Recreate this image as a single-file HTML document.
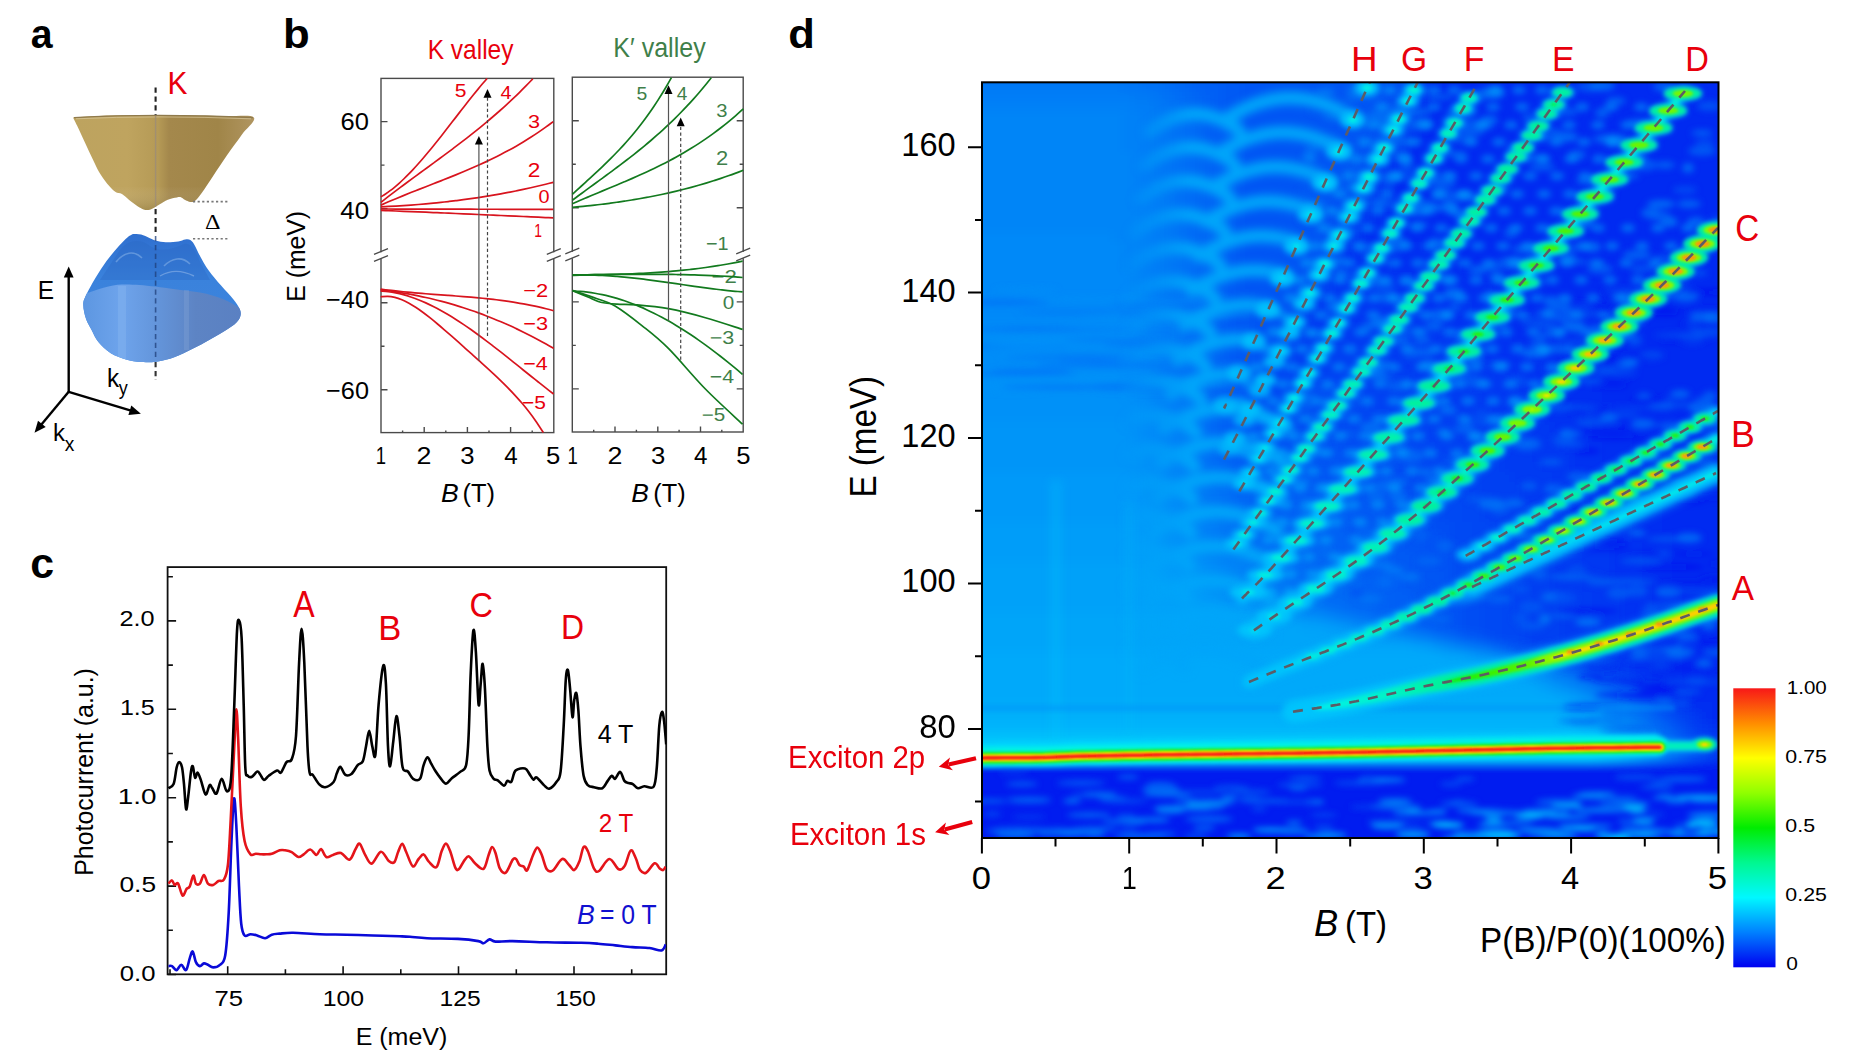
<!DOCTYPE html>
<html><head><meta charset="utf-8"><style>
html,body{margin:0;padding:0;background:#fff;}
svg{display:block;}
</style></head><body>
<svg width="1861" height="1052" viewBox="0 0 1861 1052">
<rect width="1861" height="1052" fill="#fff"/>
<text transform="translate(30.72,48.00) scale(0.9546,1)" font-family="'Liberation Sans', sans-serif" font-size="41.12" fill="#000" font-weight="bold" >a</text>
<text transform="translate(283.06,48.00) scale(1.0576,1)" font-family="'Liberation Sans', sans-serif" font-size="41.38" fill="#000" font-weight="bold" >b</text>
<text transform="translate(30.19,577.80) scale(1.0151,1)" font-family="'Liberation Sans', sans-serif" font-size="42.23" fill="#000" font-weight="bold" >c</text>
<text transform="translate(788.26,47.80) scale(1.0599,1)" font-family="'Liberation Sans', sans-serif" font-size="41.10" fill="#000" font-weight="bold" >d</text>
<text transform="translate(427.68,59.00) scale(0.9112,1)" font-family="'Liberation Sans', sans-serif" font-size="26.91" fill="#e8000c" >K valley</text>
<text transform="translate(613.33,56.60) scale(0.9259,1)" font-family="'Liberation Sans', sans-serif" font-size="27.05" fill="#3f7f4a" >K′ valley</text>
<text transform="translate(340.62,129.90) scale(1.0291,1)" font-family="'Liberation Sans', sans-serif" font-size="24.80" fill="#000" >60</text>
<text transform="translate(340.32,218.60) scale(1.0444,1)" font-family="'Liberation Sans', sans-serif" font-size="24.80" fill="#000" >40</text>
<text transform="translate(326.03,307.70) scale(1.0208,1)" font-family="'Liberation Sans', sans-serif" font-size="24.80" fill="#000" >−40</text>
<text transform="translate(326.03,398.70) scale(1.0208,1)" font-family="'Liberation Sans', sans-serif" font-size="24.80" fill="#000" >−60</text>
<text transform="translate(305.10,301.75) rotate(-90) scale(0.9576,1)" font-family="'Liberation Sans', sans-serif" font-size="25.89" fill="#000" >E (meV)</text>
<text transform="translate(375.71,463.80) scale(0.7772,1)" font-family="'Liberation Sans', sans-serif" font-size="23.80" fill="#000" >1</text>
<text transform="translate(416.56,463.80) scale(1.1266,1)" font-family="'Liberation Sans', sans-serif" font-size="23.80" fill="#000" >2</text>
<text transform="translate(460.24,463.80) scale(1.0792,1)" font-family="'Liberation Sans', sans-serif" font-size="23.80" fill="#000" >3</text>
<text transform="translate(504.16,463.80) scale(1.0151,1)" font-family="'Liberation Sans', sans-serif" font-size="23.80" fill="#000" >4</text>
<text transform="translate(546.07,463.80) scale(1.0792,1)" font-family="'Liberation Sans', sans-serif" font-size="23.80" fill="#000" >5</text>
<text transform="translate(567.61,463.80) scale(0.7772,1)" font-family="'Liberation Sans', sans-serif" font-size="23.80" fill="#000" >1</text>
<text transform="translate(607.56,463.80) scale(1.1266,1)" font-family="'Liberation Sans', sans-serif" font-size="23.80" fill="#000" >2</text>
<text transform="translate(650.94,463.80) scale(1.0792,1)" font-family="'Liberation Sans', sans-serif" font-size="23.80" fill="#000" >3</text>
<text transform="translate(694.06,463.80) scale(1.0151,1)" font-family="'Liberation Sans', sans-serif" font-size="23.80" fill="#000" >4</text>
<text transform="translate(736.37,463.80) scale(1.0792,1)" font-family="'Liberation Sans', sans-serif" font-size="23.80" fill="#000" >5</text>
<text transform="translate(441.10,502.20) scale(1.0143,1)" font-family="'Liberation Sans', sans-serif" font-size="26.18" fill="#000" font-style="italic" >B</text>
<text transform="translate(462.51,502.20) scale(0.9831,1)" font-family="'Liberation Sans', sans-serif" font-size="25.89" fill="#000" >(T)</text>
<text transform="translate(631.21,502.20) scale(1.0080,1)" font-family="'Liberation Sans', sans-serif" font-size="26.18" fill="#000" font-style="italic" >B</text>
<text transform="translate(653.31,502.20) scale(0.9798,1)" font-family="'Liberation Sans', sans-serif" font-size="25.89" fill="#000" >(T)</text>
<text transform="translate(454.86,96.70) scale(1.1383,1)" font-family="'Liberation Sans', sans-serif" font-size="18.49" fill="#e8000c" >5</text>
<text transform="translate(500.55,98.60) scale(1.0385,1)" font-family="'Liberation Sans', sans-serif" font-size="19.07" fill="#e8000c" >4</text>
<text transform="translate(528.09,127.90) scale(1.1287,1)" font-family="'Liberation Sans', sans-serif" font-size="19.21" fill="#e8000c" >3</text>
<text transform="translate(527.77,177.40) scale(1.1525,1)" font-family="'Liberation Sans', sans-serif" font-size="19.64" fill="#e8000c" >2</text>
<text transform="translate(538.40,203.40) scale(1.1013,1)" font-family="'Liberation Sans', sans-serif" font-size="18.06" fill="#e8000c" >0</text>
<text transform="translate(534.16,236.60) scale(0.7221,1)" font-family="'Liberation Sans', sans-serif" font-size="19.21" fill="#e8000c" >1</text>
<text transform="translate(523.20,296.70) scale(1.1497,1)" font-family="'Liberation Sans', sans-serif" font-size="19.07" fill="#e8000c" >−2</text>
<text transform="translate(523.21,329.60) scale(1.1678,1)" font-family="'Liberation Sans', sans-serif" font-size="18.64" fill="#e8000c" >−3</text>
<text transform="translate(523.23,369.50) scale(1.1426,1)" font-family="'Liberation Sans', sans-serif" font-size="18.78" fill="#e8000c" >−4</text>
<text transform="translate(521.95,408.60) scale(1.1242,1)" font-family="'Liberation Sans', sans-serif" font-size="18.64" fill="#e8000c" >−5</text>
<text transform="translate(636.43,99.70) scale(1.0313,1)" font-family="'Liberation Sans', sans-serif" font-size="18.78" fill="#3f7f4a" >5</text>
<text transform="translate(676.67,99.70) scale(1.0122,1)" font-family="'Liberation Sans', sans-serif" font-size="18.78" fill="#3f7f4a" >4</text>
<text transform="translate(716.24,116.80) scale(1.1013,1)" font-family="'Liberation Sans', sans-serif" font-size="18.35" fill="#3f7f4a" >3</text>
<text transform="translate(715.90,165.30) scale(1.1272,1)" font-family="'Liberation Sans', sans-serif" font-size="19.50" fill="#3f7f4a" >2</text>
<text transform="translate(706.01,250.40) scale(1.0492,1)" font-family="'Liberation Sans', sans-serif" font-size="18.92" fill="#3f7f4a" >−1</text>
<text transform="translate(711.49,283.40) scale(1.1737,1)" font-family="'Liberation Sans', sans-serif" font-size="18.92" fill="#3f7f4a" >−2</text>
<text transform="translate(722.67,308.70) scale(1.1387,1)" font-family="'Liberation Sans', sans-serif" font-size="18.21" fill="#3f7f4a" >0</text>
<text transform="translate(709.72,344.20) scale(1.1943,1)" font-family="'Liberation Sans', sans-serif" font-size="18.06" fill="#3f7f4a" >−3</text>
<text transform="translate(709.74,382.70) scale(1.1682,1)" font-family="'Liberation Sans', sans-serif" font-size="18.21" fill="#3f7f4a" >−4</text>
<text transform="translate(701.67,420.80) scale(1.1440,1)" font-family="'Liberation Sans', sans-serif" font-size="18.06" fill="#3f7f4a" >−5</text>
<rect x="381.0" y="78.4" width="172.80" height="354.20" fill="none" stroke="#4a4a4a" stroke-width="1.4"/>
<rect x="572.3" y="77.2" width="170.90" height="354.80" fill="none" stroke="#4a4a4a" stroke-width="1.4"/>
<path d="M381.0 121.6h6.5 M572.3 120.8h6.5 M743.2 120.8h-6.5 M381.0 165.1h3.5 M572.3 164.3h3.5 M743.2 164.3h-3.5 M381.0 208.6h6.5 M572.3 207.8h6.5 M743.2 207.8h-6.5 M381.0 302.7h6.5 M572.3 301.9h6.5 M743.2 301.9h-6.5 M381.0 346.2h3.5 M572.3 345.4h3.5 M743.2 345.4h-3.5 M381.0 389.7h6.5 M572.3 388.9h6.5 M743.2 388.9h-6.5 M402.6 432.6v-2.2 M593.7 432.0v-2.2 M424.2 432.6v-5.6 M615.0 432.0v-5.6 M445.8 432.6v-2.2 M636.4 432.0v-2.2 M467.4 432.6v-5.6 M657.8 432.0v-5.6 M489.0 432.6v-2.2 M679.1 432.0v-2.2 M510.6 432.6v-5.6 M700.5 432.0v-5.6 M532.2 432.6v-2.2 M721.8 432.0v-2.2" stroke="#4a4a4a" stroke-width="1.4" fill="none" />
<rect x="379.0" y="252.3" width="4" height="6.4" fill="#fff"/>
<path d="M374.0 254.3 L388.0 248.7 M374.0 261.3 L388.0 255.7" stroke="#4a4a4a" stroke-width="1.3" fill="none" />
<rect x="551.8" y="252.3" width="4" height="6.4" fill="#fff"/>
<path d="M546.8 254.3 L560.8 248.7 M546.8 261.3 L560.8 255.7" stroke="#4a4a4a" stroke-width="1.3" fill="none" />
<rect x="570.3" y="251.8" width="4" height="6.4" fill="#fff"/>
<path d="M565.3 253.8 L579.3 248.2 M565.3 260.8 L579.3 255.2" stroke="#4a4a4a" stroke-width="1.3" fill="none" />
<rect x="741.2" y="251.8" width="4" height="6.4" fill="#fff"/>
<path d="M736.2 253.8 L750.2 248.2 M736.2 260.8 L750.2 255.2" stroke="#4a4a4a" stroke-width="1.3" fill="none" />
<path d="M380.90 196.86 C381.67 196.38 383.98 195.00 385.52 193.97 C387.06 192.94 388.60 191.84 390.13 190.68 C391.67 189.53 393.21 188.31 394.75 187.04 C396.29 185.77 397.83 184.43 399.37 183.05 C400.91 181.68 402.45 180.24 403.99 178.76 C405.53 177.28 407.07 175.76 408.60 174.19 C410.14 172.62 411.68 171.00 413.22 169.35 C414.76 167.71 416.30 166.01 417.84 164.29 C419.38 162.57 420.92 160.81 422.46 159.02 C424.00 157.24 425.53 155.42 427.07 153.57 C428.61 151.73 430.15 149.86 431.69 147.97 C433.23 146.09 434.77 144.17 436.31 142.25 C437.85 140.32 439.39 138.38 440.93 136.42 C442.47 134.47 444.00 132.50 445.54 130.52 C447.08 128.55 448.62 126.56 450.16 124.57 C451.70 122.59 453.24 120.59 454.78 118.61 C456.32 116.62 457.86 114.63 459.40 112.64 C460.93 110.66 462.47 108.68 464.01 106.71 C465.55 104.74 467.09 102.78 468.63 100.84 C470.17 98.89 471.71 96.96 473.25 95.04 C474.79 93.13 476.33 91.23 477.87 89.36 C479.40 87.49 480.94 85.64 482.48 83.82 C484.02 82.00 486.33 79.33 487.10 78.44" stroke="#d8141e" stroke-width="1.7" fill="none" />
<path d="M380.90 202.31 C382.00 201.45 385.30 198.87 387.50 197.17 C389.71 195.48 391.91 193.80 394.11 192.13 C396.31 190.46 398.51 188.81 400.71 187.16 C402.91 185.52 405.12 183.88 407.32 182.26 C409.52 180.63 411.72 179.01 413.92 177.39 C416.12 175.77 418.32 174.16 420.53 172.55 C422.73 170.94 424.93 169.33 427.13 167.72 C429.33 166.11 431.53 164.50 433.73 162.89 C435.94 161.27 438.14 159.65 440.34 158.03 C442.54 156.40 444.74 154.78 446.94 153.14 C449.14 151.50 451.35 149.85 453.55 148.19 C455.75 146.53 457.95 144.86 460.15 143.17 C462.35 141.49 464.56 139.79 466.76 138.07 C468.96 136.36 471.16 134.63 473.36 132.87 C475.56 131.12 477.76 129.35 479.97 127.55 C482.17 125.76 484.37 123.94 486.57 122.10 C488.77 120.26 490.97 118.40 493.17 116.50 C495.38 114.61 497.58 112.69 499.78 110.74 C501.98 108.79 504.18 106.81 506.38 104.79 C508.58 102.78 510.79 100.73 512.99 98.65 C515.19 96.57 517.39 94.45 519.59 92.29 C521.79 90.14 523.99 87.94 526.20 85.71 C528.40 83.47 531.70 80.02 532.80 78.88" stroke="#d8141e" stroke-width="1.7" fill="none" />
<path d="M380.90 205.11 C382.15 204.56 385.89 202.91 388.39 201.83 C390.89 200.76 393.39 199.70 395.88 198.66 C398.38 197.62 400.88 196.60 403.37 195.59 C405.87 194.57 408.37 193.57 410.87 192.58 C413.36 191.59 415.86 190.60 418.36 189.62 C420.85 188.64 423.35 187.67 425.85 186.69 C428.34 185.72 430.84 184.75 433.34 183.77 C435.84 182.80 438.33 181.82 440.83 180.84 C443.33 179.86 445.82 178.88 448.32 177.88 C450.82 176.88 453.32 175.88 455.81 174.86 C458.31 173.85 460.81 172.82 463.30 171.77 C465.80 170.73 468.30 169.67 470.80 168.59 C473.29 167.51 475.79 166.42 478.29 165.30 C480.78 164.18 483.28 163.04 485.78 161.87 C488.28 160.70 490.77 159.51 493.27 158.28 C495.77 157.06 498.26 155.81 500.76 154.53 C503.26 153.24 505.76 151.93 508.25 150.57 C510.75 149.22 513.25 147.83 515.74 146.40 C518.24 144.97 520.74 143.51 523.23 142.00 C525.73 140.49 528.23 138.93 530.73 137.33 C533.22 135.73 535.72 134.09 538.22 132.40 C540.71 130.70 543.21 128.96 545.71 127.16 C548.21 125.36 551.95 122.53 553.20 121.61" stroke="#d8141e" stroke-width="1.7" fill="none" />
<path d="M380.90 206.81 C382.15 206.75 385.89 206.58 388.39 206.45 C390.89 206.32 393.39 206.18 395.88 206.04 C398.38 205.89 400.88 205.74 403.37 205.58 C405.87 205.41 408.37 205.24 410.87 205.06 C413.36 204.87 415.86 204.68 418.36 204.48 C420.85 204.28 423.35 204.06 425.85 203.84 C428.34 203.62 430.84 203.39 433.34 203.14 C435.84 202.90 438.33 202.65 440.83 202.38 C443.33 202.12 445.82 201.84 448.32 201.56 C450.82 201.27 453.32 200.97 455.81 200.67 C458.31 200.36 460.81 200.04 463.30 199.71 C465.80 199.38 468.30 199.03 470.80 198.68 C473.29 198.32 475.79 197.96 478.29 197.58 C480.78 197.20 483.28 196.81 485.78 196.41 C488.28 196.00 490.77 195.59 493.27 195.16 C495.77 194.73 498.26 194.29 500.76 193.84 C503.26 193.39 505.76 192.92 508.25 192.44 C510.75 191.96 513.25 191.47 515.74 190.96 C518.24 190.45 520.74 189.93 523.23 189.40 C525.73 188.87 528.23 188.32 530.73 187.76 C533.22 187.19 535.72 186.62 538.22 186.03 C540.71 185.44 543.21 184.83 545.71 184.22 C548.21 183.60 551.95 182.63 553.20 182.31" stroke="#d8141e" stroke-width="1.7" fill="none" />
<path d="M380.90 209.00 C382.15 209.00 385.89 209.01 388.39 209.02 C390.89 209.02 393.39 209.03 395.88 209.03 C398.38 209.04 400.88 209.05 403.37 209.05 C405.87 209.06 408.37 209.06 410.87 209.07 C413.36 209.08 415.86 209.08 418.36 209.09 C420.85 209.09 423.35 209.10 425.85 209.10 C428.34 209.11 430.84 209.12 433.34 209.12 C435.84 209.13 438.33 209.13 440.83 209.14 C443.33 209.14 445.82 209.15 448.32 209.16 C450.82 209.16 453.32 209.17 455.81 209.17 C458.31 209.18 460.81 209.19 463.30 209.19 C465.80 209.20 468.30 209.20 470.80 209.21 C473.29 209.21 475.79 209.22 478.29 209.23 C480.78 209.23 483.28 209.24 485.78 209.24 C488.28 209.25 490.77 209.26 493.27 209.26 C495.77 209.27 498.26 209.27 500.76 209.28 C503.26 209.28 505.76 209.29 508.25 209.30 C510.75 209.30 513.25 209.31 515.74 209.31 C518.24 209.32 520.74 209.32 523.23 209.33 C525.73 209.34 528.23 209.34 530.73 209.35 C533.22 209.35 535.72 209.36 538.22 209.37 C540.71 209.37 543.21 209.38 545.71 209.38 C548.21 209.39 551.95 209.40 553.20 209.40" stroke="#d8141e" stroke-width="1.7" fill="none" />
<path d="M380.90 210.40 C382.15 210.45 385.89 210.59 388.39 210.69 C390.89 210.79 393.39 210.89 395.88 210.99 C398.38 211.09 400.88 211.19 403.37 211.29 C405.87 211.39 408.37 211.49 410.87 211.59 C413.36 211.69 415.86 211.80 418.36 211.90 C420.85 212.00 423.35 212.11 425.85 212.21 C428.34 212.31 430.84 212.42 433.34 212.53 C435.84 212.63 438.33 212.74 440.83 212.84 C443.33 212.95 445.82 213.06 448.32 213.17 C450.82 213.27 453.32 213.38 455.81 213.49 C458.31 213.60 460.81 213.71 463.30 213.82 C465.80 213.93 468.30 214.04 470.80 214.15 C473.29 214.26 475.79 214.37 478.29 214.48 C480.78 214.59 483.28 214.70 485.78 214.82 C488.28 214.93 490.77 215.04 493.27 215.15 C495.77 215.27 498.26 215.38 500.76 215.49 C503.26 215.60 505.76 215.72 508.25 215.83 C510.75 215.95 513.25 216.06 515.74 216.17 C518.24 216.29 520.74 216.40 523.23 216.52 C525.73 216.63 528.23 216.75 530.73 216.86 C533.22 216.98 535.72 217.09 538.22 217.21 C540.71 217.32 543.21 217.44 545.71 217.55 C548.21 217.67 551.95 217.84 553.20 217.90" stroke="#d8141e" stroke-width="1.7" fill="none" />
<path d="M380.70 289.10 C381.95 289.26 385.71 289.77 388.22 290.08 C390.72 290.39 393.23 290.68 395.73 290.96 C398.24 291.24 400.75 291.50 403.25 291.75 C405.76 292.00 408.26 292.24 410.77 292.47 C413.28 292.69 415.78 292.91 418.29 293.12 C420.79 293.33 423.30 293.53 425.80 293.73 C428.31 293.92 430.82 294.11 433.32 294.30 C435.83 294.49 438.33 294.67 440.84 294.86 C443.34 295.04 445.85 295.23 448.36 295.41 C450.86 295.60 453.37 295.78 455.87 295.98 C458.38 296.17 460.89 296.36 463.39 296.56 C465.90 296.77 468.40 296.97 470.91 297.19 C473.41 297.41 475.92 297.63 478.43 297.87 C480.93 298.11 483.44 298.35 485.94 298.61 C488.45 298.88 490.96 299.15 493.46 299.44 C495.97 299.73 498.47 300.04 500.98 300.37 C503.48 300.69 505.99 301.03 508.50 301.40 C511.00 301.76 513.51 302.15 516.01 302.55 C518.52 302.96 521.02 303.39 523.53 303.85 C526.04 304.31 528.54 304.79 531.05 305.30 C533.55 305.81 536.06 306.34 538.57 306.91 C541.07 307.48 543.58 308.07 546.08 308.71 C548.59 309.34 552.35 310.36 553.60 310.70" stroke="#d8141e" stroke-width="1.7" fill="none" />
<path d="M380.70 289.81 C381.95 289.97 385.71 290.42 388.22 290.76 C390.72 291.09 393.23 291.45 395.73 291.83 C398.24 292.21 400.75 292.61 403.25 293.04 C405.76 293.46 408.26 293.91 410.77 294.38 C413.28 294.85 415.78 295.34 418.29 295.86 C420.79 296.38 423.30 296.91 425.80 297.48 C428.31 298.04 430.82 298.63 433.32 299.24 C435.83 299.85 438.33 300.48 440.84 301.14 C443.34 301.80 445.85 302.48 448.36 303.19 C450.86 303.90 453.37 304.63 455.87 305.38 C458.38 306.14 460.89 306.92 463.39 307.73 C465.90 308.54 468.40 309.37 470.91 310.23 C473.41 311.09 475.92 311.97 478.43 312.88 C480.93 313.80 483.44 314.73 485.94 315.70 C488.45 316.66 490.96 317.65 493.46 318.67 C495.97 319.68 498.47 320.73 500.98 321.80 C503.48 322.87 505.99 323.97 508.50 325.09 C511.00 326.22 513.51 327.37 516.01 328.55 C518.52 329.74 521.02 330.95 523.53 332.18 C526.04 333.42 528.54 334.69 531.05 335.98 C533.55 337.28 536.06 338.60 538.57 339.96 C541.07 341.31 543.58 342.69 546.08 344.10 C548.59 345.51 552.35 347.71 553.60 348.43" stroke="#d8141e" stroke-width="1.7" fill="none" />
<path d="M380.70 291.09 C381.95 291.19 385.71 291.42 388.22 291.72 C390.72 292.03 393.23 292.44 395.73 292.94 C398.24 293.43 400.75 294.02 403.25 294.69 C405.76 295.36 408.26 296.12 410.77 296.96 C413.28 297.79 415.78 298.71 418.29 299.70 C420.79 300.69 423.30 301.76 425.80 302.89 C428.31 304.02 430.82 305.23 433.32 306.49 C435.83 307.75 438.33 309.09 440.84 310.47 C443.34 311.86 445.85 313.31 448.36 314.81 C450.86 316.30 453.37 317.86 455.87 319.46 C458.38 321.05 460.89 322.70 463.39 324.39 C465.90 326.08 468.40 327.81 470.91 329.57 C473.41 331.34 475.92 333.15 478.43 334.98 C480.93 336.81 483.44 338.68 485.94 340.57 C488.45 342.46 490.96 344.39 493.46 346.32 C495.97 348.26 498.47 350.22 500.98 352.19 C503.48 354.17 505.99 356.16 508.50 358.16 C511.00 360.15 513.51 362.17 516.01 364.18 C518.52 366.19 521.02 368.21 523.53 370.22 C526.04 372.24 528.54 374.26 531.05 376.27 C533.55 378.27 536.06 380.28 538.57 382.27 C541.07 384.26 543.58 386.24 546.08 388.20 C548.59 390.16 552.35 393.06 553.60 394.03" stroke="#d8141e" stroke-width="1.7" fill="none" />
<path d="M380.70 296.73 C381.88 296.66 385.41 296.18 387.77 296.29 C390.13 296.40 392.48 296.82 394.84 297.40 C397.20 297.98 399.55 298.82 401.91 299.80 C404.27 300.77 406.62 301.96 408.98 303.25 C411.33 304.54 413.69 306.00 416.05 307.54 C418.40 309.08 420.76 310.76 423.12 312.49 C425.47 314.22 427.83 316.06 430.19 317.93 C432.54 319.81 434.90 321.76 437.26 323.73 C439.61 325.70 441.97 327.73 444.33 329.77 C446.68 331.81 449.04 333.88 451.40 335.96 C453.75 338.03 456.11 340.13 458.47 342.23 C460.82 344.32 463.18 346.43 465.53 348.54 C467.89 350.64 470.25 352.75 472.60 354.87 C474.96 356.98 477.32 359.10 479.67 361.23 C482.03 363.36 484.39 365.48 486.74 367.64 C489.10 369.80 491.46 371.96 493.81 374.17 C496.17 376.37 498.53 378.60 500.88 380.88 C503.24 383.17 505.60 385.48 507.95 387.89 C510.31 390.29 512.67 392.74 515.02 395.31 C517.38 397.88 519.73 400.51 522.09 403.30 C524.45 406.09 526.80 408.96 529.16 412.03 C531.52 415.10 533.87 418.28 536.23 421.70 C538.59 425.11 542.12 430.72 543.30 432.53" stroke="#d8141e" stroke-width="1.7" fill="none" />
<path d="M572.30 194.49 C573.02 193.82 575.17 191.81 576.61 190.48 C578.04 189.15 579.48 187.82 580.92 186.50 C582.35 185.18 583.79 183.86 585.23 182.54 C586.66 181.22 588.10 179.91 589.53 178.59 C590.97 177.26 592.41 175.94 593.84 174.61 C595.28 173.28 596.72 171.94 598.15 170.59 C599.59 169.24 601.02 167.89 602.46 166.52 C603.90 165.15 605.33 163.76 606.77 162.36 C608.21 160.96 609.64 159.55 611.08 158.11 C612.51 156.68 613.95 155.23 615.39 153.75 C616.82 152.27 618.26 150.77 619.70 149.25 C621.13 147.72 622.57 146.17 624.00 144.59 C625.44 143.01 626.88 141.40 628.31 139.76 C629.75 138.12 631.19 136.44 632.62 134.73 C634.06 133.02 635.49 131.28 636.93 129.49 C638.37 127.71 639.80 125.89 641.24 124.02 C642.68 122.16 644.11 120.25 645.55 118.30 C646.98 116.35 648.42 114.35 649.86 112.30 C651.29 110.26 652.73 108.17 654.17 106.02 C655.60 103.87 657.04 101.68 658.47 99.42 C659.91 97.17 661.35 94.86 662.78 92.50 C664.22 90.13 665.66 87.71 667.09 85.22 C668.53 82.74 670.68 78.85 671.40 77.58" stroke="#127a1e" stroke-width="1.7" fill="none" />
<path d="M572.30 200.28 C573.31 199.53 576.33 197.28 578.34 195.79 C580.36 194.30 582.37 192.82 584.39 191.34 C586.40 189.86 588.42 188.39 590.43 186.92 C592.44 185.45 594.46 183.99 596.47 182.52 C598.49 181.05 600.50 179.58 602.52 178.10 C604.53 176.63 606.55 175.15 608.56 173.67 C610.58 172.18 612.59 170.69 614.60 169.19 C616.62 167.68 618.63 166.17 620.65 164.65 C622.66 163.12 624.68 161.59 626.69 160.04 C628.71 158.48 630.72 156.92 632.73 155.33 C634.75 153.74 636.76 152.14 638.78 150.51 C640.79 148.89 642.81 147.24 644.82 145.57 C646.84 143.90 648.85 142.20 650.87 140.48 C652.88 138.75 654.89 137.01 656.91 135.23 C658.92 133.44 660.94 131.64 662.95 129.79 C664.97 127.95 666.98 126.07 669.00 124.16 C671.01 122.25 673.02 120.30 675.04 118.31 C677.05 116.33 679.07 114.30 681.08 112.24 C683.10 110.17 685.11 108.06 687.13 105.91 C689.14 103.75 691.16 101.56 693.17 99.31 C695.18 97.07 697.20 94.78 699.21 92.43 C701.23 90.09 703.24 87.70 705.26 85.25 C707.27 82.80 710.29 79.00 711.30 77.75" stroke="#127a1e" stroke-width="1.7" fill="none" />
<path d="M572.30 203.77 C573.54 203.23 577.25 201.60 579.73 200.53 C582.21 199.46 584.68 198.40 587.16 197.35 C589.64 196.31 592.11 195.27 594.59 194.23 C597.07 193.20 599.54 192.17 602.02 191.14 C604.50 190.11 606.98 189.08 609.45 188.05 C611.93 187.02 614.41 185.99 616.88 184.95 C619.36 183.91 621.84 182.86 624.31 181.81 C626.79 180.75 629.27 179.69 631.74 178.61 C634.22 177.53 636.70 176.44 639.17 175.33 C641.65 174.22 644.13 173.10 646.60 171.95 C649.08 170.80 651.56 169.64 654.03 168.44 C656.51 167.25 658.99 166.04 661.47 164.79 C663.94 163.55 666.42 162.28 668.90 160.98 C671.37 159.67 673.85 158.34 676.33 156.97 C678.80 155.60 681.28 154.20 683.76 152.76 C686.23 151.31 688.71 149.83 691.19 148.31 C693.66 146.78 696.14 145.22 698.62 143.61 C701.09 141.99 703.57 140.34 706.05 138.63 C708.52 136.92 711.00 135.17 713.48 133.36 C715.96 131.54 718.43 129.68 720.91 127.76 C723.39 125.84 725.86 123.87 728.34 121.83 C730.82 119.79 733.29 117.70 735.77 115.53 C738.25 113.37 741.96 109.97 743.20 108.85" stroke="#127a1e" stroke-width="1.7" fill="none" />
<path d="M572.30 207.40 C573.54 207.28 577.25 206.94 579.73 206.69 C582.21 206.45 584.68 206.19 587.16 205.93 C589.64 205.67 592.11 205.40 594.59 205.11 C597.07 204.83 599.54 204.54 602.02 204.23 C604.50 203.93 606.98 203.61 609.45 203.29 C611.93 202.96 614.41 202.62 616.88 202.27 C619.36 201.92 621.84 201.56 624.31 201.18 C626.79 200.80 629.27 200.41 631.74 200.01 C634.22 199.61 636.70 199.19 639.17 198.76 C641.65 198.32 644.13 197.88 646.60 197.42 C649.08 196.96 651.56 196.48 654.03 195.99 C656.51 195.50 658.99 194.99 661.47 194.46 C663.94 193.94 666.42 193.40 668.90 192.84 C671.37 192.28 673.85 191.71 676.33 191.12 C678.80 190.52 681.28 189.91 683.76 189.28 C686.23 188.65 688.71 188.01 691.19 187.34 C693.66 186.67 696.14 185.99 698.62 185.28 C701.09 184.58 703.57 183.85 706.05 183.11 C708.52 182.36 711.00 181.59 713.48 180.81 C715.96 180.02 718.43 179.21 720.91 178.38 C723.39 177.55 725.86 176.70 728.34 175.82 C730.82 174.95 733.29 174.05 735.77 173.13 C738.25 172.21 741.96 170.77 743.20 170.30" stroke="#127a1e" stroke-width="1.7" fill="none" />
<path d="M572.70 274.85 C573.93 274.85 577.62 274.84 580.09 274.82 C582.55 274.81 585.01 274.79 587.47 274.77 C589.94 274.74 592.40 274.72 594.86 274.68 C597.32 274.65 599.79 274.62 602.25 274.57 C604.71 274.53 607.17 274.49 609.63 274.43 C612.10 274.38 614.56 274.32 617.02 274.25 C619.48 274.18 621.95 274.11 624.41 274.02 C626.87 273.94 629.33 273.85 631.80 273.75 C634.26 273.65 636.72 273.55 639.18 273.43 C641.64 273.31 644.11 273.19 646.57 273.05 C649.03 272.91 651.49 272.77 653.96 272.61 C656.42 272.46 658.88 272.29 661.34 272.11 C663.81 271.93 666.27 271.74 668.73 271.54 C671.19 271.34 673.66 271.12 676.12 270.89 C678.58 270.67 681.04 270.43 683.50 270.17 C685.97 269.92 688.43 269.65 690.89 269.37 C693.35 269.09 695.82 268.79 698.28 268.48 C700.74 268.17 703.20 267.85 705.67 267.50 C708.13 267.16 710.59 266.80 713.05 266.43 C715.51 266.06 717.98 265.67 720.44 265.26 C722.90 264.85 725.36 264.43 727.83 263.98 C730.29 263.54 732.75 263.08 735.21 262.60 C737.68 262.12 741.37 261.36 742.60 261.11" stroke="#127a1e" stroke-width="1.7" fill="none" />
<path d="M572.70 274.94 C573.93 274.93 577.62 274.89 580.09 274.87 C582.55 274.84 585.01 274.81 587.47 274.78 C589.94 274.76 592.40 274.73 594.86 274.70 C597.32 274.67 599.79 274.64 602.25 274.61 C604.71 274.59 607.17 274.56 609.63 274.53 C612.10 274.50 614.56 274.48 617.02 274.46 C619.48 274.43 621.95 274.41 624.41 274.39 C626.87 274.37 629.33 274.35 631.80 274.34 C634.26 274.32 636.72 274.31 639.18 274.30 C641.64 274.29 644.11 274.29 646.57 274.29 C649.03 274.29 651.49 274.29 653.96 274.30 C656.42 274.30 658.88 274.31 661.34 274.33 C663.81 274.35 666.27 274.37 668.73 274.40 C671.19 274.42 673.66 274.46 676.12 274.50 C678.58 274.54 681.04 274.58 683.50 274.63 C685.97 274.69 688.43 274.74 690.89 274.81 C693.35 274.88 695.82 274.95 698.28 275.03 C700.74 275.12 703.20 275.20 705.67 275.30 C708.13 275.40 710.59 275.51 713.05 275.62 C715.51 275.74 717.98 275.86 720.44 276.00 C722.90 276.13 725.36 276.28 727.83 276.43 C730.29 276.58 732.75 276.75 735.21 276.92 C737.68 277.10 741.37 277.39 742.60 277.48" stroke="#127a1e" stroke-width="1.7" fill="none" />
<path d="M572.70 275.31 C573.93 275.27 577.62 275.13 580.09 275.09 C582.55 275.05 585.01 275.04 587.47 275.05 C589.94 275.07 592.40 275.11 594.86 275.18 C597.32 275.25 599.79 275.34 602.25 275.46 C604.71 275.58 607.17 275.72 609.63 275.88 C612.10 276.04 614.56 276.22 617.02 276.42 C619.48 276.62 621.95 276.84 624.41 277.08 C626.87 277.31 629.33 277.57 631.80 277.83 C634.26 278.10 636.72 278.38 639.18 278.68 C641.64 278.97 644.11 279.27 646.57 279.59 C649.03 279.90 651.49 280.23 653.96 280.56 C656.42 280.89 658.88 281.23 661.34 281.58 C663.81 281.92 666.27 282.27 668.73 282.62 C671.19 282.98 673.66 283.33 676.12 283.69 C678.58 284.05 681.04 284.41 683.50 284.76 C685.97 285.12 688.43 285.48 690.89 285.83 C693.35 286.18 695.82 286.53 698.28 286.87 C700.74 287.21 703.20 287.55 705.67 287.88 C708.13 288.20 710.59 288.52 713.05 288.83 C715.51 289.14 717.98 289.44 720.44 289.73 C722.90 290.02 725.36 290.29 727.83 290.55 C730.29 290.81 732.75 291.06 735.21 291.29 C737.68 291.51 741.37 291.81 742.60 291.92" stroke="#127a1e" stroke-width="1.7" fill="none" />
<path d="M572.70 290.60 C575.25 291.67 583.33 295.07 588.00 297.00 C592.67 298.93 595.88 301.00 600.70 302.20 C605.52 303.40 610.88 303.77 616.90 304.20 C622.92 304.63 628.22 304.05 636.80 304.80 C645.38 305.55 656.97 306.55 668.40 308.70 C679.83 310.85 693.03 314.25 705.40 317.70 C717.77 321.15 736.40 327.45 742.60 329.40" stroke="#127a1e" stroke-width="1.7" fill="none" />
<path d="M572.70 291.13 C573.93 291.19 577.62 291.30 580.09 291.47 C582.55 291.65 585.01 291.89 587.47 292.18 C589.94 292.47 592.40 292.82 594.86 293.23 C597.32 293.64 599.79 294.10 602.25 294.62 C604.71 295.14 607.17 295.72 609.63 296.35 C612.10 296.98 614.56 297.66 617.02 298.40 C619.48 299.14 621.95 299.92 624.41 300.76 C626.87 301.60 629.33 302.50 631.80 303.43 C634.26 304.37 636.72 305.37 639.18 306.40 C641.64 307.44 644.11 308.53 646.57 309.66 C649.03 310.80 651.49 311.98 653.96 313.20 C656.42 314.43 658.88 315.70 661.34 317.01 C663.81 318.33 666.27 319.69 668.73 321.09 C671.19 322.49 673.66 323.93 676.12 325.42 C678.58 326.90 681.04 328.43 683.50 329.99 C685.97 331.56 688.43 333.17 690.89 334.81 C693.35 336.45 695.82 338.13 698.28 339.85 C700.74 341.57 703.20 343.33 705.67 345.12 C708.13 346.91 710.59 348.73 713.05 350.59 C715.51 352.45 717.98 354.35 720.44 356.27 C722.90 358.20 725.36 360.16 727.83 362.15 C730.29 364.14 732.75 366.16 735.21 368.21 C737.68 370.26 741.37 373.41 742.60 374.45" stroke="#127a1e" stroke-width="1.7" fill="none" />
<path d="M572.70 290.60 C576.77 291.95 590.03 296.13 597.10 298.70 C604.17 301.27 607.58 301.48 615.10 306.00 C622.62 310.52 633.32 318.73 642.20 325.80 C651.08 332.87 657.87 337.87 668.40 348.40 C678.93 358.93 693.03 376.37 705.40 389.00 C717.77 401.63 736.40 418.33 742.60 424.20" stroke="#127a1e" stroke-width="1.7" fill="none" />
<path d="M478.9 360.8 V143.5" stroke="#555" stroke-width="1.2" fill="none" />
<path d="M478.9 135.9 L482.9 144.5 L474.9 144.5 Z" fill="#000"/>
<path d="M487.5 336.0 V96.69999999999999" stroke="#444" stroke-width="1.2" fill="none"  stroke-dasharray="3.2 2.4"/>
<path d="M487.5 89.1 L491.5 97.69999999999999 L483.5 97.69999999999999 Z" fill="#000"/>
<path d="M668.5 320.8 V92.89999999999999" stroke="#555" stroke-width="1.2" fill="none" />
<path d="M668.5 85.3 L672.5 93.89999999999999 L664.5 93.89999999999999 Z" fill="#000"/>
<path d="M680.7 359.7 V125.19999999999999" stroke="#444" stroke-width="1.2" fill="none"  stroke-dasharray="3.2 2.4"/>
<path d="M680.7 117.6 L684.7 126.19999999999999 L676.7 126.19999999999999 Z" fill="#000"/>
<rect x="167.6" y="567.1" width="498.6" height="407.2" fill="none" stroke="#111" stroke-width="1.8"/>
<path d="M167.6 974.5h8.5 M167.6 930.3h5.3 M167.6 886.1h8.5 M167.6 841.9h5.3 M167.6 797.7h8.5 M167.6 753.5h5.3 M167.6 709.3h8.5 M167.6 665.1h5.3 M167.6 620.9h8.5 M167.6 576.7h5.3 M170.0 974.3v-5 M227.7 974.3v-8 M285.4 974.3v-5 M343.1 974.3v-8 M400.8 974.3v-5 M458.5 974.3v-8 M516.3 974.3v-5 M574.0 974.3v-8 M631.7 974.3v-5" stroke="#111" stroke-width="1.6" fill="none" />
<text transform="translate(119.54,626.40) scale(1.1081,1)" font-family="'Liberation Sans', sans-serif" font-size="22.80" fill="#000" >2.0</text>
<text transform="translate(119.92,714.60) scale(1.1332,1)" font-family="'Liberation Sans', sans-serif" font-size="22.08" fill="#000" >1.5</text>
<text transform="translate(117.71,804.40) scale(1.2148,1)" font-family="'Liberation Sans', sans-serif" font-size="22.94" fill="#000" >1.0</text>
<text transform="translate(119.45,892.40) scale(1.1481,1)" font-family="'Liberation Sans', sans-serif" font-size="22.94" fill="#000" >0.5</text>
<text transform="translate(119.77,980.50) scale(1.1782,1)" font-family="'Liberation Sans', sans-serif" font-size="21.79" fill="#000" >0.0</text>
<text transform="translate(214.42,1005.90) scale(1.1485,1)" font-family="'Liberation Sans', sans-serif" font-size="22.37" fill="#000" >75</text>
<text transform="translate(322.74,1005.90) scale(1.1099,1)" font-family="'Liberation Sans', sans-serif" font-size="22.37" fill="#000" >100</text>
<text transform="translate(439.55,1005.90) scale(1.1001,1)" font-family="'Liberation Sans', sans-serif" font-size="22.37" fill="#000" >125</text>
<text transform="translate(555.17,1005.90) scale(1.0898,1)" font-family="'Liberation Sans', sans-serif" font-size="22.37" fill="#000" >150</text>
<text transform="translate(355.64,1045.00) scale(1.0619,1)" font-family="'Liberation Sans', sans-serif" font-size="23.56" fill="#000" >E (meV)</text>
<text transform="translate(93.40,875.76) rotate(-90) scale(1.0023,1)" font-family="'Liberation Sans', sans-serif" font-size="24.87" fill="#000" >Photocurrent (a.u.)</text>
<text transform="translate(293.32,617.00) scale(0.8842,1)" font-family="'Liberation Sans', sans-serif" font-size="36.36" fill="#e8000c" >A</text>
<text transform="translate(378.25,639.80) scale(0.9657,1)" font-family="'Liberation Sans', sans-serif" font-size="35.78" fill="#e8000c" >B</text>
<text transform="translate(469.58,617.00) scale(0.9066,1)" font-family="'Liberation Sans', sans-serif" font-size="35.78" fill="#e8000c" >C</text>
<text transform="translate(561.07,639.00) scale(0.8915,1)" font-family="'Liberation Sans', sans-serif" font-size="35.78" fill="#e8000c" >D</text>
<text transform="translate(597.64,742.60) scale(0.9850,1)" font-family="'Liberation Sans', sans-serif" font-size="25.45" fill="#000" >4 T</text>
<text transform="translate(598.69,831.60) scale(0.9314,1)" font-family="'Liberation Sans', sans-serif" font-size="26.04" fill="#e8000c" >2 T</text>
<text transform="translate(577.10,923.80) scale(0.9772,1)" font-family="'Liberation Sans', sans-serif" font-size="27.35" fill="#1010d0" font-style="italic" >B</text>
<text transform="translate(599.92,923.80) scale(0.9054,1)" font-family="'Liberation Sans', sans-serif" font-size="27.35" fill="#1010d0" >= 0 T</text>
<clipPath id="clipc"><rect x="167.6" y="567.1" width="498.6" height="407.19999999999993"/></clipPath>
<path d="M168.50 966.10 C169.08 966.10 170.67 965.43 172.00 966.10 C173.33 966.77 174.95 970.32 176.50 970.10 C178.05 969.88 179.70 964.80 181.30 964.80 C182.90 964.80 184.68 971.22 186.10 970.10 C187.52 968.98 188.70 961.20 189.80 958.10 C190.90 955.00 191.68 950.83 192.70 951.50 C193.72 952.17 194.70 959.67 195.90 962.10 C197.10 964.53 198.57 965.88 199.90 966.10 C201.23 966.32 202.57 963.62 203.90 963.40 C205.23 963.18 206.35 964.13 207.90 964.80 C209.45 965.47 211.20 967.40 213.20 967.40 C215.20 967.40 217.90 966.78 219.90 964.80 C221.90 962.82 223.73 964.15 225.20 955.50 C226.67 946.85 227.65 931.98 228.70 912.90 C229.75 893.82 230.62 860.07 231.50 841.00 C232.38 821.93 233.20 801.15 234.00 798.50 C234.80 795.85 235.47 810.47 236.30 825.10 C237.13 839.73 238.18 869.90 239.00 886.30 C239.82 902.70 240.27 915.30 241.20 923.50 C242.13 931.70 243.05 933.72 244.60 935.50 C246.15 937.28 248.42 934.20 250.50 934.20 C252.58 934.20 254.67 934.83 257.10 935.50 C259.53 936.17 262.65 938.33 265.10 938.20 C267.55 938.07 269.37 935.47 271.80 934.70 C274.23 933.93 276.17 933.92 279.70 933.60 C283.23 933.28 286.33 932.70 293.00 932.80 C299.67 932.90 310.82 933.88 319.70 934.20 C328.58 934.52 337.43 934.48 346.30 934.70 C355.17 934.92 364.03 935.23 372.90 935.50 C381.77 935.77 393.32 936.08 399.50 936.30 C405.68 936.52 405.40 936.48 410.00 936.80 C414.60 937.12 419.12 937.85 427.10 938.20 C435.08 938.55 449.35 938.42 457.90 938.90 C466.45 939.38 474.12 940.37 478.40 941.10 C482.68 941.83 481.75 943.58 483.60 943.30 C485.45 943.02 487.52 939.68 489.50 939.40 C491.48 939.12 491.65 941.32 495.50 941.60 C499.35 941.88 504.05 940.98 512.60 941.10 C521.15 941.22 535.38 942.02 546.80 942.30 C558.22 942.58 572.53 942.57 581.10 942.80 C589.67 943.03 592.50 943.27 598.20 943.70 C603.90 944.13 609.60 944.83 615.30 945.40 C621.00 945.97 626.70 946.67 632.40 947.10 C638.10 947.53 644.65 947.43 649.50 948.00 C654.35 948.57 658.80 951.08 661.50 950.50 C664.20 949.92 665.00 945.50 665.70 944.50" stroke="#0a0ad8" stroke-width="2.6" fill="none" clip-path="url(#clipc)" stroke-linejoin="round"/>
<path d="M168.50 883.60 C169.08 883.07 170.98 880.18 172.00 880.40 C173.02 880.62 173.58 884.37 174.60 884.90 C175.62 885.43 176.77 881.82 178.10 883.60 C179.43 885.38 181.18 894.72 182.60 895.60 C184.02 896.48 185.40 890.45 186.60 888.90 C187.80 887.35 188.68 888.52 189.80 886.30 C190.92 884.08 192.28 876.05 193.30 875.60 C194.32 875.15 194.80 882.27 195.90 883.60 C197.00 884.93 198.57 885.02 199.90 883.60 C201.23 882.18 202.57 875.10 203.90 875.10 C205.23 875.10 206.35 881.97 207.90 883.60 C209.45 885.23 211.43 885.33 213.20 884.90 C214.97 884.47 216.72 881.88 218.50 881.00 C220.28 880.12 222.33 882.27 223.90 879.60 C225.47 876.93 226.77 874.98 227.90 865.00 C229.03 855.02 229.58 840.55 230.70 819.70 C231.82 798.85 233.65 758.30 234.60 739.90 C235.55 721.50 235.80 709.30 236.40 709.30 C237.00 709.30 237.47 723.72 238.20 739.90 C238.93 756.08 239.73 789.55 240.80 806.40 C241.87 823.25 242.98 833.02 244.60 841.00 C246.22 848.98 248.63 852.17 250.50 854.30 C252.37 856.43 254.03 853.80 255.80 853.80 C257.57 853.80 259.33 854.22 261.10 854.30 C262.87 854.38 264.62 854.38 266.40 854.30 C268.18 854.22 269.58 854.47 271.80 853.80 C274.02 853.13 277.48 850.88 279.70 850.30 C281.92 849.72 283.10 849.98 285.10 850.30 C287.10 850.62 289.48 851.08 291.70 852.20 C293.92 853.32 296.40 856.65 298.40 857.00 C300.40 857.35 301.72 855.55 303.70 854.30 C305.68 853.05 308.17 849.40 310.30 849.50 C312.43 849.60 314.72 854.98 316.50 854.90 C318.28 854.82 319.37 848.65 321.00 849.00 C322.63 849.35 324.30 856.02 326.30 857.00 C328.30 857.98 330.55 855.57 333.00 854.90 C335.45 854.23 338.25 852.20 341.00 853.00 C343.75 853.80 347.07 860.37 349.50 859.70 C351.93 859.03 353.92 851.67 355.60 849.00 C357.28 846.33 358.05 842.82 359.60 843.70 C361.15 844.58 362.90 850.98 364.90 854.30 C366.90 857.62 368.93 864.03 371.60 863.60 C374.27 863.17 378.03 852.13 380.90 851.70 C383.77 851.27 386.58 859.23 388.80 861.00 C391.02 862.77 392.63 863.85 394.20 862.30 C395.77 860.75 396.87 854.80 398.20 851.70 C399.53 848.60 400.88 843.70 402.20 843.70 C403.52 843.70 404.33 847.93 406.10 851.70 C407.87 855.47 410.72 865.08 412.80 866.30 C414.88 867.52 416.78 860.98 418.60 859.00 C420.42 857.02 422.00 853.97 423.70 854.40 C425.40 854.83 426.67 859.48 428.80 861.60 C430.93 863.72 434.37 868.82 436.50 867.10 C438.63 865.38 440.03 855.22 441.60 851.30 C443.17 847.38 444.47 843.60 445.90 843.60 C447.33 843.60 448.63 847.30 450.20 851.30 C451.77 855.30 453.87 864.60 455.30 867.60 C456.73 870.60 457.23 870.58 458.80 869.30 C460.37 868.02 463.00 862.05 464.70 859.90 C466.40 857.75 467.28 855.83 469.00 856.40 C470.72 856.97 472.57 861.23 475.00 863.30 C477.43 865.37 481.32 870.23 483.60 868.80 C485.88 867.37 487.28 858.33 488.70 854.70 C490.12 851.07 490.97 847.28 492.10 847.00 C493.23 846.72 494.22 849.43 495.50 853.00 C496.78 856.57 498.08 865.12 499.80 868.40 C501.52 871.68 503.67 874.12 505.80 872.70 C507.93 871.28 510.88 862.18 512.60 859.90 C514.32 857.62 514.95 858.15 516.10 859.00 C517.25 859.85 518.22 863.72 519.50 865.00 C520.78 866.28 522.52 865.85 523.80 866.70 C525.08 867.55 525.63 872.10 527.20 870.10 C528.77 868.10 531.50 858.45 533.20 854.70 C534.90 850.95 535.98 847.60 537.40 847.60 C538.82 847.60 540.13 851.08 541.70 854.70 C543.27 858.32 544.95 866.67 546.80 869.30 C548.65 871.93 550.23 872.22 552.80 870.50 C555.37 868.78 559.48 859.92 562.20 859.00 C564.92 858.08 567.10 863.15 569.10 865.00 C571.10 866.85 572.50 870.67 574.20 870.10 C575.90 869.53 577.73 865.45 579.30 861.60 C580.87 857.75 582.17 848.72 583.60 847.00 C585.03 845.28 586.18 847.73 587.90 851.30 C589.62 854.87 592.05 865.12 593.90 868.40 C595.75 871.68 596.43 872.57 599.00 871.00 C601.57 869.43 606.02 859.28 609.30 859.00 C612.58 858.72 616.13 868.15 618.70 869.30 C621.27 870.45 622.70 869.03 624.70 865.90 C626.70 862.77 628.85 851.78 630.70 850.50 C632.55 849.22 634.23 854.93 635.80 858.20 C637.37 861.47 638.38 867.68 640.10 870.10 C641.82 872.52 643.68 873.83 646.10 872.70 C648.52 871.57 652.33 864.02 654.60 863.30 C656.87 862.58 658.27 867.27 659.70 868.40 C661.13 869.53 662.20 870.38 663.20 870.10 C664.20 869.82 665.28 867.27 665.70 866.70" stroke="#e4141a" stroke-width="2.6" fill="none" clip-path="url(#clipc)" stroke-linejoin="round"/>
<path d="M168.40 788.20 C169.27 787.52 172.22 787.58 173.60 784.10 C174.98 780.62 175.77 770.97 176.70 767.30 C177.63 763.63 178.32 762.10 179.20 762.10 C180.08 762.10 181.20 763.63 182.00 767.30 C182.80 770.97 183.32 777.12 184.00 784.10 C184.68 791.08 185.40 807.12 186.10 809.20 C186.80 811.28 187.38 802.88 188.20 796.60 C189.02 790.32 190.23 776.55 191.00 771.50 C191.77 766.45 192.12 765.25 192.80 766.30 C193.48 767.35 194.30 776.75 195.10 777.80 C195.90 778.85 196.65 772.25 197.60 772.60 C198.55 772.95 199.47 776.25 200.80 779.90 C202.13 783.55 204.13 793.63 205.60 794.50 C207.07 795.37 208.48 786.15 209.60 785.10 C210.72 784.05 211.15 786.80 212.30 788.20 C213.45 789.60 214.93 795.07 216.50 793.50 C218.07 791.93 219.97 779.15 221.70 778.80 C223.43 778.45 225.33 791.57 226.90 791.40 C228.47 791.23 229.87 792.27 231.10 777.80 C232.33 763.33 233.32 729.00 234.30 704.60 C235.28 680.20 236.20 645.42 237.00 631.40 C237.80 617.38 238.33 619.47 239.10 620.50 C239.87 621.53 240.83 623.58 241.60 637.60 C242.37 651.62 243.08 682.98 243.70 704.60 C244.32 726.22 244.62 755.45 245.30 767.30 C245.98 779.15 246.68 774.13 247.80 775.70 C248.92 777.27 250.42 777.40 252.00 776.70 C253.58 776.00 255.90 771.83 257.30 771.50 C258.70 771.17 259.28 773.30 260.40 774.70 C261.52 776.10 262.60 779.73 264.00 779.90 C265.40 780.07 266.62 777.27 268.80 775.70 C270.98 774.13 275.08 771.02 277.10 770.50 C279.12 769.98 279.33 774.00 280.90 772.60 C282.47 771.20 284.68 764.37 286.50 762.10 C288.32 759.83 290.22 763.35 291.80 759.00 C293.38 754.65 294.78 752.05 296.00 736.00 C297.22 719.95 298.17 680.55 299.10 662.70 C300.03 644.85 300.73 628.90 301.60 628.90 C302.47 628.90 303.32 643.12 304.30 662.70 C305.28 682.28 306.62 728.08 307.50 746.40 C308.38 764.72 308.73 767.88 309.60 772.60 C310.47 777.32 311.13 772.78 312.70 774.70 C314.27 776.62 316.92 782.02 319.00 784.10 C321.08 786.18 322.77 787.55 325.20 787.20 C327.63 786.85 331.68 784.27 333.60 782.00 C335.52 779.73 335.58 776.15 336.70 773.60 C337.82 771.05 338.90 766.52 340.30 766.70 C341.70 766.88 343.25 773.48 345.10 774.70 C346.95 775.92 349.30 775.58 351.40 774.00 C353.50 772.42 355.78 767.37 357.70 765.20 C359.62 763.03 361.52 764.13 362.90 761.00 C364.28 757.87 364.95 751.45 366.00 746.40 C367.05 741.35 368.15 730.70 369.20 730.70 C370.25 730.70 371.27 742.38 372.30 746.40 C373.33 750.42 374.35 761.77 375.40 754.80 C376.45 747.83 377.30 719.42 378.60 704.60 C379.90 689.78 381.98 669.38 383.20 665.90 C384.42 662.42 385.10 670.28 385.90 683.70 C386.70 697.12 387.30 732.63 388.00 746.40 C388.70 760.17 389.23 767.00 390.10 766.30 C390.97 765.60 392.15 750.57 393.20 742.20 C394.25 733.83 395.35 717.13 396.40 716.10 C397.45 715.07 398.47 727.47 399.50 736.00 C400.53 744.53 401.20 761.38 402.60 767.30 C404.00 773.22 406.15 769.58 407.90 771.50 C409.65 773.42 411.08 777.58 413.10 778.80 C415.12 780.02 418.25 781.07 420.00 778.80 C421.75 776.53 422.37 768.78 423.60 765.20 C424.83 761.62 426.18 757.65 427.40 757.30 C428.62 756.95 429.62 760.90 430.90 763.10 C432.18 765.30 433.53 768.05 435.10 770.50 C436.67 772.95 438.48 775.62 440.30 777.80 C442.12 779.98 444.08 783.53 446.00 783.60 C447.92 783.67 449.43 780.15 451.80 778.20 C454.17 776.25 457.82 774.07 460.20 771.90 C462.58 769.73 464.70 771.18 466.10 765.20 C467.50 759.22 467.83 751.33 468.60 736.00 C469.37 720.67 469.90 690.82 470.70 673.20 C471.50 655.58 472.53 633.78 473.40 630.30 C474.27 626.82 475.03 639.92 475.90 652.30 C476.77 664.68 477.80 699.37 478.60 704.60 C479.40 709.83 480.03 690.50 480.70 683.70 C481.37 676.90 481.90 663.12 482.60 663.80 C483.30 664.48 484.10 674.03 484.90 687.80 C485.70 701.57 486.63 732.62 487.40 746.40 C488.17 760.18 488.45 765.10 489.50 770.50 C490.55 775.90 492.32 777.17 493.70 778.80 C495.08 780.43 496.07 779.15 497.80 780.30 C499.53 781.45 502.52 785.60 504.10 785.70 C505.68 785.80 506.08 781.58 507.30 780.90 C508.52 780.22 510.02 783.33 511.40 781.60 C512.78 779.87 513.33 772.70 515.60 770.50 C517.87 768.30 522.73 767.88 525.00 768.40 C527.27 768.92 527.80 771.75 529.20 773.60 C530.60 775.45 532.18 778.87 533.40 779.50 C534.62 780.13 534.75 776.47 536.50 777.40 C538.25 778.33 541.80 783.22 543.90 785.10 C546.00 786.98 547.02 789.22 549.10 788.70 C551.18 788.18 554.48 784.87 556.40 782.00 C558.32 779.13 559.38 780.92 560.60 771.50 C561.82 762.08 562.83 740.83 563.70 725.50 C564.57 710.17 565.10 688.73 565.80 679.50 C566.50 670.27 567.20 668.72 567.90 670.10 C568.60 671.48 569.23 679.97 570.00 687.80 C570.77 695.63 571.80 715.00 572.50 717.10 C573.20 719.20 573.57 704.40 574.20 700.40 C574.83 696.40 575.60 691.35 576.30 693.10 C577.00 694.85 577.70 702.02 578.40 710.90 C579.10 719.78 579.63 735.60 580.50 746.40 C581.37 757.20 582.38 769.25 583.60 775.70 C584.82 782.15 586.05 783.18 587.80 785.10 C589.55 787.02 591.67 786.68 594.10 787.20 C596.53 787.72 600.13 789.25 602.40 788.20 C604.67 787.15 606.13 782.98 607.70 780.90 C609.27 778.82 610.58 776.05 611.80 775.70 C613.02 775.35 613.60 779.43 615.00 778.80 C616.40 778.17 618.63 771.55 620.20 771.90 C621.77 772.25 623.00 779.05 624.40 780.90 C625.80 782.75 627.20 782.47 628.60 783.00 C630.00 783.53 631.23 783.23 632.80 784.10 C634.37 784.97 636.08 787.85 638.00 788.20 C639.92 788.55 641.68 786.47 644.30 786.20 C646.92 785.93 651.62 789.75 653.70 786.60 C655.78 783.45 655.87 777.48 656.80 767.30 C657.73 757.12 658.43 734.73 659.30 725.50 C660.17 716.27 661.20 712.60 662.00 711.90 C662.80 711.20 663.40 715.90 664.10 721.30 C664.80 726.70 665.85 740.47 666.20 744.30" stroke="#000" stroke-width="2.6" fill="none" clip-path="url(#clipc)" stroke-linejoin="round"/>
<clipPath id="clipd"><rect x="982.0" y="82.3" width="736.5" height="755.7"/></clipPath>
<filter id="fb8" filterUnits="userSpaceOnUse" x="960" y="60" width="780" height="800"><feGaussianBlur stdDeviation="8"/></filter>
<filter id="fb5" filterUnits="userSpaceOnUse" x="960" y="60" width="780" height="800"><feGaussianBlur stdDeviation="5"/></filter>
<filter id="fb45" filterUnits="userSpaceOnUse" x="960" y="60" width="780" height="800"><feGaussianBlur stdDeviation="4.5"/></filter>
<filter id="fb4" filterUnits="userSpaceOnUse" x="960" y="60" width="780" height="800"><feGaussianBlur stdDeviation="4"/></filter>
<filter id="fb35" filterUnits="userSpaceOnUse" x="960" y="60" width="780" height="800"><feGaussianBlur stdDeviation="3.5"/></filter>
<filter id="fb3" filterUnits="userSpaceOnUse" x="960" y="60" width="780" height="800"><feGaussianBlur stdDeviation="3"/></filter>
<filter id="fb2" filterUnits="userSpaceOnUse" x="960" y="60" width="780" height="800"><feGaussianBlur stdDeviation="2"/></filter>
<filter id="fb15" filterUnits="userSpaceOnUse" x="960" y="60" width="780" height="800"><feGaussianBlur stdDeviation="1.5"/></filter>
<filter id="fb1" filterUnits="userSpaceOnUse" x="960" y="60" width="780" height="800"><feGaussianBlur stdDeviation="1"/></filter>
<filter id="fb08" filterUnits="userSpaceOnUse" x="960" y="60" width="780" height="800"><feGaussianBlur stdDeviation="0.8"/></filter>
<g clip-path="url(#clipd)">
<g filter="url(#fb5)"><path fill="#0072f6" d="M972 72h170v10h-170zM1142 82h20v10h-20zM1162 92h10v10h-10zM1172 102h10v10h-10zM1172 112h10v10h-10zM1172 122h10v10h-10zM1172 132h10v10h-10zM1172 142h10v10h-10zM1172 152h10v10h-10zM1172 162h10v10h-10zM1172 172h10v10h-10zM1172 182h10v10h-10zM1172 192h10v10h-10zM1172 202h10v10h-10zM1182 242h10v10h-10zM1182 252h10v10h-10zM1182 262h10v10h-10zM1182 272h10v10h-10zM1182 282h10v10h-10zM1182 292h10v10h-10zM1182 302h10v10h-10zM1182 312h10v10h-10zM1182 322h10v10h-10zM1182 332h10v10h-10zM1192 372h10v10h-10zM1192 382h10v10h-10zM1192 392h10v10h-10zM1192 402h10v10h-10zM1192 412h10v10h-10zM1192 422h10v10h-10zM1192 432h10v10h-10zM1202 452h10v10h-10zM1202 462h10v10h-10zM1212 482h10v10h-10zM1222 492h10v10h-10zM1222 502h10v10h-10zM1232 512h10v10h-10zM1232 522h10v10h-10zM1242 532h10v10h-10zM1242 542h10v10h-10zM1252 552h10v10h-10zM1272 562h20v10h-20zM1282 572h10v10h-10zM1292 582h10v10h-10zM1302 592h10v10h-10zM1322 602h10v10h-10zM1362 612h10v10h-10zM1432 632h10v10h-10zM1522 652h10v10h-10zM1592 682h10v10h-10zM1612 692h10v10h-10z"/><path fill="#006ef6" d="M1142 72h20v10h-20zM1162 82h10v10h-10zM1172 92h10v10h-10zM1182 112h10v10h-10zM1182 122h10v10h-10zM1182 132h10v10h-10zM1182 142h10v10h-10zM1182 152h10v10h-10zM1182 162h10v10h-10zM1182 172h10v10h-10zM1182 182h10v10h-10zM1182 192h10v10h-10zM1182 202h10v10h-10zM1182 212h10v10h-10zM1182 222h10v10h-10zM1182 232h10v10h-10zM1192 282h10v10h-10zM1192 292h10v10h-10zM1192 302h10v10h-10zM1192 312h10v10h-10zM1192 322h10v10h-10zM1192 332h10v10h-10zM1192 342h10v10h-10zM1192 352h10v10h-10zM1192 362h10v10h-10zM1202 402h10v10h-10zM1202 412h10v10h-10zM1202 422h10v10h-10zM1202 432h10v10h-10zM1202 442h10v10h-10zM1212 462h10v10h-10zM1212 472h10v10h-10zM1222 482h10v10h-10zM1232 502h10v10h-10zM1242 512h10v10h-10zM1242 522h10v10h-10zM1252 532h10v10h-10zM1252 542h20v10h-20zM1262 552h20v10h-20zM1292 562h10v10h-10zM1292 572h20v10h-20zM1302 582h20v10h-20zM1312 592h10v10h-10zM1332 602h10v10h-10zM1402 622h10v10h-10zM1482 642h10v10h-10zM1552 662h10v10h-10zM1572 672h10v10h-10zM1662 732h10v10h-10zM1672 742h10v10h-10zM1672 752h10v10h-10z"/><path fill="#006af5" d="M1162 72h10v10h-10zM1172 82h10v10h-10zM1182 92h10v10h-10zM1182 102h10v10h-10zM1192 122h10v10h-10zM1192 132h10v10h-10zM1192 142h10v10h-10zM1192 152h10v10h-10zM1192 162h10v10h-10zM1192 172h10v10h-10zM1192 182h10v10h-10zM1192 192h10v10h-10zM1192 202h10v10h-10zM1192 212h10v10h-10zM1192 222h10v10h-10zM1192 232h10v10h-10zM1192 242h10v10h-10zM1192 252h10v10h-10zM1192 262h10v10h-10zM1192 272h10v10h-10zM1202 312h10v10h-10zM1202 322h10v10h-10zM1202 332h10v10h-10zM1202 342h10v10h-10zM1202 352h10v10h-10zM1202 362h10v10h-10zM1202 372h10v10h-10zM1202 382h10v10h-10zM1202 392h10v10h-10zM1212 442h10v10h-10zM1212 452h10v10h-10zM1222 472h10v10h-10zM1232 482h10v10h-10zM1232 492h10v10h-10zM1242 502h10v10h-10zM1252 512h10v10h-10zM1252 522h20v10h-20zM1262 532h20v10h-20zM1272 542h30v10h-30zM1282 552h30v10h-30zM1302 562h20v10h-20zM1312 572h20v10h-20zM1322 582h20v10h-20zM1322 592h30v10h-30zM1342 602h10v10h-10zM1372 612h10v10h-10zM1442 632h10v10h-10zM1632 702h10v10h-10zM1642 712h10v10h-10zM1652 722h10v10h-10z"/><path fill="#0066f5" d="M1172 72h20v10h-20zM1182 82h10v10h-10zM1192 92h10v10h-10zM1192 102h10v10h-10zM1192 112h10v10h-10zM1202 142h10v10h-10zM1202 152h10v10h-10zM1202 162h10v10h-10zM1202 172h10v10h-10zM1202 182h10v10h-10zM1202 192h10v10h-10zM1202 202h10v10h-10zM1202 212h10v10h-10zM1202 222h10v10h-10zM1202 232h10v10h-10zM1202 242h10v10h-10zM1202 252h10v10h-10zM1202 262h10v10h-10zM1202 272h10v10h-10zM1202 282h10v10h-10zM1202 292h10v10h-10zM1202 302h10v10h-10zM1212 342h10v10h-10zM1212 352h10v10h-10zM1212 362h10v10h-10zM1212 372h10v10h-10zM1212 382h10v10h-10zM1212 392h10v10h-10zM1212 402h10v10h-10zM1212 412h10v10h-10zM1212 422h10v10h-10zM1212 432h10v10h-10zM1222 452h10v10h-10zM1222 462h10v10h-10zM1232 472h10v10h-10zM1242 482h10v10h-10zM1242 492h10v10h-10zM1252 502h10v10h-10zM1262 512h20v10h-20zM1272 522h40v10h-40zM1282 532h40v10h-40zM1302 542h30v10h-30zM1312 552h30v10h-30zM1322 562h30v10h-30zM1332 572h30v10h-30zM1342 582h20v10h-20zM1352 592h20v10h-20zM1352 602h20v10h-20zM1382 612h10v10h-10zM1412 622h10v10h-10zM1532 652h10v10h-10zM1582 672h10v10h-10zM1602 682h10v10h-10zM1622 692h10v10h-10z"/><path fill="#0062f5" d="M1192 72h10v10h-10zM1192 82h10v10h-10zM1202 92h10v10h-10zM1202 102h10v10h-10zM1202 112h10v10h-10zM1202 122h10v10h-10zM1202 132h10v10h-10zM1212 152h10v10h-10zM1212 162h10v10h-10zM1212 172h10v10h-10zM1212 182h10v10h-10zM1212 192h10v10h-10zM1212 202h10v10h-10zM1212 212h10v10h-10zM1212 222h10v10h-10zM1212 232h10v10h-10zM1212 242h10v10h-10zM1212 252h10v10h-10zM1212 262h10v10h-10zM1212 272h10v10h-10zM1212 282h10v10h-10zM1212 292h10v10h-10zM1212 302h10v10h-10zM1212 312h10v10h-10zM1212 322h10v10h-10zM1212 332h10v10h-10zM1222 362h10v10h-10zM1222 372h10v10h-10zM1222 382h10v10h-10zM1222 392h10v10h-10zM1222 402h10v10h-10zM1222 412h10v10h-10zM1222 422h10v10h-10zM1222 432h10v10h-10zM1222 442h10v10h-10zM1232 452h10v10h-10zM1232 462h10v10h-10zM1242 472h10v10h-10zM1252 482h10v10h-10zM1252 492h30v10h-30zM1262 502h50v10h-50zM1282 512h40v10h-40zM1312 522h30v10h-30zM1322 532h30v10h-30zM1332 542h30v10h-30zM1342 552h30v10h-30zM1352 562h20v10h-20zM1362 572h20v10h-20zM1362 582h20v10h-20zM1372 592h20v10h-20zM1372 602h20v10h-20zM1392 612h10v10h-10zM1452 632h10v10h-10zM1492 642h10v10h-10zM1562 662h10v10h-10z"/><path fill="#005ef5" d="M1202 72h10v10h-10zM1202 82h20v10h-20zM1212 92h10v10h-10zM1212 102h10v10h-10zM1212 112h10v10h-10zM1212 122h20v10h-20zM1212 132h20v10h-20zM1212 142h20v10h-20zM1222 152h10v10h-10zM1222 162h10v10h-10zM1222 172h10v10h-10zM1222 182h10v10h-10zM1222 192h10v10h-10zM1222 202h10v10h-10zM1222 212h10v10h-10zM1222 222h10v10h-10zM1222 232h10v10h-10zM1222 242h10v10h-10zM1222 252h10v10h-10zM1222 262h10v10h-10zM1222 272h10v10h-10zM1222 282h10v10h-10zM1222 292h10v10h-10zM1222 302h10v10h-10zM1222 312h10v10h-10zM1222 322h10v10h-10zM1222 332h10v10h-10zM1222 342h10v10h-10zM1222 352h10v10h-10zM1232 362h10v10h-10zM1232 372h10v10h-10zM1232 382h10v10h-10zM1232 392h10v10h-10zM1232 402h10v10h-10zM1232 412h10v10h-10zM1232 422h10v10h-10zM1232 432h10v10h-10zM1232 442h10v10h-10zM1242 452h10v10h-10zM1242 462h20v10h-20zM1252 472h20v10h-20zM1262 482h40v10h-40zM1282 492h40v10h-40zM1312 502h30v10h-30zM1322 512h30v10h-30zM1342 522h20v10h-20zM1352 532h20v10h-20zM1362 542h20v10h-20zM1372 552h20v10h-20zM1372 562h20v10h-20zM1382 572h20v10h-20zM1382 582h20v10h-20zM1392 592h20v10h-20zM1392 602h20v10h-20zM1402 612h10v10h-10zM1422 622h10v10h-10zM1642 702h10v10h-10zM1652 712h10v10h-10zM1662 722h10v10h-10zM1672 732h10v10h-10zM1682 742h10v10h-10zM1682 752h10v10h-10z"/><path fill="#005af4" d="M1212 72h20v10h-20zM1222 82h20v10h-20zM1222 92h20v10h-20zM1222 102h20v10h-20zM1222 112h20v10h-20zM1232 122h10v10h-10zM1232 132h10v10h-10zM1232 142h10v10h-10zM1232 152h10v10h-10zM1232 162h10v10h-10zM1232 172h10v10h-10zM1232 182h10v10h-10zM1232 192h10v10h-10zM1232 202h10v10h-10zM1232 212h10v10h-10zM1232 222h10v10h-10zM1232 232h10v10h-10zM1232 242h10v10h-10zM1232 252h10v10h-10zM1232 262h10v10h-10zM1232 272h10v10h-10zM1232 282h10v10h-10zM1232 292h20v10h-20zM1232 302h20v10h-20zM1232 312h20v10h-20zM1232 322h20v10h-20zM1232 332h20v10h-20zM1232 342h20v10h-20zM1232 352h20v10h-20zM1242 362h10v10h-10zM1242 372h10v10h-10zM1242 382h10v10h-10zM1242 422h10v10h-10zM1242 432h10v10h-10zM1242 442h10v10h-10zM1252 452h10v10h-10zM1262 462h40v10h-40zM1272 472h50v10h-50zM1302 482h40v10h-40zM1322 492h40v10h-40zM1342 502h30v10h-30zM1352 512h30v10h-30zM1362 522h30v10h-30zM1372 532h20v10h-20zM1382 542h20v10h-20zM1392 552h20v10h-20zM1392 562h20v10h-20zM1402 572h20v10h-20zM1402 582h20v10h-20zM1412 592h10v10h-10zM1412 602h20v10h-20zM1412 612h20v10h-20zM1432 622h10v10h-10zM1462 632h10v10h-10zM1502 642h10v10h-10zM1542 652h10v10h-10zM1572 662h10v10h-10zM1592 672h10v10h-10zM1612 682h10v10h-10zM1632 692h10v10h-10z"/><path fill="#0056f4" d="M1232 72h160v10h-160zM1242 82h140v10h-140zM1242 92h140v10h-140zM1242 102h140v10h-140zM1242 112h130v10h-130zM1242 122h130v10h-130zM1242 132h120v10h-120zM1242 142h120v10h-120zM1242 152h110v10h-110zM1242 162h110v10h-110zM1242 172h100v10h-100zM1242 182h100v10h-100zM1242 192h100v10h-100zM1242 202h90v10h-90zM1242 212h90v10h-90zM1242 222h80v10h-80zM1242 232h80v10h-80zM1242 242h70v10h-70zM1242 252h70v10h-70zM1242 262h60v10h-60zM1242 272h60v10h-60zM1242 282h60v10h-60zM1252 292h40v10h-40zM1252 302h40v10h-40zM1252 312h30v10h-30zM1252 322h30v10h-30zM1252 332h20v10h-20zM1252 342h20v10h-20zM1252 352h10v10h-10zM1252 362h10v10h-10zM1252 372h10v10h-10zM1242 392h10v10h-10zM1242 402h10v10h-10zM1242 412h10v10h-10zM1252 432h10v10h-10zM1252 442h40v10h-40zM1262 452h60v10h-60zM1302 462h40v10h-40zM1322 472h40v10h-40zM1342 482h30v10h-30zM1362 492h20v10h-20zM1372 502h20v10h-20zM1382 512h20v10h-20zM1392 522h20v10h-20zM1392 532h30v10h-30zM1402 542h20v10h-20zM1412 552h20v10h-20zM1412 562h20v10h-20zM1422 572h20v10h-20zM1422 582h20v10h-20zM1422 592h20v10h-20zM1432 602h10v10h-10zM1432 612h20v10h-20zM1442 622h10v10h-10zM1472 632h10v10h-10z"/><path fill="#0052f4" d="M1392 72h10v10h-10zM1382 82h10v10h-10zM1382 92h10v10h-10zM1372 112h10v10h-10zM1362 132h10v10h-10zM1362 142h10v10h-10zM1352 152h10v10h-10zM1352 162h10v10h-10zM1342 172h10v10h-10zM1342 182h10v10h-10zM1332 202h10v10h-10zM1322 222h10v10h-10zM1312 242h10v10h-10zM1312 252h10v10h-10zM1302 262h10v10h-10zM1302 272h10v10h-10zM1292 292h10v10h-10zM1282 312h10v10h-10zM1272 332h10v10h-10zM1272 342h10v10h-10zM1262 352h10v10h-10zM1262 362h10v10h-10zM1252 382h10v10h-10zM1252 392h10v10h-10zM1252 422h30v10h-30zM1262 432h60v10h-60zM1292 442h50v10h-50zM1322 452h40v10h-40zM1342 462h30v10h-30zM1362 472h30v10h-30zM1372 482h30v10h-30zM1382 492h30v10h-30zM1392 502h20v10h-20zM1402 512h20v10h-20zM1412 522h20v10h-20zM1422 532h20v10h-20zM1422 542h20v10h-20zM1432 552h20v10h-20zM1432 562h20v10h-20zM1442 572h10v10h-10zM1442 582h20v10h-20zM1442 592h20v10h-20zM1442 602h20v10h-20zM1452 612h10v10h-10zM1452 622h10v10h-10zM1512 642h10v10h-10zM1552 652h10v10h-10zM1622 682h10v10h-10zM1642 692h10v10h-10zM1652 702h10v10h-10zM1662 712h10v10h-10zM1672 722h10v10h-10zM1682 732h10v10h-10zM1692 742h10v10h-10zM1692 752h10v10h-10z"/><path fill="#004af3" d="M1402 72h10v10h-10zM1392 92h10v10h-10zM1382 112h10v10h-10zM1372 142h10v10h-10zM1362 162h10v10h-10zM1352 182h10v10h-10zM1342 202h10v10h-10zM1332 222h10v10h-10zM1332 232h10v10h-10zM1322 252h10v10h-10zM1312 272h10v10h-10zM1302 292h10v10h-10zM1292 312h10v10h-10zM1292 322h10v10h-10zM1282 342h10v10h-10zM1272 362h10v10h-10zM1262 382h10v10h-10zM1262 392h40v10h-40zM1272 402h70v10h-70zM1312 412h50v10h-50zM1342 422h30v10h-30zM1362 432h30v10h-30zM1372 442h30v10h-30zM1392 452h20v10h-20zM1402 462h20v10h-20zM1412 472h20v10h-20zM1422 482h20v10h-20zM1432 492h20v10h-20zM1442 502h20v10h-20zM1442 512h20v10h-20zM1452 522h20v10h-20zM1452 532h20v10h-20zM1462 542h20v10h-20zM1462 552h20v10h-20zM1472 562h20v10h-20zM1472 572h20v10h-20zM1472 582h20v10h-20zM1482 592h10v10h-10zM1482 602h20v10h-20zM1482 612h20v10h-20zM1482 622h20v10h-20zM1492 632h10v10h-10zM1522 642h10v10h-10zM1562 652h10v10h-10z"/><path fill="#0043f3" d="M1412 72h10v10h-10zM1402 92h10v10h-10zM1392 112h10v10h-10zM1382 132h10v10h-10zM1372 162h10v10h-10zM1362 182h10v10h-10zM1352 202h10v10h-10zM1342 222h10v10h-10zM1332 252h10v10h-10zM1322 272h10v10h-10zM1312 292h10v10h-10zM1302 312h10v10h-10zM1292 342h10v10h-10zM1282 362h40v10h-40zM1292 372h60v10h-60zM1332 382h40v10h-40zM1362 392h30v10h-30zM1372 402h40v10h-40zM1392 412h30v10h-30zM1412 422h20v10h-20zM1422 432h20v10h-20zM1432 442h20v10h-20zM1442 452h20v10h-20zM1452 462h20v10h-20zM1462 472h20v10h-20zM1462 482h20v10h-20zM1472 492h20v10h-20zM1482 502h20v10h-20zM1482 512h20v10h-20zM1492 522h20v10h-20zM1492 532h20v10h-20zM1502 542h20v10h-20zM1502 552h20v10h-20zM1502 562h20v10h-20zM1512 572h10v10h-10zM1512 582h20v10h-20zM1512 592h20v10h-20zM1512 602h20v10h-20zM1512 612h20v10h-20zM1522 622h10v10h-10zM1522 632h10v10h-10zM1532 642h10v10h-10zM1572 652h10v10h-10z"/><path fill="#0037f2" d="M1422 72h10v10h-10zM1412 102h10v10h-10zM1402 122h10v10h-10zM1392 142h10v10h-10zM1382 162h10v10h-10zM1372 192h10v10h-10zM1362 212h10v10h-10zM1352 232h10v10h-10zM1342 252h10v10h-10zM1332 282h30v10h-30zM1332 292h60v10h-60zM1322 302h90v10h-90zM1352 312h80v10h-80zM1382 322h60v10h-60zM1402 332h60v10h-60zM1422 342h50v10h-50zM1432 352h50v10h-50zM1452 362h50v10h-50zM1462 372h50v10h-50zM1472 382h50v10h-50zM1482 392h50v10h-50zM1492 402h40v10h-40zM1502 412h40v10h-40zM1512 422h40v10h-40zM1522 432h40v10h-40zM1532 442h30v10h-30zM1532 452h40v10h-40zM1542 462h30v10h-30zM1552 472h30v10h-30zM1552 482h30v10h-30zM1562 492h30v10h-30zM1562 502h30v10h-30zM1562 512h40v10h-40zM1572 522h30v10h-30zM1572 532h30v10h-30zM1582 542h30v10h-30zM1582 552h30v10h-30zM1582 562h30v10h-30zM1582 572h30v10h-30zM1582 582h40v10h-40zM1592 592h30v10h-30zM1592 602h30v10h-30zM1592 612h30v10h-30zM1592 622h30v10h-30zM1592 632h30v10h-30zM1592 642h30v10h-30zM1602 652h20v10h-20zM1622 662h10v10h-10zM1632 672h10v10h-10zM1652 682h10v10h-10zM1672 692h10v10h-10zM1682 702h10v10h-10zM1692 712h10v10h-10zM1702 722h10v10h-10zM1712 732h10v10h-10z"/><path fill="#002ff1" d="M1432 72h10v10h-10zM1432 82h10v10h-10zM1422 102h10v10h-10zM1422 112h10v10h-10zM1412 122h10v10h-10zM1412 132h10v10h-10zM1402 142h10v10h-10zM1402 152h10v10h-10zM1392 162h10v10h-10zM1392 172h10v10h-10zM1382 192h10v10h-10zM1382 202h10v10h-10zM1372 212h10v10h-10zM1372 222h10v10h-10zM1362 232h40v10h-40zM1362 242h60v10h-60zM1362 252h80v10h-80zM1392 262h70v10h-70zM1412 272h70v10h-70zM1432 282h60v10h-60zM1452 292h60v10h-60zM1472 302h50v10h-50zM1482 312h50v10h-50zM1492 322h50v10h-50zM1512 332h40v10h-40zM1522 342h40v10h-40zM1532 352h40v10h-40zM1542 362h40v10h-40zM1552 372h40v10h-40zM1562 382h30v10h-30zM1562 392h40v10h-40zM1572 402h40v10h-40zM1582 412h30v10h-30zM1592 422h30v10h-30zM1592 432h40v10h-40zM1602 442h30v10h-30zM1602 452h40v10h-40zM1612 462h30v10h-30zM1612 472h40v10h-40zM1622 482h30v10h-30zM1622 492h30v10h-30zM1632 502h30v10h-30zM1632 512h30v10h-30zM1632 522h30v10h-30zM1632 532h40v10h-40zM1642 542h30v10h-30zM1642 552h30v10h-30zM1642 562h30v10h-30zM1642 572h30v10h-30zM1652 582h30v10h-30zM1652 592h30v10h-30zM1652 602h30v10h-30zM1652 612h30v10h-30zM1652 622h30v10h-30zM1652 632h30v10h-30zM1652 642h30v10h-30zM1652 652h30v10h-30zM1652 662h30v10h-30zM1652 672h30v10h-30zM1672 682h10v10h-10zM1682 692h10v10h-10zM1692 702h20v10h-20zM1702 712h10v10h-10zM1712 722h10v10h-10zM1722 732h10v10h-10z"/><path fill="#002bf1" d="M1442 72h290v10h-290zM1442 82h290v10h-290zM1432 92h300v10h-300zM1432 102h300v10h-300zM1432 112h300v10h-300zM1422 122h310v10h-310zM1422 132h310v10h-310zM1412 142h320v10h-320zM1412 152h320v10h-320zM1402 162h330v10h-330zM1402 172h330v10h-330zM1392 182h340v10h-340zM1392 192h340v10h-340zM1392 202h340v10h-340zM1382 212h350v10h-350zM1382 222h350v10h-350zM1402 232h330v10h-330zM1422 242h310v10h-310zM1442 252h290v10h-290zM1462 262h270v10h-270zM1482 272h250v10h-250zM1492 282h240v10h-240zM1512 292h220v10h-220zM1522 302h210v10h-210zM1532 312h200v10h-200zM1542 322h190v10h-190zM1552 332h180v10h-180zM1562 342h170v10h-170zM1572 352h160v10h-160zM1582 362h150v10h-150zM1592 372h140v10h-140zM1592 382h140v10h-140zM1602 392h130v10h-130zM1612 402h120v10h-120zM1612 412h120v10h-120zM1622 422h110v10h-110zM1632 432h100v10h-100zM1632 442h100v10h-100zM1642 452h90v10h-90zM1642 462h90v10h-90zM1652 472h80v10h-80zM1652 482h80v10h-80zM1652 492h80v10h-80zM1662 502h70v10h-70zM1662 512h70v10h-70zM1662 522h70v10h-70zM1672 532h60v10h-60zM1672 542h60v10h-60zM1672 552h60v10h-60zM1672 562h60v10h-60zM1672 572h60v10h-60zM1682 582h50v10h-50zM1682 592h50v10h-50zM1682 602h50v10h-50zM1682 612h50v10h-50zM1682 622h50v10h-50zM1682 632h50v10h-50zM1682 642h50v10h-50zM1682 652h50v10h-50zM1682 662h50v10h-50zM1682 672h50v10h-50zM1682 682h50v10h-50zM1692 692h40v10h-40zM1712 702h20v10h-20zM1712 712h20v10h-20zM1722 722h10v10h-10z"/><path fill="#007af6" d="M972 82h150v10h-150zM1132 92h20v10h-20zM1152 102h10v10h-10zM1152 112h10v10h-10zM1152 122h10v10h-10zM1152 132h10v10h-10zM1152 142h10v10h-10zM1152 152h10v10h-10zM1152 162h10v10h-10zM1152 172h10v10h-10zM1162 192h10v10h-10zM1162 202h10v10h-10zM1162 212h10v10h-10zM1162 222h10v10h-10zM1162 232h10v10h-10zM1162 242h10v10h-10zM1162 252h10v10h-10zM1162 262h10v10h-10zM1162 272h10v10h-10zM1162 282h10v10h-10zM1162 292h10v10h-10zM1172 322h10v10h-10zM1172 332h10v10h-10zM1172 342h10v10h-10zM1172 352h10v10h-10zM1172 362h10v10h-10zM1182 402h10v10h-10zM1182 412h10v10h-10zM1182 422h10v10h-10zM1182 432h10v10h-10zM1182 442h10v10h-10zM1192 462h10v10h-10zM1192 472h10v10h-10zM1202 492h10v10h-10zM1212 512h10v10h-10zM1222 532h10v10h-10zM1232 552h10v10h-10zM1252 562h10v10h-10zM1262 572h10v10h-10zM1272 582h10v10h-10zM1282 592h10v10h-10zM1312 602h10v10h-10zM1382 622h10v10h-10zM1512 652h10v10h-10zM1562 672h10v10h-10zM1582 682h10v10h-10zM1652 732h10v10h-10z"/><path fill="#0076f6" d="M1122 82h20v10h-20zM1152 92h10v10h-10zM1162 102h10v10h-10zM1162 112h10v10h-10zM1162 122h10v10h-10zM1162 132h10v10h-10zM1162 142h10v10h-10zM1162 152h10v10h-10zM1162 162h10v10h-10zM1162 172h10v10h-10zM1162 182h10v10h-10zM1172 212h10v10h-10zM1172 222h10v10h-10zM1172 232h10v10h-10zM1172 242h10v10h-10zM1172 252h10v10h-10zM1172 262h10v10h-10zM1172 272h10v10h-10zM1172 282h10v10h-10zM1172 292h10v10h-10zM1172 302h10v10h-10zM1172 312h10v10h-10zM1182 342h10v10h-10zM1182 352h10v10h-10zM1182 362h10v10h-10zM1182 372h10v10h-10zM1182 382h10v10h-10zM1182 392h10v10h-10zM1192 442h10v10h-10zM1192 452h10v10h-10zM1202 472h10v10h-10zM1202 482h10v10h-10zM1212 492h10v10h-10zM1212 502h10v10h-10zM1222 512h10v10h-10zM1222 522h10v10h-10zM1232 532h10v10h-10zM1232 542h10v10h-10zM1242 552h10v10h-10zM1262 562h10v10h-10zM1272 572h10v10h-10zM1282 582h10v10h-10zM1292 592h10v10h-10zM1352 612h10v10h-10zM1392 622h10v10h-10zM1472 642h10v10h-10zM1542 662h10v10h-10zM1622 702h10v10h-10zM1632 712h10v10h-10zM1642 722h10v10h-10z"/><path fill="#004ef3" d="M1392 82h10v10h-10zM1382 102h10v10h-10zM1372 122h10v10h-10zM1372 132h10v10h-10zM1362 152h10v10h-10zM1352 172h10v10h-10zM1342 192h10v10h-10zM1332 212h10v10h-10zM1322 232h10v10h-10zM1322 242h10v10h-10zM1312 262h10v10h-10zM1302 282h10v10h-10zM1292 302h10v10h-10zM1282 322h10v10h-10zM1282 332h10v10h-10zM1272 352h10v10h-10zM1262 372h10v10h-10zM1252 402h20v10h-20zM1252 412h60v10h-60zM1282 422h60v10h-60zM1322 432h40v10h-40zM1342 442h30v10h-30zM1362 452h30v10h-30zM1372 462h30v10h-30zM1392 472h20v10h-20zM1402 482h20v10h-20zM1412 492h20v10h-20zM1412 502h30v10h-30zM1422 512h20v10h-20zM1432 522h20v10h-20zM1442 532h10v10h-10zM1442 542h20v10h-20zM1452 552h10v10h-10zM1452 562h20v10h-20zM1452 572h20v10h-20zM1462 582h10v10h-10zM1462 592h20v10h-20zM1462 602h20v10h-20zM1462 612h20v10h-20zM1462 622h20v10h-20zM1482 632h10v10h-10zM1582 662h10v10h-10zM1602 672h10v10h-10z"/><path fill="#0047f3" d="M1402 82h10v10h-10zM1392 102h10v10h-10zM1382 122h10v10h-10zM1372 152h10v10h-10zM1362 172h10v10h-10zM1352 192h10v10h-10zM1342 212h10v10h-10zM1332 242h10v10h-10zM1322 262h10v10h-10zM1312 282h10v10h-10zM1302 302h10v10h-10zM1292 332h10v10h-10zM1282 352h10v10h-10zM1272 372h20v10h-20zM1272 382h60v10h-60zM1302 392h60v10h-60zM1342 402h30v10h-30zM1362 412h30v10h-30zM1372 422h40v10h-40zM1392 432h30v10h-30zM1402 442h30v10h-30zM1412 452h30v10h-30zM1422 462h30v10h-30zM1432 472h30v10h-30zM1442 482h20v10h-20zM1452 492h20v10h-20zM1462 502h20v10h-20zM1462 512h20v10h-20zM1472 522h20v10h-20zM1472 532h20v10h-20zM1482 542h20v10h-20zM1482 552h20v10h-20zM1492 562h10v10h-10zM1492 572h20v10h-20zM1492 582h20v10h-20zM1492 592h20v10h-20zM1502 602h10v10h-10zM1502 612h10v10h-10zM1502 622h20v10h-20zM1502 632h20v10h-20zM1592 662h10v10h-10zM1612 672h10v10h-10zM1632 682h10v10h-10zM1652 692h10v10h-10zM1662 702h10v10h-10zM1672 712h10v10h-10zM1682 722h10v10h-10zM1692 732h10v10h-10zM1702 742h10v10h-10zM1702 752h10v10h-10z"/><path fill="#003ff2" d="M1412 82h10v10h-10zM1402 102h10v10h-10zM1392 122h10v10h-10zM1382 142h10v10h-10zM1372 172h10v10h-10zM1362 192h10v10h-10zM1352 212h10v10h-10zM1342 232h10v10h-10zM1332 262h10v10h-10zM1322 282h10v10h-10zM1312 302h10v10h-10zM1302 322h10v10h-10zM1302 332h20v10h-20zM1302 342h50v10h-50zM1292 352h80v10h-80zM1322 362h70v10h-70zM1352 372h60v10h-60zM1372 382h60v10h-60zM1392 392h50v10h-50zM1412 402h40v10h-40zM1422 412h40v10h-40zM1432 422h40v10h-40zM1442 432h40v10h-40zM1452 442h40v10h-40zM1462 452h40v10h-40zM1472 462h30v10h-30zM1482 472h30v10h-30zM1482 482h40v10h-40zM1492 492h30v10h-30zM1502 502h30v10h-30zM1502 512h30v10h-30zM1512 522h30v10h-30zM1512 532h30v10h-30zM1522 542h20v10h-20zM1522 552h30v10h-30zM1522 562h30v10h-30zM1522 572h30v10h-30zM1532 582h20v10h-20zM1532 592h30v10h-30zM1532 602h30v10h-30zM1532 612h30v10h-30zM1532 622h30v10h-30zM1532 632h30v10h-30zM1542 642h20v10h-20zM1582 652h10v10h-10zM1602 662h10v10h-10zM1622 672h10v10h-10zM1642 682h10v10h-10zM1662 692h10v10h-10zM1672 702h10v10h-10zM1682 712h10v10h-10zM1702 732h10v10h-10z"/><path fill="#0033f2" d="M1422 82h10v10h-10zM1422 92h10v10h-10zM1412 112h10v10h-10zM1402 132h10v10h-10zM1392 152h10v10h-10zM1382 172h10v10h-10zM1382 182h10v10h-10zM1372 202h10v10h-10zM1362 222h10v10h-10zM1352 242h10v10h-10zM1352 252h10v10h-10zM1342 262h50v10h-50zM1342 272h70v10h-70zM1362 282h70v10h-70zM1392 292h60v10h-60zM1412 302h60v10h-60zM1432 312h50v10h-50zM1442 322h50v10h-50zM1462 332h50v10h-50zM1472 342h50v10h-50zM1482 352h50v10h-50zM1502 362h40v10h-40zM1512 372h40v10h-40zM1522 382h40v10h-40zM1532 392h30v10h-30zM1532 402h40v10h-40zM1542 412h40v10h-40zM1552 422h40v10h-40zM1562 432h30v10h-30zM1562 442h40v10h-40zM1572 452h30v10h-30zM1572 462h40v10h-40zM1582 472h30v10h-30zM1582 482h40v10h-40zM1592 492h30v10h-30zM1592 502h40v10h-40zM1602 512h30v10h-30zM1602 522h30v10h-30zM1602 532h30v10h-30zM1612 542h30v10h-30zM1612 552h30v10h-30zM1612 562h30v10h-30zM1612 572h30v10h-30zM1622 582h30v10h-30zM1622 592h30v10h-30zM1622 602h30v10h-30zM1622 612h30v10h-30zM1622 622h30v10h-30zM1622 632h30v10h-30zM1622 642h30v10h-30zM1622 652h30v10h-30zM1632 662h20v10h-20zM1642 672h10v10h-10zM1662 682h10v10h-10zM1722 742h10v10h-10zM1722 752h10v10h-10z"/><path fill="#007df7" d="M972 92h160v10h-160zM1132 102h20v10h-20zM1142 112h10v10h-10zM1142 122h10v10h-10zM1142 132h10v10h-10zM1142 142h10v10h-10zM1142 152h10v10h-10zM1142 162h10v10h-10zM1142 172h10v10h-10zM1142 182h20v10h-20zM1152 192h10v10h-10zM1152 202h10v10h-10zM1152 212h10v10h-10zM1152 222h10v10h-10zM1152 232h10v10h-10zM1152 242h10v10h-10zM1152 252h10v10h-10zM1152 262h10v10h-10zM1152 272h10v10h-10zM1152 282h10v10h-10zM1152 292h10v10h-10zM1162 302h10v10h-10zM1162 312h10v10h-10zM1162 322h10v10h-10zM1162 332h10v10h-10zM1162 342h10v10h-10zM1162 352h10v10h-10zM1172 372h10v10h-10zM1172 382h10v10h-10zM1172 392h10v10h-10zM1172 402h10v10h-10zM1172 412h10v10h-10zM1172 422h10v10h-10zM1182 452h10v10h-10zM1182 462h10v10h-10zM1192 482h10v10h-10zM1192 492h10v10h-10zM1202 502h10v10h-10zM1202 512h10v10h-10zM1212 522h10v10h-10zM1212 532h10v10h-10zM1222 542h10v10h-10zM1222 552h10v10h-10zM1252 572h10v10h-10zM1262 582h10v10h-10zM1272 592h10v10h-10zM1302 602h10v10h-10zM1342 612h10v10h-10zM1422 632h10v10h-10zM1462 642h10v10h-10zM1602 692h10v10h-10zM1662 742h10v10h-10zM1662 752h10v10h-10z"/><path fill="#003bf2" d="M1412 92h10v10h-10zM1402 112h10v10h-10zM1392 132h10v10h-10zM1382 152h10v10h-10zM1372 182h10v10h-10zM1362 202h10v10h-10zM1352 222h10v10h-10zM1342 242h10v10h-10zM1332 272h10v10h-10zM1322 292h10v10h-10zM1312 312h40v10h-40zM1312 322h70v10h-70zM1322 332h80v10h-80zM1352 342h70v10h-70zM1372 352h60v10h-60zM1392 362h60v10h-60zM1412 372h50v10h-50zM1432 382h40v10h-40zM1442 392h40v10h-40zM1452 402h40v10h-40zM1462 412h40v10h-40zM1472 422h40v10h-40zM1482 432h40v10h-40zM1492 442h40v10h-40zM1502 452h30v10h-30zM1502 462h40v10h-40zM1512 472h40v10h-40zM1522 482h30v10h-30zM1522 492h40v10h-40zM1532 502h30v10h-30zM1532 512h30v10h-30zM1542 522h30v10h-30zM1542 532h30v10h-30zM1542 542h40v10h-40zM1552 552h30v10h-30zM1552 562h30v10h-30zM1552 572h30v10h-30zM1552 582h30v10h-30zM1562 592h30v10h-30zM1562 602h30v10h-30zM1562 612h30v10h-30zM1562 622h30v10h-30zM1562 632h30v10h-30zM1562 642h30v10h-30zM1592 652h10v10h-10zM1612 662h10v10h-10zM1692 722h10v10h-10zM1712 742h10v10h-10zM1712 752h10v10h-10z"/><path fill="#0081f7" d="M972 102h160v10h-160zM1122 112h20v10h-20zM1122 122h20v10h-20zM1122 132h20v10h-20zM1122 142h20v10h-20zM1132 152h10v10h-10zM1132 162h10v10h-10zM1132 172h10v10h-10zM1132 182h10v10h-10zM1132 192h20v10h-20zM1132 202h20v10h-20zM1142 212h10v10h-10zM1142 222h10v10h-10zM1142 232h10v10h-10zM1142 242h10v10h-10zM1142 252h10v10h-10zM1142 262h10v10h-10zM1142 272h10v10h-10zM1142 282h10v10h-10zM1142 292h10v10h-10zM1152 302h10v10h-10zM1152 312h10v10h-10zM1152 322h10v10h-10zM1152 332h10v10h-10zM1152 342h10v10h-10zM1162 362h10v10h-10zM1162 372h10v10h-10zM1162 382h10v10h-10zM1162 392h10v10h-10zM1162 402h10v10h-10zM1172 432h10v10h-10zM1172 442h10v10h-10zM1172 452h10v10h-10zM1182 472h10v10h-10zM1182 482h10v10h-10zM1192 502h10v10h-10zM1202 522h10v10h-10zM1202 532h10v10h-10zM1212 542h10v10h-10zM1242 562h10v10h-10zM1242 572h10v10h-10zM1252 582h10v10h-10zM1262 592h10v10h-10zM1292 602h10v10h-10zM1332 612h10v10h-10zM1372 622h10v10h-10zM1412 632h10v10h-10zM1502 652h10v10h-10zM1532 662h10v10h-10zM1552 672h10v10h-10zM1612 702h10v10h-10zM1622 712h10v10h-10zM1632 722h10v10h-10z"/><path fill="#0085f7" d="M972 112h150v10h-150zM972 122h150v10h-150zM972 132h150v10h-150zM972 142h150v10h-150zM972 152h160v10h-160zM972 162h160v10h-160zM972 172h160v10h-160zM972 182h160v10h-160zM972 192h160v10h-160zM972 202h160v10h-160zM972 212h170v10h-170zM972 222h170v10h-170zM1112 232h30v10h-30zM1122 242h20v10h-20zM1122 252h20v10h-20zM1122 262h20v10h-20zM1132 272h10v10h-10zM1132 282h10v10h-10zM1132 292h10v10h-10zM1132 302h20v10h-20zM1142 312h10v10h-10zM1142 322h10v10h-10zM1142 332h10v10h-10zM1142 342h10v10h-10zM1152 352h10v10h-10zM1152 362h10v10h-10zM1152 372h10v10h-10zM1152 382h10v10h-10zM1152 392h10v10h-10zM1162 412h10v10h-10zM1162 422h10v10h-10zM1162 432h10v10h-10zM1162 442h10v10h-10zM1172 462h10v10h-10zM1172 472h10v10h-10zM1182 492h10v10h-10zM1182 502h10v10h-10zM1192 512h10v10h-10zM1192 522h10v10h-10zM1202 542h10v10h-10zM1212 552h10v10h-10zM1232 562h10v10h-10zM1232 572h10v10h-10zM1242 582h10v10h-10zM1252 592h10v10h-10zM1452 642h10v10h-10zM1572 682h10v10h-10zM1592 692h10v10h-10zM1642 732h10v10h-10z"/><path fill="#0089f8" d="M972 232h140v10h-140zM972 242h150v10h-150zM972 252h150v10h-150zM972 262h150v10h-150zM972 272h160v10h-160zM972 282h160v10h-160zM972 292h160v10h-160zM972 302h160v10h-160zM972 312h170v10h-170zM1122 322h20v10h-20zM1132 332h10v10h-10zM1132 342h10v10h-10zM1132 352h20v10h-20zM1142 362h10v10h-10zM1142 372h10v10h-10zM1142 382h10v10h-10zM1152 402h10v10h-10zM1152 412h10v10h-10zM1152 422h10v10h-10zM1152 432h10v10h-10zM1162 452h10v10h-10zM1162 462h10v10h-10zM1162 472h10v10h-10zM1172 482h10v10h-10zM1172 492h10v10h-10zM1182 512h10v10h-10zM1182 522h10v10h-10zM1192 532h10v10h-10zM1192 542h10v10h-10zM1202 552h10v10h-10zM1222 562h10v10h-10zM1222 572h10v10h-10zM1232 582h10v10h-10zM1242 592h10v10h-10zM1282 602h10v10h-10zM1322 612h10v10h-10zM1362 622h10v10h-10zM1402 632h10v10h-10zM1522 662h10v10h-10zM1602 702h10v10h-10zM1612 712h10v10h-10z"/><path fill="#008df8" d="M972 322h150v10h-150zM972 332h160v10h-160zM972 342h160v10h-160zM972 352h160v10h-160zM972 362h170v10h-170zM1122 372h20v10h-20zM1132 382h10v10h-10zM1132 392h20v10h-20zM1142 402h10v10h-10zM1142 412h10v10h-10zM1142 422h10v10h-10zM1142 432h10v10h-10zM1152 442h10v10h-10zM1152 452h10v10h-10zM1152 462h10v10h-10zM1162 482h10v10h-10zM1162 492h10v10h-10zM1172 502h10v10h-10zM1172 512h10v10h-10zM1182 532h10v10h-10zM1182 542h10v10h-10zM1192 552h10v10h-10zM1212 562h10v10h-10zM1212 572h10v10h-10zM1222 582h10v10h-10zM1232 592h10v10h-10zM1272 602h10v10h-10zM1312 612h10v10h-10zM1352 622h10v10h-10zM1442 642h10v10h-10zM1492 652h10v10h-10zM1542 672h10v10h-10zM1562 682h10v10h-10zM1622 722h10v10h-10zM1652 742h10v10h-10zM1652 752h10v10h-10z"/><path fill="#0091f8" d="M972 372h150v10h-150zM972 382h160v10h-160zM972 392h160v10h-160zM972 402h170v10h-170zM972 412h170v10h-170zM1122 422h20v10h-20zM1132 432h10v10h-10zM1132 442h20v10h-20zM1142 452h10v10h-10zM1142 462h10v10h-10zM1152 472h10v10h-10zM1152 482h10v10h-10zM1152 492h10v10h-10zM1162 502h10v10h-10zM1162 512h10v10h-10zM1172 522h10v10h-10zM1172 532h10v10h-10zM1172 542h10v10h-10zM1182 552h10v10h-10zM1202 562h10v10h-10zM1202 572h10v10h-10zM1212 582h10v10h-10zM1222 592h10v10h-10zM1262 602h10v10h-10zM1302 612h10v10h-10zM1392 632h10v10h-10zM1512 662h10v10h-10zM1582 692h10v10h-10z"/><path fill="#0095f8" d="M972 422h150v10h-150zM972 432h160v10h-160zM972 442h160v10h-160zM972 452h170v10h-170zM972 462h170v10h-170zM1132 472h20v10h-20zM1142 482h10v10h-10zM1142 492h10v10h-10zM1152 502h10v10h-10zM1152 512h10v10h-10zM1162 522h10v10h-10zM1162 532h10v10h-10zM1162 542h10v10h-10zM1172 552h10v10h-10zM1182 562h20v10h-20zM1192 572h10v10h-10zM1202 582h10v10h-10zM1212 592h10v10h-10zM1252 602h10v10h-10zM1292 612h10v10h-10zM1342 622h10v10h-10zM1382 632h10v10h-10zM1432 642h10v10h-10zM1482 652h10v10h-10zM1532 672h10v10h-10zM1552 682h10v10h-10zM1592 702h10v10h-10zM1602 712h10v10h-10zM1612 722h10v10h-10zM1632 732h10v10h-10z"/><path fill="#0099f9" d="M972 472h160v10h-160zM972 482h170v10h-170zM972 492h170v10h-170zM972 502h180v10h-180zM972 512h180v10h-180zM1142 522h20v10h-20zM1152 532h10v10h-10zM1152 542h10v10h-10zM1162 552h10v10h-10zM1172 562h10v10h-10zM1182 572h10v10h-10zM1192 582h10v10h-10zM1202 592h10v10h-10zM1242 602h10v10h-10zM1282 612h10v10h-10zM1332 622h10v10h-10zM1472 652h10v10h-10zM1502 662h10v10h-10zM1572 692h10v10h-10zM1642 742h10v10h-10zM1642 752h10v10h-10z"/><path fill="#009df9" d="M972 522h170v10h-170zM972 532h180v10h-180zM972 542h180v10h-180zM972 552h190v10h-190zM1152 562h20v10h-20zM1162 572h20v10h-20zM1172 582h20v10h-20zM1182 592h20v10h-20zM1222 602h20v10h-20zM1272 612h10v10h-10zM1322 622h10v10h-10zM1372 632h10v10h-10zM1422 642h10v10h-10zM1522 672h10v10h-10zM1542 682h10v10h-10zM1582 702h10v10h-10zM1592 712h10v10h-10z"/><path fill="#00a1f9" d="M972 562h180v10h-180zM972 572h190v10h-190zM972 582h200v10h-200zM972 592h210v10h-210zM972 602h250v10h-250zM1252 612h20v10h-20zM1302 622h20v10h-20zM1352 632h20v10h-20zM1412 642h10v10h-10zM1462 652h10v10h-10zM1492 662h10v10h-10zM1512 672h10v10h-10zM1562 692h10v10h-10zM1572 702h10v10h-10zM1602 722h10v10h-10zM1622 732h10v10h-10z"/><path fill="#00a5f9" d="M972 612h280v10h-280zM972 622h330v10h-330zM972 632h380v10h-380zM972 642h440v10h-440zM1442 652h20v10h-20zM1482 662h10v10h-10zM1502 672h10v10h-10zM1532 682h10v10h-10zM1552 692h10v10h-10zM1582 712h10v10h-10z"/><path fill="#00a9fa" d="M972 652h470v10h-470zM972 662h510v10h-510zM972 672h530v10h-530zM972 682h560v10h-560zM972 692h580v10h-580zM1562 702h10v10h-10zM1572 712h10v10h-10zM1592 722h10v10h-10zM1612 732h10v10h-10zM1632 742h10v10h-10zM1632 752h10v10h-10z"/><path fill="#00acfa" d="M972 702h590v10h-590zM1562 712h10v10h-10zM1582 722h10v10h-10z"/><path fill="#00b0fa" d="M972 712h590v10h-590zM1572 722h10v10h-10zM1602 732h10v10h-10z"/><path fill="#00b4fb" d="M972 722h600v10h-600zM1622 742h10v10h-10zM1622 752h10v10h-10z"/><path fill="#00c0fb" d="M972 732h610v10h-610zM1612 742h10v10h-10zM1612 752h10v10h-10z"/><path fill="#00bcfb" d="M1582 732h10v10h-10z"/><path fill="#00b8fb" d="M1592 732h10v10h-10z"/><path fill="#00d0fc" d="M972 742h620v10h-620zM1592 752h10v10h-10z"/><path fill="#00ccfc" d="M1592 742h10v10h-10z"/><path fill="#00c8fc" d="M1602 742h10v10h-10zM1602 752h10v10h-10z"/><path fill="#00d4fd" d="M972 752h620v10h-620z"/><path fill="#001ff0" d="M972 762h760v10h-760zM972 772h760v10h-760zM972 782h760v10h-760zM972 792h760v10h-760zM972 802h760v10h-760zM972 812h760v10h-760zM972 822h760v10h-760zM972 832h760v10h-760zM972 842h760v10h-760z"/></g>
<g filter="url(#fb3)"><ellipse cx="1029" cy="817" rx="17" ry="1.9" fill="#003ff2"/><ellipse cx="1300" cy="785" rx="23" ry="2.0" fill="#005af4"/><ellipse cx="1010" cy="832" rx="10" ry="2.2" fill="#0044f3"/><ellipse cx="1587" cy="796" rx="15" ry="2.6" fill="#007ef7"/><ellipse cx="1022" cy="784" rx="16" ry="2.2" fill="#0064f5"/><ellipse cx="1414" cy="813" rx="21" ry="2.1" fill="#0097f8"/><ellipse cx="1089" cy="815" rx="22" ry="2.6" fill="#006cf5"/><ellipse cx="1632" cy="805" rx="18" ry="2.4" fill="#0087f7"/><ellipse cx="1605" cy="836" rx="9" ry="2.8" fill="#00b7fb"/><ellipse cx="1460" cy="838" rx="15" ry="2.7" fill="#0068f5"/><ellipse cx="992" cy="814" rx="9" ry="2.9" fill="#0042f3"/><ellipse cx="1072" cy="801" rx="9" ry="2.4" fill="#0075f6"/><ellipse cx="1623" cy="803" rx="24" ry="3.1" fill="#0067f5"/><ellipse cx="1088" cy="795" rx="17" ry="2.6" fill="#004af3"/><ellipse cx="1493" cy="816" rx="9" ry="3.1" fill="#0094f8"/><ellipse cx="1560" cy="833" rx="15" ry="1.9" fill="#007ef7"/><ellipse cx="1451" cy="784" rx="11" ry="2.3" fill="#004bf3"/><ellipse cx="1014" cy="772" rx="15" ry="1.8" fill="#0041f2"/><ellipse cx="1631" cy="821" rx="14" ry="2.3" fill="#0064f5"/><ellipse cx="1324" cy="815" rx="14" ry="2.2" fill="#0046f3"/><ellipse cx="1597" cy="794" rx="18" ry="2.0" fill="#009cf9"/><ellipse cx="1382" cy="780" rx="24" ry="2.8" fill="#007ef7"/><ellipse cx="1171" cy="808" rx="18" ry="2.9" fill="#0079f6"/><ellipse cx="1714" cy="832" rx="21" ry="2.1" fill="#00dffd"/><ellipse cx="1363" cy="807" rx="13" ry="2.2" fill="#003ef2"/><ellipse cx="1494" cy="836" rx="26" ry="3.1" fill="#00d5fd"/><ellipse cx="1248" cy="799" rx="12" ry="2.7" fill="#004bf3"/><ellipse cx="1650" cy="831" rx="22" ry="1.9" fill="#00b5fb"/><ellipse cx="1470" cy="834" rx="17" ry="2.0" fill="#00b1fa"/><ellipse cx="1567" cy="806" rx="15" ry="2.4" fill="#00b2fa"/><ellipse cx="1685" cy="826" rx="11" ry="3.1" fill="#0052f4"/><ellipse cx="1710" cy="823" rx="10" ry="1.8" fill="#009df9"/><ellipse cx="1703" cy="823" rx="16" ry="3.0" fill="#00e0fe"/><ellipse cx="1595" cy="798" rx="12" ry="2.6" fill="#005bf4"/><ellipse cx="1170" cy="811" rx="14" ry="2.4" fill="#0086f7"/><ellipse cx="1413" cy="834" rx="17" ry="2.5" fill="#00c0fb"/><ellipse cx="1368" cy="778" rx="8" ry="2.9" fill="#0047f3"/><ellipse cx="1392" cy="806" rx="22" ry="1.9" fill="#0074f6"/><ellipse cx="1395" cy="801" rx="17" ry="2.6" fill="#0086f7"/><ellipse cx="1545" cy="834" rx="17" ry="2.5" fill="#00a4f9"/><ellipse cx="1495" cy="813" rx="25" ry="2.8" fill="#0077f6"/><ellipse cx="1632" cy="836" rx="25" ry="3.0" fill="#00a7fa"/><ellipse cx="1029" cy="800" rx="22" ry="3.1" fill="#0065f5"/><ellipse cx="1140" cy="836" rx="26" ry="3.0" fill="#0067f5"/><ellipse cx="1229" cy="797" rx="8" ry="2.6" fill="#0074f6"/><ellipse cx="1305" cy="778" rx="17" ry="1.9" fill="#0063f5"/><ellipse cx="1714" cy="829" rx="13" ry="1.9" fill="#004ff3"/><ellipse cx="1559" cy="802" rx="24" ry="2.9" fill="#006bf5"/><ellipse cx="1403" cy="825" rx="20" ry="2.4" fill="#0042f3"/><ellipse cx="1025" cy="832" rx="18" ry="3.1" fill="#0052f4"/><ellipse cx="1154" cy="790" rx="12" ry="2.2" fill="#003ef2"/><ellipse cx="1204" cy="828" rx="11" ry="2.3" fill="#006cf6"/><ellipse cx="989" cy="801" rx="18" ry="2.1" fill="#0066f5"/><ellipse cx="1331" cy="835" rx="16" ry="2.5" fill="#00a5f9"/><ellipse cx="1601" cy="810" rx="26" ry="2.3" fill="#0097f8"/><ellipse cx="1599" cy="826" rx="14" ry="1.9" fill="#007ef7"/><ellipse cx="1167" cy="794" rx="24" ry="2.7" fill="#0077f6"/><ellipse cx="1186" cy="800" rx="11" ry="2.4" fill="#005ef5"/><ellipse cx="1207" cy="808" rx="17" ry="2.5" fill="#005bf4"/><ellipse cx="1126" cy="816" rx="10" ry="2.4" fill="#0050f4"/><ellipse cx="1150" cy="820" rx="20" ry="2.8" fill="#007af6"/><ellipse cx="1634" cy="809" rx="11" ry="2.8" fill="#00c2fb"/><ellipse cx="1644" cy="822" rx="11" ry="2.5" fill="#00c1fb"/><ellipse cx="1487" cy="825" rx="10" ry="2.3" fill="#003ff2"/><ellipse cx="1054" cy="831" rx="19" ry="2.8" fill="#0068f5"/><ellipse cx="1536" cy="816" rx="9" ry="2.8" fill="#0095f8"/><ellipse cx="1164" cy="786" rx="12" ry="2.8" fill="#006cf5"/><ellipse cx="1707" cy="815" rx="20" ry="2.9" fill="#0087f7"/><ellipse cx="1438" cy="823" rx="13" ry="2.8" fill="#004ef3"/><ellipse cx="1203" cy="819" rx="13" ry="2.7" fill="#0040f2"/><ellipse cx="1494" cy="824" rx="16" ry="2.5" fill="#0086f7"/><ellipse cx="1064" cy="834" rx="25" ry="1.8" fill="#0084f7"/><ellipse cx="1312" cy="802" rx="12" ry="2.6" fill="#0091f8"/><ellipse cx="1074" cy="831" rx="21" ry="2.1" fill="#007ef7"/><ellipse cx="1648" cy="815" rx="17" ry="2.4" fill="#003bf2"/><ellipse cx="1201" cy="792" rx="23" ry="1.8" fill="#0052f4"/><ellipse cx="1538" cy="831" rx="21" ry="3.1" fill="#00d4fd"/><ellipse cx="1192" cy="808" rx="19" ry="2.3" fill="#008ef8"/><ellipse cx="1296" cy="802" rx="23" ry="2.2" fill="#0044f3"/><ellipse cx="1677" cy="801" rx="11" ry="2.3" fill="#007af6"/><ellipse cx="1692" cy="833" rx="24" ry="3.1" fill="#00b9fb"/><ellipse cx="1387" cy="826" rx="16" ry="2.9" fill="#009af9"/><ellipse cx="1458" cy="803" rx="10" ry="2.5" fill="#009ef9"/><ellipse cx="1707" cy="801" rx="18" ry="2.4" fill="#0061f5"/><ellipse cx="1100" cy="794" rx="17" ry="2.1" fill="#0078f6"/><ellipse cx="1655" cy="838" rx="11" ry="1.9" fill="#0057f4"/><ellipse cx="1231" cy="788" rx="18" ry="3.0" fill="#004df3"/><ellipse cx="1537" cy="811" rx="15" ry="2.3" fill="#007ef7"/><ellipse cx="1622" cy="798" rx="15" ry="2.4" fill="#0057f4"/><ellipse cx="1690" cy="832" rx="9" ry="2.8" fill="#003ff2"/><ellipse cx="1647" cy="814" rx="15" ry="3.1" fill="#003bf2"/><ellipse cx="1161" cy="789" rx="20" ry="3.1" fill="#005ff5"/><ellipse cx="1516" cy="823" rx="18" ry="1.9" fill="#007ef7"/><ellipse cx="1459" cy="804" rx="19" ry="2.8" fill="#0056f4"/><ellipse cx="1412" cy="809" rx="8" ry="2.2" fill="#007df7"/><ellipse cx="1321" cy="836" rx="17" ry="2.1" fill="#00adfa"/><ellipse cx="1481" cy="811" rx="25" ry="2.1" fill="#008cf8"/><ellipse cx="1529" cy="816" rx="14" ry="2.9" fill="#00bffb"/><ellipse cx="1196" cy="836" rx="12" ry="2.4" fill="#004ef3"/><ellipse cx="1474" cy="836" rx="12" ry="3.2" fill="#007af6"/><ellipse cx="1081" cy="783" rx="24" ry="3.0" fill="#0053f4"/><ellipse cx="1259" cy="809" rx="8" ry="2.2" fill="#004af3"/><ellipse cx="1239" cy="836" rx="12" ry="2.3" fill="#00a7fa"/><ellipse cx="1591" cy="831" rx="17" ry="2.3" fill="#0043f3"/><ellipse cx="1665" cy="797" rx="9" ry="2.4" fill="#00a0f9"/><ellipse cx="1584" cy="828" rx="9" ry="3.1" fill="#0041f2"/><ellipse cx="1212" cy="802" rx="24" ry="2.7" fill="#0078f6"/><ellipse cx="1682" cy="779" rx="25" ry="3.1" fill="#005ef5"/><ellipse cx="1265" cy="801" rx="25" ry="2.1" fill="#0065f5"/><ellipse cx="1577" cy="827" rx="19" ry="2.3" fill="#00bafb"/><ellipse cx="1160" cy="785" rx="14" ry="3.2" fill="#005ff5"/><ellipse cx="1638" cy="838" rx="10" ry="2.5" fill="#004bf3"/><ellipse cx="1507" cy="813" rx="19" ry="2.7" fill="#0070f6"/><ellipse cx="1536" cy="832" rx="23" ry="2.2" fill="#004ff3"/><ellipse cx="1124" cy="801" rx="24" ry="2.6" fill="#0046f3"/><ellipse cx="1465" cy="838" rx="23" ry="3.0" fill="#0087f7"/><ellipse cx="1661" cy="782" rx="11" ry="3.2" fill="#0044f3"/><ellipse cx="1412" cy="835" rx="16" ry="2.2" fill="#00bafb"/><ellipse cx="1558" cy="836" rx="19" ry="2.1" fill="#00a5f9"/><ellipse cx="1252" cy="792" rx="19" ry="2.7" fill="#004ef3"/><ellipse cx="1128" cy="777" rx="11" ry="2.2" fill="#0064f5"/><ellipse cx="1128" cy="830" rx="10" ry="2.4" fill="#0040f2"/><ellipse cx="1388" cy="822" rx="21" ry="2.4" fill="#004ff3"/><ellipse cx="1209" cy="819" rx="24" ry="3.2" fill="#0062f5"/><ellipse cx="1293" cy="831" rx="16" ry="2.0" fill="#00a3f9"/><ellipse cx="1657" cy="787" rx="17" ry="2.0" fill="#005df4"/><ellipse cx="1700" cy="797" rx="26" ry="2.5" fill="#00a9fa"/><ellipse cx="1015" cy="835" rx="19" ry="3.0" fill="#0076f6"/><ellipse cx="1095" cy="829" rx="23" ry="3.0" fill="#005bf4"/><ellipse cx="1112" cy="798" rx="15" ry="2.0" fill="#005ff5"/><ellipse cx="1004" cy="831" rx="18" ry="2.7" fill="#0061f5"/><ellipse cx="1294" cy="823" rx="8" ry="2.7" fill="#006bf5"/><ellipse cx="1560" cy="813" rx="10" ry="2.0" fill="#007bf7"/><ellipse cx="1298" cy="788" rx="9" ry="2.7" fill="#0061f5"/><ellipse cx="1359" cy="783" rx="25" ry="2.0" fill="#0056f4"/><ellipse cx="1618" cy="838" rx="11" ry="3.2" fill="#00d9fd"/><ellipse cx="1094" cy="834" rx="11" ry="2.5" fill="#007df7"/><ellipse cx="1665" cy="798" rx="14" ry="1.9" fill="#0075f6"/><ellipse cx="1485" cy="834" rx="10" ry="2.5" fill="#00b8fb"/><ellipse cx="1271" cy="830" rx="18" ry="2.3" fill="#00aafa"/><ellipse cx="1548" cy="812" rx="9" ry="2.9" fill="#009ef9"/><ellipse cx="1414" cy="824" rx="9" ry="2.0" fill="#003bf2"/><ellipse cx="1437" cy="812" rx="10" ry="2.1" fill="#00a4f9"/><ellipse cx="1465" cy="779" rx="10" ry="2.3" fill="#0053f4"/><ellipse cx="1128" cy="822" rx="25" ry="2.1" fill="#0046f3"/><ellipse cx="1628" cy="829" rx="8" ry="2.7" fill="#006af5"/><ellipse cx="1397" cy="807" rx="25" ry="2.8" fill="#006af5"/><ellipse cx="1161" cy="834" rx="15" ry="2.1" fill="#006df6"/><ellipse cx="1019" cy="829" rx="25" ry="2.0" fill="#005ff5"/><ellipse cx="1125" cy="821" rx="23" ry="2.0" fill="#006ff6"/><ellipse cx="1207" cy="804" rx="22" ry="2.8" fill="#0084f7"/><ellipse cx="1324" cy="827" rx="10" ry="2.1" fill="#0056f4"/><ellipse cx="1496" cy="832" rx="18" ry="2.4" fill="#0065f5"/><ellipse cx="1566" cy="817" rx="25" ry="2.1" fill="#0097f8"/><ellipse cx="1635" cy="777" rx="21" ry="3.1" fill="#004bf3"/><ellipse cx="1448" cy="825" rx="16" ry="3.0" fill="#00c2fb"/><ellipse cx="1498" cy="832" rx="18" ry="2.2" fill="#00aefa"/><ellipse cx="1134" cy="822" rx="11" ry="1.8" fill="#0087f7"/><ellipse cx="1055" cy="835" rx="9" ry="1.9" fill="#0045f3"/><ellipse cx="1494" cy="822" rx="9" ry="2.6" fill="#00a3f9"/><ellipse cx="1682" cy="703" rx="8" ry="3" fill="#0054f4" opacity="0.8"/><ellipse cx="1639" cy="500" rx="11" ry="4" fill="#0077f6" opacity="0.8"/><ellipse cx="1342" cy="148" rx="8" ry="4" fill="#0074f6" opacity="0.8"/><ellipse cx="1477" cy="98" rx="8" ry="5" fill="#005bf4" opacity="0.8"/><ellipse cx="1454" cy="294" rx="10" ry="6" fill="#007ef7" opacity="0.8"/><ellipse cx="1558" cy="104" rx="9" ry="5" fill="#0063f5" opacity="0.8"/><ellipse cx="1445" cy="546" rx="8" ry="6" fill="#0069f5" opacity="0.8"/><ellipse cx="1371" cy="85" rx="12" ry="6" fill="#0058f4" opacity="0.8"/><ellipse cx="1302" cy="406" rx="12" ry="4" fill="#0066f5" opacity="0.8"/><ellipse cx="1507" cy="312" rx="8" ry="6" fill="#0077f6" opacity="0.8"/><ellipse cx="1419" cy="225" rx="10" ry="3" fill="#0071f6" opacity="0.8"/><ellipse cx="1566" cy="137" rx="12" ry="5" fill="#0075f6" opacity="0.8"/><ellipse cx="1562" cy="317" rx="9" ry="6" fill="#0062f5" opacity="0.8"/><ellipse cx="1311" cy="219" rx="13" ry="5" fill="#005bf4" opacity="0.8"/><ellipse cx="1398" cy="386" rx="12" ry="5" fill="#0068f5" opacity="0.8"/><ellipse cx="1570" cy="313" rx="7" ry="6" fill="#005ef5" opacity="0.8"/><ellipse cx="1577" cy="571" rx="10" ry="5" fill="#0057f4" opacity="0.8"/><ellipse cx="1542" cy="167" rx="13" ry="4" fill="#0065f5" opacity="0.8"/><ellipse cx="1380" cy="282" rx="13" ry="3" fill="#0071f6" opacity="0.8"/><ellipse cx="1365" cy="246" rx="10" ry="3" fill="#005ef5" opacity="0.8"/><ellipse cx="1437" cy="208" rx="12" ry="3" fill="#007ef7" opacity="0.8"/><ellipse cx="1702" cy="151" rx="14" ry="5" fill="#0061f5" opacity="0.8"/><ellipse cx="1607" cy="369" rx="11" ry="3" fill="#0058f4" opacity="0.8"/><ellipse cx="1386" cy="339" rx="9" ry="5" fill="#0050f4" opacity="0.8"/><ellipse cx="1590" cy="412" rx="10" ry="3" fill="#006df6" opacity="0.8"/><ellipse cx="1552" cy="349" rx="13" ry="4" fill="#0073f6" opacity="0.8"/><ellipse cx="1540" cy="575" rx="8" ry="5" fill="#0063f5" opacity="0.8"/><ellipse cx="1668" cy="592" rx="13" ry="5" fill="#0071f6" opacity="0.8"/><ellipse cx="1568" cy="382" rx="11" ry="3" fill="#005ef5" opacity="0.8"/><ellipse cx="1475" cy="597" rx="11" ry="4" fill="#0071f6" opacity="0.8"/><ellipse cx="1477" cy="383" rx="9" ry="5" fill="#006df6" opacity="0.8"/><ellipse cx="1689" cy="204" rx="12" ry="4" fill="#006ef6" opacity="0.8"/><ellipse cx="1316" cy="440" rx="12" ry="6" fill="#0056f4" opacity="0.8"/><ellipse cx="1517" cy="150" rx="10" ry="5" fill="#006bf5" opacity="0.8"/><ellipse cx="1514" cy="503" rx="10" ry="4" fill="#0077f6" opacity="0.8"/><ellipse cx="1696" cy="222" rx="9" ry="5" fill="#0070f6" opacity="0.8"/><ellipse cx="1449" cy="121" rx="9" ry="3" fill="#005cf4" opacity="0.8"/><ellipse cx="1475" cy="360" rx="9" ry="4" fill="#0071f6" opacity="0.8"/><ellipse cx="1394" cy="570" rx="10" ry="4" fill="#007cf7" opacity="0.8"/><ellipse cx="1635" cy="341" rx="7" ry="5" fill="#0059f4" opacity="0.8"/><ellipse cx="1638" cy="500" rx="10" ry="4" fill="#0065f5" opacity="0.8"/><ellipse cx="1703" cy="316" rx="13" ry="5" fill="#006ef6" opacity="0.8"/><ellipse cx="1496" cy="277" rx="7" ry="6" fill="#0069f5" opacity="0.8"/><ellipse cx="1412" cy="331" rx="9" ry="4" fill="#005bf4" opacity="0.8"/><ellipse cx="1301" cy="557" rx="8" ry="4" fill="#005cf4" opacity="0.8"/><ellipse cx="1500" cy="365" rx="11" ry="4" fill="#006ef6" opacity="0.8"/><ellipse cx="1688" cy="645" rx="13" ry="6" fill="#0051f4" opacity="0.8"/><ellipse cx="1628" cy="176" rx="11" ry="3" fill="#0077f6" opacity="0.8"/><ellipse cx="1574" cy="248" rx="7" ry="4" fill="#0053f4" opacity="0.8"/><ellipse cx="1624" cy="311" rx="13" ry="5" fill="#0056f4" opacity="0.8"/><ellipse cx="1554" cy="597" rx="13" ry="5" fill="#006ff6" opacity="0.8"/><ellipse cx="1651" cy="213" rx="10" ry="5" fill="#0070f6" opacity="0.8"/><ellipse cx="1532" cy="258" rx="7" ry="4" fill="#005af4" opacity="0.8"/><ellipse cx="1324" cy="390" rx="10" ry="4" fill="#0055f4" opacity="0.8"/><ellipse cx="1526" cy="650" rx="13" ry="4" fill="#004ff3" opacity="0.8"/><ellipse cx="1535" cy="520" rx="9" ry="4" fill="#0078f6" opacity="0.8"/><ellipse cx="1702" cy="133" rx="11" ry="3" fill="#006ef6" opacity="0.8"/><ellipse cx="1555" cy="532" rx="9" ry="6" fill="#007cf7" opacity="0.8"/><ellipse cx="1513" cy="402" rx="6" ry="5" fill="#007af6" opacity="0.8"/><ellipse cx="1561" cy="306" rx="9" ry="4" fill="#0079f6" opacity="0.8"/><ellipse cx="1520" cy="589" rx="9" ry="4" fill="#0059f4" opacity="0.8"/><ellipse cx="1532" cy="626" rx="13" ry="4" fill="#005df4" opacity="0.8"/><ellipse cx="1511" cy="262" rx="14" ry="5" fill="#0067f5" opacity="0.8"/><ellipse cx="1631" cy="301" rx="8" ry="5" fill="#005ef5" opacity="0.8"/><ellipse cx="1565" cy="598" rx="12" ry="6" fill="#0050f4" opacity="0.8"/><ellipse cx="1528" cy="117" rx="6" ry="4" fill="#005df4" opacity="0.8"/><ellipse cx="1685" cy="483" rx="12" ry="6" fill="#006ff6" opacity="0.8"/><ellipse cx="1556" cy="489" rx="12" ry="5" fill="#006df6" opacity="0.8"/><ellipse cx="1585" cy="223" rx="10" ry="5" fill="#006ff6" opacity="0.8"/><ellipse cx="1342" cy="203" rx="12" ry="6" fill="#0050f4" opacity="0.8"/><ellipse cx="1574" cy="326" rx="12" ry="5" fill="#0077f6" opacity="0.8"/><ellipse cx="1408" cy="282" rx="9" ry="4" fill="#0063f5" opacity="0.8"/><ellipse cx="1323" cy="456" rx="7" ry="5" fill="#0050f4" opacity="0.8"/><ellipse cx="1487" cy="93" rx="11" ry="6" fill="#0061f5" opacity="0.8"/><ellipse cx="1710" cy="396" rx="7" ry="5" fill="#0063f5" opacity="0.8"/><ellipse cx="1389" cy="184" rx="6" ry="5" fill="#004ff3" opacity="0.8"/><ellipse cx="1354" cy="96" rx="8" ry="5" fill="#0072f6" opacity="0.8"/><ellipse cx="1378" cy="117" rx="12" ry="6" fill="#0074f6" opacity="0.8"/><ellipse cx="1605" cy="139" rx="12" ry="4" fill="#006df6" opacity="0.8"/><ellipse cx="1690" cy="251" rx="12" ry="3" fill="#007ef7" opacity="0.8"/><ellipse cx="1306" cy="511" rx="7" ry="4" fill="#0076f6" opacity="0.8"/><ellipse cx="1605" cy="193" rx="10" ry="3" fill="#0079f6" opacity="0.8"/><ellipse cx="1454" cy="461" rx="11" ry="3" fill="#0064f5" opacity="0.8"/><ellipse cx="1633" cy="322" rx="11" ry="4" fill="#006ef6" opacity="0.8"/><ellipse cx="1461" cy="600" rx="12" ry="5" fill="#007df7" opacity="0.8"/><ellipse cx="1422" cy="124" rx="12" ry="5" fill="#007ef7" opacity="0.8"/><ellipse cx="1439" cy="481" rx="13" ry="5" fill="#007ef7" opacity="0.8"/><ellipse cx="1429" cy="365" rx="9" ry="5" fill="#007af6" opacity="0.8"/><ellipse cx="1638" cy="270" rx="8" ry="4" fill="#004ef3" opacity="0.8"/><ellipse cx="1545" cy="619" rx="6" ry="5" fill="#007af6" opacity="0.8"/><ellipse cx="1639" cy="653" rx="8" ry="6" fill="#006af5" opacity="0.8"/><ellipse cx="1637" cy="533" rx="9" ry="3" fill="#007bf7" opacity="0.8"/><ellipse cx="1531" cy="607" rx="12" ry="6" fill="#0058f4" opacity="0.8"/><ellipse cx="1398" cy="482" rx="10" ry="4" fill="#0070f6" opacity="0.8"/><ellipse cx="1406" cy="577" rx="10" ry="3" fill="#0075f6" opacity="0.8"/><ellipse cx="1637" cy="591" rx="11" ry="6" fill="#005af4" opacity="0.8"/><ellipse cx="1670" cy="426" rx="11" ry="4" fill="#0066f5" opacity="0.8"/><ellipse cx="1380" cy="203" rx="9" ry="5" fill="#0071f6" opacity="0.8"/><ellipse cx="1468" cy="423" rx="6" ry="6" fill="#0056f4" opacity="0.8"/><ellipse cx="1456" cy="154" rx="12" ry="3" fill="#006df6" opacity="0.8"/><ellipse cx="1550" cy="310" rx="6" ry="3" fill="#0068f5" opacity="0.8"/><ellipse cx="1714" cy="652" rx="11" ry="4" fill="#0066f5" opacity="0.8"/><ellipse cx="1626" cy="363" rx="12" ry="5" fill="#007df7" opacity="0.8"/><ellipse cx="1703" cy="251" rx="8" ry="4" fill="#0050f4" opacity="0.8"/><ellipse cx="1335" cy="117" rx="13" ry="4" fill="#006af5" opacity="0.8"/><ellipse cx="1696" cy="681" rx="11" ry="4" fill="#0052f4" opacity="0.8"/><ellipse cx="1408" cy="454" rx="14" ry="5" fill="#006ef6" opacity="0.8"/><ellipse cx="1464" cy="378" rx="14" ry="6" fill="#0056f4" opacity="0.8"/><ellipse cx="1393" cy="109" rx="9" ry="6" fill="#005bf4" opacity="0.8"/><ellipse cx="1678" cy="633" rx="12" ry="5" fill="#0051f4" opacity="0.8"/><ellipse cx="1323" cy="179" rx="14" ry="5" fill="#0073f6" opacity="0.8"/><ellipse cx="1425" cy="472" rx="7" ry="4" fill="#0074f6" opacity="0.8"/><ellipse cx="1407" cy="165" rx="7" ry="4" fill="#0066f5" opacity="0.8"/><ellipse cx="1360" cy="529" rx="12" ry="4" fill="#004ff3" opacity="0.8"/><ellipse cx="1662" cy="667" rx="10" ry="3" fill="#0055f4" opacity="0.8"/><ellipse cx="1688" cy="637" rx="10" ry="4" fill="#006df6" opacity="0.8"/><ellipse cx="1644" cy="397" rx="7" ry="4" fill="#006df6" opacity="0.8"/><ellipse cx="1324" cy="552" rx="7" ry="6" fill="#006af5" opacity="0.8"/><ellipse cx="1411" cy="354" rx="8" ry="6" fill="#0056f4" opacity="0.8"/><ellipse cx="1440" cy="194" rx="9" ry="6" fill="#0066f5" opacity="0.8"/><ellipse cx="1579" cy="223" rx="8" ry="4" fill="#0066f5" opacity="0.8"/><ellipse cx="1384" cy="323" rx="14" ry="6" fill="#007ff7" opacity="0.8"/><ellipse cx="1341" cy="274" rx="6" ry="5" fill="#007af6" opacity="0.8"/><ellipse cx="1442" cy="176" rx="13" ry="5" fill="#004ef3" opacity="0.8"/><ellipse cx="1378" cy="370" rx="8" ry="5" fill="#007bf7" opacity="0.8"/><ellipse cx="1358" cy="202" rx="12" ry="4" fill="#0074f6" opacity="0.8"/><ellipse cx="1333" cy="141" rx="10" ry="4" fill="#006cf6" opacity="0.8"/><ellipse cx="1386" cy="486" rx="12" ry="5" fill="#0071f6" opacity="0.8"/><ellipse cx="1385" cy="127" rx="9" ry="5" fill="#0072f6" opacity="0.8"/><ellipse cx="1661" cy="407" rx="13" ry="4" fill="#004ff3" opacity="0.8"/><ellipse cx="1665" cy="259" rx="13" ry="4" fill="#0058f4" opacity="0.8"/><ellipse cx="1368" cy="327" rx="6" ry="5" fill="#006cf5" opacity="0.8"/><ellipse cx="1486" cy="422" rx="12" ry="5" fill="#0054f4" opacity="0.8"/><ellipse cx="1662" cy="295" rx="9" ry="5" fill="#0071f6" opacity="0.8"/><ellipse cx="1699" cy="409" rx="10" ry="5" fill="#0068f5" opacity="0.8"/><ellipse cx="1394" cy="204" rx="8" ry="5" fill="#0053f4" opacity="0.8"/><ellipse cx="1313" cy="147" rx="8" ry="3" fill="#0071f6" opacity="0.8"/><ellipse cx="1551" cy="462" rx="12" ry="3" fill="#0068f5" opacity="0.8"/><ellipse cx="1663" cy="554" rx="7" ry="4" fill="#0051f4" opacity="0.8"/><ellipse cx="1509" cy="267" rx="9" ry="3" fill="#0054f4" opacity="0.8"/><ellipse cx="1547" cy="649" rx="11" ry="5" fill="#0056f4" opacity="0.8"/><ellipse cx="1692" cy="339" rx="13" ry="5" fill="#0063f5" opacity="0.8"/><ellipse cx="1625" cy="306" rx="9" ry="4" fill="#005af4" opacity="0.8"/><ellipse cx="1710" cy="612" rx="13" ry="6" fill="#007bf7" opacity="0.8"/><ellipse cx="1322" cy="423" rx="13" ry="4" fill="#007df7" opacity="0.8"/><ellipse cx="1476" cy="499" rx="10" ry="3" fill="#0060f5" opacity="0.8"/><ellipse cx="1481" cy="415" rx="7" ry="6" fill="#004ff4" opacity="0.8"/><ellipse cx="1565" cy="615" rx="13" ry="3" fill="#007af6" opacity="0.8"/><ellipse cx="1568" cy="258" rx="8" ry="5" fill="#0070f6" opacity="0.8"/><ellipse cx="1686" cy="492" rx="10" ry="4" fill="#005bf4" opacity="0.8"/><ellipse cx="1697" cy="273" rx="11" ry="3" fill="#005df4" opacity="0.8"/><ellipse cx="1515" cy="260" rx="10" ry="3" fill="#0065f5" opacity="0.8"/><ellipse cx="1352" cy="170" rx="9" ry="4" fill="#005df4" opacity="0.8"/><ellipse cx="1402" cy="142" rx="13" ry="5" fill="#0069f5" opacity="0.8"/><ellipse cx="1538" cy="511" rx="12" ry="4" fill="#0058f4" opacity="0.8"/><ellipse cx="1529" cy="486" rx="8" ry="4" fill="#0065f5" opacity="0.8"/><ellipse cx="1393" cy="420" rx="11" ry="3" fill="#0061f5" opacity="0.8"/><ellipse cx="1400" cy="449" rx="8" ry="6" fill="#0066f5" opacity="0.8"/><ellipse cx="1424" cy="591" rx="7" ry="6" fill="#0056f4" opacity="0.8"/><ellipse cx="1484" cy="125" rx="10" ry="5" fill="#0061f5" opacity="0.8"/><ellipse cx="1346" cy="232" rx="12" ry="3" fill="#007df7" opacity="0.8"/><ellipse cx="1441" cy="315" rx="11" ry="6" fill="#006ff6" opacity="0.8"/><ellipse cx="1643" cy="424" rx="12" ry="5" fill="#0073f6" opacity="0.8"/><ellipse cx="1499" cy="599" rx="13" ry="3" fill="#0071f6" opacity="0.8"/><ellipse cx="1664" cy="87" rx="11" ry="4" fill="#0074f6" opacity="0.8"/><ellipse cx="1702" cy="459" rx="12" ry="6" fill="#0063f5" opacity="0.8"/><ellipse cx="1554" cy="333" rx="10" ry="5" fill="#0065f5" opacity="0.8"/><ellipse cx="1422" cy="340" rx="9" ry="4" fill="#006af5" opacity="0.8"/><ellipse cx="1629" cy="641" rx="10" ry="4" fill="#0067f5" opacity="0.8"/><ellipse cx="1427" cy="179" rx="11" ry="3" fill="#006bf5" opacity="0.8"/><ellipse cx="1685" cy="296" rx="13" ry="6" fill="#0078f6" opacity="0.8"/><ellipse cx="1385" cy="364" rx="6" ry="3" fill="#007bf7" opacity="0.8"/><ellipse cx="1536" cy="410" rx="12" ry="5" fill="#007bf7" opacity="0.8"/><ellipse cx="1717" cy="423" rx="11" ry="4" fill="#0068f5" opacity="0.8"/><ellipse cx="1450" cy="474" rx="14" ry="5" fill="#0060f5" opacity="0.8"/><ellipse cx="1520" cy="149" rx="9" ry="5" fill="#0061f5" opacity="0.8"/><ellipse cx="1703" cy="403" rx="11" ry="6" fill="#0064f5" opacity="0.8"/><ellipse cx="1443" cy="432" rx="7" ry="4" fill="#0076f6" opacity="0.8"/><ellipse cx="1709" cy="626" rx="7" ry="6" fill="#0068f5" opacity="0.8"/><ellipse cx="1588" cy="622" rx="13" ry="4" fill="#007ff7" opacity="0.8"/><ellipse cx="1365" cy="274" rx="10" ry="4" fill="#0067f5" opacity="0.8"/><ellipse cx="1376" cy="497" rx="9" ry="6" fill="#006cf5" opacity="0.8"/><ellipse cx="1566" cy="112" rx="12" ry="4" fill="#0063f5" opacity="0.8"/><ellipse cx="1589" cy="87" rx="13" ry="5" fill="#005df4" opacity="0.8"/><ellipse cx="1579" cy="213" rx="10" ry="4" fill="#0067f5" opacity="0.8"/><ellipse cx="1570" cy="433" rx="11" ry="4" fill="#007ff7" opacity="0.8"/><ellipse cx="1351" cy="187" rx="7" ry="3" fill="#0074f6" opacity="0.8"/><ellipse cx="1371" cy="427" rx="11" ry="5" fill="#0077f6" opacity="0.8"/><ellipse cx="1326" cy="92" rx="9" ry="5" fill="#0074f6" opacity="0.8"/><ellipse cx="1448" cy="195" rx="7" ry="6" fill="#005bf4" opacity="0.8"/><ellipse cx="1543" cy="313" rx="9" ry="3" fill="#0064f5" opacity="0.8"/><ellipse cx="1672" cy="466" rx="10" ry="5" fill="#007df7" opacity="0.8"/><ellipse cx="1404" cy="113" rx="13" ry="4" fill="#007cf7" opacity="0.8"/><ellipse cx="1676" cy="619" rx="11" ry="6" fill="#005df4" opacity="0.8"/><ellipse cx="1402" cy="340" rx="8" ry="4" fill="#0072f6" opacity="0.8"/><ellipse cx="1666" cy="402" rx="8" ry="4" fill="#0075f6" opacity="0.8"/><ellipse cx="1450" cy="206" rx="8" ry="5" fill="#007ef7" opacity="0.8"/><ellipse cx="1348" cy="434" rx="9" ry="3" fill="#0061f5" opacity="0.8"/><ellipse cx="1447" cy="245" rx="8" ry="4" fill="#0058f4" opacity="0.8"/><ellipse cx="1315" cy="520" rx="7" ry="5" fill="#005ff5" opacity="0.8"/><ellipse cx="1339" cy="261" rx="7" ry="4" fill="#0077f6" opacity="0.8"/><ellipse cx="1650" cy="612" rx="9" ry="5" fill="#0056f4" opacity="0.8"/><ellipse cx="1511" cy="233" rx="7" ry="5" fill="#0065f5" opacity="0.8"/><ellipse cx="1546" cy="325" rx="11" ry="4" fill="#005af4" opacity="0.8"/><ellipse cx="1665" cy="165" rx="10" ry="4" fill="#0068f5" opacity="0.8"/><ellipse cx="1623" cy="336" rx="11" ry="4" fill="#006ff6" opacity="0.8"/><ellipse cx="1463" cy="140" rx="13" ry="4" fill="#0057f4" opacity="0.8"/><ellipse cx="1577" cy="155" rx="9" ry="5" fill="#006af5" opacity="0.8"/><ellipse cx="1424" cy="127" rx="8" ry="3" fill="#005ef4" opacity="0.8"/><ellipse cx="1600" cy="269" rx="13" ry="5" fill="#0062f5" opacity="0.8"/><ellipse cx="1669" cy="649" rx="8" ry="3" fill="#0055f4" opacity="0.8"/><ellipse cx="1584" cy="519" rx="9" ry="5" fill="#0060f5" opacity="0.8"/><ellipse cx="1592" cy="247" rx="9" ry="5" fill="#0078f6" opacity="0.8"/><ellipse cx="1376" cy="160" rx="12" ry="5" fill="#007bf7" opacity="0.8"/><ellipse cx="1317" cy="110" rx="8" ry="4" fill="#0056f4" opacity="0.8"/><ellipse cx="1459" cy="110" rx="11" ry="4" fill="#005ef4" opacity="0.8"/><ellipse cx="1651" cy="458" rx="8" ry="4" fill="#0072f6" opacity="0.8"/><ellipse cx="1586" cy="313" rx="13" ry="5" fill="#004ef3" opacity="0.8"/><ellipse cx="1420" cy="112" rx="11" ry="3" fill="#0078f6" opacity="0.8"/><ellipse cx="1402" cy="157" rx="8" ry="6" fill="#0075f6" opacity="0.8"/><ellipse cx="1613" cy="141" rx="9" ry="5" fill="#0070f6" opacity="0.8"/><ellipse cx="1646" cy="268" rx="14" ry="4" fill="#0053f4" opacity="0.8"/><ellipse cx="1689" cy="538" rx="13" ry="5" fill="#0073f6" opacity="0.8"/><ellipse cx="1489" cy="120" rx="9" ry="5" fill="#0071f6" opacity="0.8"/><ellipse cx="1688" cy="168" rx="6" ry="5" fill="#0074f6" opacity="0.8"/><ellipse cx="1637" cy="255" rx="14" ry="5" fill="#0069f5" opacity="0.8"/><ellipse cx="1527" cy="248" rx="9" ry="4" fill="#0051f4" opacity="0.8"/><ellipse cx="1384" cy="288" rx="12" ry="5" fill="#0055f4" opacity="0.8"/><ellipse cx="1399" cy="243" rx="10" ry="6" fill="#0068f5" opacity="0.8"/><ellipse cx="1447" cy="280" rx="7" ry="5" fill="#007af6" opacity="0.8"/><ellipse cx="1439" cy="619" rx="12" ry="4" fill="#0069f5" opacity="0.8"/><ellipse cx="1579" cy="477" rx="12" ry="5" fill="#0065f5" opacity="0.8"/><ellipse cx="1348" cy="274" rx="8" ry="3" fill="#0060f5" opacity="0.8"/><ellipse cx="1417" cy="213" rx="10" ry="3" fill="#0071f6" opacity="0.8"/><ellipse cx="1436" cy="391" rx="7" ry="3" fill="#0060f5" opacity="0.8"/><ellipse cx="1614" cy="139" rx="14" ry="5" fill="#0072f6" opacity="0.8"/><ellipse cx="1345" cy="405" rx="8" ry="5" fill="#0064f5" opacity="0.8"/><ellipse cx="1569" cy="496" rx="11" ry="4" fill="#007cf7" opacity="0.8"/><ellipse cx="1403" cy="175" rx="12" ry="6" fill="#0050f4" opacity="0.8"/><ellipse cx="1424" cy="206" rx="13" ry="6" fill="#006ef6" opacity="0.8"/><ellipse cx="1370" cy="599" rx="12" ry="4" fill="#0077f6" opacity="0.8"/><ellipse cx="1434" cy="326" rx="9" ry="5" fill="#0069f5" opacity="0.8"/><ellipse cx="1400" cy="111" rx="11" ry="5" fill="#006af5" opacity="0.8"/><ellipse cx="1695" cy="408" rx="7" ry="4" fill="#0067f5" opacity="0.8"/><ellipse cx="1543" cy="137" rx="7" ry="4" fill="#0070f6" opacity="0.8"/><ellipse cx="1705" cy="143" rx="10" ry="4" fill="#0050f4" opacity="0.8"/><ellipse cx="1602" cy="86" rx="13" ry="5" fill="#0078f6" opacity="0.8"/><ellipse cx="1478" cy="270" rx="10" ry="4" fill="#006ff6" opacity="0.8"/><ellipse cx="1442" cy="372" rx="13" ry="6" fill="#006ff6" opacity="0.8"/><ellipse cx="1369" cy="278" rx="11" ry="4" fill="#0064f5" opacity="0.8"/><ellipse cx="1382" cy="140" rx="10" ry="6" fill="#005ef5" opacity="0.8"/><ellipse cx="1680" cy="652" rx="14" ry="5" fill="#007ef7" opacity="0.8"/><ellipse cx="1639" cy="123" rx="11" ry="4" fill="#0070f6" opacity="0.8"/><ellipse cx="1501" cy="509" rx="9" ry="6" fill="#005df4" opacity="0.8"/><ellipse cx="1312" cy="208" rx="10" ry="3" fill="#0070f6" opacity="0.8"/><ellipse cx="1576" cy="328" rx="9" ry="5" fill="#006bf5" opacity="0.8"/><ellipse cx="1536" cy="344" rx="7" ry="6" fill="#0054f4" opacity="0.8"/><ellipse cx="1529" cy="158" rx="8" ry="3" fill="#0079f6" opacity="0.8"/><ellipse cx="1522" cy="249" rx="10" ry="4" fill="#0066f5" opacity="0.8"/><ellipse cx="1539" cy="158" rx="11" ry="3" fill="#0068f5" opacity="0.8"/><ellipse cx="1471" cy="132" rx="13" ry="5" fill="#0064f5" opacity="0.8"/><ellipse cx="1599" cy="581" rx="14" ry="5" fill="#0054f4" opacity="0.8"/><ellipse cx="1464" cy="196" rx="11" ry="5" fill="#007df7" opacity="0.8"/><ellipse cx="1357" cy="593" rx="8" ry="4" fill="#0051f4" opacity="0.8"/><ellipse cx="1306" cy="474" rx="8" ry="5" fill="#0059f4" opacity="0.8"/><ellipse cx="1560" cy="656" rx="13" ry="6" fill="#006af5" opacity="0.8"/><ellipse cx="1370" cy="573" rx="12" ry="5" fill="#005ff5" opacity="0.8"/><ellipse cx="1645" cy="165" rx="12" ry="6" fill="#0061f5" opacity="0.8"/><ellipse cx="1602" cy="113" rx="7" ry="5" fill="#006cf5" opacity="0.8"/><ellipse cx="1636" cy="158" rx="11" ry="4" fill="#007cf7" opacity="0.8"/><ellipse cx="1381" cy="377" rx="11" ry="3" fill="#0077f6" opacity="0.8"/><ellipse cx="1309" cy="156" rx="7" ry="5" fill="#0076f6" opacity="0.8"/><ellipse cx="1421" cy="535" rx="7" ry="6" fill="#0061f5" opacity="0.8"/><ellipse cx="1525" cy="536" rx="14" ry="3" fill="#0076f6" opacity="0.8"/><ellipse cx="1443" cy="183" rx="13" ry="5" fill="#0067f5" opacity="0.8"/><ellipse cx="1315" cy="204" rx="11" ry="4" fill="#0076f6" opacity="0.8"/><ellipse cx="1499" cy="188" rx="9" ry="6" fill="#0078f6" opacity="0.8"/><ellipse cx="1555" cy="134" rx="8" ry="6" fill="#005ff5" opacity="0.8"/><ellipse cx="1546" cy="113" rx="9" ry="4" fill="#0057f4" opacity="0.8"/><ellipse cx="1541" cy="338" rx="6" ry="5" fill="#0060f5" opacity="0.8"/><ellipse cx="1440" cy="97" rx="14" ry="3" fill="#0065f5" opacity="0.8"/><ellipse cx="1361" cy="524" rx="8" ry="5" fill="#005cf4" opacity="0.8"/><ellipse cx="1410" cy="457" rx="14" ry="6" fill="#0068f5" opacity="0.8"/><ellipse cx="1314" cy="452" rx="13" ry="5" fill="#0074f6" opacity="0.8"/><ellipse cx="1565" cy="500" rx="8" ry="5" fill="#0060f5" opacity="0.8"/><ellipse cx="1665" cy="700" rx="8" ry="5" fill="#0070f6" opacity="0.8"/><ellipse cx="1609" cy="418" rx="9" ry="5" fill="#006ef6" opacity="0.8"/><ellipse cx="1470" cy="124" rx="9" ry="6" fill="#005ff5" opacity="0.8"/><ellipse cx="1501" cy="325" rx="8" ry="4" fill="#005af4" opacity="0.8"/><ellipse cx="1357" cy="89" rx="10" ry="4" fill="#0079f6" opacity="0.8"/><ellipse cx="1538" cy="282" rx="7" ry="4" fill="#0057f4" opacity="0.8"/><ellipse cx="1429" cy="561" rx="13" ry="4" fill="#0069f5" opacity="0.8"/><ellipse cx="1685" cy="467" rx="7" ry="5" fill="#0052f4" opacity="0.8"/><ellipse cx="1713" cy="318" rx="9" ry="6" fill="#0074f6" opacity="0.8"/><ellipse cx="1328" cy="402" rx="8" ry="4" fill="#007af6" opacity="0.8"/><ellipse cx="1310" cy="192" rx="12" ry="4" fill="#005cf4" opacity="0.8"/><ellipse cx="1467" cy="215" rx="13" ry="5" fill="#006cf5" opacity="0.8"/><ellipse cx="1382" cy="565" rx="11" ry="3" fill="#007ef7" opacity="0.8"/><ellipse cx="1638" cy="658" rx="7" ry="4" fill="#005ff5" opacity="0.8"/><ellipse cx="1389" cy="298" rx="11" ry="4" fill="#0073f6" opacity="0.8"/><ellipse cx="1584" cy="306" rx="9" ry="3" fill="#0051f4" opacity="0.8"/><ellipse cx="1562" cy="303" rx="11" ry="4" fill="#0067f5" opacity="0.8"/><ellipse cx="1494" cy="93" rx="11" ry="6" fill="#007cf7" opacity="0.8"/><ellipse cx="1323" cy="487" rx="9" ry="3" fill="#0072f6" opacity="0.8"/><ellipse cx="1365" cy="178" rx="7" ry="5" fill="#0074f6" opacity="0.8"/><ellipse cx="1477" cy="437" rx="10" ry="5" fill="#006bf5" opacity="0.8"/><ellipse cx="1551" cy="301" rx="8" ry="5" fill="#0073f6" opacity="0.8"/><ellipse cx="1619" cy="593" rx="12" ry="6" fill="#005ef4" opacity="0.8"/><ellipse cx="1489" cy="267" rx="14" ry="3" fill="#0068f5" opacity="0.8"/><ellipse cx="1304" cy="396" rx="12" ry="4" fill="#006ff6" opacity="0.8"/><ellipse cx="1714" cy="234" rx="7" ry="3" fill="#0073f6" opacity="0.8"/><ellipse cx="1356" cy="123" rx="10" ry="4" fill="#0067f5" opacity="0.8"/><ellipse cx="1693" cy="324" rx="7" ry="5" fill="#0056f4" opacity="0.8"/><ellipse cx="1685" cy="190" rx="12" ry="4" fill="#0050f4" opacity="0.8"/><ellipse cx="1711" cy="411" rx="9" ry="5" fill="#006ef6" opacity="0.8"/><ellipse cx="1492" cy="296" rx="7" ry="5" fill="#007bf7" opacity="0.8"/><ellipse cx="1327" cy="507" rx="13" ry="3" fill="#0062f5" opacity="0.8"/><ellipse cx="1536" cy="353" rx="14" ry="5" fill="#007bf7" opacity="0.8"/><ellipse cx="1394" cy="249" rx="9" ry="4" fill="#005bf4" opacity="0.8"/><ellipse cx="1385" cy="582" rx="8" ry="6" fill="#006ef6" opacity="0.8"/><ellipse cx="1391" cy="458" rx="13" ry="6" fill="#0056f4" opacity="0.8"/><ellipse cx="1412" cy="577" rx="8" ry="4" fill="#0077f6" opacity="0.8"/><ellipse cx="1368" cy="532" rx="10" ry="5" fill="#006cf5" opacity="0.8"/><ellipse cx="1669" cy="222" rx="9" ry="5" fill="#007af6" opacity="0.8"/><ellipse cx="1661" cy="204" rx="14" ry="4" fill="#0079f6" opacity="0.8"/><ellipse cx="1310" cy="157" rx="6" ry="6" fill="#007ef7" opacity="0.8"/><ellipse cx="1363" cy="567" rx="7" ry="5" fill="#0053f4" opacity="0.8"/><ellipse cx="1338" cy="307" rx="12" ry="6" fill="#007bf7" opacity="0.8"/><ellipse cx="1709" cy="106" rx="12" ry="5" fill="#005af4" opacity="0.8"/><ellipse cx="1316" cy="415" rx="9" ry="3" fill="#005af4" opacity="0.8"/><ellipse cx="1350" cy="404" rx="9" ry="4" fill="#0055f4" opacity="0.8"/><ellipse cx="1586" cy="181" rx="10" ry="3" fill="#0073f6" opacity="0.8"/><ellipse cx="1448" cy="410" rx="9" ry="4" fill="#007bf7" opacity="0.8"/><ellipse cx="1704" cy="663" rx="8" ry="4" fill="#0072f6" opacity="0.8"/><ellipse cx="1411" cy="129" rx="10" ry="4" fill="#0051f4" opacity="0.8"/><ellipse cx="1533" cy="322" rx="12" ry="5" fill="#004ff3" opacity="0.8"/><ellipse cx="1527" cy="444" rx="14" ry="6" fill="#0070f6" opacity="0.8"/><ellipse cx="1600" cy="346" rx="9" ry="6" fill="#005ef5" opacity="0.8"/><ellipse cx="1462" cy="337" rx="7" ry="6" fill="#0062f5" opacity="0.8"/><ellipse cx="1302" cy="483" rx="8" ry="5" fill="#007cf7" opacity="0.8"/><ellipse cx="1458" cy="242" rx="7" ry="6" fill="#0058f4" opacity="0.8"/><ellipse cx="1628" cy="680" rx="12" ry="4" fill="#0051f4" opacity="0.8"/><ellipse cx="1570" cy="444" rx="14" ry="3" fill="#005ef5" opacity="0.8"/><ellipse cx="1612" cy="644" rx="11" ry="6" fill="#0067f5" opacity="0.8"/><ellipse cx="1398" cy="497" rx="9" ry="5" fill="#0073f6" opacity="0.8"/><ellipse cx="1464" cy="429" rx="11" ry="4" fill="#006cf6" opacity="0.8"/><ellipse cx="1563" cy="440" rx="11" ry="4" fill="#0059f4" opacity="0.8"/><ellipse cx="1680" cy="394" rx="10" ry="4" fill="#0072f6" opacity="0.8"/><ellipse cx="1392" cy="177" rx="10" ry="5" fill="#007cf7" opacity="0.8"/><ellipse cx="1520" cy="618" rx="7" ry="5" fill="#005af4" opacity="0.8"/><ellipse cx="1492" cy="504" rx="13" ry="6" fill="#0077f6" opacity="0.8"/><ellipse cx="1318" cy="334" rx="13" ry="3" fill="#0077f6" opacity="0.8"/><ellipse cx="1364" cy="249" rx="9" ry="5" fill="#0053f4" opacity="0.8"/><ellipse cx="1518" cy="381" rx="9" ry="6" fill="#0053f4" opacity="0.8"/><ellipse cx="1591" cy="379" rx="12" ry="5" fill="#0066f5" opacity="0.8"/><ellipse cx="1363" cy="530" rx="10" ry="4" fill="#0060f5" opacity="0.8"/><ellipse cx="1455" cy="307" rx="6" ry="4" fill="#0061f5" opacity="0.8"/><ellipse cx="1538" cy="122" rx="12" ry="4" fill="#0057f4" opacity="0.8"/><ellipse cx="1435" cy="243" rx="7" ry="5" fill="#0077f6" opacity="0.8"/><ellipse cx="1659" cy="216" rx="12" ry="5" fill="#0063f5" opacity="0.8"/><ellipse cx="1455" cy="113" rx="9" ry="5" fill="#0064f5" opacity="0.8"/><ellipse cx="1423" cy="352" rx="12" ry="4" fill="#006ef6" opacity="0.8"/><ellipse cx="1461" cy="464" rx="8" ry="6" fill="#007cf7" opacity="0.8"/><ellipse cx="1598" cy="328" rx="9" ry="3" fill="#006ff6" opacity="0.8"/><ellipse cx="1616" cy="333" rx="10" ry="6" fill="#0068f5" opacity="0.8"/><ellipse cx="1616" cy="101" rx="10" ry="4" fill="#006bf5" opacity="0.8"/><ellipse cx="1651" cy="356" rx="13" ry="4" fill="#0066f5" opacity="0.8"/><ellipse cx="1505" cy="420" rx="11" ry="5" fill="#0077f6" opacity="0.8"/><ellipse cx="1468" cy="111" rx="10" ry="5" fill="#0070f6" opacity="0.8"/><ellipse cx="1622" cy="161" rx="7" ry="5" fill="#0059f4" opacity="0.8"/><ellipse cx="1577" cy="303" rx="25" ry="1.6" fill="#001df0" opacity="0.7"/><ellipse cx="1676" cy="605" rx="32" ry="2.3" fill="#006cf5" opacity="0.7"/><ellipse cx="1687" cy="669" rx="35" ry="2.7" fill="#001df0" opacity="0.7"/><ellipse cx="1708" cy="331" rx="16" ry="3.0" fill="#0058f4" opacity="0.7"/><ellipse cx="1592" cy="521" rx="14" ry="2.1" fill="#0058f4" opacity="0.7"/><ellipse cx="1673" cy="405" rx="24" ry="2.1" fill="#006cf5" opacity="0.7"/><ellipse cx="1569" cy="408" rx="30" ry="2.8" fill="#006cf5" opacity="0.7"/><ellipse cx="1604" cy="358" rx="17" ry="2.5" fill="#0014ef" opacity="0.7"/><ellipse cx="1719" cy="578" rx="20" ry="2.7" fill="#001df0" opacity="0.7"/><ellipse cx="1594" cy="706" rx="29" ry="1.5" fill="#0014ef" opacity="0.7"/><ellipse cx="1571" cy="721" rx="13" ry="1.8" fill="#0058f4" opacity="0.7"/><ellipse cx="1635" cy="357" rx="30" ry="2.4" fill="#001df0" opacity="0.7"/><ellipse cx="1637" cy="713" rx="17" ry="1.8" fill="#006cf5" opacity="0.7"/><ellipse cx="1591" cy="676" rx="13" ry="2.8" fill="#0014ef" opacity="0.7"/><ellipse cx="1572" cy="549" rx="12" ry="2.6" fill="#001df0" opacity="0.7"/><ellipse cx="1685" cy="340" rx="27" ry="2.5" fill="#001df0" opacity="0.7"/><ellipse cx="1610" cy="362" rx="15" ry="2.9" fill="#001df0" opacity="0.7"/><ellipse cx="1595" cy="309" rx="17" ry="1.6" fill="#0014ef" opacity="0.7"/><ellipse cx="1569" cy="369" rx="28" ry="2.2" fill="#0058f4" opacity="0.7"/><ellipse cx="1632" cy="681" rx="13" ry="2.8" fill="#001df0" opacity="0.7"/><ellipse cx="1610" cy="373" rx="28" ry="2.6" fill="#0058f4" opacity="0.7"/><ellipse cx="1613" cy="385" rx="15" ry="2.7" fill="#001df0" opacity="0.7"/><ellipse cx="1727" cy="450" rx="20" ry="1.7" fill="#0014ef" opacity="0.7"/><ellipse cx="1609" cy="578" rx="17" ry="1.7" fill="#0014ef" opacity="0.7"/><ellipse cx="1591" cy="422" rx="15" ry="2.7" fill="#006cf5" opacity="0.7"/><ellipse cx="1581" cy="708" rx="19" ry="2.0" fill="#0014ef" opacity="0.7"/><ellipse cx="1688" cy="501" rx="17" ry="1.9" fill="#0014ef" opacity="0.7"/><ellipse cx="1612" cy="543" rx="17" ry="2.2" fill="#0014ef" opacity="0.7"/><ellipse cx="1691" cy="631" rx="25" ry="1.9" fill="#001df0" opacity="0.7"/><ellipse cx="1659" cy="309" rx="20" ry="2.9" fill="#0014ef" opacity="0.7"/><ellipse cx="1672" cy="284" rx="20" ry="2.2" fill="#0058f4" opacity="0.7"/><ellipse cx="1616" cy="437" rx="30" ry="1.9" fill="#0014ef" opacity="0.7"/><ellipse cx="1572" cy="531" rx="29" ry="1.7" fill="#0014ef" opacity="0.7"/><ellipse cx="1587" cy="451" rx="13" ry="2.3" fill="#0014ef" opacity="0.7"/><ellipse cx="1577" cy="574" rx="22" ry="2.8" fill="#001df0" opacity="0.7"/><ellipse cx="1573" cy="613" rx="20" ry="2.5" fill="#001df0" opacity="0.7"/><ellipse cx="1575" cy="262" rx="19" ry="1.9" fill="#006cf5" opacity="0.7"/><ellipse cx="1578" cy="376" rx="23" ry="2.3" fill="#001df0" opacity="0.7"/><ellipse cx="1580" cy="487" rx="25" ry="1.6" fill="#001df0" opacity="0.7"/><ellipse cx="1604" cy="720" rx="21" ry="1.8" fill="#0058f4" opacity="0.7"/><ellipse cx="1582" cy="376" rx="32" ry="1.5" fill="#001df0" opacity="0.7"/><ellipse cx="1720" cy="497" rx="28" ry="1.8" fill="#001df0" opacity="0.7"/><ellipse cx="1688" cy="335" rx="35" ry="2.1" fill="#0058f4" opacity="0.7"/><ellipse cx="1666" cy="313" rx="14" ry="2.4" fill="#0014ef" opacity="0.7"/><ellipse cx="1600" cy="549" rx="31" ry="1.6" fill="#0014ef" opacity="0.7"/><ellipse cx="1617" cy="308" rx="26" ry="2.5" fill="#001df0" opacity="0.7"/><ellipse cx="1698" cy="426" rx="26" ry="1.8" fill="#006cf5" opacity="0.7"/><ellipse cx="1614" cy="712" rx="13" ry="2.7" fill="#006cf5" opacity="0.7"/><ellipse cx="1585" cy="508" rx="15" ry="2.0" fill="#001df0" opacity="0.7"/><ellipse cx="1584" cy="356" rx="28" ry="2.6" fill="#001df0" opacity="0.7"/><ellipse cx="1571" cy="261" rx="13" ry="2.3" fill="#006cf5" opacity="0.7"/><ellipse cx="1616" cy="293" rx="17" ry="2.4" fill="#0014ef" opacity="0.7"/><ellipse cx="1704" cy="642" rx="27" ry="3.0" fill="#0014ef" opacity="0.7"/><ellipse cx="1659" cy="650" rx="27" ry="2.6" fill="#006cf5" opacity="0.7"/><ellipse cx="1583" cy="662" rx="33" ry="2.6" fill="#0058f4" opacity="0.7"/><ellipse cx="1702" cy="649" rx="22" ry="2.7" fill="#001df0" opacity="0.7"/><ellipse cx="1693" cy="682" rx="29" ry="2.4" fill="#0058f4" opacity="0.7"/><ellipse cx="1671" cy="567" rx="34" ry="2.7" fill="#0014ef" opacity="0.7"/><ellipse cx="1603" cy="667" rx="18" ry="2.4" fill="#001df0" opacity="0.7"/><ellipse cx="1655" cy="686" rx="21" ry="2.7" fill="#0014ef" opacity="0.7"/><ellipse cx="1695" cy="591" rx="31" ry="2.1" fill="#0058f4" opacity="0.7"/><ellipse cx="1575" cy="576" rx="27" ry="2.9" fill="#0058f4" opacity="0.7"/><ellipse cx="1633" cy="408" rx="23" ry="1.5" fill="#0058f4" opacity="0.7"/><ellipse cx="1579" cy="654" rx="21" ry="1.9" fill="#006cf5" opacity="0.7"/><ellipse cx="1585" cy="525" rx="20" ry="2.8" fill="#0014ef" opacity="0.7"/><ellipse cx="1665" cy="402" rx="35" ry="1.8" fill="#0014ef" opacity="0.7"/><ellipse cx="1711" cy="458" rx="15" ry="2.5" fill="#001df0" opacity="0.7"/><ellipse cx="1567" cy="659" rx="21" ry="2.0" fill="#001df0" opacity="0.7"/><ellipse cx="1586" cy="341" rx="32" ry="2.4" fill="#0058f4" opacity="0.7"/><ellipse cx="1712" cy="451" rx="19" ry="2.8" fill="#006cf5" opacity="0.7"/><ellipse cx="1694" cy="554" rx="21" ry="1.5" fill="#001df0" opacity="0.7"/><ellipse cx="1705" cy="310" rx="22" ry="2.7" fill="#001df0" opacity="0.7"/><ellipse cx="1603" cy="431" rx="35" ry="2.6" fill="#0014ef" opacity="0.7"/><ellipse cx="1688" cy="583" rx="33" ry="2.8" fill="#001df0" opacity="0.7"/><ellipse cx="1673" cy="297" rx="22" ry="2.9" fill="#0058f4" opacity="0.7"/><ellipse cx="1622" cy="581" rx="34" ry="2.7" fill="#006cf5" opacity="0.7"/><ellipse cx="1570" cy="577" rx="20" ry="3.0" fill="#006cf5" opacity="0.7"/><ellipse cx="1570" cy="665" rx="25" ry="2.2" fill="#0014ef" opacity="0.7"/><ellipse cx="1688" cy="692" rx="13" ry="2.0" fill="#006cf5" opacity="0.7"/><ellipse cx="1583" cy="722" rx="15" ry="2.4" fill="#0058f4" opacity="0.7"/><ellipse cx="1658" cy="283" rx="16" ry="2.4" fill="#006cf5" opacity="0.7"/><ellipse cx="1727" cy="564" rx="19" ry="2.3" fill="#001df0" opacity="0.7"/><ellipse cx="1632" cy="734" rx="31" ry="2.5" fill="#0014ef" opacity="0.7"/><ellipse cx="1625" cy="727" rx="28" ry="1.9" fill="#0058f4" opacity="0.7"/><ellipse cx="1588" cy="539" rx="30" ry="2.0" fill="#0014ef" opacity="0.7"/><ellipse cx="1584" cy="510" rx="16" ry="2.6" fill="#0014ef" opacity="0.7"/><ellipse cx="1589" cy="411" rx="26" ry="3.0" fill="#0014ef" opacity="0.7"/><ellipse cx="1692" cy="435" rx="18" ry="2.8" fill="#001df0" opacity="0.7"/><ellipse cx="1641" cy="561" rx="21" ry="2.5" fill="#006cf5" opacity="0.7"/><ellipse cx="1622" cy="415" rx="18" ry="1.8" fill="#006cf5" opacity="0.7"/><ellipse cx="1714" cy="478" rx="27" ry="2.7" fill="#006cf5" opacity="0.7"/><ellipse cx="1614" cy="334" rx="27" ry="2.8" fill="#006cf5" opacity="0.7"/><ellipse cx="1630" cy="297" rx="20" ry="2.9" fill="#006cf5" opacity="0.7"/><ellipse cx="1650" cy="400" rx="18" ry="2.7" fill="#0014ef" opacity="0.7"/><ellipse cx="1567" cy="661" rx="20" ry="2.9" fill="#0058f4" opacity="0.7"/><ellipse cx="1605" cy="378" rx="32" ry="1.6" fill="#0014ef" opacity="0.7"/><ellipse cx="1662" cy="662" rx="33" ry="1.7" fill="#0014ef" opacity="0.7"/><ellipse cx="1590" cy="611" rx="30" ry="2.1" fill="#0014ef" opacity="0.7"/><ellipse cx="1720" cy="620" rx="21" ry="2.2" fill="#0058f4" opacity="0.7"/><ellipse cx="1617" cy="680" rx="24" ry="2.3" fill="#001df0" opacity="0.7"/><ellipse cx="1674" cy="697" rx="17" ry="2.5" fill="#001df0" opacity="0.7"/><ellipse cx="1717" cy="292" rx="32" ry="2.5" fill="#0014ef" opacity="0.7"/><ellipse cx="1658" cy="456" rx="30" ry="2.5" fill="#0058f4" opacity="0.7"/><ellipse cx="1705" cy="324" rx="27" ry="2.6" fill="#001df0" opacity="0.7"/><ellipse cx="1645" cy="696" rx="29" ry="2.7" fill="#0014ef" opacity="0.7"/><ellipse cx="1670" cy="686" rx="27" ry="2.8" fill="#001df0" opacity="0.7"/><ellipse cx="1625" cy="695" rx="30" ry="2.4" fill="#0014ef" opacity="0.7"/><ellipse cx="1647" cy="555" rx="19" ry="2.0" fill="#001df0" opacity="0.7"/><ellipse cx="1657" cy="691" rx="20" ry="2.5" fill="#0014ef" opacity="0.7"/><ellipse cx="1572" cy="667" rx="17" ry="2.2" fill="#0058f4" opacity="0.7"/><ellipse cx="1690" cy="477" rx="34" ry="2.4" fill="#0014ef" opacity="0.7"/><ellipse cx="1661" cy="276" rx="15" ry="1.8" fill="#006cf5" opacity="0.7"/><ellipse cx="1667" cy="425" rx="24" ry="1.8" fill="#0058f4" opacity="0.7"/><ellipse cx="1655" cy="658" rx="31" ry="2.7" fill="#0058f4" opacity="0.7"/><ellipse cx="1651" cy="275" rx="13" ry="2.3" fill="#001df0" opacity="0.7"/><ellipse cx="1632" cy="291" rx="29" ry="2.4" fill="#0058f4" opacity="0.7"/><ellipse cx="1628" cy="508" rx="17" ry="2.8" fill="#006cf5" opacity="0.7"/><ellipse cx="1729" cy="650" rx="27" ry="1.9" fill="#0058f4" opacity="0.7"/><ellipse cx="1669" cy="539" rx="22" ry="2.5" fill="#006cf5" opacity="0.7"/><ellipse cx="1680" cy="481" rx="26" ry="1.7" fill="#0058f4" opacity="0.7"/><ellipse cx="1018" cy="374" rx="59" ry="2.3" fill="#0071f6" opacity="0.6"/><ellipse cx="1078" cy="312" rx="61" ry="1.8" fill="#0071f6" opacity="0.6"/><ellipse cx="1147" cy="382" rx="60" ry="2.9" fill="#0093f8" opacity="0.6"/><ellipse cx="1183" cy="369" rx="33" ry="1.8" fill="#0071f6" opacity="0.6"/><ellipse cx="985" cy="385" rx="52" ry="2.4" fill="#0093f8" opacity="0.6"/><ellipse cx="1105" cy="325" rx="42" ry="1.6" fill="#0093f8" opacity="0.6"/><ellipse cx="1020" cy="329" rx="62" ry="2.2" fill="#0071f6" opacity="0.6"/><ellipse cx="1004" cy="302" rx="45" ry="2.8" fill="#0071f6" opacity="0.6"/><ellipse cx="1088" cy="299" rx="62" ry="2.2" fill="#0093f8" opacity="0.6"/><ellipse cx="1161" cy="304" rx="51" ry="1.9" fill="#0071f6" opacity="0.6"/><ellipse cx="1067" cy="329" rx="68" ry="1.8" fill="#0071f6" opacity="0.6"/><ellipse cx="1043" cy="380" rx="61" ry="2.6" fill="#0093f8" opacity="0.6"/><ellipse cx="1017" cy="389" rx="35" ry="1.5" fill="#0093f8" opacity="0.6"/><ellipse cx="1029" cy="354" rx="31" ry="2.7" fill="#0093f8" opacity="0.6"/><ellipse cx="1194" cy="299" rx="38" ry="2.4" fill="#0071f6" opacity="0.6"/><ellipse cx="1181" cy="384" rx="55" ry="2.8" fill="#0093f8" opacity="0.6"/><ellipse cx="1088" cy="360" rx="30" ry="1.8" fill="#0071f6" opacity="0.6"/><ellipse cx="1059" cy="387" rx="54" ry="1.7" fill="#0071f6" opacity="0.6"/><ellipse cx="1026" cy="340" rx="60" ry="2.4" fill="#0093f8" opacity="0.6"/><ellipse cx="1139" cy="385" rx="46" ry="2.5" fill="#0071f6" opacity="0.6"/><ellipse cx="1138" cy="316" rx="58" ry="2.2" fill="#0093f8" opacity="0.6"/><ellipse cx="1013" cy="390" rx="33" ry="1.9" fill="#0093f8" opacity="0.6"/><ellipse cx="1197" cy="315" rx="53" ry="2.6" fill="#0093f8" opacity="0.6"/><ellipse cx="1031" cy="371" rx="40" ry="2.9" fill="#0071f6" opacity="0.6"/><ellipse cx="1026" cy="290" rx="32" ry="1.9" fill="#0093f8" opacity="0.6"/><ellipse cx="1185" cy="314" rx="67" ry="2.5" fill="#0071f6" opacity="0.6"/><ellipse cx="1182" cy="319" rx="49" ry="2.2" fill="#0071f6" opacity="0.6"/><ellipse cx="1191" cy="374" rx="37" ry="2.7" fill="#0071f6" opacity="0.6"/><ellipse cx="1017" cy="346" rx="50" ry="2.9" fill="#0071f6" opacity="0.6"/><ellipse cx="1065" cy="387" rx="64" ry="2.3" fill="#0071f6" opacity="0.6"/><ellipse cx="1161" cy="345" rx="58" ry="2.5" fill="#0071f6" opacity="0.6"/><ellipse cx="1116" cy="340" rx="52" ry="1.8" fill="#0071f6" opacity="0.6"/><ellipse cx="1023" cy="346" rx="38" ry="2.6" fill="#0093f8" opacity="0.6"/><ellipse cx="1142" cy="364" rx="55" ry="1.6" fill="#0071f6" opacity="0.6"/><ellipse cx="1095" cy="365" rx="59" ry="2.8" fill="#0071f6" opacity="0.6"/><ellipse cx="1167" cy="301" rx="41" ry="2.0" fill="#0093f8" opacity="0.6"/><ellipse cx="1046" cy="344" rx="61" ry="1.5" fill="#0093f8" opacity="0.6"/><ellipse cx="998" cy="303" rx="51" ry="2.2" fill="#0071f6" opacity="0.6"/><ellipse cx="1071" cy="357" rx="67" ry="2.6" fill="#0071f6" opacity="0.6"/><ellipse cx="1156" cy="390" rx="59" ry="1.5" fill="#0071f6" opacity="0.6"/></g>
<rect x="1050" y="480" width="12" height="270" fill="#00c4fc" opacity="0.3" filter="url(#fb5)"/>
<rect x="1124" y="500" width="10" height="240" fill="#00c4fc" opacity="0.2" filter="url(#fb5)"/>
<rect x="975" y="705" width="700" height="6" fill="#0093f8" opacity="0.5" filter="url(#fb2)"/>
<linearGradient id="arcfade" gradientUnits="userSpaceOnUse" x1="1120" y1="0" x2="1190" y2="0"><stop offset="0" stop-color="#00a5f9" stop-opacity="0"/><stop offset="1" stop-color="#00a5f9" stop-opacity="1"/></linearGradient>
<g filter="url(#fb45)" fill="none" stroke="url(#arcfade)" stroke-width="13" stroke-linecap="round"><path d="M1228.0 118.0 L1231.0 116.1 L1234.0 114.3 L1237.0 112.6 L1240.0 111.0 L1243.0 109.5 L1246.0 108.1 L1249.0 106.7 L1252.0 105.5 L1255.0 104.4 L1258.0 103.3 L1261.0 102.4 L1264.0 101.5 L1267.0 100.8 L1270.0 100.1 L1273.0 99.5 L1276.0 99.0 L1279.0 98.6 L1282.0 98.3 L1285.0 98.1 L1288.0 98.0 L1291.0 98.0 L1294.0 98.1 L1297.0 98.3 L1300.0 98.5 L1303.0 98.9 L1306.0 99.3 L1309.0 99.9 L1312.0 100.5 L1315.0 101.2 L1318.0 102.1 L1321.0 103.0 L1324.0 104.0 L1327.0 105.1 L1330.0 106.3 L1333.0 107.6 L1336.0 109.0 L1339.0 110.5 L1342.0 112.1 L1345.0 113.7 L1348.0 115.5 L1351.0 117.3 M1220.8 152.5 L1223.8 150.6 L1226.8 148.8 L1229.8 147.1 L1232.8 145.5 L1235.8 144.0 L1238.8 142.6 L1241.8 141.2 L1244.8 140.0 L1247.8 138.9 L1250.8 137.8 L1253.8 136.9 L1256.8 136.0 L1259.8 135.3 L1262.8 134.6 L1265.8 134.0 L1268.8 133.5 L1271.8 133.1 L1274.8 132.8 L1277.8 132.6 L1280.8 132.5 L1283.8 132.5 L1286.8 132.6 L1289.8 132.8 L1292.8 133.0 L1295.8 133.4 L1298.8 133.8 L1301.8 134.4 L1304.8 135.0 L1307.8 135.8 L1310.8 136.6 L1313.8 137.5 L1316.8 138.5 L1319.8 139.6 L1322.8 140.8 L1325.8 142.1 L1328.8 143.5 L1331.8 145.0 L1334.8 146.6 L1337.8 148.2 L1340.8 150.0 L1343.8 151.8 M1213.6 187.0 L1216.6 185.1 L1219.6 183.3 L1222.6 181.6 L1225.6 180.0 L1228.6 178.5 L1231.6 177.1 L1234.6 175.7 L1237.6 174.5 L1240.6 173.4 L1243.6 172.3 L1246.6 171.4 L1249.6 170.5 L1252.6 169.8 L1255.6 169.1 L1258.6 168.5 L1261.6 168.0 L1264.6 167.6 L1267.6 167.3 L1270.6 167.1 L1273.6 167.0 L1276.6 167.0 L1279.6 167.1 L1282.6 167.3 L1285.6 167.5 L1288.6 167.9 L1291.6 168.3 L1294.6 168.9 L1297.6 169.5 L1300.6 170.2 L1303.6 171.1 L1306.6 172.0 L1309.6 173.0 L1312.6 174.1 L1315.6 175.3 L1318.6 176.6 L1321.6 178.0 L1324.6 179.5 L1327.6 181.1 L1330.6 182.7 M1206.4 221.5 L1209.4 219.6 L1212.4 217.8 L1215.4 216.1 L1218.4 214.5 L1221.4 213.0 L1224.4 211.6 L1227.4 210.2 L1230.4 209.0 L1233.4 207.9 L1236.4 206.8 L1239.4 205.9 L1242.4 205.0 L1245.4 204.3 L1248.4 203.6 L1251.4 203.0 L1254.4 202.5 L1257.4 202.1 L1260.4 201.8 L1263.4 201.6 L1266.4 201.5 L1269.4 201.5 L1272.4 201.6 L1275.4 201.8 L1278.4 202.0 L1281.4 202.4 L1284.4 202.8 L1287.4 203.4 L1290.4 204.0 L1293.4 204.8 L1296.4 205.6 L1299.4 206.5 L1302.4 207.5 L1305.4 208.6 L1308.4 209.8 L1311.4 211.1 L1314.4 212.5 M1199.2 256.0 L1202.2 254.1 L1205.2 252.3 L1208.2 250.6 L1211.2 249.0 L1214.2 247.5 L1217.2 246.1 L1220.2 244.7 L1223.2 243.5 L1226.2 242.4 L1229.2 241.3 L1232.2 240.4 L1235.2 239.5 L1238.2 238.8 L1241.2 238.1 L1244.2 237.5 L1247.2 237.0 L1250.2 236.6 L1253.2 236.3 L1256.2 236.1 L1259.2 236.0 L1262.2 236.0 L1265.2 236.1 L1268.2 236.3 L1271.2 236.5 L1274.2 236.9 L1277.2 237.3 L1280.2 237.9 L1283.2 238.5 L1286.2 239.2 L1289.2 240.1 L1292.2 241.0 L1295.2 242.0 L1298.2 243.1 M1192.0 290.5 L1195.0 288.6 L1198.0 286.8 L1201.0 285.1 L1204.0 283.5 L1207.0 282.0 L1210.0 280.6 L1213.0 279.2 L1216.0 278.0 L1219.0 276.9 L1222.0 275.8 L1225.0 274.9 L1228.0 274.0 L1231.0 273.3 L1234.0 272.6 L1237.0 272.0 L1240.0 271.5 L1243.0 271.1 L1246.0 270.8 L1249.0 270.6 L1252.0 270.5 L1255.0 270.5 L1258.0 270.6 L1261.0 270.8 L1264.0 271.0 L1267.0 271.4 L1270.0 271.8 L1273.0 272.4 L1276.0 273.0 L1279.0 273.8 L1282.0 274.6 L1285.0 275.5 M1184.8 325.0 L1187.8 323.1 L1190.8 321.3 L1193.8 319.6 L1196.8 318.0 L1199.8 316.5 L1202.8 315.1 L1205.8 313.7 L1208.8 312.5 L1211.8 311.4 L1214.8 310.3 L1217.8 309.4 L1220.8 308.5 L1223.8 307.8 L1226.8 307.1 L1229.8 306.5 L1232.8 306.0 L1235.8 305.6 L1238.8 305.3 L1241.8 305.1 L1244.8 305.0 L1247.8 305.0 L1250.8 305.1 L1253.8 305.3 L1256.8 305.5 L1259.8 305.9 L1262.8 306.3 L1265.8 306.9 L1268.8 307.5 M1177.7 359.5 L1180.7 357.6 L1183.7 355.8 L1186.7 354.1 L1189.7 352.5 L1192.7 351.0 L1195.7 349.6 L1198.7 348.2 L1201.7 347.0 L1204.7 345.9 L1207.7 344.8 L1210.7 343.9 L1213.7 343.0 L1216.7 342.3 L1219.7 341.6 L1222.7 341.0 L1225.7 340.5 L1228.7 340.1 L1231.7 339.8 L1234.7 339.6 L1237.7 339.5 L1240.7 339.5 L1243.7 339.6 L1246.7 339.8 L1249.7 340.0 L1252.7 340.4 M1170.5 394.0 L1173.5 392.1 L1176.5 390.3 L1179.5 388.6 L1182.5 387.0 L1185.5 385.5 L1188.5 384.1 L1191.5 382.7 L1194.5 381.5 L1197.5 380.4 L1200.5 379.3 L1203.5 378.4 L1206.5 377.5 L1209.5 376.8 L1212.5 376.1 L1215.5 375.5 L1218.5 375.0 L1221.5 374.6 L1224.5 374.3 L1227.5 374.1 L1230.5 374.0 L1233.5 374.0 L1236.5 374.1 M1163.7 428.5 L1166.7 426.6 L1169.7 424.8 L1172.7 423.1 L1175.7 421.5 L1178.7 420.0 L1181.7 418.6 L1184.7 417.2 L1187.7 416.0 L1190.7 414.9 L1193.7 413.8 L1196.7 412.9 L1199.7 412.0 L1202.7 411.3 L1205.7 410.6 L1208.7 410.0 L1211.7 409.5 L1214.7 409.1 L1217.7 408.8 L1220.7 408.6 L1223.7 408.5 L1226.7 408.5 L1229.7 408.6 L1232.7 408.8 L1235.7 409.0 L1238.7 409.4 L1241.7 409.8 L1244.7 410.4 L1247.7 411.0 L1250.7 411.8 L1253.7 412.6 L1256.7 413.5 L1259.7 414.5 L1262.7 415.6 L1265.7 416.8 L1268.7 418.1 L1271.7 419.5 L1274.7 421.0 L1277.7 422.6 L1280.7 424.2 L1283.7 426.0 L1286.7 427.8 M1160.6 463.0 L1163.6 461.1 L1166.6 459.3 L1169.6 457.6 L1172.6 456.0 L1175.6 454.5 L1178.6 453.1 L1181.6 451.7 L1184.6 450.5 L1187.6 449.4 L1190.6 448.3 L1193.6 447.4 L1196.6 446.5 L1199.6 445.8 L1202.6 445.1 L1205.6 444.5 L1208.6 444.0 L1211.6 443.6 L1214.6 443.3 L1217.6 443.1 L1220.6 443.0 L1223.6 443.0 L1226.6 443.1 L1229.6 443.3 L1232.6 443.5 L1235.6 443.9 L1238.6 444.3 L1241.6 444.9 L1244.6 445.5 L1247.6 446.2 L1250.6 447.1 L1253.6 448.0 L1256.6 449.0 L1259.6 450.1 L1262.6 451.3 L1265.6 452.6 L1268.6 454.0 L1271.6 455.5 L1274.6 457.1 L1277.6 458.7 L1280.6 460.5 L1283.6 462.3 M1157.5 497.5 L1160.5 495.6 L1163.5 493.8 L1166.5 492.1 L1169.5 490.5 L1172.5 489.0 L1175.5 487.6 L1178.5 486.2 L1181.5 485.0 L1184.5 483.9 L1187.5 482.8 L1190.5 481.9 L1193.5 481.0 L1196.5 480.3 L1199.5 479.6 L1202.5 479.0 L1205.5 478.5 L1208.5 478.1 L1211.5 477.8 L1214.5 477.6 L1217.5 477.5 L1220.5 477.5 L1223.5 477.6 L1226.5 477.8 L1229.5 478.0 L1232.5 478.4 L1235.5 478.8 L1238.5 479.4 L1241.5 480.0 L1244.5 480.8 L1247.5 481.6 L1250.5 482.5 L1253.5 483.5 L1256.5 484.6 L1259.5 485.8 L1262.5 487.1 L1265.5 488.5 L1268.5 490.0 L1271.5 491.6 L1274.5 493.2 L1277.5 495.0 L1280.5 496.8 M1154.4 532.0 L1157.4 530.1 L1160.4 528.3 L1163.4 526.6 L1166.4 525.0 L1169.4 523.5 L1172.4 522.1 L1175.4 520.7 L1178.4 519.5 L1181.4 518.4 L1184.4 517.3 L1187.4 516.4 L1190.4 515.5 L1193.4 514.8 L1196.4 514.1 L1199.4 513.5 L1202.4 513.0 L1205.4 512.6 L1208.4 512.3 L1211.4 512.1 L1214.4 512.0 L1217.4 512.0 L1220.4 512.1 L1223.4 512.3 L1226.4 512.5 L1229.4 512.9 L1232.4 513.3 L1235.4 513.9 L1238.4 514.5 L1241.4 515.2 L1244.4 516.1 L1247.4 517.0 L1250.4 518.0 L1253.4 519.1 L1256.4 520.3 L1259.4 521.6 L1262.4 523.0 L1265.4 524.5 L1268.4 526.1 L1271.4 527.7 L1274.4 529.5 L1277.4 531.3 M1151.4 566.5 L1154.4 564.6 L1157.4 562.8 L1160.4 561.1 L1163.4 559.5 L1166.4 558.0 L1169.4 556.6 L1172.4 555.2 L1175.4 554.0 L1178.4 552.9 L1181.4 551.8 L1184.4 550.9 L1187.4 550.0 L1190.4 549.3 L1193.4 548.6 L1196.4 548.0 L1199.4 547.5 L1202.4 547.1 L1205.4 546.8 L1208.4 546.6 L1211.4 546.5 L1214.4 546.5 L1217.4 546.6 L1220.4 546.8 L1223.4 547.0 L1226.4 547.4 L1229.4 547.8 L1232.4 548.4 L1235.4 549.0 L1238.4 549.8 L1241.4 550.6 L1244.4 551.5 L1247.4 552.5 L1250.4 553.6 L1253.4 554.8 L1256.4 556.1 L1259.4 557.5 L1262.4 559.0 L1265.4 560.6 L1268.4 562.2 L1271.4 564.0 L1274.4 565.8 M1148.3 601.0 L1151.3 599.1 L1154.3 597.3 L1157.3 595.6 L1160.3 594.0 L1163.3 592.5 L1166.3 591.1 L1169.3 589.7 L1172.3 588.5 L1175.3 587.4 L1178.3 586.3 L1181.3 585.4 L1184.3 584.5 L1187.3 583.8 L1190.3 583.1 L1193.3 582.5 L1196.3 582.0 L1199.3 581.6 L1202.3 581.3 L1205.3 581.1 L1208.3 581.0 L1211.3 581.0 L1214.3 581.1 L1217.3 581.3 L1220.3 581.5 L1223.3 581.9 L1226.3 582.3 L1229.3 582.9 L1232.3 583.5 L1235.3 584.2 L1238.3 585.1 L1241.3 586.0 L1244.3 587.0 L1247.3 588.1 L1250.3 589.3 L1253.3 590.6 L1256.3 592.0 L1259.3 593.5 L1262.3 595.1 L1265.3 596.7 L1268.3 598.5 L1271.3 600.3 M1145.2 635.5 L1148.2 633.6 L1151.2 631.8 L1154.2 630.1 L1157.2 628.5 L1160.2 627.0 L1163.2 625.6 L1166.2 624.2 L1169.2 623.0 L1172.2 621.9 L1175.2 620.8 L1178.2 619.9 L1181.2 619.0 L1184.2 618.3 L1187.2 617.6 L1190.2 617.0 L1193.2 616.5 L1196.2 616.1 L1199.2 615.8 L1202.2 615.6 L1205.2 615.5 L1208.2 615.5 L1211.2 615.6 L1214.2 615.8 L1217.2 616.0 L1220.2 616.4 L1223.2 616.8 L1226.2 617.4 L1229.2 618.0 L1232.2 618.8 L1235.2 619.6 L1238.2 620.5 L1241.2 621.5 L1244.2 622.6 L1247.2 623.8 L1250.2 625.1 L1253.2 626.5 L1256.2 628.0 L1259.2 629.6 L1262.2 631.2 L1265.2 633.0 L1268.2 634.8 M1143.0 670.0 L1146.0 668.1 L1149.0 666.3 L1152.0 664.6 L1155.0 663.0 L1158.0 661.5 L1161.0 660.1 L1164.0 658.7 L1167.0 657.5 L1170.0 656.4 L1173.0 655.3 L1176.0 654.4 L1179.0 653.5 L1182.0 652.8 L1185.0 652.1 L1188.0 651.5 L1191.0 651.0 L1194.0 650.6 L1197.0 650.3 L1200.0 650.1 L1203.0 650.0 L1206.0 650.0 L1209.0 650.1 L1212.0 650.3 L1215.0 650.5 L1218.0 650.9 L1221.0 651.3 L1224.0 651.9 L1227.0 652.5 L1230.0 653.2 L1233.0 654.1 L1236.0 655.0 L1239.0 656.0 L1242.0 657.1 L1245.0 658.3 L1248.0 659.6 L1251.0 661.0 L1254.0 662.5 L1257.0 664.1 L1260.0 665.7 L1263.0 667.5 L1266.0 669.3 M1149.0 132.0 L1152.0 129.7 L1155.0 127.6 L1158.0 125.6 L1161.0 123.8 L1164.0 122.2 L1167.0 120.7 L1170.0 119.3 L1173.0 118.1 L1176.0 117.1 L1179.0 116.2 L1182.0 115.4 L1185.0 114.8 L1188.0 114.4 L1191.0 114.1 L1194.0 114.0 L1197.0 114.0 L1200.0 114.2 L1203.0 114.5 L1206.0 115.0 L1209.0 115.7 L1212.0 116.5 L1215.0 117.4 L1218.0 118.5 L1221.0 119.7 L1224.0 121.1 L1227.0 122.7 L1230.0 124.4 L1233.0 126.3 L1236.0 128.3 L1239.0 130.5 M1144.4 165.5 L1147.4 163.2 L1150.4 161.1 L1153.4 159.1 L1156.4 157.3 L1159.4 155.7 L1162.4 154.2 L1165.4 152.8 L1168.4 151.6 L1171.4 150.6 L1174.4 149.7 L1177.4 148.9 L1180.4 148.3 L1183.4 147.9 L1186.4 147.6 L1189.4 147.5 L1192.4 147.5 L1195.4 147.7 L1198.4 148.0 L1201.4 148.5 L1204.4 149.2 L1207.4 150.0 L1210.4 150.9 L1213.4 152.0 L1216.4 153.2 L1219.4 154.6 L1222.4 156.2 L1225.4 157.9 L1228.4 159.8 L1231.4 161.8 L1234.4 164.0 M1139.6 199.0 L1142.6 196.7 L1145.6 194.6 L1148.6 192.6 L1151.6 190.8 L1154.6 189.2 L1157.6 187.7 L1160.6 186.3 L1163.6 185.1 L1166.6 184.1 L1169.6 183.2 L1172.6 182.4 L1175.6 181.8 L1178.6 181.4 L1181.6 181.1 L1184.6 181.0 L1187.6 181.0 L1190.6 181.2 L1193.6 181.5 L1196.6 182.0 L1199.6 182.7 L1202.6 183.5 L1205.6 184.4 L1208.6 185.5 L1211.6 186.7 L1214.6 188.1 L1217.6 189.7 L1220.6 191.4 L1223.6 193.3 L1226.6 195.3 L1229.6 197.5 M1134.7 232.5 L1137.7 230.2 L1140.7 228.1 L1143.7 226.1 L1146.7 224.3 L1149.7 222.7 L1152.7 221.2 L1155.7 219.8 L1158.7 218.6 L1161.7 217.6 L1164.7 216.7 L1167.7 215.9 L1170.7 215.3 L1173.7 214.9 L1176.7 214.6 L1179.7 214.5 L1182.7 214.5 L1185.7 214.7 L1188.7 215.0 L1191.7 215.5 L1194.7 216.2 L1197.7 217.0 L1200.7 217.9 L1203.7 219.0 L1206.7 220.2 L1209.7 221.6 L1212.7 223.2 L1215.7 224.9 L1218.7 226.8 L1221.7 228.8 L1224.7 231.0 M1129.8 266.0 L1132.8 263.7 L1135.8 261.6 L1138.8 259.6 L1141.8 257.8 L1144.8 256.2 L1147.8 254.7 L1150.8 253.3 L1153.8 252.1 L1156.8 251.1 L1159.8 250.2 L1162.8 249.4 L1165.8 248.8 L1168.8 248.4 L1171.8 248.1 L1174.8 248.0 L1177.8 248.0 L1180.8 248.2 L1183.8 248.5 L1186.8 249.0 L1189.8 249.7 L1192.8 250.5 L1195.8 251.4 L1198.8 252.5 L1201.8 253.7 L1204.8 255.1 L1207.8 256.7 L1210.8 258.4 L1213.8 260.3 L1216.8 262.3 L1219.8 264.5 M1125.0 299.5 L1128.0 297.2 L1131.0 295.1 L1134.0 293.1 L1137.0 291.3 L1140.0 289.7 L1143.0 288.2 L1146.0 286.8 L1149.0 285.6 L1152.0 284.6 L1155.0 283.7 L1158.0 282.9 L1161.0 282.4 L1164.0 281.9 L1167.0 281.6 L1170.0 281.5 L1173.0 281.5 L1176.0 281.7 L1179.0 282.0 L1182.0 282.5 L1185.0 283.2 L1188.0 284.0 L1191.0 284.9 L1194.0 286.0 L1197.0 287.2 L1200.0 288.6 L1203.0 290.2 L1206.0 291.9 L1209.0 293.8 L1212.0 295.8 L1215.0 298.0 M1120.1 333.0 L1123.1 330.7 L1126.1 328.6 L1129.1 326.6 L1132.1 324.8 L1135.1 323.2 L1138.1 321.7 L1141.1 320.3 L1144.1 319.1 L1147.1 318.1 L1150.1 317.2 L1153.1 316.4 L1156.1 315.9 L1159.1 315.4 L1162.1 315.1 L1165.1 315.0 L1168.1 315.0 L1171.1 315.2 L1174.1 315.5 L1177.1 316.0 L1180.1 316.7 L1183.1 317.5 L1186.1 318.4 L1189.1 319.5 L1192.1 320.7 L1195.1 322.1 L1198.1 323.7 L1201.1 325.4 L1204.1 327.3 L1207.1 329.3 L1210.1 331.5 M1115.2 366.5 L1118.2 364.2 L1121.2 362.1 L1124.2 360.1 L1127.2 358.3 L1130.2 356.7 L1133.2 355.2 L1136.2 353.8 L1139.2 352.6 L1142.2 351.6 L1145.2 350.7 L1148.2 349.9 L1151.2 349.4 L1154.2 348.9 L1157.2 348.6 L1160.2 348.5 L1163.2 348.5 L1166.2 348.7 L1169.2 349.0 L1172.2 349.5 L1175.2 350.2 L1178.2 351.0 L1181.2 351.9 L1184.2 353.0 L1187.2 354.2 L1190.2 355.6 L1193.2 357.2 L1196.2 358.9 L1199.2 360.8 L1202.2 362.8 L1205.2 365.0 M1110.4 400.0 L1113.4 397.7 L1116.4 395.6 L1119.4 393.6 L1122.4 391.8 L1125.4 390.2 L1128.4 388.7 L1131.4 387.3 L1134.4 386.1 L1137.4 385.1 L1140.4 384.2 L1143.4 383.4 L1146.4 382.9 L1149.4 382.4 L1152.4 382.1 L1155.4 382.0 L1158.4 382.0 L1161.4 382.2 L1164.4 382.5 L1167.4 383.0 L1170.4 383.7 L1173.4 384.5 L1176.4 385.4 L1179.4 386.5 L1182.4 387.7 L1185.4 389.1 L1188.4 390.7 L1191.4 392.4 L1194.4 394.3 L1197.4 396.3 L1200.4 398.5 M1105.8 433.5 L1108.8 431.2 L1111.8 429.1 L1114.8 427.1 L1117.8 425.3 L1120.8 423.7 L1123.8 422.2 L1126.8 420.8 L1129.8 419.6 L1132.8 418.6 L1135.8 417.7 L1138.8 416.9 L1141.8 416.4 L1144.8 415.9 L1147.8 415.6 L1150.8 415.5 L1153.8 415.5 L1156.8 415.7 L1159.8 416.0 L1162.8 416.5 L1165.8 417.2 L1168.8 418.0 L1171.8 418.9 L1174.8 420.0 L1177.8 421.2 L1180.8 422.6 L1183.8 424.2 L1186.8 425.9 L1189.8 427.8 L1192.8 429.8 L1195.8 432.0 M1104.1 467.0 L1107.1 464.7 L1110.1 462.6 L1113.1 460.6 L1116.1 458.8 L1119.1 457.2 L1122.1 455.7 L1125.1 454.3 L1128.1 453.1 L1131.1 452.1 L1134.1 451.2 L1137.1 450.4 L1140.1 449.9 L1143.1 449.4 L1146.1 449.1 L1149.1 449.0 L1152.1 449.0 L1155.1 449.2 L1158.1 449.5 L1161.1 450.0 L1164.1 450.7 L1167.1 451.5 L1170.1 452.4 L1173.1 453.5 L1176.1 454.7 L1179.1 456.1 L1182.1 457.7 L1185.1 459.4 L1188.1 461.3 L1191.1 463.3 L1194.1 465.5 M1102.3 500.5 L1105.3 498.2 L1108.3 496.1 L1111.3 494.1 L1114.3 492.3 L1117.3 490.7 L1120.3 489.2 L1123.3 487.8 L1126.3 486.6 L1129.3 485.6 L1132.3 484.7 L1135.3 483.9 L1138.3 483.4 L1141.3 482.9 L1144.3 482.6 L1147.3 482.5 L1150.3 482.5 L1153.3 482.7 L1156.3 483.0 L1159.3 483.5 L1162.3 484.2 L1165.3 485.0 L1168.3 485.9 L1171.3 487.0 L1174.3 488.2 L1177.3 489.6 L1180.3 491.2 L1183.3 492.9 L1186.3 494.8 L1189.3 496.8 L1192.3 499.0 M1100.5 534.0 L1103.5 531.7 L1106.5 529.6 L1109.5 527.6 L1112.5 525.8 L1115.5 524.2 L1118.5 522.7 L1121.5 521.3 L1124.5 520.1 L1127.5 519.1 L1130.5 518.2 L1133.5 517.4 L1136.5 516.9 L1139.5 516.4 L1142.5 516.1 L1145.5 516.0 L1148.5 516.0 L1151.5 516.2 L1154.5 516.5 L1157.5 517.0 L1160.5 517.7 L1163.5 518.5 L1166.5 519.4 L1169.5 520.5 L1172.5 521.7 L1175.5 523.1 L1178.5 524.7 L1181.5 526.4 L1184.5 528.3 L1187.5 530.3 L1190.5 532.5 M1098.8 567.5 L1101.8 565.2 L1104.8 563.1 L1107.8 561.1 L1110.8 559.3 L1113.8 557.7 L1116.8 556.2 L1119.8 554.8 L1122.8 553.6 L1125.8 552.6 L1128.8 551.7 L1131.8 550.9 L1134.8 550.4 L1137.8 549.9 L1140.8 549.6 L1143.8 549.5 L1146.8 549.5 L1149.8 549.7 L1152.8 550.0 L1155.8 550.5 L1158.8 551.2 L1161.8 552.0 L1164.8 552.9 L1167.8 554.0 L1170.8 555.2 L1173.8 556.6 L1176.8 558.2 L1179.8 559.9 L1182.8 561.8 L1185.8 563.8 L1188.8 566.0 M1097.0 601.0 L1100.0 598.7 L1103.0 596.6 L1106.0 594.6 L1109.0 592.8 L1112.0 591.2 L1115.0 589.7 L1118.0 588.3 L1121.0 587.1 L1124.0 586.1 L1127.0 585.2 L1130.0 584.4 L1133.0 583.9 L1136.0 583.4 L1139.0 583.1 L1142.0 583.0 L1145.0 583.0 L1148.0 583.2 L1151.0 583.5 L1154.0 584.0 L1157.0 584.7 L1160.0 585.5 L1163.0 586.4 L1166.0 587.5 L1169.0 588.7 L1172.0 590.1 L1175.0 591.7 L1178.0 593.4 L1181.0 595.3 L1184.0 597.3 L1187.0 599.5 M1095.2 634.5 L1098.2 632.2 L1101.2 630.1 L1104.2 628.1 L1107.2 626.3 L1110.2 624.7 L1113.2 623.2 L1116.2 621.8 L1119.2 620.6 L1122.2 619.6 L1125.2 618.7 L1128.2 617.9 L1131.2 617.4 L1134.2 616.9 L1137.2 616.6 L1140.2 616.5 L1143.2 616.5 L1146.2 616.7 L1149.2 617.0 L1152.2 617.5 L1155.2 618.2 L1158.2 619.0 L1161.2 619.9 L1164.2 621.0 L1167.2 622.2 L1170.2 623.6 L1173.2 625.2 L1176.2 626.9 L1179.2 628.8 L1182.2 630.8 L1185.2 633.0 M1094.0 668.0 L1097.0 665.7 L1100.0 663.6 L1103.0 661.6 L1106.0 659.8 L1109.0 658.2 L1112.0 656.7 L1115.0 655.3 L1118.0 654.1 L1121.0 653.1 L1124.0 652.2 L1127.0 651.4 L1130.0 650.9 L1133.0 650.4 L1136.0 650.1 L1139.0 650.0 L1142.0 650.0 L1145.0 650.2 L1148.0 650.5 L1151.0 651.0 L1154.0 651.7 L1157.0 652.5 L1160.0 653.4 L1163.0 654.5 L1166.0 655.7 L1169.0 657.1 L1172.0 658.7 L1175.0 660.4 L1178.0 662.3 L1181.0 664.3 L1184.0 666.5"/></g>
<path d="M1293.0 711.7 L1297.6 711.0 L1302.1 710.3 L1306.6 709.6 L1311.1 708.9 L1315.5 708.2 L1320.0 707.5 L1324.5 706.8 L1329.1 706.1 L1333.7 705.4 L1338.5 704.6 L1343.3 703.7 L1348.3 702.8 L1353.5 701.8 L1358.8 700.7 L1364.2 699.6 L1369.8 698.4 L1375.5 697.1 L1381.2 695.9 L1387.0 694.6 L1392.8 693.3 L1398.7 691.9 L1404.5 690.6 L1410.3 689.4 L1416.1 688.1 L1421.8 686.9 L1427.5 685.7 L1433.2 684.6 L1438.8 683.5 L1444.5 682.4 L1450.2 681.3 L1455.9 680.2 L1461.6 679.1 L1467.2 678.0 L1472.9 676.9 L1478.6 675.7 L1484.3 674.6 L1490.0 673.3 L1495.6 672.1 L1501.3 670.8 L1507.0 669.4 L1512.7 668.1 L1518.3 666.7 L1524.0 665.3 L1529.7 663.9 L1535.3 662.5 L1541.0 661.1 L1546.7 659.6 L1552.4 658.1 L1558.0 656.5 L1563.7 655.0 L1569.3 653.4 L1574.9 651.9 L1580.4 650.3 L1586.0 648.7 L1591.5 647.1 L1597.0 645.5 L1602.5 643.8 L1608.2 642.1 L1613.8 640.3 L1619.6 638.5 L1625.5 636.6 L1631.5 634.7 L1637.7 632.7 L1644.1 630.6 L1650.6 628.4 L1657.3 626.1 L1664.0 623.8 L1670.8 621.5 L1677.7 619.1 L1684.6 616.7 L1691.5 614.2 L1698.4 611.8 L1705.2 609.4 L1712.1 607.0 L1718.0 605.0" fill="none" stroke="#00c4fc" stroke-width="20" stroke-opacity="0.9" stroke-linecap="round" filter="url(#fb5)"/>
<path d="M1472.0 587.0 L1475.3 585.5 L1478.5 584.0 L1481.8 582.4 L1485.0 580.9 L1488.3 579.4 L1491.6 577.9 L1494.8 576.3 L1498.1 574.8 L1501.3 573.3 L1504.6 571.8 L1507.8 570.3 L1511.1 568.7 L1514.4 567.2 L1517.6 565.7 L1520.9 564.2 L1524.1 562.6 L1527.4 561.1 L1530.7 559.6 L1533.9 558.1 L1537.2 556.5 L1540.4 555.0 L1543.7 553.5 L1547.0 552.0 L1550.2 550.5 L1553.5 548.9 L1556.7 547.4 L1560.0 545.9 L1563.2 544.4 L1566.5 542.8 L1569.8 541.3 L1573.0 539.8 L1576.3 538.3 L1579.5 536.8 L1582.8 535.2 L1586.1 533.7 L1589.3 532.2 L1592.6 530.7 L1595.8 529.1 L1599.1 527.6 L1602.4 526.1 L1605.6 524.6 L1608.9 523.1 L1612.1 521.5 L1615.4 520.0 L1618.6 518.5 L1621.9 517.0 L1625.2 515.4 L1628.4 513.9 L1631.7 512.4 L1634.9 510.9 L1638.2 509.4 L1641.5 507.8 L1644.7 506.3 L1648.0 504.8 L1651.2 503.3 L1654.5 501.7 L1657.7 500.2 L1661.0 498.7 L1664.3 497.2 L1667.5 495.6 L1670.8 494.1 L1674.0 492.6 L1677.3 491.1 L1680.6 489.6 L1683.8 488.0 L1687.1 486.5 L1690.3 485.0 L1693.6 483.5 L1696.9 481.9 L1700.1 480.4 L1703.4 478.9 L1706.6 477.4 L1709.9 475.9 L1713.1 474.3 L1716.0 473.0" fill="none" stroke="#00c4fc" stroke-width="20" stroke-opacity="0.85" stroke-linecap="round" filter="url(#fb5)"/>
<path d="M1249.0 682.0 L1254.1 679.8 L1259.1 677.7 L1264.0 675.7 L1268.9 673.7 L1273.8 671.7 L1278.6 669.7 L1283.4 667.8 L1288.2 665.9 L1292.9 664.1 L1297.7 662.2 L1302.4 660.4 L1307.1 658.5 L1311.8 656.7 L1316.5 654.9 L1321.2 653.0 L1326.0 651.2 L1330.7 649.3 L1335.5 647.4 L1340.3 645.5 L1345.1 643.6 L1350.0 641.6 L1354.9 639.6 L1359.9 637.5 L1364.9 635.4 L1369.9 633.3 L1375.1 631.0 L1380.2 628.8 L1385.5 626.4 L1390.8 624.0 L1396.3 621.5 L1401.8 619.0 L1407.4 616.3 L1413.1 613.6 L1418.9 610.7 L1424.8 607.8 L1430.8 604.8 L1436.9 601.6 L1443.1 598.4 L1449.5 595.0 L1456.0 591.5 L1462.7 587.9 L1469.4 584.2 L1476.2 580.4 L1483.1 576.6 L1490.1 572.6 L1497.2 568.6 L1504.4 564.5 L1511.7 560.3 L1519.0 556.1 L1526.4 551.7 L1533.9 547.4 L1541.4 543.0 L1548.9 538.5 L1556.6 534.0 L1564.2 529.4 L1571.9 524.9 L1579.6 520.3 L1587.4 515.6 L1595.1 511.0 L1602.9 506.3 L1610.7 501.6 L1618.5 496.9 L1626.4 492.2 L1634.2 487.5 L1642.0 482.9 L1649.7 478.2 L1657.5 473.5 L1665.3 468.9 L1673.0 464.3 L1680.7 459.7 L1688.3 455.2 L1695.9 450.7 L1703.5 446.2 L1711.0 441.8 L1717.5 438.0" fill="none" stroke="#00c4fc" stroke-width="12" stroke-opacity="0.6" stroke-linecap="round" filter="url(#fb5)"/>
<path d="M1465.7 555.9 L1469.1 554.0 L1472.4 552.0 L1475.8 550.1 L1479.2 548.2 L1482.5 546.2 L1485.9 544.3 L1489.3 542.4 L1492.7 540.4 L1496.0 538.5 L1499.4 536.5 L1502.8 534.6 L1506.1 532.7 L1509.5 530.7 L1512.9 528.8 L1516.2 526.9 L1519.6 524.9 L1523.0 523.0 L1526.4 521.1 L1529.7 519.1 L1533.1 517.2 L1536.5 515.3 L1539.8 513.3 L1543.2 511.4 L1546.6 509.5 L1549.9 507.5 L1553.3 505.6 L1556.7 503.6 L1560.0 501.7 L1563.4 499.8 L1566.8 497.8 L1570.2 495.9 L1573.5 494.0 L1576.9 492.0 L1580.3 490.1 L1583.6 488.2 L1587.0 486.2 L1590.4 484.3 L1593.7 482.4 L1597.1 480.4 L1600.5 478.5 L1603.9 476.6 L1607.2 474.6 L1610.6 472.7 L1614.0 470.8 L1617.3 468.8 L1620.7 466.9 L1624.1 464.9 L1627.4 463.0 L1630.8 461.1 L1634.2 459.1 L1637.6 457.2 L1640.9 455.3 L1644.3 453.3 L1647.7 451.4 L1651.0 449.5 L1654.4 447.5 L1657.8 445.6 L1661.1 443.7 L1664.5 441.7 L1667.9 439.8 L1671.2 437.9 L1674.6 435.9 L1678.0 434.0 L1681.4 432.0 L1684.7 430.1 L1688.1 428.2 L1691.5 426.2 L1694.8 424.3 L1698.2 422.4 L1701.6 420.4 L1704.9 418.5 L1708.3 416.6 L1711.7 414.6 L1715.1 412.7 L1718.0 411.0" fill="none" stroke="#00c4fc" stroke-width="8" stroke-opacity="0.4" stroke-linecap="round" filter="url(#fb5)"/>
<path d="M1253.9 630.4 L1260.1 626.0 L1266.2 621.8 L1272.3 617.7 L1278.2 613.6 L1284.2 609.6 L1290.1 605.7 L1296.0 601.8 L1301.9 597.9 L1307.7 594.1 L1313.6 590.2 L1319.5 586.3 L1325.4 582.4 L1331.4 578.4 L1337.4 574.3 L1343.5 570.1 L1349.6 565.8 L1355.8 561.4 L1362.1 556.9 L1368.5 552.2 L1375.1 547.3 L1381.7 542.3 L1388.5 537.0 L1395.4 531.6 L1402.5 525.9 L1409.7 519.9 L1417.2 513.6 L1425.0 506.9 L1433.1 499.9 L1441.5 492.6 L1450.1 484.9 L1458.9 477.0 L1467.8 469.0 L1476.9 460.7 L1486.0 452.3 L1495.3 443.7 L1504.6 435.1 L1513.8 426.5 L1523.1 417.8 L1532.3 409.2 L1541.3 400.7 L1550.3 392.2 L1559.1 383.9 L1567.7 375.7 L1576.1 367.7 L1584.3 360.0 L1592.1 352.5 L1599.6 345.3 L1606.8 338.5 L1613.6 332.1 L1620.0 326.0 L1626.0 320.3 L1631.7 314.9 L1637.1 309.7 L1642.1 304.8 L1646.9 300.1 L1651.4 295.7 L1655.7 291.5 L1659.8 287.4 L1663.7 283.5 L1667.5 279.7 L1671.1 276.1 L1674.5 272.5 L1677.9 269.1 L1681.2 265.7 L1684.4 262.3 L1687.6 259.0 L1690.8 255.7 L1694.0 252.4 L1697.2 249.1 L1700.5 245.7 L1703.9 242.3 L1707.3 238.8 L1710.9 235.1 L1714.6 231.4 L1718.0 228.0" fill="none" stroke="#00c4fc" stroke-width="16" stroke-opacity="0.7" stroke-linecap="round" filter="url(#fb5)"/>
<path d="M1242.0 598.5 L1244.0 596.4 L1245.7 594.7 L1247.1 593.2 L1248.4 592.0 L1249.6 590.9 L1250.7 589.8 L1251.8 588.8 L1252.9 587.7 L1254.1 586.5 L1255.5 585.2 L1257.0 583.6 L1258.9 581.7 L1261.0 579.5 L1263.5 576.8 L1266.5 573.6 L1269.9 569.9 L1273.8 565.6 L1278.4 560.6 L1283.6 554.9 L1289.6 548.2 L1296.5 540.5 L1304.1 532.0 L1312.4 522.7 L1321.2 512.9 L1330.5 502.5 L1340.1 491.7 L1350.0 480.7 L1360.0 469.5 L1370.0 458.2 L1379.9 447.0 L1389.7 436.0 L1399.3 425.3 L1408.4 415.0 L1417.1 405.1 L1425.3 396.0 L1432.7 387.5 L1439.4 379.9 L1445.2 373.3 L1450.1 367.7 L1454.2 362.9 L1457.7 359.0 L1460.5 355.6 L1462.9 352.8 L1465.0 350.4 L1466.7 348.2 L1468.3 346.3 L1469.8 344.4 L1471.4 342.4 L1473.2 340.3 L1475.2 337.8 L1477.5 334.9 L1480.3 331.5 L1483.7 327.4 L1487.8 322.5 L1492.7 316.7 L1498.4 310.0 L1505.1 302.1 L1512.5 293.4 L1520.5 284.0 L1529.1 273.9 L1538.2 263.3 L1547.7 252.0 L1557.7 240.4 L1567.9 228.3 L1578.5 215.9 L1589.3 203.3 L1600.2 190.5 L1611.2 177.5 L1622.3 164.5 L1633.4 151.6 L1644.3 138.7 L1655.2 126.0 L1665.8 113.5 L1676.2 101.4 L1685.0 91.0" fill="none" stroke="#00c4fc" stroke-width="12" stroke-opacity="0.4" stroke-linecap="round" filter="url(#fb5)"/>
<path d="M972.0 758.0 L980.0 758.0 L988.0 757.9 L996.0 757.9 L1004.0 757.8 L1012.0 757.8 L1020.0 757.7 L1028.0 757.7 L1036.0 757.6 L1044.0 757.5 L1052.0 757.2 L1060.0 756.9 L1068.0 756.6 L1076.0 756.3 L1084.0 756.1 L1092.0 756.0 L1100.0 755.9 L1108.0 755.7 L1116.0 755.6 L1124.0 755.4 L1132.0 755.3 L1140.0 755.2 L1148.0 755.0 L1156.0 754.9 L1164.0 754.8 L1172.0 754.7 L1180.0 754.6 L1188.0 754.5 L1196.0 754.4 L1204.0 754.3 L1212.0 754.2 L1220.0 754.1 L1228.0 754.0 L1236.0 753.9 L1244.0 753.8 L1252.0 753.7 L1260.0 753.6 L1268.0 753.5 L1276.0 753.4 L1284.0 753.3 L1292.0 753.2 L1300.0 753.1 L1308.0 753.0 L1316.0 752.9 L1324.0 752.7 L1332.0 752.6 L1340.0 752.5 L1348.0 752.4 L1356.0 752.3 L1364.0 752.1 L1372.0 752.0 L1380.0 751.8 L1388.0 751.6 L1396.0 751.5 L1404.0 751.3 L1412.0 751.2 L1420.0 751.0 L1428.0 750.8 L1436.0 750.7 L1444.0 750.5 L1452.0 750.4 L1460.0 750.2 L1468.0 750.0 L1476.0 749.9 L1484.0 749.7 L1492.0 749.6 L1500.0 749.4 L1508.0 749.2 L1516.0 749.1 L1524.0 748.9 L1532.0 748.8 L1540.0 748.6 L1548.0 748.4 L1556.0 748.3 L1564.0 748.2 L1572.0 748.1 L1580.0 748.0 L1588.0 747.9 L1596.0 747.8 L1604.0 747.7 L1612.0 747.7 L1620.0 747.6 L1628.0 747.5 L1636.0 747.4 L1644.0 747.3 L1652.0 747.2 L1660.0 747.2" transform="translate(0,-3)" fill="none" stroke="#00d8fd" stroke-width="22" filter="url(#fb3)"/>
<g fill="#00c4fc" filter="url(#fb3)"><ellipse cx="1367.1" cy="88.0" rx="11.9" ry="8.5"/><ellipse cx="1352.9" cy="119.7" rx="11.9" ry="8.5"/><ellipse cx="1338.8" cy="151.4" rx="11.9" ry="8.5"/><ellipse cx="1324.7" cy="183.1" rx="11.9" ry="8.5"/><ellipse cx="1310.6" cy="214.8" rx="11.9" ry="8.5"/><ellipse cx="1296.5" cy="246.5" rx="11.9" ry="8.5"/><ellipse cx="1282.3" cy="278.2" rx="11.9" ry="8.5" opacity="0.97"/><ellipse cx="1268.2" cy="309.9" rx="11.9" ry="8.5" opacity="0.90"/><ellipse cx="1254.1" cy="341.6" rx="11.9" ry="8.5" opacity="0.82"/><ellipse cx="1239.9" cy="373.3" rx="11.9" ry="8.5" opacity="0.75"/><ellipse cx="1225.7" cy="405.0" rx="11.9" ry="8.5" opacity="0.68"/><ellipse cx="1413.7" cy="90.0" rx="11.0" ry="6.8"/><ellipse cx="1408.1" cy="101.0" rx="11.0" ry="6.8"/><ellipse cx="1398.9" cy="119.0" rx="11.0" ry="6.8"/><ellipse cx="1393.2" cy="130.0" rx="11.0" ry="6.8"/><ellipse cx="1384.0" cy="148.0" rx="11.0" ry="6.8"/><ellipse cx="1378.4" cy="159.0" rx="11.0" ry="6.8"/><ellipse cx="1369.2" cy="177.0" rx="11.0" ry="6.8"/><ellipse cx="1363.5" cy="188.0" rx="11.0" ry="6.8"/><ellipse cx="1354.3" cy="206.0" rx="11.0" ry="6.8"/><ellipse cx="1348.7" cy="217.0" rx="11.0" ry="6.8"/><ellipse cx="1339.5" cy="235.0" rx="11.0" ry="6.8"/><ellipse cx="1333.8" cy="246.0" rx="11.0" ry="6.8"/><ellipse cx="1324.6" cy="264.0" rx="11.0" ry="6.8"/><ellipse cx="1319.0" cy="275.0" rx="11.0" ry="6.8"/><ellipse cx="1309.8" cy="293.0" rx="11.0" ry="6.8"/><ellipse cx="1304.2" cy="304.0" rx="11.0" ry="6.8"/><ellipse cx="1294.9" cy="322.0" rx="11.0" ry="6.8"/><ellipse cx="1289.3" cy="333.0" rx="11.0" ry="6.8" opacity="0.94"/><ellipse cx="1280.1" cy="351.0" rx="11.0" ry="6.8"/><ellipse cx="1274.4" cy="362.0" rx="11.0" ry="6.8" opacity="0.87"/><ellipse cx="1265.2" cy="380.0" rx="11.0" ry="6.8" opacity="0.95"/><ellipse cx="1259.6" cy="391.0" rx="11.0" ry="6.8" opacity="0.80"/><ellipse cx="1250.3" cy="409.0" rx="11.0" ry="6.8" opacity="0.87"/><ellipse cx="1244.6" cy="420.0" rx="11.0" ry="6.8" opacity="0.73"/><ellipse cx="1235.2" cy="438.0" rx="11.0" ry="6.8" opacity="0.80"/><ellipse cx="1229.5" cy="449.0" rx="11.0" ry="6.8" opacity="0.67"/><ellipse cx="1469.2" cy="98.0" rx="10.5" ry="6.1"/><ellipse cx="1463.1" cy="108.5" rx="10.5" ry="6.1"/><ellipse cx="1454.6" cy="123.0" rx="10.5" ry="6.1"/><ellipse cx="1448.5" cy="133.5" rx="10.5" ry="6.1"/><ellipse cx="1440.1" cy="148.0" rx="10.5" ry="6.1"/><ellipse cx="1434.0" cy="158.5" rx="10.5" ry="6.1"/><ellipse cx="1425.5" cy="173.0" rx="10.5" ry="6.1"/><ellipse cx="1419.4" cy="183.5" rx="10.5" ry="6.1"/><ellipse cx="1410.9" cy="198.0" rx="10.5" ry="6.1"/><ellipse cx="1404.8" cy="208.5" rx="10.5" ry="6.1"/><ellipse cx="1396.4" cy="223.0" rx="10.5" ry="6.1"/><ellipse cx="1390.3" cy="233.5" rx="10.5" ry="6.1"/><ellipse cx="1381.8" cy="248.0" rx="10.5" ry="6.1"/><ellipse cx="1375.7" cy="258.5" rx="10.5" ry="6.1"/><ellipse cx="1367.3" cy="273.0" rx="10.5" ry="6.1"/><ellipse cx="1361.1" cy="283.5" rx="10.5" ry="6.1"/><ellipse cx="1352.7" cy="298.0" rx="10.5" ry="6.1"/><ellipse cx="1346.6" cy="308.5" rx="10.5" ry="6.1"/><ellipse cx="1338.1" cy="323.0" rx="10.5" ry="6.1"/><ellipse cx="1332.0" cy="333.5" rx="10.5" ry="6.1"/><ellipse cx="1323.5" cy="348.0" rx="10.5" ry="6.1"/><ellipse cx="1317.4" cy="358.5" rx="10.5" ry="6.1"/><ellipse cx="1308.9" cy="373.0" rx="10.5" ry="6.1"/><ellipse cx="1302.8" cy="383.5" rx="10.5" ry="6.1"/><ellipse cx="1294.3" cy="398.0" rx="10.5" ry="6.1"/><ellipse cx="1288.2" cy="408.5" rx="10.5" ry="6.1"/><ellipse cx="1279.7" cy="423.0" rx="10.5" ry="6.1"/><ellipse cx="1273.5" cy="433.5" rx="10.5" ry="6.1"/><ellipse cx="1264.9" cy="448.0" rx="10.5" ry="6.1"/><ellipse cx="1258.7" cy="458.5" rx="10.5" ry="6.1"/><ellipse cx="1250.2" cy="473.0" rx="10.5" ry="6.1"/><ellipse cx="1244.0" cy="483.5" rx="10.5" ry="6.1"/><ellipse cx="1562.5" cy="92.4" rx="11.9" ry="5.6"/><ellipse cx="1553.8" cy="104.6" rx="11.9" ry="5.6"/><ellipse cx="1547.1" cy="113.9" rx="11.9" ry="5.6"/><ellipse cx="1538.3" cy="126.1" rx="11.9" ry="5.6"/><ellipse cx="1531.6" cy="135.4" rx="11.9" ry="5.6"/><ellipse cx="1522.9" cy="147.6" rx="11.9" ry="5.6"/><ellipse cx="1516.2" cy="156.9" rx="11.9" ry="5.6"/><ellipse cx="1507.4" cy="169.1" rx="11.9" ry="5.6"/><ellipse cx="1500.7" cy="178.4" rx="11.9" ry="5.6"/><ellipse cx="1492.0" cy="190.6" rx="11.9" ry="5.6"/><ellipse cx="1485.3" cy="199.9" rx="11.9" ry="5.6"/><ellipse cx="1476.5" cy="212.1" rx="11.9" ry="5.6"/><ellipse cx="1469.8" cy="221.4" rx="11.9" ry="5.6"/><ellipse cx="1461.1" cy="233.6" rx="11.9" ry="5.6"/><ellipse cx="1454.4" cy="242.9" rx="11.9" ry="5.6"/><ellipse cx="1445.6" cy="255.1" rx="11.9" ry="5.6"/><ellipse cx="1438.9" cy="264.4" rx="11.9" ry="5.6"/><ellipse cx="1430.2" cy="276.6" rx="11.9" ry="5.6"/><ellipse cx="1423.5" cy="285.9" rx="11.9" ry="5.6"/><ellipse cx="1414.7" cy="298.1" rx="11.9" ry="5.6"/><ellipse cx="1408.0" cy="307.4" rx="11.9" ry="5.6"/><ellipse cx="1399.2" cy="319.6" rx="11.9" ry="5.6"/><ellipse cx="1392.6" cy="328.9" rx="11.9" ry="5.6"/><ellipse cx="1383.8" cy="341.1" rx="11.9" ry="5.6"/><ellipse cx="1377.1" cy="350.4" rx="11.9" ry="5.6"/><ellipse cx="1368.3" cy="362.6" rx="11.9" ry="5.6"/><ellipse cx="1361.6" cy="371.9" rx="11.9" ry="5.6"/><ellipse cx="1352.8" cy="384.1" rx="11.9" ry="5.6"/><ellipse cx="1346.1" cy="393.4" rx="11.9" ry="5.6"/><ellipse cx="1337.3" cy="405.6" rx="11.9" ry="5.6"/><ellipse cx="1330.6" cy="414.9" rx="11.9" ry="5.6"/><ellipse cx="1321.8" cy="427.1" rx="11.9" ry="5.6"/><ellipse cx="1315.1" cy="436.4" rx="11.9" ry="5.6"/><ellipse cx="1306.3" cy="448.6" rx="11.9" ry="5.6"/><ellipse cx="1299.6" cy="457.9" rx="11.9" ry="5.6"/><ellipse cx="1290.8" cy="470.1" rx="11.9" ry="5.6"/><ellipse cx="1284.1" cy="479.4" rx="11.9" ry="5.6"/><ellipse cx="1275.2" cy="491.6" rx="11.9" ry="5.6"/><ellipse cx="1268.5" cy="500.9" rx="11.9" ry="5.6"/><ellipse cx="1259.7" cy="513.1" rx="11.9" ry="5.6"/><ellipse cx="1253.0" cy="522.4" rx="11.9" ry="5.6"/><ellipse cx="1244.2" cy="534.6" rx="11.9" ry="5.6"/><ellipse cx="1237.4" cy="543.9" rx="11.9" ry="5.6"/><ellipse cx="1390" cy="90" rx="7" ry="4" opacity="0.45"/><ellipse cx="1382" cy="107" rx="7" ry="4" opacity="0.45"/><ellipse cx="1373" cy="125" rx="7" ry="4" opacity="0.45"/><ellipse cx="1365" cy="142" rx="7" ry="4" opacity="0.45"/><ellipse cx="1357" cy="159" rx="7" ry="4" opacity="0.45"/><ellipse cx="1349" cy="176" rx="7" ry="4" opacity="0.45"/><ellipse cx="1340" cy="194" rx="7" ry="4" opacity="0.45"/><ellipse cx="1332" cy="211" rx="7" ry="4" opacity="0.45"/><ellipse cx="1324" cy="228" rx="7" ry="4" opacity="0.45"/><ellipse cx="1315" cy="246" rx="7" ry="4" opacity="0.45"/><ellipse cx="1307" cy="263" rx="7" ry="4" opacity="0.45"/><ellipse cx="1299" cy="280" rx="7" ry="4" opacity="0.45"/><ellipse cx="1291" cy="298" rx="7" ry="4" opacity="0.45"/><ellipse cx="1282" cy="315" rx="7" ry="4" opacity="0.45"/><ellipse cx="1274" cy="332" rx="7" ry="4" opacity="0.45"/><ellipse cx="1266" cy="349" rx="7" ry="4" opacity="0.45"/><ellipse cx="1257" cy="367" rx="7" ry="4" opacity="0.45"/><ellipse cx="1249" cy="384" rx="7" ry="4" opacity="0.45"/><ellipse cx="1241" cy="401" rx="7" ry="4" opacity="0.45"/><ellipse cx="1434" cy="90" rx="7" ry="4" opacity="0.45"/><ellipse cx="1454" cy="90" rx="7" ry="4" opacity="0.45"/><ellipse cx="1434" cy="107" rx="7" ry="4" opacity="0.45"/><ellipse cx="1425" cy="125" rx="7" ry="4" opacity="0.45"/><ellipse cx="1415" cy="142" rx="7" ry="4" opacity="0.45"/><ellipse cx="1406" cy="159" rx="7" ry="4" opacity="0.45"/><ellipse cx="1396" cy="176" rx="7" ry="4" opacity="0.45"/><ellipse cx="1387" cy="194" rx="7" ry="4" opacity="0.45"/><ellipse cx="1378" cy="211" rx="7" ry="4" opacity="0.45"/><ellipse cx="1368" cy="228" rx="7" ry="4" opacity="0.45"/><ellipse cx="1359" cy="246" rx="7" ry="4" opacity="0.45"/><ellipse cx="1349" cy="263" rx="7" ry="4" opacity="0.45"/><ellipse cx="1340" cy="280" rx="7" ry="4" opacity="0.45"/><ellipse cx="1330" cy="298" rx="7" ry="4" opacity="0.45"/><ellipse cx="1321" cy="315" rx="7" ry="4" opacity="0.45"/><ellipse cx="1311" cy="332" rx="7" ry="4" opacity="0.45"/><ellipse cx="1302" cy="349" rx="7" ry="4" opacity="0.45"/><ellipse cx="1292" cy="367" rx="7" ry="4" opacity="0.45"/><ellipse cx="1283" cy="384" rx="7" ry="4" opacity="0.45"/><ellipse cx="1273" cy="401" rx="7" ry="4" opacity="0.45"/><ellipse cx="1264" cy="419" rx="7" ry="4" opacity="0.45"/><ellipse cx="1254" cy="436" rx="7" ry="4" opacity="0.45"/><ellipse cx="1245" cy="453" rx="7" ry="4" opacity="0.45"/><ellipse cx="1496" cy="90" rx="7" ry="4" opacity="0.45"/><ellipse cx="1519" cy="90" rx="7" ry="4" opacity="0.45"/><ellipse cx="1542" cy="90" rx="7" ry="4" opacity="0.45"/><ellipse cx="1493" cy="107" rx="7" ry="4" opacity="0.45"/><ellipse cx="1522" cy="107" rx="7" ry="4" opacity="0.45"/><ellipse cx="1482" cy="125" rx="7" ry="4" opacity="0.45"/><ellipse cx="1511" cy="125" rx="7" ry="4" opacity="0.45"/><ellipse cx="1471" cy="142" rx="7" ry="4" opacity="0.45"/><ellipse cx="1499" cy="142" rx="7" ry="4" opacity="0.45"/><ellipse cx="1461" cy="159" rx="7" ry="4" opacity="0.45"/><ellipse cx="1488" cy="159" rx="7" ry="4" opacity="0.45"/><ellipse cx="1450" cy="176" rx="7" ry="4" opacity="0.45"/><ellipse cx="1476" cy="176" rx="7" ry="4" opacity="0.45"/><ellipse cx="1439" cy="194" rx="7" ry="4" opacity="0.45"/><ellipse cx="1464" cy="194" rx="7" ry="4" opacity="0.45"/><ellipse cx="1428" cy="211" rx="7" ry="4" opacity="0.45"/><ellipse cx="1453" cy="211" rx="7" ry="4" opacity="0.45"/><ellipse cx="1417" cy="228" rx="7" ry="4" opacity="0.45"/><ellipse cx="1441" cy="228" rx="7" ry="4" opacity="0.45"/><ellipse cx="1406" cy="246" rx="7" ry="4" opacity="0.45"/><ellipse cx="1429" cy="246" rx="7" ry="4" opacity="0.45"/><ellipse cx="1395" cy="263" rx="7" ry="4" opacity="0.45"/><ellipse cx="1418" cy="263" rx="7" ry="4" opacity="0.45"/><ellipse cx="1385" cy="280" rx="7" ry="4" opacity="0.45"/><ellipse cx="1406" cy="280" rx="7" ry="4" opacity="0.45"/><ellipse cx="1374" cy="298" rx="7" ry="4" opacity="0.45"/><ellipse cx="1394" cy="298" rx="7" ry="4" opacity="0.45"/><ellipse cx="1373" cy="315" rx="7" ry="4" opacity="0.45"/><ellipse cx="1361" cy="332" rx="7" ry="4" opacity="0.45"/><ellipse cx="1350" cy="349" rx="7" ry="4" opacity="0.45"/><ellipse cx="1339" cy="367" rx="7" ry="4" opacity="0.45"/><ellipse cx="1328" cy="384" rx="7" ry="4" opacity="0.45"/><ellipse cx="1316" cy="401" rx="7" ry="4" opacity="0.45"/><ellipse cx="1305" cy="419" rx="7" ry="4" opacity="0.45"/><ellipse cx="1294" cy="436" rx="7" ry="4" opacity="0.45"/><ellipse cx="1282" cy="453" rx="7" ry="4" opacity="0.45"/><ellipse cx="1271" cy="471" rx="7" ry="4" opacity="0.45"/><ellipse cx="1260" cy="488" rx="7" ry="4" opacity="0.45"/><ellipse cx="1582" cy="107" rx="7" ry="4" opacity="0.45"/><ellipse cx="1611" cy="107" rx="7" ry="4" opacity="0.45"/><ellipse cx="1641" cy="107" rx="7" ry="4" opacity="0.45"/><ellipse cx="1569" cy="125" rx="7" ry="4" opacity="0.45"/><ellipse cx="1598" cy="125" rx="7" ry="4" opacity="0.45"/><ellipse cx="1627" cy="125" rx="7" ry="4" opacity="0.45"/><ellipse cx="1556" cy="142" rx="7" ry="4" opacity="0.45"/><ellipse cx="1584" cy="142" rx="7" ry="4" opacity="0.45"/><ellipse cx="1613" cy="142" rx="7" ry="4" opacity="0.45"/><ellipse cx="1543" cy="159" rx="7" ry="4" opacity="0.45"/><ellipse cx="1571" cy="159" rx="7" ry="4" opacity="0.45"/><ellipse cx="1599" cy="159" rx="7" ry="4" opacity="0.45"/><ellipse cx="1530" cy="176" rx="7" ry="4" opacity="0.45"/><ellipse cx="1557" cy="176" rx="7" ry="4" opacity="0.45"/><ellipse cx="1585" cy="176" rx="7" ry="4" opacity="0.45"/><ellipse cx="1517" cy="194" rx="7" ry="4" opacity="0.45"/><ellipse cx="1544" cy="194" rx="7" ry="4" opacity="0.45"/><ellipse cx="1570" cy="194" rx="7" ry="4" opacity="0.45"/><ellipse cx="1504" cy="211" rx="7" ry="4" opacity="0.45"/><ellipse cx="1530" cy="211" rx="7" ry="4" opacity="0.45"/><ellipse cx="1556" cy="211" rx="7" ry="4" opacity="0.45"/><ellipse cx="1491" cy="228" rx="7" ry="4" opacity="0.45"/><ellipse cx="1516" cy="228" rx="7" ry="4" opacity="0.45"/><ellipse cx="1542" cy="228" rx="7" ry="4" opacity="0.45"/><ellipse cx="1478" cy="246" rx="7" ry="4" opacity="0.45"/><ellipse cx="1503" cy="246" rx="7" ry="4" opacity="0.45"/><ellipse cx="1528" cy="246" rx="7" ry="4" opacity="0.45"/><ellipse cx="1465" cy="263" rx="7" ry="4" opacity="0.45"/><ellipse cx="1489" cy="263" rx="7" ry="4" opacity="0.45"/><ellipse cx="1514" cy="263" rx="7" ry="4" opacity="0.45"/><ellipse cx="1452" cy="280" rx="7" ry="4" opacity="0.45"/><ellipse cx="1476" cy="280" rx="7" ry="4" opacity="0.45"/><ellipse cx="1500" cy="280" rx="7" ry="4" opacity="0.45"/><ellipse cx="1439" cy="298" rx="7" ry="4" opacity="0.45"/><ellipse cx="1462" cy="298" rx="7" ry="4" opacity="0.45"/><ellipse cx="1485" cy="298" rx="7" ry="4" opacity="0.45"/><ellipse cx="1426" cy="315" rx="7" ry="4" opacity="0.45"/><ellipse cx="1448" cy="315" rx="7" ry="4" opacity="0.45"/><ellipse cx="1471" cy="315" rx="7" ry="4" opacity="0.45"/><ellipse cx="1420" cy="332" rx="7" ry="4" opacity="0.45"/><ellipse cx="1450" cy="332" rx="7" ry="4" opacity="0.45"/><ellipse cx="1407" cy="349" rx="7" ry="4" opacity="0.45"/><ellipse cx="1436" cy="349" rx="7" ry="4" opacity="0.45"/><ellipse cx="1394" cy="367" rx="7" ry="4" opacity="0.45"/><ellipse cx="1422" cy="367" rx="7" ry="4" opacity="0.45"/><ellipse cx="1380" cy="384" rx="7" ry="4" opacity="0.45"/><ellipse cx="1408" cy="384" rx="7" ry="4" opacity="0.45"/><ellipse cx="1367" cy="401" rx="7" ry="4" opacity="0.45"/><ellipse cx="1394" cy="401" rx="7" ry="4" opacity="0.45"/><ellipse cx="1354" cy="419" rx="7" ry="4" opacity="0.45"/><ellipse cx="1379" cy="419" rx="7" ry="4" opacity="0.45"/><ellipse cx="1340" cy="436" rx="7" ry="4" opacity="0.45"/><ellipse cx="1365" cy="436" rx="7" ry="4" opacity="0.45"/><ellipse cx="1327" cy="453" rx="7" ry="4" opacity="0.45"/><ellipse cx="1351" cy="453" rx="7" ry="4" opacity="0.45"/><ellipse cx="1313" cy="471" rx="7" ry="4" opacity="0.45"/><ellipse cx="1336" cy="471" rx="7" ry="4" opacity="0.45"/><ellipse cx="1300" cy="488" rx="7" ry="4" opacity="0.45"/><ellipse cx="1322" cy="488" rx="7" ry="4" opacity="0.45"/><ellipse cx="1286" cy="505" rx="7" ry="4" opacity="0.45"/><ellipse cx="1307" cy="505" rx="7" ry="4" opacity="0.45"/><ellipse cx="1283" cy="522" rx="7" ry="4" opacity="0.45"/><ellipse cx="1269" cy="540" rx="7" ry="4" opacity="0.45"/><ellipse cx="1598" cy="228" rx="7" ry="4" opacity="0.45"/><ellipse cx="1628" cy="228" rx="7" ry="4" opacity="0.45"/><ellipse cx="1658" cy="228" rx="7" ry="4" opacity="0.45"/><ellipse cx="1688" cy="228" rx="7" ry="4" opacity="0.45"/><ellipse cx="1583" cy="246" rx="7" ry="4" opacity="0.45"/><ellipse cx="1612" cy="246" rx="7" ry="4" opacity="0.45"/><ellipse cx="1642" cy="246" rx="7" ry="4" opacity="0.45"/><ellipse cx="1671" cy="246" rx="7" ry="4" opacity="0.45"/><ellipse cx="1567" cy="263" rx="7" ry="4" opacity="0.45"/><ellipse cx="1597" cy="263" rx="7" ry="4" opacity="0.45"/><ellipse cx="1626" cy="263" rx="7" ry="4" opacity="0.45"/><ellipse cx="1655" cy="263" rx="7" ry="4" opacity="0.45"/><ellipse cx="1552" cy="280" rx="7" ry="4" opacity="0.45"/><ellipse cx="1581" cy="280" rx="7" ry="4" opacity="0.45"/><ellipse cx="1610" cy="280" rx="7" ry="4" opacity="0.45"/><ellipse cx="1638" cy="280" rx="7" ry="4" opacity="0.45"/><ellipse cx="1537" cy="298" rx="7" ry="4" opacity="0.45"/><ellipse cx="1565" cy="298" rx="7" ry="4" opacity="0.45"/><ellipse cx="1593" cy="298" rx="7" ry="4" opacity="0.45"/><ellipse cx="1621" cy="298" rx="7" ry="4" opacity="0.45"/><ellipse cx="1522" cy="315" rx="7" ry="4" opacity="0.45"/><ellipse cx="1549" cy="315" rx="7" ry="4" opacity="0.45"/><ellipse cx="1577" cy="315" rx="7" ry="4" opacity="0.45"/><ellipse cx="1604" cy="315" rx="7" ry="4" opacity="0.45"/><ellipse cx="1506" cy="332" rx="7" ry="4" opacity="0.45"/><ellipse cx="1533" cy="332" rx="7" ry="4" opacity="0.45"/><ellipse cx="1560" cy="332" rx="7" ry="4" opacity="0.45"/><ellipse cx="1587" cy="332" rx="7" ry="4" opacity="0.45"/><ellipse cx="1492" cy="349" rx="7" ry="4" opacity="0.45"/><ellipse cx="1518" cy="349" rx="7" ry="4" opacity="0.45"/><ellipse cx="1543" cy="349" rx="7" ry="4" opacity="0.45"/><ellipse cx="1569" cy="349" rx="7" ry="4" opacity="0.45"/><ellipse cx="1476" cy="367" rx="7" ry="4" opacity="0.45"/><ellipse cx="1501" cy="367" rx="7" ry="4" opacity="0.45"/><ellipse cx="1527" cy="367" rx="7" ry="4" opacity="0.45"/><ellipse cx="1552" cy="367" rx="7" ry="4" opacity="0.45"/><ellipse cx="1460" cy="384" rx="7" ry="4" opacity="0.45"/><ellipse cx="1485" cy="384" rx="7" ry="4" opacity="0.45"/><ellipse cx="1510" cy="384" rx="7" ry="4" opacity="0.45"/><ellipse cx="1534" cy="384" rx="7" ry="4" opacity="0.45"/><ellipse cx="1444" cy="401" rx="7" ry="4" opacity="0.45"/><ellipse cx="1468" cy="401" rx="7" ry="4" opacity="0.45"/><ellipse cx="1493" cy="401" rx="7" ry="4" opacity="0.45"/><ellipse cx="1517" cy="401" rx="7" ry="4" opacity="0.45"/><ellipse cx="1434" cy="419" rx="7" ry="4" opacity="0.45"/><ellipse cx="1464" cy="419" rx="7" ry="4" opacity="0.45"/><ellipse cx="1493" cy="419" rx="7" ry="4" opacity="0.45"/><ellipse cx="1418" cy="436" rx="7" ry="4" opacity="0.45"/><ellipse cx="1447" cy="436" rx="7" ry="4" opacity="0.45"/><ellipse cx="1475" cy="436" rx="7" ry="4" opacity="0.45"/><ellipse cx="1402" cy="453" rx="7" ry="4" opacity="0.45"/><ellipse cx="1430" cy="453" rx="7" ry="4" opacity="0.45"/><ellipse cx="1457" cy="453" rx="7" ry="4" opacity="0.45"/><ellipse cx="1386" cy="471" rx="7" ry="4" opacity="0.45"/><ellipse cx="1412" cy="471" rx="7" ry="4" opacity="0.45"/><ellipse cx="1439" cy="471" rx="7" ry="4" opacity="0.45"/><ellipse cx="1369" cy="488" rx="7" ry="4" opacity="0.45"/><ellipse cx="1395" cy="488" rx="7" ry="4" opacity="0.45"/><ellipse cx="1421" cy="488" rx="7" ry="4" opacity="0.45"/><ellipse cx="1353" cy="505" rx="7" ry="4" opacity="0.45"/><ellipse cx="1378" cy="505" rx="7" ry="4" opacity="0.45"/><ellipse cx="1402" cy="505" rx="7" ry="4" opacity="0.45"/><ellipse cx="1336" cy="522" rx="7" ry="4" opacity="0.45"/><ellipse cx="1360" cy="522" rx="7" ry="4" opacity="0.45"/><ellipse cx="1383" cy="522" rx="7" ry="4" opacity="0.45"/><ellipse cx="1326" cy="540" rx="7" ry="4" opacity="0.45"/><ellipse cx="1356" cy="540" rx="7" ry="4" opacity="0.45"/><ellipse cx="1308" cy="557" rx="7" ry="4" opacity="0.45"/><ellipse cx="1335" cy="557" rx="7" ry="4" opacity="0.45"/><ellipse cx="1290" cy="574" rx="7" ry="4" opacity="0.45"/><ellipse cx="1313" cy="574" rx="7" ry="4" opacity="0.45"/><ellipse cx="1270" cy="592" rx="7" ry="4" opacity="0.45"/><ellipse cx="1290" cy="592" rx="7" ry="4" opacity="0.45"/><ellipse cx="1242.0" cy="598.5" rx="5.4" ry="5.4" opacity="0.58"/><ellipse cx="1244.8" cy="595.6" rx="5.4" ry="5.4" opacity="0.59"/><ellipse cx="1247.6" cy="592.8" rx="5.4" ry="5.4" opacity="0.60"/><ellipse cx="1250.5" cy="590.0" rx="5.4" ry="5.4" opacity="0.61"/><ellipse cx="1253.4" cy="587.3" rx="5.4" ry="5.4" opacity="0.62"/><ellipse cx="1256.2" cy="584.4" rx="5.4" ry="5.4" opacity="0.63"/><ellipse cx="1259.0" cy="581.6" rx="5.4" ry="5.4" opacity="0.64"/><ellipse cx="1261.8" cy="578.7" rx="5.4" ry="5.4" opacity="0.65"/><ellipse cx="1264.5" cy="575.8" rx="5.4" ry="5.4" opacity="0.66"/><ellipse cx="1267.2" cy="572.8" rx="5.4" ry="5.4" opacity="0.67"/><ellipse cx="1269.9" cy="569.9" rx="5.4" ry="5.4" opacity="0.68"/><ellipse cx="1272.6" cy="566.9" rx="5.4" ry="5.4" opacity="0.69"/><ellipse cx="1275.3" cy="564.0" rx="5.4" ry="5.4" opacity="0.70"/><ellipse cx="1278.0" cy="561.0" rx="5.4" ry="5.4" opacity="0.71"/><ellipse cx="1280.7" cy="558.1" rx="5.4" ry="5.4" opacity="0.72"/><ellipse cx="1283.4" cy="555.1" rx="5.4" ry="5.4" opacity="0.73"/><ellipse cx="1286.1" cy="552.1" rx="5.4" ry="5.4" opacity="0.74"/><ellipse cx="1288.7" cy="549.1" rx="5.4" ry="5.4" opacity="0.75"/><ellipse cx="1291.4" cy="546.2" rx="5.4" ry="5.4" opacity="0.76"/><ellipse cx="1294.1" cy="543.2" rx="5.4" ry="5.4" opacity="0.77"/><ellipse cx="1296.8" cy="540.2" rx="5.4" ry="5.4" opacity="0.78"/><ellipse cx="1299.4" cy="537.2" rx="5.4" ry="5.4" opacity="0.80"/><ellipse cx="1302.1" cy="534.3" rx="5.4" ry="5.4" opacity="0.81"/><ellipse cx="1304.8" cy="531.3" rx="5.4" ry="5.4" opacity="0.82"/><ellipse cx="1307.4" cy="528.3" rx="5.4" ry="5.4" opacity="0.83"/><ellipse cx="1310.1" cy="525.3" rx="5.4" ry="5.4" opacity="0.84"/><ellipse cx="1312.8" cy="522.3" rx="5.4" ry="5.4" opacity="0.85"/><ellipse cx="1315.4" cy="519.4" rx="5.4" ry="5.4" opacity="0.86"/><ellipse cx="1318.1" cy="516.4" rx="5.4" ry="5.4" opacity="0.87"/><ellipse cx="1320.8" cy="513.4" rx="5.4" ry="5.4" opacity="0.88"/><ellipse cx="1323.4" cy="510.4" rx="5.4" ry="5.4" opacity="0.89"/><ellipse cx="1326.1" cy="507.4" rx="5.4" ry="5.4" opacity="0.90"/><ellipse cx="1328.8" cy="504.5" rx="5.4" ry="5.4" opacity="0.91"/><ellipse cx="1331.4" cy="501.5" rx="5.4" ry="5.4" opacity="0.92"/><ellipse cx="1334.1" cy="498.5" rx="5.4" ry="5.4" opacity="0.93"/><ellipse cx="1336.8" cy="495.5" rx="5.4" ry="5.4" opacity="0.93"/><ellipse cx="1339.4" cy="492.5" rx="5.4" ry="5.4" opacity="0.94"/><ellipse cx="1342.1" cy="489.5" rx="5.4" ry="5.4" opacity="0.94"/><ellipse cx="1344.8" cy="486.5" rx="5.4" ry="5.4" opacity="0.94"/><ellipse cx="1347.4" cy="483.6" rx="5.4" ry="5.4" opacity="0.95"/><ellipse cx="1350.1" cy="480.6" rx="5.4" ry="5.4" opacity="0.95"/><ellipse cx="1352.7" cy="477.6" rx="5.4" ry="5.4" opacity="0.95"/><ellipse cx="1355.4" cy="474.6" rx="5.4" ry="5.4" opacity="0.96"/><ellipse cx="1358.1" cy="471.6" rx="5.4" ry="5.4" opacity="0.96"/><ellipse cx="1360.7" cy="468.6" rx="5.4" ry="5.4" opacity="0.96"/><ellipse cx="1363.4" cy="465.6" rx="5.4" ry="5.4" opacity="0.97"/><ellipse cx="1366.1" cy="462.7" rx="5.4" ry="5.4" opacity="0.97"/><ellipse cx="1368.7" cy="459.7" rx="5.4" ry="5.4" opacity="0.97"/><ellipse cx="1371.4" cy="456.7" rx="5.4" ry="5.4" opacity="0.97"/><ellipse cx="1374.0" cy="453.7" rx="5.4" ry="5.4" opacity="0.98"/><ellipse cx="1376.7" cy="450.7" rx="5.4" ry="5.4" opacity="0.98"/><ellipse cx="1379.3" cy="447.7" rx="5.4" ry="5.4" opacity="0.98"/><ellipse cx="1382.0" cy="444.7" rx="5.4" ry="5.4" opacity="0.99"/><ellipse cx="1384.7" cy="441.7" rx="5.4" ry="5.4" opacity="0.99"/><ellipse cx="1387.3" cy="438.8" rx="5.4" ry="5.4" opacity="0.99"/><ellipse cx="1390.0" cy="435.8" rx="5.4" ry="5.4"/><ellipse cx="1392.6" cy="432.8" rx="5.4" ry="5.4"/><ellipse cx="1395.3" cy="429.8" rx="5.4" ry="5.4"/><ellipse cx="1397.9" cy="426.8" rx="5.4" ry="5.4"/><ellipse cx="1400.6" cy="423.8" rx="5.4" ry="5.4"/><ellipse cx="1403.3" cy="420.8" rx="5.4" ry="5.4"/><ellipse cx="1405.9" cy="417.8" rx="5.4" ry="5.4"/><ellipse cx="1408.6" cy="414.8" rx="5.4" ry="5.4"/><ellipse cx="1411.2" cy="411.8" rx="5.4" ry="5.4"/><ellipse cx="1413.9" cy="408.8" rx="5.4" ry="5.4"/><ellipse cx="1416.5" cy="405.8" rx="5.4" ry="5.4"/><ellipse cx="1419.2" cy="402.8" rx="5.4" ry="5.4"/><ellipse cx="1421.8" cy="399.8" rx="5.4" ry="5.4"/><ellipse cx="1424.5" cy="396.8" rx="5.4" ry="5.4"/><ellipse cx="1427.1" cy="393.9" rx="5.4" ry="5.4"/><ellipse cx="1429.8" cy="390.9" rx="5.4" ry="5.4"/><ellipse cx="1432.4" cy="387.9" rx="5.4" ry="5.4"/><ellipse cx="1435.1" cy="384.9" rx="5.4" ry="5.4"/><ellipse cx="1437.7" cy="381.8" rx="5.4" ry="5.4"/><ellipse cx="1440.3" cy="378.8" rx="5.4" ry="5.4"/><ellipse cx="1443.0" cy="375.8" rx="5.4" ry="5.4"/><ellipse cx="1445.6" cy="372.8" rx="5.4" ry="5.4"/><ellipse cx="1448.2" cy="369.8" rx="5.4" ry="5.4"/><ellipse cx="1450.9" cy="366.8" rx="5.4" ry="5.4"/><ellipse cx="1453.5" cy="363.8" rx="5.4" ry="5.4"/><ellipse cx="1456.1" cy="360.8" rx="5.4" ry="5.4"/><ellipse cx="1458.7" cy="357.7" rx="5.4" ry="5.4"/><ellipse cx="1461.3" cy="354.7" rx="5.4" ry="5.4"/><ellipse cx="1463.9" cy="351.6" rx="5.4" ry="5.4"/><ellipse cx="1466.5" cy="348.6" rx="5.4" ry="5.4"/><ellipse cx="1469.0" cy="345.4" rx="5.4" ry="5.4"/><ellipse cx="1471.5" cy="342.3" rx="5.4" ry="5.4"/><ellipse cx="1474.0" cy="339.2" rx="5.4" ry="5.4"/><ellipse cx="1476.5" cy="336.1" rx="5.4" ry="5.4"/><ellipse cx="1479.1" cy="333.0" rx="5.4" ry="5.4"/><ellipse cx="1481.6" cy="329.9" rx="5.4" ry="5.4"/><ellipse cx="1484.2" cy="326.9" rx="5.4" ry="5.4"/><ellipse cx="1486.7" cy="323.8" rx="5.4" ry="5.4"/><ellipse cx="1489.3" cy="320.7" rx="5.4" ry="5.4"/><ellipse cx="1491.9" cy="317.7" rx="5.4" ry="5.4"/><ellipse cx="1494.5" cy="314.6" rx="5.4" ry="5.4"/><ellipse cx="1497.1" cy="311.6" rx="5.4" ry="5.4"/><ellipse cx="1499.6" cy="308.5" rx="5.4" ry="5.4"/><ellipse cx="1502.2" cy="305.5" rx="5.4" ry="5.4"/><ellipse cx="1504.8" cy="302.4" rx="5.4" ry="5.4"/><ellipse cx="1507.4" cy="299.4" rx="5.4" ry="5.4"/><ellipse cx="1510.0" cy="296.3" rx="5.4" ry="5.4"/><ellipse cx="1512.6" cy="293.3" rx="5.4" ry="5.4"/><ellipse cx="1515.2" cy="290.2" rx="5.4" ry="5.4"/><ellipse cx="1517.8" cy="287.2" rx="5.4" ry="5.4"/><ellipse cx="1520.4" cy="284.1" rx="5.4" ry="5.4"/><ellipse cx="1523.0" cy="281.1" rx="5.4" ry="5.4"/><ellipse cx="1525.6" cy="278.1" rx="5.4" ry="5.4"/><ellipse cx="1528.2" cy="275.0" rx="5.4" ry="5.4"/><ellipse cx="1530.8" cy="272.0" rx="5.4" ry="5.4"/><ellipse cx="1533.3" cy="268.9" rx="5.4" ry="5.4"/><ellipse cx="1535.9" cy="265.9" rx="5.4" ry="5.4"/><ellipse cx="1538.5" cy="262.8" rx="5.4" ry="5.4"/><ellipse cx="1541.1" cy="259.8" rx="5.4" ry="5.4"/><ellipse cx="1543.7" cy="256.7" rx="5.4" ry="5.4"/><ellipse cx="1546.3" cy="253.7" rx="5.4" ry="5.4"/><ellipse cx="1548.9" cy="250.6" rx="5.4" ry="5.4"/><ellipse cx="1551.5" cy="247.6" rx="5.4" ry="5.4"/><ellipse cx="1554.1" cy="244.6" rx="5.4" ry="5.4"/><ellipse cx="1556.7" cy="241.5" rx="5.4" ry="5.4"/><ellipse cx="1559.3" cy="238.5" rx="5.4" ry="5.4"/><ellipse cx="1561.9" cy="235.4" rx="5.4" ry="5.4"/><ellipse cx="1564.5" cy="232.4" rx="5.4" ry="5.4"/><ellipse cx="1567.1" cy="229.3" rx="5.4" ry="5.4"/><ellipse cx="1569.7" cy="226.3" rx="5.4" ry="5.4"/><ellipse cx="1572.3" cy="223.2" rx="5.4" ry="5.4"/><ellipse cx="1574.9" cy="220.2" rx="5.4" ry="5.4"/><ellipse cx="1577.4" cy="217.2" rx="5.4" ry="5.4"/><ellipse cx="1580.0" cy="214.1" rx="5.4" ry="5.4"/><ellipse cx="1582.6" cy="211.1" rx="5.4" ry="5.4"/><ellipse cx="1585.2" cy="208.0" rx="5.4" ry="5.4"/><ellipse cx="1587.8" cy="205.0" rx="5.4" ry="5.4"/><ellipse cx="1590.4" cy="201.9" rx="5.4" ry="5.4"/><ellipse cx="1593.0" cy="198.9" rx="5.4" ry="5.4"/><ellipse cx="1595.6" cy="195.9" rx="5.4" ry="5.4"/><ellipse cx="1598.2" cy="192.8" rx="5.4" ry="5.4"/><ellipse cx="1600.8" cy="189.8" rx="5.4" ry="5.4"/><ellipse cx="1603.4" cy="186.7" rx="5.4" ry="5.4"/><ellipse cx="1606.0" cy="183.7" rx="5.4" ry="5.4"/><ellipse cx="1608.6" cy="180.6" rx="5.4" ry="5.4"/><ellipse cx="1611.2" cy="177.6" rx="5.4" ry="5.4"/><ellipse cx="1613.8" cy="174.5" rx="5.4" ry="5.4"/><ellipse cx="1616.4" cy="171.5" rx="5.4" ry="5.4"/><ellipse cx="1619.0" cy="168.5" rx="5.4" ry="5.4"/><ellipse cx="1621.6" cy="165.4" rx="5.4" ry="5.4"/><ellipse cx="1624.2" cy="162.4" rx="5.4" ry="5.4"/><ellipse cx="1626.8" cy="159.3" rx="5.4" ry="5.4"/><ellipse cx="1629.4" cy="156.3" rx="5.4" ry="5.4"/><ellipse cx="1631.9" cy="153.2" rx="5.4" ry="5.4"/><ellipse cx="1634.5" cy="150.2" rx="5.4" ry="5.4"/><ellipse cx="1637.1" cy="147.1" rx="5.4" ry="5.4"/><ellipse cx="1639.7" cy="144.1" rx="5.4" ry="5.4"/><ellipse cx="1642.3" cy="141.1" rx="5.4" ry="5.4"/><ellipse cx="1644.9" cy="138.0" rx="5.4" ry="5.4"/><ellipse cx="1647.5" cy="135.0" rx="5.4" ry="5.4"/><ellipse cx="1650.1" cy="131.9" rx="5.4" ry="5.4"/><ellipse cx="1652.7" cy="128.9" rx="5.4" ry="5.4"/><ellipse cx="1655.3" cy="125.8" rx="5.4" ry="5.4"/><ellipse cx="1657.9" cy="122.8" rx="5.4" ry="5.4"/><ellipse cx="1660.5" cy="119.8" rx="5.4" ry="5.4"/><ellipse cx="1663.1" cy="116.7" rx="5.4" ry="5.4"/><ellipse cx="1665.7" cy="113.7" rx="5.4" ry="5.4"/><ellipse cx="1668.3" cy="110.6" rx="5.4" ry="5.4"/><ellipse cx="1670.9" cy="107.6" rx="5.4" ry="5.4"/><ellipse cx="1673.5" cy="104.5" rx="5.4" ry="5.4"/><ellipse cx="1676.1" cy="101.5" rx="5.4" ry="5.4"/><ellipse cx="1678.7" cy="98.4" rx="5.4" ry="5.4"/><ellipse cx="1681.3" cy="95.4" rx="5.4" ry="5.4"/><ellipse cx="1683.8" cy="92.4" rx="5.4" ry="5.4"/><ellipse cx="1682.9" cy="93.5" rx="18.7" ry="6.3"/><ellipse cx="1668.2" cy="110.7" rx="18.7" ry="6.3"/><ellipse cx="1653.5" cy="127.9" rx="18.7" ry="6.3"/><ellipse cx="1638.9" cy="145.1" rx="18.7" ry="6.3"/><ellipse cx="1624.2" cy="162.3" rx="18.7" ry="6.3"/><ellipse cx="1609.6" cy="179.5" rx="18.7" ry="6.3"/><ellipse cx="1594.9" cy="196.7" rx="18.7" ry="6.3"/><ellipse cx="1580.2" cy="213.9" rx="18.7" ry="6.3"/><ellipse cx="1565.6" cy="231.1" rx="18.7" ry="6.3"/><ellipse cx="1550.9" cy="248.3" rx="18.7" ry="6.3"/><ellipse cx="1536.3" cy="265.5" rx="18.7" ry="6.3"/><ellipse cx="1521.6" cy="282.7" rx="18.7" ry="6.3"/><ellipse cx="1507.0" cy="299.9" rx="18.7" ry="6.3"/><ellipse cx="1492.4" cy="317.1" rx="18.7" ry="6.3"/><ellipse cx="1478.0" cy="334.3" rx="18.7" ry="6.3"/><ellipse cx="1464.0" cy="351.5" rx="18.7" ry="6.3"/><ellipse cx="1449.2" cy="368.7" rx="18.7" ry="6.3"/><ellipse cx="1434.1" cy="385.9" rx="18.7" ry="6.3"/><ellipse cx="1418.9" cy="403.1" rx="18.7" ry="6.3"/><ellipse cx="1403.7" cy="420.3" rx="18.7" ry="6.3"/><ellipse cx="1388.4" cy="437.5" rx="18.7" ry="6.3"/><ellipse cx="1373.1" cy="454.7" rx="18.7" ry="6.3"/><ellipse cx="1357.8" cy="471.9" rx="18.7" ry="6.3"/><ellipse cx="1342.5" cy="489.1" rx="18.7" ry="6.3"/><ellipse cx="1327.1" cy="506.3" rx="18.7" ry="6.3"/><ellipse cx="1311.7" cy="523.5" rx="18.7" ry="6.3"/><ellipse cx="1296.3" cy="540.7" rx="18.7" ry="6.3"/><ellipse cx="1280.8" cy="557.9" rx="18.7" ry="6.3"/><ellipse cx="1265.1" cy="575.1" rx="18.7" ry="6.3"/><ellipse cx="1248.1" cy="592.3" rx="18.7" ry="6.3"/><ellipse cx="1253.9" cy="630.4" rx="5.4" ry="5.4" opacity="0.86"/><ellipse cx="1257.2" cy="628.1" rx="5.4" ry="5.4" opacity="0.87"/><ellipse cx="1260.4" cy="625.8" rx="5.4" ry="5.4" opacity="0.89"/><ellipse cx="1263.7" cy="623.5" rx="5.4" ry="5.4" opacity="0.90"/><ellipse cx="1267.0" cy="621.2" rx="5.4" ry="5.4" opacity="0.92"/><ellipse cx="1270.3" cy="619.0" rx="5.4" ry="5.4" opacity="0.93"/><ellipse cx="1273.6" cy="616.7" rx="5.4" ry="5.4" opacity="0.94"/><ellipse cx="1276.9" cy="614.5" rx="5.4" ry="5.4" opacity="0.96"/><ellipse cx="1280.3" cy="612.3" rx="5.4" ry="5.4" opacity="0.97"/><ellipse cx="1283.6" cy="610.0" rx="5.4" ry="5.4" opacity="0.99"/><ellipse cx="1286.9" cy="607.8" rx="5.4" ry="5.4"/><ellipse cx="1290.2" cy="605.6" rx="5.4" ry="5.4"/><ellipse cx="1293.6" cy="603.4" rx="5.4" ry="5.4"/><ellipse cx="1296.9" cy="601.2" rx="5.4" ry="5.4"/><ellipse cx="1300.3" cy="599.0" rx="5.4" ry="5.4"/><ellipse cx="1303.6" cy="596.8" rx="5.4" ry="5.4"/><ellipse cx="1306.9" cy="594.6" rx="5.4" ry="5.4"/><ellipse cx="1310.3" cy="592.4" rx="5.4" ry="5.4"/><ellipse cx="1313.6" cy="590.2" rx="5.4" ry="5.4"/><ellipse cx="1317.0" cy="588.0" rx="5.4" ry="5.4"/><ellipse cx="1320.3" cy="585.8" rx="5.4" ry="5.4"/><ellipse cx="1323.6" cy="583.6" rx="5.4" ry="5.4"/><ellipse cx="1326.9" cy="581.3" rx="5.4" ry="5.4"/><ellipse cx="1330.3" cy="579.1" rx="5.4" ry="5.4"/><ellipse cx="1333.6" cy="576.9" rx="5.4" ry="5.4"/><ellipse cx="1336.9" cy="574.6" rx="5.4" ry="5.4"/><ellipse cx="1340.2" cy="572.4" rx="5.4" ry="5.4"/><ellipse cx="1343.5" cy="570.1" rx="5.4" ry="5.4"/><ellipse cx="1346.8" cy="567.8" rx="5.4" ry="5.4"/><ellipse cx="1350.0" cy="565.5" rx="5.4" ry="5.4"/><ellipse cx="1353.3" cy="563.2" rx="5.4" ry="5.4"/><ellipse cx="1356.6" cy="560.9" rx="5.4" ry="5.4"/><ellipse cx="1359.8" cy="558.6" rx="5.4" ry="5.4"/><ellipse cx="1363.1" cy="556.2" rx="5.4" ry="5.4"/><ellipse cx="1366.3" cy="553.8" rx="5.4" ry="5.4"/><ellipse cx="1369.5" cy="551.5" rx="5.4" ry="5.4"/><ellipse cx="1372.7" cy="549.1" rx="5.4" ry="5.4"/><ellipse cx="1375.9" cy="546.7" rx="5.4" ry="5.4"/><ellipse cx="1379.1" cy="544.3" rx="5.4" ry="5.4"/><ellipse cx="1382.3" cy="541.8" rx="5.4" ry="5.4"/><ellipse cx="1385.4" cy="539.4" rx="5.4" ry="5.4"/><ellipse cx="1388.6" cy="536.9" rx="5.4" ry="5.4"/><ellipse cx="1391.7" cy="534.5" rx="5.4" ry="5.4"/><ellipse cx="1394.9" cy="532.0" rx="5.4" ry="5.4"/><ellipse cx="1398.0" cy="529.5" rx="5.4" ry="5.4"/><ellipse cx="1401.1" cy="527.0" rx="5.4" ry="5.4"/><ellipse cx="1404.2" cy="524.4" rx="5.4" ry="5.4"/><ellipse cx="1407.3" cy="521.9" rx="5.4" ry="5.4"/><ellipse cx="1410.4" cy="519.3" rx="5.4" ry="5.4"/><ellipse cx="1413.4" cy="516.8" rx="5.4" ry="5.4"/><ellipse cx="1416.5" cy="514.2" rx="5.4" ry="5.4"/><ellipse cx="1419.6" cy="511.6" rx="5.4" ry="5.4"/><ellipse cx="1422.6" cy="509.0" rx="5.4" ry="5.4"/><ellipse cx="1425.6" cy="506.4" rx="5.4" ry="5.4"/><ellipse cx="1428.7" cy="503.8" rx="5.4" ry="5.4"/><ellipse cx="1431.7" cy="501.2" rx="5.4" ry="5.4"/><ellipse cx="1434.7" cy="498.5" rx="5.4" ry="5.4"/><ellipse cx="1437.7" cy="495.9" rx="5.4" ry="5.4"/><ellipse cx="1440.7" cy="493.2" rx="5.4" ry="5.4"/><ellipse cx="1443.7" cy="490.6" rx="5.4" ry="5.4"/><ellipse cx="1446.7" cy="487.9" rx="5.4" ry="5.4"/><ellipse cx="1449.7" cy="485.3" rx="5.4" ry="5.4"/><ellipse cx="1452.7" cy="482.6" rx="5.4" ry="5.4"/><ellipse cx="1455.6" cy="479.9" rx="5.4" ry="5.4"/><ellipse cx="1458.6" cy="477.3" rx="5.4" ry="5.4"/><ellipse cx="1461.6" cy="474.6" rx="5.4" ry="5.4"/><ellipse cx="1464.5" cy="471.9" rx="5.4" ry="5.4"/><ellipse cx="1467.5" cy="469.2" rx="5.4" ry="5.4"/><ellipse cx="1470.5" cy="466.5" rx="5.4" ry="5.4"/><ellipse cx="1473.4" cy="463.8" rx="5.4" ry="5.4"/><ellipse cx="1476.4" cy="461.1" rx="5.4" ry="5.4"/><ellipse cx="1479.3" cy="458.4" rx="5.4" ry="5.4"/><ellipse cx="1482.3" cy="455.7" rx="5.4" ry="5.4"/><ellipse cx="1485.2" cy="453.0" rx="5.4" ry="5.4"/><ellipse cx="1488.2" cy="450.3" rx="5.4" ry="5.4"/><ellipse cx="1491.1" cy="447.6" rx="5.4" ry="5.4"/><ellipse cx="1494.0" cy="444.9" rx="5.4" ry="5.4"/><ellipse cx="1497.0" cy="442.2" rx="5.4" ry="5.4"/><ellipse cx="1499.9" cy="439.5" rx="5.4" ry="5.4"/><ellipse cx="1502.8" cy="436.7" rx="5.4" ry="5.4"/><ellipse cx="1505.8" cy="434.0" rx="5.4" ry="5.4"/><ellipse cx="1508.7" cy="431.3" rx="5.4" ry="5.4"/><ellipse cx="1511.6" cy="428.6" rx="5.4" ry="5.4"/><ellipse cx="1514.6" cy="425.8" rx="5.4" ry="5.4"/><ellipse cx="1517.5" cy="423.1" rx="5.4" ry="5.4"/><ellipse cx="1520.4" cy="420.4" rx="5.4" ry="5.4"/><ellipse cx="1523.3" cy="417.6" rx="5.4" ry="5.4"/><ellipse cx="1526.2" cy="414.9" rx="5.4" ry="5.4"/><ellipse cx="1529.1" cy="412.1" rx="5.4" ry="5.4"/><ellipse cx="1532.1" cy="409.4" rx="5.4" ry="5.4"/><ellipse cx="1535.0" cy="406.7" rx="5.4" ry="5.4"/><ellipse cx="1537.9" cy="403.9" rx="5.4" ry="5.4"/><ellipse cx="1540.8" cy="401.2" rx="5.4" ry="5.4"/><ellipse cx="1543.7" cy="398.4" rx="5.4" ry="5.4"/><ellipse cx="1546.6" cy="395.7" rx="5.4" ry="5.4"/><ellipse cx="1549.5" cy="392.9" rx="5.4" ry="5.4"/><ellipse cx="1552.4" cy="390.2" rx="5.4" ry="5.4"/><ellipse cx="1555.3" cy="387.4" rx="5.4" ry="5.4"/><ellipse cx="1558.2" cy="384.7" rx="5.4" ry="5.4"/><ellipse cx="1561.1" cy="381.9" rx="5.4" ry="5.4"/><ellipse cx="1564.0" cy="379.2" rx="5.4" ry="5.4"/><ellipse cx="1566.9" cy="376.4" rx="5.4" ry="5.4"/><ellipse cx="1569.8" cy="373.7" rx="5.4" ry="5.4"/><ellipse cx="1572.7" cy="370.9" rx="5.4" ry="5.4"/><ellipse cx="1575.6" cy="368.2" rx="5.4" ry="5.4"/><ellipse cx="1578.5" cy="365.4" rx="5.4" ry="5.4"/><ellipse cx="1581.4" cy="362.7" rx="5.4" ry="5.4"/><ellipse cx="1584.3" cy="359.9" rx="5.4" ry="5.4"/><ellipse cx="1587.2" cy="357.1" rx="5.4" ry="5.4"/><ellipse cx="1590.1" cy="354.4" rx="5.4" ry="5.4"/><ellipse cx="1593.0" cy="351.6" rx="5.4" ry="5.4"/><ellipse cx="1595.9" cy="348.9" rx="5.4" ry="5.4"/><ellipse cx="1598.8" cy="346.1" rx="5.4" ry="5.4"/><ellipse cx="1601.7" cy="343.4" rx="5.4" ry="5.4"/><ellipse cx="1604.6" cy="340.6" rx="5.4" ry="5.4"/><ellipse cx="1607.5" cy="337.8" rx="5.4" ry="5.4"/><ellipse cx="1610.4" cy="335.1" rx="5.4" ry="5.4"/><ellipse cx="1613.3" cy="332.3" rx="5.4" ry="5.4"/><ellipse cx="1616.2" cy="329.6" rx="5.4" ry="5.4"/><ellipse cx="1619.1" cy="326.8" rx="5.4" ry="5.4"/><ellipse cx="1622.0" cy="324.1" rx="5.4" ry="5.4"/><ellipse cx="1624.9" cy="321.3" rx="5.4" ry="5.4"/><ellipse cx="1627.8" cy="318.6" rx="5.4" ry="5.4"/><ellipse cx="1630.7" cy="315.8" rx="5.4" ry="5.4"/><ellipse cx="1633.6" cy="313.0" rx="5.4" ry="5.4"/><ellipse cx="1636.5" cy="310.3" rx="5.4" ry="5.4"/><ellipse cx="1639.4" cy="307.5" rx="5.4" ry="5.4"/><ellipse cx="1642.2" cy="304.7" rx="5.4" ry="5.4"/><ellipse cx="1645.1" cy="301.9" rx="5.4" ry="5.4"/><ellipse cx="1648.0" cy="299.1" rx="5.4" ry="5.4"/><ellipse cx="1650.8" cy="296.3" rx="5.4" ry="5.4"/><ellipse cx="1653.7" cy="293.5" rx="5.4" ry="5.4"/><ellipse cx="1656.5" cy="290.7" rx="5.4" ry="5.4"/><ellipse cx="1659.3" cy="287.9" rx="5.4" ry="5.4"/><ellipse cx="1662.2" cy="285.0" rx="5.4" ry="5.4"/><ellipse cx="1665.0" cy="282.2" rx="5.4" ry="5.4"/><ellipse cx="1667.8" cy="279.4" rx="5.4" ry="5.4"/><ellipse cx="1670.6" cy="276.5" rx="5.4" ry="5.4"/><ellipse cx="1673.4" cy="273.7" rx="5.4" ry="5.4"/><ellipse cx="1676.2" cy="270.8" rx="5.4" ry="5.4"/><ellipse cx="1679.0" cy="267.9" rx="5.4" ry="5.4"/><ellipse cx="1681.8" cy="265.1" rx="5.4" ry="5.4"/><ellipse cx="1684.6" cy="262.2" rx="5.4" ry="5.4"/><ellipse cx="1687.4" cy="259.3" rx="5.4" ry="5.4"/><ellipse cx="1690.1" cy="256.4" rx="5.4" ry="5.4"/><ellipse cx="1692.9" cy="253.6" rx="5.4" ry="5.4"/><ellipse cx="1695.7" cy="250.7" rx="5.4" ry="5.4"/><ellipse cx="1698.5" cy="247.8" rx="5.4" ry="5.4"/><ellipse cx="1701.3" cy="245.0" rx="5.4" ry="5.4"/><ellipse cx="1704.1" cy="242.1" rx="5.4" ry="5.4"/><ellipse cx="1706.9" cy="239.2" rx="5.4" ry="5.4"/><ellipse cx="1709.7" cy="236.4" rx="5.4" ry="5.4"/><ellipse cx="1712.5" cy="233.5" rx="5.4" ry="5.4"/><ellipse cx="1715.3" cy="230.7" rx="5.4" ry="5.4"/><ellipse cx="1716.0" cy="230.0" rx="17.0" ry="6.8"/><ellipse cx="1702.4" cy="243.8" rx="17.0" ry="6.8"/><ellipse cx="1689.0" cy="257.6" rx="17.0" ry="6.8"/><ellipse cx="1675.6" cy="271.4" rx="17.0" ry="6.8"/><ellipse cx="1662.0" cy="285.2" rx="17.0" ry="6.8"/><ellipse cx="1648.1" cy="299.0" rx="17.0" ry="6.8"/><ellipse cx="1633.8" cy="312.8" rx="17.0" ry="6.8"/><ellipse cx="1619.4" cy="326.6" rx="17.0" ry="6.8"/><ellipse cx="1604.8" cy="340.4" rx="17.0" ry="6.8"/><ellipse cx="1590.3" cy="354.2" rx="17.0" ry="6.8"/><ellipse cx="1575.8" cy="368.0" rx="17.0" ry="6.8"/><ellipse cx="1561.3" cy="381.8" rx="17.0" ry="6.8"/><ellipse cx="1546.7" cy="395.6" rx="17.0" ry="6.8"/><ellipse cx="1532.1" cy="409.4" rx="17.0" ry="6.8"/><ellipse cx="1517.4" cy="423.2" rx="17.0" ry="6.8"/><ellipse cx="1502.6" cy="437.0" rx="17.0" ry="6.8"/><ellipse cx="1487.6" cy="450.8" rx="17.0" ry="6.8"/><ellipse cx="1472.6" cy="464.6" rx="17.0" ry="6.8"/><ellipse cx="1457.3" cy="478.4" rx="17.0" ry="6.8"/><ellipse cx="1441.9" cy="492.2" rx="17.0" ry="6.8"/><ellipse cx="1426.1" cy="506.0" rx="17.0" ry="6.8"/><ellipse cx="1409.8" cy="519.8" rx="17.0" ry="6.8"/><ellipse cx="1392.8" cy="533.6" rx="17.0" ry="6.8"/><ellipse cx="1375.0" cy="547.4" rx="17.0" ry="6.8"/><ellipse cx="1356.1" cy="561.2" rx="17.0" ry="6.8"/><ellipse cx="1336.3" cy="575.0" rx="17.0" ry="6.8"/><ellipse cx="1315.7" cy="588.8" rx="17.0" ry="6.8"/><ellipse cx="1294.8" cy="602.6" rx="17.0" ry="6.8"/><ellipse cx="1274.1" cy="616.4" rx="17.0" ry="6.8"/><ellipse cx="1254.2" cy="630.2" rx="17.0" ry="6.8"/><ellipse cx="1472.0" cy="587.0" rx="6.8" ry="6.8" opacity="0.86"/><ellipse cx="1475.6" cy="585.3" rx="6.8" ry="6.8" opacity="0.87"/><ellipse cx="1479.2" cy="583.6" rx="6.8" ry="6.8" opacity="0.87"/><ellipse cx="1482.9" cy="581.9" rx="6.8" ry="6.8" opacity="0.88"/><ellipse cx="1486.5" cy="580.2" rx="6.8" ry="6.8" opacity="0.88"/><ellipse cx="1490.1" cy="578.5" rx="6.8" ry="6.8" opacity="0.89"/><ellipse cx="1493.7" cy="576.8" rx="6.8" ry="6.8" opacity="0.90"/><ellipse cx="1497.4" cy="575.1" rx="6.8" ry="6.8" opacity="0.90"/><ellipse cx="1501.0" cy="573.5" rx="6.8" ry="6.8" opacity="0.91"/><ellipse cx="1504.6" cy="571.8" rx="6.8" ry="6.8" opacity="0.91"/><ellipse cx="1508.2" cy="570.1" rx="6.8" ry="6.8" opacity="0.92"/><ellipse cx="1511.9" cy="568.4" rx="6.8" ry="6.8" opacity="0.93"/><ellipse cx="1515.5" cy="566.7" rx="6.8" ry="6.8" opacity="0.93"/><ellipse cx="1519.1" cy="565.0" rx="6.8" ry="6.8" opacity="0.94"/><ellipse cx="1522.7" cy="563.3" rx="6.8" ry="6.8" opacity="0.94"/><ellipse cx="1526.4" cy="561.6" rx="6.8" ry="6.8" opacity="0.95"/><ellipse cx="1530.0" cy="559.9" rx="6.8" ry="6.8" opacity="0.96"/><ellipse cx="1533.6" cy="558.2" rx="6.8" ry="6.8" opacity="0.96"/><ellipse cx="1537.2" cy="556.5" rx="6.8" ry="6.8" opacity="0.97"/><ellipse cx="1540.9" cy="554.8" rx="6.8" ry="6.8" opacity="0.97"/><ellipse cx="1544.5" cy="553.1" rx="6.8" ry="6.8" opacity="0.98"/><ellipse cx="1548.1" cy="551.4" rx="6.8" ry="6.8" opacity="0.99"/><ellipse cx="1551.7" cy="549.8" rx="6.8" ry="6.8" opacity="0.99"/><ellipse cx="1555.4" cy="548.1" rx="6.8" ry="6.8"/><ellipse cx="1559.0" cy="546.4" rx="6.8" ry="6.8"/><ellipse cx="1562.6" cy="544.7" rx="6.8" ry="6.8"/><ellipse cx="1566.2" cy="543.0" rx="6.8" ry="6.8"/><ellipse cx="1569.8" cy="541.3" rx="6.8" ry="6.8"/><ellipse cx="1573.5" cy="539.6" rx="6.8" ry="6.8"/><ellipse cx="1577.1" cy="537.9" rx="6.8" ry="6.8"/><ellipse cx="1580.7" cy="536.2" rx="6.8" ry="6.8"/><ellipse cx="1584.3" cy="534.5" rx="6.8" ry="6.8"/><ellipse cx="1588.0" cy="532.8" rx="6.8" ry="6.8"/><ellipse cx="1591.6" cy="531.1" rx="6.8" ry="6.8"/><ellipse cx="1595.2" cy="529.4" rx="6.8" ry="6.8"/><ellipse cx="1598.8" cy="527.7" rx="6.8" ry="6.8"/><ellipse cx="1602.5" cy="526.0" rx="6.8" ry="6.8"/><ellipse cx="1606.1" cy="524.4" rx="6.8" ry="6.8"/><ellipse cx="1609.7" cy="522.7" rx="6.8" ry="6.8"/><ellipse cx="1613.3" cy="521.0" rx="6.8" ry="6.8"/><ellipse cx="1617.0" cy="519.3" rx="6.8" ry="6.8"/><ellipse cx="1620.6" cy="517.6" rx="6.8" ry="6.8"/><ellipse cx="1624.2" cy="515.9" rx="6.8" ry="6.8"/><ellipse cx="1627.8" cy="514.2" rx="6.8" ry="6.8"/><ellipse cx="1631.5" cy="512.5" rx="6.8" ry="6.8"/><ellipse cx="1635.1" cy="510.8" rx="6.8" ry="6.8"/><ellipse cx="1638.7" cy="509.1" rx="6.8" ry="6.8"/><ellipse cx="1642.3" cy="507.4" rx="6.8" ry="6.8"/><ellipse cx="1646.0" cy="505.7" rx="6.8" ry="6.8"/><ellipse cx="1649.6" cy="504.0" rx="6.8" ry="6.8"/><ellipse cx="1653.2" cy="502.3" rx="6.8" ry="6.8"/><ellipse cx="1656.8" cy="500.6" rx="6.8" ry="6.8"/><ellipse cx="1660.4" cy="499.0" rx="6.8" ry="6.8"/><ellipse cx="1664.1" cy="497.3" rx="6.8" ry="6.8"/><ellipse cx="1667.7" cy="495.6" rx="6.8" ry="6.8"/><ellipse cx="1671.3" cy="493.9" rx="6.8" ry="6.8"/><ellipse cx="1674.9" cy="492.2" rx="6.8" ry="6.8"/><ellipse cx="1678.6" cy="490.5" rx="6.8" ry="6.8"/><ellipse cx="1682.2" cy="488.8" rx="6.8" ry="6.8"/><ellipse cx="1685.8" cy="487.1" rx="6.8" ry="6.8"/><ellipse cx="1689.4" cy="485.4" rx="6.8" ry="6.8"/><ellipse cx="1693.1" cy="483.7" rx="6.8" ry="6.8"/><ellipse cx="1696.7" cy="482.0" rx="6.8" ry="6.8"/><ellipse cx="1700.3" cy="480.3" rx="6.8" ry="6.8"/><ellipse cx="1703.9" cy="478.6" rx="6.8" ry="6.8"/><ellipse cx="1707.6" cy="476.9" rx="6.8" ry="6.8"/><ellipse cx="1711.2" cy="475.3" rx="6.8" ry="6.8"/><ellipse cx="1714.8" cy="473.6" rx="6.8" ry="6.8"/><ellipse cx="1249.0" cy="682.0" rx="5.4" ry="5.4" opacity="0.71"/><ellipse cx="1252.7" cy="680.4" rx="5.4" ry="5.4" opacity="0.74"/><ellipse cx="1256.4" cy="678.9" rx="5.4" ry="5.4" opacity="0.77"/><ellipse cx="1260.1" cy="677.3" rx="5.4" ry="5.4" opacity="0.79"/><ellipse cx="1263.7" cy="675.8" rx="5.4" ry="5.4" opacity="0.82"/><ellipse cx="1267.4" cy="674.3" rx="5.4" ry="5.4" opacity="0.84"/><ellipse cx="1271.1" cy="672.8" rx="5.4" ry="5.4" opacity="0.87"/><ellipse cx="1274.9" cy="671.3" rx="5.4" ry="5.4" opacity="0.90"/><ellipse cx="1278.6" cy="669.8" rx="5.4" ry="5.4" opacity="0.92"/><ellipse cx="1282.3" cy="668.3" rx="5.4" ry="5.4" opacity="0.95"/><ellipse cx="1286.0" cy="666.8" rx="5.4" ry="5.4" opacity="0.98"/><ellipse cx="1289.7" cy="665.3" rx="5.4" ry="5.4"/><ellipse cx="1293.4" cy="663.9" rx="5.4" ry="5.4"/><ellipse cx="1297.2" cy="662.4" rx="5.4" ry="5.4"/><ellipse cx="1300.9" cy="661.0" rx="5.4" ry="5.4"/><ellipse cx="1304.6" cy="659.5" rx="5.4" ry="5.4"/><ellipse cx="1308.4" cy="658.1" rx="5.4" ry="5.4"/><ellipse cx="1312.1" cy="656.6" rx="5.4" ry="5.4"/><ellipse cx="1315.8" cy="655.2" rx="5.4" ry="5.4"/><ellipse cx="1319.5" cy="653.7" rx="5.4" ry="5.4"/><ellipse cx="1323.3" cy="652.3" rx="5.4" ry="5.4"/><ellipse cx="1327.0" cy="650.8" rx="5.4" ry="5.4"/><ellipse cx="1330.7" cy="649.3" rx="5.4" ry="5.4"/><ellipse cx="1334.4" cy="647.9" rx="5.4" ry="5.4"/><ellipse cx="1338.1" cy="646.4" rx="5.4" ry="5.4"/><ellipse cx="1341.9" cy="644.9" rx="5.4" ry="5.4"/><ellipse cx="1345.6" cy="643.4" rx="5.4" ry="5.4"/><ellipse cx="1349.3" cy="641.9" rx="5.4" ry="5.4"/><ellipse cx="1353.0" cy="640.4" rx="5.4" ry="5.4"/><ellipse cx="1356.7" cy="638.9" rx="5.4" ry="5.4"/><ellipse cx="1360.4" cy="637.3" rx="5.4" ry="5.4"/><ellipse cx="1364.1" cy="635.8" rx="5.4" ry="5.4"/><ellipse cx="1367.7" cy="634.2" rx="5.4" ry="5.4"/><ellipse cx="1371.4" cy="632.6" rx="5.4" ry="5.4"/><ellipse cx="1375.1" cy="631.0" rx="5.4" ry="5.4"/><ellipse cx="1378.7" cy="629.4" rx="5.4" ry="5.4"/><ellipse cx="1382.4" cy="627.8" rx="5.4" ry="5.4"/><ellipse cx="1386.1" cy="626.2" rx="5.4" ry="5.4"/><ellipse cx="1389.7" cy="624.5" rx="5.4" ry="5.4"/><ellipse cx="1393.3" cy="622.9" rx="5.4" ry="5.4"/><ellipse cx="1397.0" cy="621.2" rx="5.4" ry="5.4"/><ellipse cx="1400.6" cy="619.5" rx="5.4" ry="5.4"/><ellipse cx="1404.2" cy="617.8" rx="5.4" ry="5.4"/><ellipse cx="1407.8" cy="616.1" rx="5.4" ry="5.4"/><ellipse cx="1411.4" cy="614.3" rx="5.4" ry="5.4"/><ellipse cx="1415.0" cy="612.6" rx="5.4" ry="5.4"/><ellipse cx="1418.6" cy="610.8" rx="5.4" ry="5.4"/><ellipse cx="1422.2" cy="609.1" rx="5.4" ry="5.4"/><ellipse cx="1425.8" cy="607.3" rx="5.4" ry="5.4"/><ellipse cx="1429.4" cy="605.5" rx="5.4" ry="5.4"/><ellipse cx="1432.9" cy="603.7" rx="5.4" ry="5.4"/><ellipse cx="1436.5" cy="601.8" rx="5.4" ry="5.4"/><ellipse cx="1440.0" cy="600.0" rx="5.4" ry="5.4"/><ellipse cx="1443.6" cy="598.1" rx="5.4" ry="5.4"/><ellipse cx="1447.1" cy="596.3" rx="5.4" ry="5.4"/><ellipse cx="1450.6" cy="594.4" rx="5.4" ry="5.4"/><ellipse cx="1454.2" cy="592.5" rx="5.4" ry="5.4"/><ellipse cx="1457.7" cy="590.6" rx="5.4" ry="5.4"/><ellipse cx="1461.2" cy="588.7" rx="5.4" ry="5.4"/><ellipse cx="1464.7" cy="586.8" rx="5.4" ry="5.4"/><ellipse cx="1468.2" cy="584.9" rx="5.4" ry="5.4"/><ellipse cx="1471.7" cy="582.9" rx="5.4" ry="5.4"/><ellipse cx="1475.2" cy="581.0" rx="5.4" ry="5.4"/><ellipse cx="1478.7" cy="579.0" rx="5.4" ry="5.4"/><ellipse cx="1482.2" cy="577.1" rx="5.4" ry="5.4"/><ellipse cx="1485.7" cy="575.1" rx="5.4" ry="5.4"/><ellipse cx="1489.2" cy="573.2" rx="5.4" ry="5.4"/><ellipse cx="1492.7" cy="571.2" rx="5.4" ry="5.4"/><ellipse cx="1496.1" cy="569.2" rx="5.4" ry="5.4"/><ellipse cx="1499.6" cy="567.2" rx="5.4" ry="5.4"/><ellipse cx="1503.1" cy="565.2" rx="5.4" ry="5.4"/><ellipse cx="1506.6" cy="563.3" rx="5.4" ry="5.4"/><ellipse cx="1510.0" cy="561.3" rx="5.4" ry="5.4"/><ellipse cx="1513.5" cy="559.3" rx="5.4" ry="5.4"/><ellipse cx="1516.9" cy="557.3" rx="5.4" ry="5.4"/><ellipse cx="1520.4" cy="555.2" rx="5.4" ry="5.4"/><ellipse cx="1523.9" cy="553.2" rx="5.4" ry="5.4"/><ellipse cx="1527.3" cy="551.2" rx="5.4" ry="5.4"/><ellipse cx="1530.8" cy="549.2" rx="5.4" ry="5.4"/><ellipse cx="1534.2" cy="547.2" rx="5.4" ry="5.4"/><ellipse cx="1537.7" cy="545.1" rx="5.4" ry="5.4"/><ellipse cx="1541.1" cy="543.1" rx="5.4" ry="5.4"/><ellipse cx="1544.6" cy="541.1" rx="5.4" ry="5.4"/><ellipse cx="1548.0" cy="539.1" rx="5.4" ry="5.4"/><ellipse cx="1551.4" cy="537.0" rx="5.4" ry="5.4"/><ellipse cx="1554.9" cy="535.0" rx="5.4" ry="5.4"/><ellipse cx="1558.3" cy="532.9" rx="5.4" ry="5.4"/><ellipse cx="1561.8" cy="530.9" rx="5.4" ry="5.4"/><ellipse cx="1565.2" cy="528.8" rx="5.4" ry="5.4"/><ellipse cx="1568.6" cy="526.8" rx="5.4" ry="5.4"/><ellipse cx="1572.1" cy="524.8" rx="5.4" ry="5.4"/><ellipse cx="1575.5" cy="522.7" rx="5.4" ry="5.4"/><ellipse cx="1578.9" cy="520.7" rx="5.4" ry="5.4"/><ellipse cx="1582.4" cy="518.6" rx="5.4" ry="5.4"/><ellipse cx="1585.8" cy="516.5" rx="5.4" ry="5.4"/><ellipse cx="1589.2" cy="514.5" rx="5.4" ry="5.4"/><ellipse cx="1592.7" cy="512.4" rx="5.4" ry="5.4"/><ellipse cx="1596.1" cy="510.4" rx="5.4" ry="5.4"/><ellipse cx="1599.5" cy="508.3" rx="5.4" ry="5.4"/><ellipse cx="1603.0" cy="506.3" rx="5.4" ry="5.4"/><ellipse cx="1606.4" cy="504.2" rx="5.4" ry="5.4"/><ellipse cx="1609.8" cy="502.2" rx="5.4" ry="5.4"/><ellipse cx="1613.3" cy="500.1" rx="5.4" ry="5.4"/><ellipse cx="1616.7" cy="498.0" rx="5.4" ry="5.4"/><ellipse cx="1620.1" cy="496.0" rx="5.4" ry="5.4"/><ellipse cx="1623.5" cy="493.9" rx="5.4" ry="5.4"/><ellipse cx="1627.0" cy="491.9" rx="5.4" ry="5.4"/><ellipse cx="1630.4" cy="489.8" rx="5.4" ry="5.4"/><ellipse cx="1633.8" cy="487.7" rx="5.4" ry="5.4"/><ellipse cx="1637.3" cy="485.7" rx="5.4" ry="5.4"/><ellipse cx="1640.7" cy="483.6" rx="5.4" ry="5.4"/><ellipse cx="1644.1" cy="481.6" rx="5.4" ry="5.4"/><ellipse cx="1647.6" cy="479.5" rx="5.4" ry="5.4"/><ellipse cx="1651.0" cy="477.4" rx="5.4" ry="5.4"/><ellipse cx="1654.4" cy="475.4" rx="5.4" ry="5.4"/><ellipse cx="1657.8" cy="473.3" rx="5.4" ry="5.4"/><ellipse cx="1661.3" cy="471.3" rx="5.4" ry="5.4"/><ellipse cx="1664.7" cy="469.2" rx="5.4" ry="5.4"/><ellipse cx="1668.1" cy="467.2" rx="5.4" ry="5.4"/><ellipse cx="1671.6" cy="465.1" rx="5.4" ry="5.4"/><ellipse cx="1675.0" cy="463.1" rx="5.4" ry="5.4"/><ellipse cx="1678.5" cy="461.0" rx="5.4" ry="5.4"/><ellipse cx="1681.9" cy="459.0" rx="5.4" ry="5.4"/><ellipse cx="1685.3" cy="456.9" rx="5.4" ry="5.4"/><ellipse cx="1688.8" cy="454.9" rx="5.4" ry="5.4"/><ellipse cx="1692.2" cy="452.9" rx="5.4" ry="5.4"/><ellipse cx="1695.7" cy="450.8" rx="5.4" ry="5.4"/><ellipse cx="1699.1" cy="448.8" rx="5.4" ry="5.4"/><ellipse cx="1702.5" cy="446.8" rx="5.4" ry="5.4"/><ellipse cx="1706.0" cy="444.7" rx="5.4" ry="5.4"/><ellipse cx="1709.4" cy="442.7" rx="5.4" ry="5.4"/><ellipse cx="1712.9" cy="440.7" rx="5.4" ry="5.4"/><ellipse cx="1716.3" cy="438.7" rx="5.4" ry="5.4"/><ellipse cx="1312.4" cy="656.5" rx="12.8" ry="5.4"/><ellipse cx="1328.0" cy="650.4" rx="12.8" ry="5.4"/><ellipse cx="1343.6" cy="644.2" rx="12.8" ry="5.4"/><ellipse cx="1359.2" cy="637.8" rx="12.8" ry="5.4"/><ellipse cx="1374.8" cy="631.2" rx="12.8" ry="5.4"/><ellipse cx="1390.4" cy="624.2" rx="12.8" ry="5.4"/><ellipse cx="1406.0" cy="617.0" rx="12.8" ry="5.4"/><ellipse cx="1421.6" cy="609.4" rx="12.8" ry="5.4"/><ellipse cx="1437.2" cy="601.5" rx="12.8" ry="5.4"/><ellipse cx="1452.8" cy="593.2" rx="12.8" ry="5.4"/><ellipse cx="1468.4" cy="584.8" rx="12.8" ry="5.4"/><ellipse cx="1484.0" cy="576.1" rx="12.8" ry="5.4"/><ellipse cx="1499.6" cy="567.2" rx="12.8" ry="5.4"/><ellipse cx="1515.2" cy="558.3" rx="12.8" ry="5.4"/><ellipse cx="1530.8" cy="549.2" rx="12.8" ry="5.4"/><ellipse cx="1546.4" cy="540.0" rx="12.8" ry="5.4"/><ellipse cx="1562.0" cy="530.8" rx="12.8" ry="5.4"/><ellipse cx="1577.6" cy="521.5" rx="12.8" ry="5.4"/><ellipse cx="1593.2" cy="512.1" rx="12.8" ry="5.4"/><ellipse cx="1608.8" cy="502.8" rx="12.8" ry="5.4"/><ellipse cx="1624.4" cy="493.4" rx="12.8" ry="5.4"/><ellipse cx="1640.0" cy="484.0" rx="12.8" ry="5.4"/><ellipse cx="1655.6" cy="474.7" rx="12.8" ry="5.4"/><ellipse cx="1671.2" cy="465.4" rx="12.8" ry="5.4"/><ellipse cx="1686.8" cy="456.1" rx="12.8" ry="5.4"/><ellipse cx="1702.4" cy="446.9" rx="12.8" ry="5.4"/><ellipse cx="1465.7" cy="555.9" rx="5.1" ry="5.1" opacity="0.57"/><ellipse cx="1469.2" cy="553.9" rx="5.1" ry="5.1" opacity="0.59"/><ellipse cx="1472.6" cy="551.9" rx="5.1" ry="5.1" opacity="0.61"/><ellipse cx="1476.1" cy="549.9" rx="5.1" ry="5.1" opacity="0.62"/><ellipse cx="1479.6" cy="547.9" rx="5.1" ry="5.1" opacity="0.64"/><ellipse cx="1483.0" cy="545.9" rx="5.1" ry="5.1" opacity="0.66"/><ellipse cx="1486.5" cy="543.9" rx="5.1" ry="5.1" opacity="0.68"/><ellipse cx="1490.0" cy="542.0" rx="5.1" ry="5.1" opacity="0.69"/><ellipse cx="1493.4" cy="540.0" rx="5.1" ry="5.1" opacity="0.71"/><ellipse cx="1496.9" cy="538.0" rx="5.1" ry="5.1" opacity="0.73"/><ellipse cx="1500.4" cy="536.0" rx="5.1" ry="5.1" opacity="0.75"/><ellipse cx="1503.9" cy="534.0" rx="5.1" ry="5.1" opacity="0.76"/><ellipse cx="1507.3" cy="532.0" rx="5.1" ry="5.1" opacity="0.78"/><ellipse cx="1510.8" cy="530.0" rx="5.1" ry="5.1" opacity="0.80"/><ellipse cx="1514.3" cy="528.0" rx="5.1" ry="5.1" opacity="0.82"/><ellipse cx="1517.7" cy="526.0" rx="5.1" ry="5.1" opacity="0.84"/><ellipse cx="1521.2" cy="524.0" rx="5.1" ry="5.1" opacity="0.85"/><ellipse cx="1524.7" cy="522.0" rx="5.1" ry="5.1" opacity="0.87"/><ellipse cx="1528.1" cy="520.0" rx="5.1" ry="5.1" opacity="0.89"/><ellipse cx="1531.6" cy="518.1" rx="5.1" ry="5.1" opacity="0.91"/><ellipse cx="1535.1" cy="516.1" rx="5.1" ry="5.1" opacity="0.92"/><ellipse cx="1538.5" cy="514.1" rx="5.1" ry="5.1" opacity="0.94"/><ellipse cx="1542.0" cy="512.1" rx="5.1" ry="5.1" opacity="0.96"/><ellipse cx="1545.5" cy="510.1" rx="5.1" ry="5.1" opacity="0.98"/><ellipse cx="1548.9" cy="508.1" rx="5.1" ry="5.1" opacity="0.99"/><ellipse cx="1552.4" cy="506.1" rx="5.1" ry="5.1"/><ellipse cx="1555.9" cy="504.1" rx="5.1" ry="5.1"/><ellipse cx="1559.4" cy="502.1" rx="5.1" ry="5.1"/><ellipse cx="1562.8" cy="500.1" rx="5.1" ry="5.1"/><ellipse cx="1566.3" cy="498.1" rx="5.1" ry="5.1"/><ellipse cx="1569.8" cy="496.1" rx="5.1" ry="5.1"/><ellipse cx="1573.2" cy="494.1" rx="5.1" ry="5.1"/><ellipse cx="1576.7" cy="492.2" rx="5.1" ry="5.1"/><ellipse cx="1580.2" cy="490.2" rx="5.1" ry="5.1"/><ellipse cx="1583.6" cy="488.2" rx="5.1" ry="5.1"/><ellipse cx="1587.1" cy="486.2" rx="5.1" ry="5.1"/><ellipse cx="1590.6" cy="484.2" rx="5.1" ry="5.1"/><ellipse cx="1594.0" cy="482.2" rx="5.1" ry="5.1"/><ellipse cx="1597.5" cy="480.2" rx="5.1" ry="5.1"/><ellipse cx="1601.0" cy="478.2" rx="5.1" ry="5.1"/><ellipse cx="1604.4" cy="476.2" rx="5.1" ry="5.1"/><ellipse cx="1607.9" cy="474.2" rx="5.1" ry="5.1"/><ellipse cx="1611.4" cy="472.2" rx="5.1" ry="5.1"/><ellipse cx="1614.9" cy="470.2" rx="5.1" ry="5.1"/><ellipse cx="1618.3" cy="468.2" rx="5.1" ry="5.1"/><ellipse cx="1621.8" cy="466.3" rx="5.1" ry="5.1"/><ellipse cx="1625.3" cy="464.3" rx="5.1" ry="5.1"/><ellipse cx="1628.7" cy="462.3" rx="5.1" ry="5.1"/><ellipse cx="1632.2" cy="460.3" rx="5.1" ry="5.1"/><ellipse cx="1635.7" cy="458.3" rx="5.1" ry="5.1"/><ellipse cx="1639.1" cy="456.3" rx="5.1" ry="5.1"/><ellipse cx="1642.6" cy="454.3" rx="5.1" ry="5.1"/><ellipse cx="1646.1" cy="452.3" rx="5.1" ry="5.1"/><ellipse cx="1649.5" cy="450.3" rx="5.1" ry="5.1"/><ellipse cx="1653.0" cy="448.3" rx="5.1" ry="5.1"/><ellipse cx="1656.5" cy="446.3" rx="5.1" ry="5.1"/><ellipse cx="1659.9" cy="444.3" rx="5.1" ry="5.1"/><ellipse cx="1663.4" cy="442.4" rx="5.1" ry="5.1"/><ellipse cx="1666.9" cy="440.4" rx="5.1" ry="5.1"/><ellipse cx="1670.4" cy="438.4" rx="5.1" ry="5.1"/><ellipse cx="1673.8" cy="436.4" rx="5.1" ry="5.1"/><ellipse cx="1677.3" cy="434.4" rx="5.1" ry="5.1"/><ellipse cx="1680.8" cy="432.4" rx="5.1" ry="5.1"/><ellipse cx="1684.2" cy="430.4" rx="5.1" ry="5.1"/><ellipse cx="1687.7" cy="428.4" rx="5.1" ry="5.1"/><ellipse cx="1691.2" cy="426.4" rx="5.1" ry="5.1"/><ellipse cx="1694.6" cy="424.4" rx="5.1" ry="5.1"/><ellipse cx="1698.1" cy="422.4" rx="5.1" ry="5.1"/><ellipse cx="1701.6" cy="420.4" rx="5.1" ry="5.1"/><ellipse cx="1705.0" cy="418.4" rx="5.1" ry="5.1"/><ellipse cx="1708.5" cy="416.5" rx="5.1" ry="5.1"/><ellipse cx="1712.0" cy="414.5" rx="5.1" ry="5.1"/><ellipse cx="1715.4" cy="412.5" rx="5.1" ry="5.1"/><ellipse cx="1468.0" cy="554.6" rx="11.9" ry="5.6"/><ellipse cx="1482.8" cy="546.1" rx="11.9" ry="5.6"/><ellipse cx="1497.6" cy="537.6" rx="11.9" ry="5.6"/><ellipse cx="1512.4" cy="529.1" rx="11.9" ry="5.6"/><ellipse cx="1527.2" cy="520.6" rx="11.9" ry="5.6"/><ellipse cx="1542.0" cy="512.1" rx="11.9" ry="5.6"/><ellipse cx="1556.8" cy="503.6" rx="11.9" ry="5.6"/><ellipse cx="1571.6" cy="495.1" rx="11.9" ry="5.6"/><ellipse cx="1586.4" cy="486.6" rx="11.9" ry="5.6"/><ellipse cx="1601.2" cy="478.1" rx="11.9" ry="5.6"/><ellipse cx="1616.0" cy="469.6" rx="11.9" ry="5.6"/><ellipse cx="1630.8" cy="461.1" rx="11.9" ry="5.6"/><ellipse cx="1645.6" cy="452.6" rx="11.9" ry="5.6"/><ellipse cx="1660.4" cy="444.1" rx="11.9" ry="5.6"/><ellipse cx="1675.2" cy="435.6" rx="11.9" ry="5.6"/><ellipse cx="1690.0" cy="427.1" rx="11.9" ry="5.6"/><ellipse cx="1704.8" cy="418.6" rx="11.9" ry="5.6"/><ellipse cx="1293.0" cy="711.7" rx="9.2" ry="9.2" opacity="0.73"/><ellipse cx="1296.0" cy="711.2" rx="9.2" ry="9.2" opacity="0.76"/><ellipse cx="1298.9" cy="710.8" rx="9.2" ry="9.2" opacity="0.79"/><ellipse cx="1301.9" cy="710.3" rx="9.2" ry="9.2" opacity="0.83"/><ellipse cx="1304.9" cy="709.8" rx="9.2" ry="9.2" opacity="0.86"/><ellipse cx="1307.8" cy="709.4" rx="9.2" ry="9.2" opacity="0.89"/><ellipse cx="1310.8" cy="708.9" rx="9.2" ry="9.2" opacity="0.93"/><ellipse cx="1313.8" cy="708.5" rx="9.2" ry="9.2" opacity="0.96"/><ellipse cx="1316.7" cy="708.0" rx="9.2" ry="9.2" opacity="0.99"/><ellipse cx="1319.7" cy="707.6" rx="9.2" ry="9.2"/><ellipse cx="1322.7" cy="707.1" rx="9.2" ry="9.2"/><ellipse cx="1325.6" cy="706.7" rx="9.2" ry="9.2"/><ellipse cx="1328.6" cy="706.2" rx="9.2" ry="9.2"/><ellipse cx="1331.5" cy="705.7" rx="9.2" ry="9.2"/><ellipse cx="1334.5" cy="705.2" rx="9.2" ry="9.2"/><ellipse cx="1337.5" cy="704.7" rx="9.2" ry="9.2"/><ellipse cx="1340.4" cy="704.2" rx="9.2" ry="9.2"/><ellipse cx="1343.4" cy="703.7" rx="9.2" ry="9.2"/><ellipse cx="1346.3" cy="703.2" rx="9.2" ry="9.2"/><ellipse cx="1349.3" cy="702.6" rx="9.2" ry="9.2"/><ellipse cx="1352.2" cy="702.0" rx="9.2" ry="9.2"/><ellipse cx="1355.2" cy="701.5" rx="9.2" ry="9.2"/><ellipse cx="1358.1" cy="700.9" rx="9.2" ry="9.2"/><ellipse cx="1361.0" cy="700.3" rx="9.2" ry="9.2"/><ellipse cx="1364.0" cy="699.6" rx="9.2" ry="9.2"/><ellipse cx="1366.9" cy="699.0" rx="9.2" ry="9.2"/><ellipse cx="1369.8" cy="698.4" rx="9.2" ry="9.2"/><ellipse cx="1372.8" cy="697.7" rx="9.2" ry="9.2"/><ellipse cx="1375.7" cy="697.1" rx="9.2" ry="9.2"/><ellipse cx="1378.6" cy="696.4" rx="9.2" ry="9.2"/><ellipse cx="1381.6" cy="695.8" rx="9.2" ry="9.2"/><ellipse cx="1384.5" cy="695.1" rx="9.2" ry="9.2"/><ellipse cx="1387.4" cy="694.5" rx="9.2" ry="9.2"/><ellipse cx="1390.3" cy="693.8" rx="9.2" ry="9.2"/><ellipse cx="1393.3" cy="693.2" rx="9.2" ry="9.2"/><ellipse cx="1396.2" cy="692.5" rx="9.2" ry="9.2"/><ellipse cx="1399.1" cy="691.8" rx="9.2" ry="9.2"/><ellipse cx="1402.0" cy="691.2" rx="9.2" ry="9.2"/><ellipse cx="1405.0" cy="690.5" rx="9.2" ry="9.2"/><ellipse cx="1407.9" cy="689.9" rx="9.2" ry="9.2"/><ellipse cx="1410.8" cy="689.2" rx="9.2" ry="9.2"/><ellipse cx="1413.8" cy="688.6" rx="9.2" ry="9.2"/><ellipse cx="1416.7" cy="688.0" rx="9.2" ry="9.2"/><ellipse cx="1419.6" cy="687.4" rx="9.2" ry="9.2"/><ellipse cx="1422.6" cy="686.7" rx="9.2" ry="9.2"/><ellipse cx="1425.5" cy="686.1" rx="9.2" ry="9.2"/><ellipse cx="1428.4" cy="685.5" rx="9.2" ry="9.2"/><ellipse cx="1431.4" cy="684.9" rx="9.2" ry="9.2"/><ellipse cx="1434.3" cy="684.4" rx="9.2" ry="9.2"/><ellipse cx="1437.3" cy="683.8" rx="9.2" ry="9.2"/><ellipse cx="1440.2" cy="683.2" rx="9.2" ry="9.2"/><ellipse cx="1443.2" cy="682.6" rx="9.2" ry="9.2"/><ellipse cx="1446.1" cy="682.1" rx="9.2" ry="9.2"/><ellipse cx="1449.1" cy="681.5" rx="9.2" ry="9.2"/><ellipse cx="1452.0" cy="681.0" rx="9.2" ry="9.2"/><ellipse cx="1454.9" cy="680.4" rx="9.2" ry="9.2"/><ellipse cx="1457.9" cy="679.8" rx="9.2" ry="9.2"/><ellipse cx="1460.8" cy="679.3" rx="9.2" ry="9.2"/><ellipse cx="1463.8" cy="678.7" rx="9.2" ry="9.2"/><ellipse cx="1466.7" cy="678.1" rx="9.2" ry="9.2"/><ellipse cx="1469.7" cy="677.5" rx="9.2" ry="9.2"/><ellipse cx="1472.6" cy="677.0" rx="9.2" ry="9.2"/><ellipse cx="1475.6" cy="676.4" rx="9.2" ry="9.2"/><ellipse cx="1478.5" cy="675.8" rx="9.2" ry="9.2"/><ellipse cx="1481.4" cy="675.2" rx="9.2" ry="9.2"/><ellipse cx="1484.4" cy="674.5" rx="9.2" ry="9.2"/><ellipse cx="1487.3" cy="673.9" rx="9.2" ry="9.2"/><ellipse cx="1490.2" cy="673.3" rx="9.2" ry="9.2"/><ellipse cx="1493.2" cy="672.6" rx="9.2" ry="9.2"/><ellipse cx="1496.1" cy="672.0" rx="9.2" ry="9.2"/><ellipse cx="1499.0" cy="671.3" rx="9.2" ry="9.2"/><ellipse cx="1501.9" cy="670.6" rx="9.2" ry="9.2"/><ellipse cx="1504.9" cy="669.9" rx="9.2" ry="9.2"/><ellipse cx="1507.8" cy="669.3" rx="9.2" ry="9.2"/><ellipse cx="1510.7" cy="668.6" rx="9.2" ry="9.2"/><ellipse cx="1513.6" cy="667.9" rx="9.2" ry="9.2"/><ellipse cx="1516.5" cy="667.2" rx="9.2" ry="9.2"/><ellipse cx="1519.5" cy="666.5" rx="9.2" ry="9.2"/><ellipse cx="1522.4" cy="665.8" rx="9.2" ry="9.2"/><ellipse cx="1525.3" cy="665.0" rx="9.2" ry="9.2"/><ellipse cx="1528.2" cy="664.3" rx="9.2" ry="9.2"/><ellipse cx="1531.1" cy="663.6" rx="9.2" ry="9.2"/><ellipse cx="1534.0" cy="662.8" rx="9.2" ry="9.2"/><ellipse cx="1536.9" cy="662.1" rx="9.2" ry="9.2"/><ellipse cx="1539.8" cy="661.4" rx="9.2" ry="9.2"/><ellipse cx="1542.7" cy="660.6" rx="9.2" ry="9.2"/><ellipse cx="1545.6" cy="659.9" rx="9.2" ry="9.2"/><ellipse cx="1548.5" cy="659.1" rx="9.2" ry="9.2"/><ellipse cx="1551.4" cy="658.3" rx="9.2" ry="9.2"/><ellipse cx="1554.3" cy="657.5" rx="9.2" ry="9.2"/><ellipse cx="1557.2" cy="656.8" rx="9.2" ry="9.2"/><ellipse cx="1560.1" cy="656.0" rx="9.2" ry="9.2"/><ellipse cx="1563.0" cy="655.2" rx="9.2" ry="9.2"/><ellipse cx="1565.9" cy="654.4" rx="9.2" ry="9.2"/><ellipse cx="1568.8" cy="653.6" rx="9.2" ry="9.2"/><ellipse cx="1571.7" cy="652.8" rx="9.2" ry="9.2"/><ellipse cx="1574.6" cy="652.0" rx="9.2" ry="9.2"/><ellipse cx="1577.5" cy="651.2" rx="9.2" ry="9.2"/><ellipse cx="1580.3" cy="650.3" rx="9.2" ry="9.2"/><ellipse cx="1583.2" cy="649.5" rx="9.2" ry="9.2"/><ellipse cx="1586.1" cy="648.7" rx="9.2" ry="9.2"/><ellipse cx="1589.0" cy="647.8" rx="9.2" ry="9.2"/><ellipse cx="1591.9" cy="647.0" rx="9.2" ry="9.2"/><ellipse cx="1594.7" cy="646.1" rx="9.2" ry="9.2"/><ellipse cx="1597.6" cy="645.3" rx="9.2" ry="9.2"/><ellipse cx="1600.5" cy="644.4" rx="9.2" ry="9.2"/><ellipse cx="1603.4" cy="643.5" rx="9.2" ry="9.2"/><ellipse cx="1606.2" cy="642.7" rx="9.2" ry="9.2"/><ellipse cx="1609.1" cy="641.8" rx="9.2" ry="9.2"/><ellipse cx="1612.0" cy="640.9" rx="9.2" ry="9.2"/><ellipse cx="1614.8" cy="640.0" rx="9.2" ry="9.2"/><ellipse cx="1617.7" cy="639.1" rx="9.2" ry="9.2"/><ellipse cx="1620.6" cy="638.2" rx="9.2" ry="9.2"/><ellipse cx="1623.4" cy="637.3" rx="9.2" ry="9.2"/><ellipse cx="1626.3" cy="636.4" rx="9.2" ry="9.2"/><ellipse cx="1629.1" cy="635.5" rx="9.2" ry="9.2"/><ellipse cx="1632.0" cy="634.5" rx="9.2" ry="9.2"/><ellipse cx="1634.8" cy="633.6" rx="9.2" ry="9.2"/><ellipse cx="1637.7" cy="632.7" rx="9.2" ry="9.2"/><ellipse cx="1640.5" cy="631.8" rx="9.2" ry="9.2"/><ellipse cx="1643.4" cy="630.8" rx="9.2" ry="9.2"/><ellipse cx="1646.2" cy="629.9" rx="9.2" ry="9.2"/><ellipse cx="1649.1" cy="628.9" rx="9.2" ry="9.2"/><ellipse cx="1651.9" cy="627.9" rx="9.2" ry="9.2"/><ellipse cx="1654.8" cy="627.0" rx="9.2" ry="9.2"/><ellipse cx="1657.6" cy="626.0" rx="9.2" ry="9.2"/><ellipse cx="1660.4" cy="625.0" rx="9.2" ry="9.2"/><ellipse cx="1663.3" cy="624.1" rx="9.2" ry="9.2"/><ellipse cx="1666.1" cy="623.1" rx="9.2" ry="9.2"/><ellipse cx="1668.9" cy="622.1" rx="9.2" ry="9.2"/><ellipse cx="1671.8" cy="621.1" rx="9.2" ry="9.2"/><ellipse cx="1674.6" cy="620.1" rx="9.2" ry="9.2"/><ellipse cx="1677.4" cy="619.1" rx="9.2" ry="9.2"/><ellipse cx="1680.3" cy="618.2" rx="9.2" ry="9.2"/><ellipse cx="1683.1" cy="617.2" rx="9.2" ry="9.2"/><ellipse cx="1685.9" cy="616.2" rx="9.2" ry="9.2"/><ellipse cx="1688.8" cy="615.2" rx="9.2" ry="9.2"/><ellipse cx="1691.6" cy="614.2" rx="9.2" ry="9.2"/><ellipse cx="1694.4" cy="613.2" rx="9.2" ry="9.2"/><ellipse cx="1697.3" cy="612.2" rx="9.2" ry="9.2"/><ellipse cx="1700.1" cy="611.2" rx="9.2" ry="9.2"/><ellipse cx="1702.9" cy="610.2" rx="9.2" ry="9.2"/><ellipse cx="1705.8" cy="609.2" rx="9.2" ry="9.2"/><ellipse cx="1708.6" cy="608.3" rx="9.2" ry="9.2"/><ellipse cx="1711.4" cy="607.3" rx="9.2" ry="9.2"/><ellipse cx="1714.3" cy="606.3" rx="9.2" ry="9.2"/><ellipse cx="1717.1" cy="605.3" rx="9.2" ry="9.2"/><ellipse cx="1571.0" cy="652.0" rx="10.2" ry="5.1"/><ellipse cx="1599.0" cy="643.8" rx="10.2" ry="5.1"/><ellipse cx="1630.0" cy="634.2" rx="10.2" ry="5.1"/><ellipse cx="1660.0" cy="624.2" rx="10.2" ry="5.1"/><ellipse cx="1703.0" cy="609.2" rx="10.2" ry="5.1"/><ellipse cx="1704.5" cy="744.5" rx="11.9" ry="6.0"/><ellipse cx="1668.0" cy="746.0" rx="5.1" ry="5.1"/><ellipse cx="1671.0" cy="746.0" rx="5.1" ry="5.1"/><ellipse cx="1674.0" cy="746.0" rx="5.1" ry="5.1"/><ellipse cx="1677.0" cy="746.0" rx="5.1" ry="5.1"/><ellipse cx="1680.0" cy="746.0" rx="5.1" ry="5.1"/><ellipse cx="1683.0" cy="746.0" rx="5.1" ry="5.1"/><ellipse cx="1686.0" cy="746.0" rx="5.1" ry="5.1"/><ellipse cx="1689.0" cy="746.0" rx="5.1" ry="5.1"/><ellipse cx="1692.0" cy="746.0" rx="5.1" ry="5.1"/><ellipse cx="1695.0" cy="746.0" rx="5.1" ry="5.1"/><ellipse cx="1698.0" cy="746.0" rx="5.1" ry="5.1"/></g>
<g filter="url(#fb2)"><ellipse cx="1367.1" cy="88.0" rx="4.5" ry="3.2" fill="#00f4e0"/><ellipse cx="1352.9" cy="119.7" rx="4.3" ry="3.0" fill="#00f4e1"/><ellipse cx="1338.8" cy="151.4" rx="4.0" ry="2.9" fill="#00f4e2"/><ellipse cx="1324.7" cy="183.1" rx="3.7" ry="2.7" fill="#00f4e4"/><ellipse cx="1310.6" cy="214.8" rx="3.4" ry="2.5" fill="#00f4e5"/><ellipse cx="1296.5" cy="246.5" rx="3.1" ry="2.2" fill="#00f4e6"/><ellipse cx="1282.3" cy="278.2" rx="1.9" ry="1.4" fill="#00f4e9"/><ellipse cx="1413.7" cy="90.0" rx="6.0" ry="3.7" fill="#00f3d3"/><ellipse cx="1408.1" cy="101.0" rx="5.0" ry="3.1" fill="#00f4db"/><ellipse cx="1398.9" cy="119.0" rx="5.8" ry="3.6" fill="#00f3d4"/><ellipse cx="1393.2" cy="130.0" rx="4.8" ry="3.0" fill="#00f4dc"/><ellipse cx="1384.0" cy="148.0" rx="5.6" ry="3.5" fill="#00f3d6"/><ellipse cx="1378.4" cy="159.0" rx="4.6" ry="2.8" fill="#00f4de"/><ellipse cx="1369.2" cy="177.0" rx="5.4" ry="3.4" fill="#00f3d7"/><ellipse cx="1363.5" cy="188.0" rx="4.4" ry="2.7" fill="#00f4df"/><ellipse cx="1354.3" cy="206.0" rx="5.3" ry="3.2" fill="#00f4d9"/><ellipse cx="1348.7" cy="217.0" rx="4.1" ry="2.5" fill="#00f4e0"/><ellipse cx="1339.5" cy="235.0" rx="5.0" ry="3.1" fill="#00f4da"/><ellipse cx="1333.8" cy="246.0" rx="3.8" ry="2.4" fill="#00f4e2"/><ellipse cx="1324.6" cy="264.0" rx="4.7" ry="2.9" fill="#00f4dd"/><ellipse cx="1319.0" cy="275.0" rx="3.4" ry="2.1" fill="#00f4e4"/><ellipse cx="1309.8" cy="293.0" rx="4.2" ry="2.6" fill="#00f4e0"/><ellipse cx="1304.2" cy="304.0" rx="2.5" ry="1.5" fill="#00f4e7"/><ellipse cx="1294.9" cy="322.0" rx="3.5" ry="2.2" fill="#00f4e3"/><ellipse cx="1280.1" cy="351.0" rx="2.7" ry="1.6" fill="#00f4e7"/><ellipse cx="1469.2" cy="98.0" rx="7.5" ry="4.4" fill="#00f2b8"/><ellipse cx="1463.1" cy="108.5" rx="7.5" ry="4.4" fill="#00f2b8"/><ellipse cx="1454.6" cy="123.0" rx="7.4" ry="4.3" fill="#00f2bb"/><ellipse cx="1448.5" cy="133.5" rx="7.4" ry="4.3" fill="#00f2bb"/><ellipse cx="1440.1" cy="148.0" rx="7.2" ry="4.2" fill="#00f2be"/><ellipse cx="1434.0" cy="158.5" rx="7.2" ry="4.2" fill="#00f2be"/><ellipse cx="1425.5" cy="173.0" rx="7.1" ry="4.1" fill="#00f3c1"/><ellipse cx="1419.4" cy="183.5" rx="7.1" ry="4.1" fill="#00f3c1"/><ellipse cx="1410.9" cy="198.0" rx="6.9" ry="4.0" fill="#00f3c3"/><ellipse cx="1404.8" cy="208.5" rx="6.9" ry="4.0" fill="#00f3c3"/><ellipse cx="1396.4" cy="223.0" rx="6.7" ry="3.9" fill="#00f3c6"/><ellipse cx="1390.3" cy="233.5" rx="6.7" ry="3.9" fill="#00f3c6"/><ellipse cx="1381.8" cy="248.0" rx="6.5" ry="3.8" fill="#00f3c9"/><ellipse cx="1375.7" cy="258.5" rx="6.5" ry="3.8" fill="#00f3c9"/><ellipse cx="1367.3" cy="273.0" rx="6.3" ry="3.6" fill="#00f3cc"/><ellipse cx="1361.1" cy="283.5" rx="6.3" ry="3.6" fill="#00f3cc"/><ellipse cx="1352.7" cy="298.0" rx="6.0" ry="3.5" fill="#00f3cf"/><ellipse cx="1346.6" cy="308.5" rx="6.0" ry="3.5" fill="#00f3cf"/><ellipse cx="1338.1" cy="323.0" rx="5.7" ry="3.3" fill="#00f3d3"/><ellipse cx="1332.0" cy="333.5" rx="5.7" ry="3.3" fill="#00f3d3"/><ellipse cx="1323.5" cy="348.0" rx="5.3" ry="3.1" fill="#00f3d6"/><ellipse cx="1317.4" cy="358.5" rx="5.3" ry="3.1" fill="#00f3d6"/><ellipse cx="1308.9" cy="373.0" rx="4.9" ry="2.9" fill="#00f4da"/><ellipse cx="1302.8" cy="383.5" rx="4.9" ry="2.9" fill="#00f4da"/><ellipse cx="1294.3" cy="398.0" rx="4.5" ry="2.6" fill="#00f4dd"/><ellipse cx="1288.2" cy="408.5" rx="4.5" ry="2.6" fill="#00f4dd"/><ellipse cx="1279.7" cy="423.0" rx="4.0" ry="2.3" fill="#00f4e0"/><ellipse cx="1273.5" cy="433.5" rx="4.0" ry="2.3" fill="#00f4e0"/><ellipse cx="1264.9" cy="448.0" rx="3.3" ry="1.9" fill="#00f4e4"/><ellipse cx="1258.7" cy="458.5" rx="3.3" ry="1.9" fill="#00f4e4"/><ellipse cx="1250.2" cy="473.0" rx="2.4" ry="1.4" fill="#00f4e7"/><ellipse cx="1244.0" cy="483.5" rx="2.4" ry="1.4" fill="#00f4e7"/><ellipse cx="1562.5" cy="92.4" rx="9.8" ry="4.6" fill="#00f19f"/><ellipse cx="1553.8" cy="104.6" rx="10.0" ry="4.7" fill="#00f19e"/><ellipse cx="1547.1" cy="113.9" rx="9.7" ry="4.6" fill="#00f1a1"/><ellipse cx="1538.3" cy="126.1" rx="9.9" ry="4.7" fill="#00f19e"/><ellipse cx="1531.6" cy="135.4" rx="9.6" ry="4.5" fill="#00f1a2"/><ellipse cx="1522.9" cy="147.6" rx="9.9" ry="4.7" fill="#00f19e"/><ellipse cx="1516.2" cy="156.9" rx="9.6" ry="4.5" fill="#00f1a4"/><ellipse cx="1507.4" cy="169.1" rx="9.8" ry="4.6" fill="#00f19e"/><ellipse cx="1500.7" cy="178.4" rx="9.5" ry="4.5" fill="#00f1a6"/><ellipse cx="1492.0" cy="190.6" rx="9.7" ry="4.6" fill="#00f1a0"/><ellipse cx="1485.3" cy="199.9" rx="9.4" ry="4.4" fill="#00f2a7"/><ellipse cx="1476.5" cy="212.1" rx="9.7" ry="4.6" fill="#00f1a2"/><ellipse cx="1469.8" cy="221.4" rx="9.3" ry="4.4" fill="#00f2aa"/><ellipse cx="1461.1" cy="233.6" rx="9.6" ry="4.5" fill="#00f1a4"/><ellipse cx="1454.4" cy="242.9" rx="9.2" ry="4.3" fill="#00f2ac"/><ellipse cx="1445.6" cy="255.1" rx="9.5" ry="4.5" fill="#00f2a6"/><ellipse cx="1438.9" cy="264.4" rx="9.1" ry="4.3" fill="#00f2ae"/><ellipse cx="1430.2" cy="276.6" rx="9.3" ry="4.4" fill="#00f2a9"/><ellipse cx="1423.5" cy="285.9" rx="9.0" ry="4.2" fill="#00f2b0"/><ellipse cx="1414.7" cy="298.1" rx="9.2" ry="4.3" fill="#00f2ab"/><ellipse cx="1408.0" cy="307.4" rx="8.8" ry="4.2" fill="#00f2b3"/><ellipse cx="1399.2" cy="319.6" rx="9.1" ry="4.3" fill="#00f2ad"/><ellipse cx="1392.6" cy="328.9" rx="8.7" ry="4.1" fill="#00f2b5"/><ellipse cx="1383.8" cy="341.1" rx="9.0" ry="4.2" fill="#00f2b0"/><ellipse cx="1377.1" cy="350.4" rx="8.6" ry="4.0" fill="#00f2b7"/><ellipse cx="1368.3" cy="362.6" rx="8.9" ry="4.2" fill="#00f2b2"/><ellipse cx="1361.6" cy="371.9" rx="8.4" ry="4.0" fill="#00f2ba"/><ellipse cx="1352.8" cy="384.1" rx="8.7" ry="4.1" fill="#00f2b5"/><ellipse cx="1346.1" cy="393.4" rx="8.3" ry="3.9" fill="#00f2bc"/><ellipse cx="1337.3" cy="405.6" rx="8.6" ry="4.0" fill="#00f2b7"/><ellipse cx="1330.6" cy="414.9" rx="8.0" ry="3.8" fill="#00f3c0"/><ellipse cx="1321.8" cy="427.1" rx="8.3" ry="3.9" fill="#00f2bc"/><ellipse cx="1315.1" cy="436.4" rx="7.6" ry="3.6" fill="#00f3c6"/><ellipse cx="1306.3" cy="448.6" rx="7.9" ry="3.7" fill="#00f3c1"/><ellipse cx="1299.6" cy="457.9" rx="7.2" ry="3.4" fill="#00f3cb"/><ellipse cx="1290.8" cy="470.1" rx="7.5" ry="3.5" fill="#00f3c7"/><ellipse cx="1284.1" cy="479.4" rx="6.6" ry="3.1" fill="#00f3d0"/><ellipse cx="1275.2" cy="491.6" rx="7.0" ry="3.3" fill="#00f3cc"/><ellipse cx="1268.5" cy="500.9" rx="6.1" ry="2.9" fill="#00f3d6"/><ellipse cx="1259.7" cy="513.1" rx="6.5" ry="3.1" fill="#00f3d2"/><ellipse cx="1253.0" cy="522.4" rx="5.3" ry="2.5" fill="#00f4db"/><ellipse cx="1244.2" cy="534.6" rx="5.8" ry="2.8" fill="#00f3d7"/><ellipse cx="1237.4" cy="543.9" rx="4.4" ry="2.1" fill="#00f4e0"/><ellipse cx="1363.4" cy="465.6" rx="0.8" ry="0.8" fill="#00f4e9"/><ellipse cx="1366.1" cy="462.7" rx="0.9" ry="0.9" fill="#00f4e9"/><ellipse cx="1368.7" cy="459.7" rx="0.9" ry="0.9" fill="#00f4e9"/><ellipse cx="1371.4" cy="456.7" rx="0.9" ry="0.9" fill="#00f4e9"/><ellipse cx="1374.0" cy="453.7" rx="1.0" ry="1.0" fill="#00f4e8"/><ellipse cx="1376.7" cy="450.7" rx="1.0" ry="1.0" fill="#00f4e8"/><ellipse cx="1379.3" cy="447.7" rx="1.0" ry="1.0" fill="#00f4e8"/><ellipse cx="1382.0" cy="444.7" rx="1.0" ry="1.0" fill="#00f4e8"/><ellipse cx="1384.7" cy="441.7" rx="1.1" ry="1.1" fill="#00f4e8"/><ellipse cx="1387.3" cy="438.8" rx="1.1" ry="1.1" fill="#00f4e8"/><ellipse cx="1390.0" cy="435.8" rx="1.1" ry="1.1" fill="#00f4e8"/><ellipse cx="1392.6" cy="432.8" rx="1.2" ry="1.2" fill="#00f4e8"/><ellipse cx="1395.3" cy="429.8" rx="1.2" ry="1.2" fill="#00f4e7"/><ellipse cx="1397.9" cy="426.8" rx="1.2" ry="1.2" fill="#00f4e7"/><ellipse cx="1400.6" cy="423.8" rx="1.2" ry="1.2" fill="#00f4e7"/><ellipse cx="1403.3" cy="420.8" rx="1.2" ry="1.2" fill="#00f4e7"/><ellipse cx="1405.9" cy="417.8" rx="1.3" ry="1.3" fill="#00f4e7"/><ellipse cx="1408.6" cy="414.8" rx="1.3" ry="1.3" fill="#00f4e7"/><ellipse cx="1411.2" cy="411.8" rx="1.3" ry="1.3" fill="#00f4e7"/><ellipse cx="1413.9" cy="408.8" rx="1.3" ry="1.3" fill="#00f4e6"/><ellipse cx="1416.5" cy="405.8" rx="1.4" ry="1.4" fill="#00f4e6"/><ellipse cx="1419.2" cy="402.8" rx="1.4" ry="1.4" fill="#00f4e6"/><ellipse cx="1421.8" cy="399.8" rx="1.4" ry="1.4" fill="#00f4e6"/><ellipse cx="1424.5" cy="396.8" rx="1.4" ry="1.4" fill="#00f4e6"/><ellipse cx="1427.1" cy="393.9" rx="1.4" ry="1.4" fill="#00f4e6"/><ellipse cx="1429.8" cy="390.9" rx="1.5" ry="1.5" fill="#00f4e6"/><ellipse cx="1432.4" cy="387.9" rx="1.5" ry="1.5" fill="#00f4e5"/><ellipse cx="1435.1" cy="384.9" rx="1.5" ry="1.5" fill="#00f4e5"/><ellipse cx="1437.7" cy="381.8" rx="1.5" ry="1.5" fill="#00f4e5"/><ellipse cx="1440.3" cy="378.8" rx="1.5" ry="1.5" fill="#00f4e5"/><ellipse cx="1443.0" cy="375.8" rx="1.5" ry="1.5" fill="#00f4e5"/><ellipse cx="1445.6" cy="372.8" rx="1.6" ry="1.6" fill="#00f4e5"/><ellipse cx="1448.2" cy="369.8" rx="1.6" ry="1.6" fill="#00f4e5"/><ellipse cx="1450.9" cy="366.8" rx="1.6" ry="1.6" fill="#00f4e4"/><ellipse cx="1453.5" cy="363.8" rx="1.6" ry="1.6" fill="#00f4e4"/><ellipse cx="1456.1" cy="360.8" rx="1.6" ry="1.6" fill="#00f4e4"/><ellipse cx="1458.7" cy="357.7" rx="1.7" ry="1.7" fill="#00f4e4"/><ellipse cx="1461.3" cy="354.7" rx="1.7" ry="1.7" fill="#00f4e4"/><ellipse cx="1463.9" cy="351.6" rx="1.7" ry="1.7" fill="#00f4e4"/><ellipse cx="1466.5" cy="348.6" rx="1.7" ry="1.7" fill="#00f4e4"/><ellipse cx="1469.0" cy="345.4" rx="1.7" ry="1.7" fill="#00f4e4"/><ellipse cx="1471.5" cy="342.3" rx="1.7" ry="1.7" fill="#00f4e3"/><ellipse cx="1474.0" cy="339.2" rx="1.7" ry="1.7" fill="#00f4e3"/><ellipse cx="1476.5" cy="336.1" rx="1.8" ry="1.8" fill="#00f4e3"/><ellipse cx="1479.1" cy="333.0" rx="1.8" ry="1.8" fill="#00f4e3"/><ellipse cx="1481.6" cy="329.9" rx="1.8" ry="1.8" fill="#00f4e3"/><ellipse cx="1484.2" cy="326.9" rx="1.8" ry="1.8" fill="#00f4e3"/><ellipse cx="1486.7" cy="323.8" rx="1.8" ry="1.8" fill="#00f4e3"/><ellipse cx="1489.3" cy="320.7" rx="1.8" ry="1.8" fill="#00f4e2"/><ellipse cx="1491.9" cy="317.7" rx="1.9" ry="1.9" fill="#00f4e2"/><ellipse cx="1494.5" cy="314.6" rx="1.9" ry="1.9" fill="#00f4e2"/><ellipse cx="1497.1" cy="311.6" rx="1.9" ry="1.9" fill="#00f4e2"/><ellipse cx="1499.6" cy="308.5" rx="1.9" ry="1.9" fill="#00f4e2"/><ellipse cx="1502.2" cy="305.5" rx="1.9" ry="1.9" fill="#00f4e2"/><ellipse cx="1504.8" cy="302.4" rx="1.9" ry="1.9" fill="#00f4e2"/><ellipse cx="1507.4" cy="299.4" rx="1.9" ry="1.9" fill="#00f4e1"/><ellipse cx="1510.0" cy="296.3" rx="1.9" ry="1.9" fill="#00f4e1"/><ellipse cx="1512.6" cy="293.3" rx="2.0" ry="2.0" fill="#00f4e1"/><ellipse cx="1515.2" cy="290.2" rx="2.0" ry="2.0" fill="#00f4e1"/><ellipse cx="1517.8" cy="287.2" rx="2.0" ry="2.0" fill="#00f4e1"/><ellipse cx="1520.4" cy="284.1" rx="2.0" ry="2.0" fill="#00f4e1"/><ellipse cx="1523.0" cy="281.1" rx="2.0" ry="2.0" fill="#00f4e1"/><ellipse cx="1525.6" cy="278.1" rx="2.0" ry="2.0" fill="#00f4e1"/><ellipse cx="1528.2" cy="275.0" rx="2.0" ry="2.0" fill="#00f4e1"/><ellipse cx="1530.8" cy="272.0" rx="2.0" ry="2.0" fill="#00f4e1"/><ellipse cx="1533.3" cy="268.9" rx="2.0" ry="2.0" fill="#00f4e1"/><ellipse cx="1535.9" cy="265.9" rx="2.0" ry="2.0" fill="#00f4e0"/><ellipse cx="1538.5" cy="262.8" rx="2.0" ry="2.0" fill="#00f4e0"/><ellipse cx="1541.1" cy="259.8" rx="2.0" ry="2.0" fill="#00f4e0"/><ellipse cx="1543.7" cy="256.7" rx="2.0" ry="2.0" fill="#00f4e0"/><ellipse cx="1546.3" cy="253.7" rx="2.1" ry="2.1" fill="#00f4e0"/><ellipse cx="1548.9" cy="250.6" rx="2.1" ry="2.1" fill="#00f4e0"/><ellipse cx="1551.5" cy="247.6" rx="2.1" ry="2.1" fill="#00f4e0"/><ellipse cx="1554.1" cy="244.6" rx="2.1" ry="2.1" fill="#00f4e0"/><ellipse cx="1556.7" cy="241.5" rx="2.1" ry="2.1" fill="#00f4e0"/><ellipse cx="1559.3" cy="238.5" rx="2.1" ry="2.1" fill="#00f4e0"/><ellipse cx="1561.9" cy="235.4" rx="2.1" ry="2.1" fill="#00f4e0"/><ellipse cx="1564.5" cy="232.4" rx="2.1" ry="2.1" fill="#00f4df"/><ellipse cx="1567.1" cy="229.3" rx="2.1" ry="2.1" fill="#00f4df"/><ellipse cx="1569.7" cy="226.3" rx="2.1" ry="2.1" fill="#00f4df"/><ellipse cx="1572.3" cy="223.2" rx="2.1" ry="2.1" fill="#00f4df"/><ellipse cx="1574.9" cy="220.2" rx="2.1" ry="2.1" fill="#00f4df"/><ellipse cx="1577.4" cy="217.2" rx="2.1" ry="2.1" fill="#00f4df"/><ellipse cx="1580.0" cy="214.1" rx="2.2" ry="2.2" fill="#00f4df"/><ellipse cx="1582.6" cy="211.1" rx="2.2" ry="2.2" fill="#00f4df"/><ellipse cx="1585.2" cy="208.0" rx="2.2" ry="2.2" fill="#00f4df"/><ellipse cx="1587.8" cy="205.0" rx="2.2" ry="2.2" fill="#00f4df"/><ellipse cx="1590.4" cy="201.9" rx="2.2" ry="2.2" fill="#00f4df"/><ellipse cx="1593.0" cy="198.9" rx="2.2" ry="2.2" fill="#00f4de"/><ellipse cx="1595.6" cy="195.9" rx="2.2" ry="2.2" fill="#00f4de"/><ellipse cx="1598.2" cy="192.8" rx="2.2" ry="2.2" fill="#00f4de"/><ellipse cx="1600.8" cy="189.8" rx="2.2" ry="2.2" fill="#00f4de"/><ellipse cx="1603.4" cy="186.7" rx="2.2" ry="2.2" fill="#00f4de"/><ellipse cx="1606.0" cy="183.7" rx="2.2" ry="2.2" fill="#00f4de"/><ellipse cx="1608.6" cy="180.6" rx="2.2" ry="2.2" fill="#00f4de"/><ellipse cx="1611.2" cy="177.6" rx="2.2" ry="2.2" fill="#00f4de"/><ellipse cx="1613.8" cy="174.5" rx="2.2" ry="2.2" fill="#00f4de"/><ellipse cx="1616.4" cy="171.5" rx="2.3" ry="2.3" fill="#00f4de"/><ellipse cx="1619.0" cy="168.5" rx="2.3" ry="2.3" fill="#00f4de"/><ellipse cx="1621.6" cy="165.4" rx="2.3" ry="2.3" fill="#00f4dd"/><ellipse cx="1624.2" cy="162.4" rx="2.3" ry="2.3" fill="#00f4dd"/><ellipse cx="1626.8" cy="159.3" rx="2.3" ry="2.3" fill="#00f4dd"/><ellipse cx="1629.4" cy="156.3" rx="2.3" ry="2.3" fill="#00f4dd"/><ellipse cx="1631.9" cy="153.2" rx="2.3" ry="2.3" fill="#00f4dd"/><ellipse cx="1634.5" cy="150.2" rx="2.3" ry="2.3" fill="#00f4dd"/><ellipse cx="1637.1" cy="147.1" rx="2.3" ry="2.3" fill="#00f4dd"/><ellipse cx="1639.7" cy="144.1" rx="2.3" ry="2.3" fill="#00f4dd"/><ellipse cx="1642.3" cy="141.1" rx="2.3" ry="2.3" fill="#00f4dd"/><ellipse cx="1644.9" cy="138.0" rx="2.3" ry="2.3" fill="#00f4dd"/><ellipse cx="1647.5" cy="135.0" rx="2.3" ry="2.3" fill="#00f4dd"/><ellipse cx="1650.1" cy="131.9" rx="2.3" ry="2.3" fill="#00f4dc"/><ellipse cx="1652.7" cy="128.9" rx="2.3" ry="2.3" fill="#00f4dc"/><ellipse cx="1655.3" cy="125.8" rx="2.4" ry="2.4" fill="#00f4dc"/><ellipse cx="1657.9" cy="122.8" rx="2.4" ry="2.4" fill="#00f4dc"/><ellipse cx="1660.5" cy="119.8" rx="2.4" ry="2.4" fill="#00f4dc"/><ellipse cx="1663.1" cy="116.7" rx="2.4" ry="2.4" fill="#00f4dc"/><ellipse cx="1665.7" cy="113.7" rx="2.4" ry="2.4" fill="#00f4dc"/><ellipse cx="1668.3" cy="110.6" rx="2.4" ry="2.4" fill="#00f4dc"/><ellipse cx="1670.9" cy="107.6" rx="2.4" ry="2.4" fill="#00f4dc"/><ellipse cx="1673.5" cy="104.5" rx="2.4" ry="2.4" fill="#00f4dc"/><ellipse cx="1676.1" cy="101.5" rx="2.4" ry="2.4" fill="#00f4dc"/><ellipse cx="1678.7" cy="98.4" rx="2.4" ry="2.4" fill="#00f4dc"/><ellipse cx="1681.3" cy="95.4" rx="2.4" ry="2.4" fill="#00f4db"/><ellipse cx="1683.8" cy="92.4" rx="2.4" ry="2.4" fill="#00f4db"/><ellipse cx="1682.9" cy="93.5" rx="18.5" ry="6.2" fill="#00f19e"/><ellipse cx="1668.2" cy="110.7" rx="18.4" ry="6.2" fill="#00f19e"/><ellipse cx="1653.5" cy="127.9" rx="18.3" ry="6.2" fill="#00f19e"/><ellipse cx="1638.9" cy="145.1" rx="18.2" ry="6.1" fill="#00f19e"/><ellipse cx="1624.2" cy="162.3" rx="18.1" ry="6.1" fill="#00f19e"/><ellipse cx="1609.6" cy="179.5" rx="18.0" ry="6.1" fill="#00f19e"/><ellipse cx="1594.9" cy="196.7" rx="17.9" ry="6.0" fill="#00f19e"/><ellipse cx="1580.2" cy="213.9" rx="17.7" ry="6.0" fill="#00f19e"/><ellipse cx="1565.6" cy="231.1" rx="17.6" ry="5.9" fill="#00f19e"/><ellipse cx="1550.9" cy="248.3" rx="17.4" ry="5.9" fill="#00f19e"/><ellipse cx="1536.3" cy="265.5" rx="17.2" ry="5.8" fill="#00f19e"/><ellipse cx="1521.6" cy="282.7" rx="17.1" ry="5.7" fill="#00f19e"/><ellipse cx="1507.0" cy="299.9" rx="16.9" ry="5.7" fill="#00f19e"/><ellipse cx="1492.4" cy="317.1" rx="16.7" ry="5.6" fill="#00f19e"/><ellipse cx="1478.0" cy="334.3" rx="16.5" ry="5.5" fill="#00f19e"/><ellipse cx="1464.0" cy="351.5" rx="16.3" ry="5.5" fill="#00f19e"/><ellipse cx="1449.2" cy="368.7" rx="16.0" ry="5.4" fill="#00f19e"/><ellipse cx="1434.1" cy="385.9" rx="15.7" ry="5.3" fill="#00f19e"/><ellipse cx="1418.9" cy="403.1" rx="15.3" ry="5.2" fill="#00f19f"/><ellipse cx="1403.7" cy="420.3" rx="15.0" ry="5.0" fill="#00f1a4"/><ellipse cx="1388.4" cy="437.5" rx="14.6" ry="4.9" fill="#00f2aa"/><ellipse cx="1373.1" cy="454.7" rx="14.2" ry="4.8" fill="#00f2af"/><ellipse cx="1357.8" cy="471.9" rx="13.8" ry="4.6" fill="#00f2b4"/><ellipse cx="1342.5" cy="489.1" rx="13.2" ry="4.4" fill="#00f2ba"/><ellipse cx="1327.1" cy="506.3" rx="12.5" ry="4.2" fill="#00f3c1"/><ellipse cx="1311.7" cy="523.5" rx="11.8" ry="4.0" fill="#00f3c7"/><ellipse cx="1296.3" cy="540.7" rx="10.9" ry="3.7" fill="#00f3ce"/><ellipse cx="1280.8" cy="557.9" rx="9.8" ry="3.3" fill="#00f3d4"/><ellipse cx="1265.1" cy="575.1" rx="8.4" ry="2.8" fill="#00f4db"/><ellipse cx="1248.1" cy="592.3" rx="6.6" ry="2.2" fill="#00f4e2"/><ellipse cx="1280.3" cy="612.3" rx="0.9" ry="0.9" fill="#00f4e9"/><ellipse cx="1283.6" cy="610.0" rx="1.1" ry="1.1" fill="#00f4e8"/><ellipse cx="1286.9" cy="607.8" rx="1.2" ry="1.2" fill="#00f4e7"/><ellipse cx="1290.2" cy="605.6" rx="1.3" ry="1.3" fill="#00f4e7"/><ellipse cx="1293.6" cy="603.4" rx="1.4" ry="1.4" fill="#00f4e6"/><ellipse cx="1296.9" cy="601.2" rx="1.5" ry="1.5" fill="#00f4e5"/><ellipse cx="1300.3" cy="599.0" rx="1.6" ry="1.6" fill="#00f4e5"/><ellipse cx="1303.6" cy="596.8" rx="1.6" ry="1.6" fill="#00f4e4"/><ellipse cx="1306.9" cy="594.6" rx="1.7" ry="1.7" fill="#00f4e4"/><ellipse cx="1310.3" cy="592.4" rx="1.8" ry="1.8" fill="#00f4e3"/><ellipse cx="1313.6" cy="590.2" rx="1.8" ry="1.8" fill="#00f4e2"/><ellipse cx="1317.0" cy="588.0" rx="1.9" ry="1.9" fill="#00f4e2"/><ellipse cx="1320.3" cy="585.8" rx="2.0" ry="2.0" fill="#00f4e1"/><ellipse cx="1323.6" cy="583.6" rx="2.0" ry="2.0" fill="#00f4e0"/><ellipse cx="1326.9" cy="581.3" rx="2.1" ry="2.1" fill="#00f4e0"/><ellipse cx="1330.3" cy="579.1" rx="2.1" ry="2.1" fill="#00f4df"/><ellipse cx="1333.6" cy="576.9" rx="2.2" ry="2.2" fill="#00f4de"/><ellipse cx="1336.9" cy="574.6" rx="2.2" ry="2.2" fill="#00f4de"/><ellipse cx="1340.2" cy="572.4" rx="2.3" ry="2.3" fill="#00f4dd"/><ellipse cx="1343.5" cy="570.1" rx="2.3" ry="2.3" fill="#00f4dd"/><ellipse cx="1346.8" cy="567.8" rx="2.4" ry="2.4" fill="#00f4dc"/><ellipse cx="1350.0" cy="565.5" rx="2.4" ry="2.4" fill="#00f4db"/><ellipse cx="1353.3" cy="563.2" rx="2.4" ry="2.4" fill="#00f4db"/><ellipse cx="1356.6" cy="560.9" rx="2.4" ry="2.4" fill="#00f4db"/><ellipse cx="1359.8" cy="558.6" rx="2.4" ry="2.4" fill="#00f4db"/><ellipse cx="1363.1" cy="556.2" rx="2.4" ry="2.4" fill="#00f4db"/><ellipse cx="1366.3" cy="553.8" rx="2.4" ry="2.4" fill="#00f4db"/><ellipse cx="1369.5" cy="551.5" rx="2.4" ry="2.4" fill="#00f4db"/><ellipse cx="1372.7" cy="549.1" rx="2.4" ry="2.4" fill="#00f4db"/><ellipse cx="1375.9" cy="546.7" rx="2.4" ry="2.4" fill="#00f4db"/><ellipse cx="1379.1" cy="544.3" rx="2.4" ry="2.4" fill="#00f4db"/><ellipse cx="1382.3" cy="541.8" rx="2.4" ry="2.4" fill="#00f4db"/><ellipse cx="1385.4" cy="539.4" rx="2.4" ry="2.4" fill="#00f4db"/><ellipse cx="1388.6" cy="536.9" rx="2.4" ry="2.4" fill="#00f4db"/><ellipse cx="1391.7" cy="534.5" rx="2.4" ry="2.4" fill="#00f4db"/><ellipse cx="1394.9" cy="532.0" rx="2.4" ry="2.4" fill="#00f4db"/><ellipse cx="1398.0" cy="529.5" rx="2.4" ry="2.4" fill="#00f4db"/><ellipse cx="1401.1" cy="527.0" rx="2.4" ry="2.4" fill="#00f4db"/><ellipse cx="1404.2" cy="524.4" rx="2.4" ry="2.4" fill="#00f4db"/><ellipse cx="1407.3" cy="521.9" rx="2.4" ry="2.4" fill="#00f4db"/><ellipse cx="1410.4" cy="519.3" rx="2.4" ry="2.4" fill="#00f4db"/><ellipse cx="1413.4" cy="516.8" rx="2.4" ry="2.4" fill="#00f4db"/><ellipse cx="1416.5" cy="514.2" rx="2.4" ry="2.4" fill="#00f4db"/><ellipse cx="1419.6" cy="511.6" rx="2.4" ry="2.4" fill="#00f4db"/><ellipse cx="1422.6" cy="509.0" rx="2.4" ry="2.4" fill="#00f4db"/><ellipse cx="1425.6" cy="506.4" rx="2.4" ry="2.4" fill="#00f4db"/><ellipse cx="1428.7" cy="503.8" rx="2.4" ry="2.4" fill="#00f4db"/><ellipse cx="1431.7" cy="501.2" rx="2.4" ry="2.4" fill="#00f4db"/><ellipse cx="1434.7" cy="498.5" rx="2.4" ry="2.4" fill="#00f4db"/><ellipse cx="1437.7" cy="495.9" rx="2.4" ry="2.4" fill="#00f4db"/><ellipse cx="1440.7" cy="493.2" rx="2.4" ry="2.4" fill="#00f4db"/><ellipse cx="1443.7" cy="490.6" rx="2.4" ry="2.4" fill="#00f4db"/><ellipse cx="1446.7" cy="487.9" rx="2.4" ry="2.4" fill="#00f4db"/><ellipse cx="1449.7" cy="485.3" rx="2.4" ry="2.4" fill="#00f4db"/><ellipse cx="1452.7" cy="482.6" rx="2.4" ry="2.4" fill="#00f4db"/><ellipse cx="1455.6" cy="479.9" rx="2.4" ry="2.4" fill="#00f4db"/><ellipse cx="1458.6" cy="477.3" rx="2.4" ry="2.4" fill="#00f4db"/><ellipse cx="1461.6" cy="474.6" rx="2.4" ry="2.4" fill="#00f4dc"/><ellipse cx="1464.5" cy="471.9" rx="2.4" ry="2.4" fill="#00f4dc"/><ellipse cx="1467.5" cy="469.2" rx="2.4" ry="2.4" fill="#00f4dc"/><ellipse cx="1470.5" cy="466.5" rx="2.4" ry="2.4" fill="#00f4dc"/><ellipse cx="1473.4" cy="463.8" rx="2.4" ry="2.4" fill="#00f4dc"/><ellipse cx="1476.4" cy="461.1" rx="2.4" ry="2.4" fill="#00f4dc"/><ellipse cx="1479.3" cy="458.4" rx="2.4" ry="2.4" fill="#00f4dc"/><ellipse cx="1482.3" cy="455.7" rx="2.4" ry="2.4" fill="#00f4dc"/><ellipse cx="1485.2" cy="453.0" rx="2.4" ry="2.4" fill="#00f4dc"/><ellipse cx="1488.2" cy="450.3" rx="2.4" ry="2.4" fill="#00f4dc"/><ellipse cx="1491.1" cy="447.6" rx="2.4" ry="2.4" fill="#00f4dc"/><ellipse cx="1494.0" cy="444.9" rx="2.4" ry="2.4" fill="#00f4dc"/><ellipse cx="1497.0" cy="442.2" rx="2.4" ry="2.4" fill="#00f4dc"/><ellipse cx="1499.9" cy="439.5" rx="2.4" ry="2.4" fill="#00f4dc"/><ellipse cx="1502.8" cy="436.7" rx="2.4" ry="2.4" fill="#00f4dc"/><ellipse cx="1505.8" cy="434.0" rx="2.3" ry="2.3" fill="#00f4dc"/><ellipse cx="1508.7" cy="431.3" rx="2.3" ry="2.3" fill="#00f4dc"/><ellipse cx="1511.6" cy="428.6" rx="2.3" ry="2.3" fill="#00f4dd"/><ellipse cx="1514.6" cy="425.8" rx="2.3" ry="2.3" fill="#00f4dd"/><ellipse cx="1517.5" cy="423.1" rx="2.3" ry="2.3" fill="#00f4dd"/><ellipse cx="1520.4" cy="420.4" rx="2.3" ry="2.3" fill="#00f4dd"/><ellipse cx="1523.3" cy="417.6" rx="2.3" ry="2.3" fill="#00f4dd"/><ellipse cx="1526.2" cy="414.9" rx="2.3" ry="2.3" fill="#00f4dd"/><ellipse cx="1529.1" cy="412.1" rx="2.3" ry="2.3" fill="#00f4dd"/><ellipse cx="1532.1" cy="409.4" rx="2.3" ry="2.3" fill="#00f4dd"/><ellipse cx="1535.0" cy="406.7" rx="2.3" ry="2.3" fill="#00f4dd"/><ellipse cx="1537.9" cy="403.9" rx="2.3" ry="2.3" fill="#00f4dd"/><ellipse cx="1540.8" cy="401.2" rx="2.3" ry="2.3" fill="#00f4dd"/><ellipse cx="1543.7" cy="398.4" rx="2.3" ry="2.3" fill="#00f4dd"/><ellipse cx="1546.6" cy="395.7" rx="2.3" ry="2.3" fill="#00f4dd"/><ellipse cx="1549.5" cy="392.9" rx="2.3" ry="2.3" fill="#00f4dd"/><ellipse cx="1552.4" cy="390.2" rx="2.3" ry="2.3" fill="#00f4dd"/><ellipse cx="1555.3" cy="387.4" rx="2.3" ry="2.3" fill="#00f4dd"/><ellipse cx="1558.2" cy="384.7" rx="2.3" ry="2.3" fill="#00f4de"/><ellipse cx="1561.1" cy="381.9" rx="2.3" ry="2.3" fill="#00f4de"/><ellipse cx="1564.0" cy="379.2" rx="2.3" ry="2.3" fill="#00f4de"/><ellipse cx="1566.9" cy="376.4" rx="2.3" ry="2.3" fill="#00f4de"/><ellipse cx="1569.8" cy="373.7" rx="2.2" ry="2.2" fill="#00f4de"/><ellipse cx="1572.7" cy="370.9" rx="2.2" ry="2.2" fill="#00f4de"/><ellipse cx="1575.6" cy="368.2" rx="2.2" ry="2.2" fill="#00f4de"/><ellipse cx="1578.5" cy="365.4" rx="2.2" ry="2.2" fill="#00f4de"/><ellipse cx="1581.4" cy="362.7" rx="2.2" ry="2.2" fill="#00f4de"/><ellipse cx="1584.3" cy="359.9" rx="2.2" ry="2.2" fill="#00f4de"/><ellipse cx="1587.2" cy="357.1" rx="2.2" ry="2.2" fill="#00f4de"/><ellipse cx="1590.1" cy="354.4" rx="2.2" ry="2.2" fill="#00f4de"/><ellipse cx="1593.0" cy="351.6" rx="2.2" ry="2.2" fill="#00f4de"/><ellipse cx="1595.9" cy="348.9" rx="2.2" ry="2.2" fill="#00f4de"/><ellipse cx="1598.8" cy="346.1" rx="2.2" ry="2.2" fill="#00f4de"/><ellipse cx="1601.7" cy="343.4" rx="2.2" ry="2.2" fill="#00f4de"/><ellipse cx="1604.6" cy="340.6" rx="2.2" ry="2.2" fill="#00f4de"/><ellipse cx="1607.5" cy="337.8" rx="2.2" ry="2.2" fill="#00f4de"/><ellipse cx="1610.4" cy="335.1" rx="2.2" ry="2.2" fill="#00f4de"/><ellipse cx="1613.3" cy="332.3" rx="2.2" ry="2.2" fill="#00f4de"/><ellipse cx="1616.2" cy="329.6" rx="2.2" ry="2.2" fill="#00f4de"/><ellipse cx="1619.1" cy="326.8" rx="2.2" ry="2.2" fill="#00f4de"/><ellipse cx="1622.0" cy="324.1" rx="2.2" ry="2.2" fill="#00f4de"/><ellipse cx="1624.9" cy="321.3" rx="2.2" ry="2.2" fill="#00f4de"/><ellipse cx="1627.8" cy="318.6" rx="2.2" ry="2.2" fill="#00f4de"/><ellipse cx="1630.7" cy="315.8" rx="2.2" ry="2.2" fill="#00f4de"/><ellipse cx="1633.6" cy="313.0" rx="2.2" ry="2.2" fill="#00f4de"/><ellipse cx="1636.5" cy="310.3" rx="2.2" ry="2.2" fill="#00f4de"/><ellipse cx="1639.4" cy="307.5" rx="2.2" ry="2.2" fill="#00f4de"/><ellipse cx="1642.2" cy="304.7" rx="2.2" ry="2.2" fill="#00f4de"/><ellipse cx="1645.1" cy="301.9" rx="2.2" ry="2.2" fill="#00f4de"/><ellipse cx="1648.0" cy="299.1" rx="2.2" ry="2.2" fill="#00f4de"/><ellipse cx="1650.8" cy="296.3" rx="2.2" ry="2.2" fill="#00f4de"/><ellipse cx="1653.7" cy="293.5" rx="2.2" ry="2.2" fill="#00f4de"/><ellipse cx="1656.5" cy="290.7" rx="2.2" ry="2.2" fill="#00f4de"/><ellipse cx="1659.3" cy="287.9" rx="2.2" ry="2.2" fill="#00f4de"/><ellipse cx="1662.2" cy="285.0" rx="2.2" ry="2.2" fill="#00f4de"/><ellipse cx="1665.0" cy="282.2" rx="2.2" ry="2.2" fill="#00f4de"/><ellipse cx="1667.8" cy="279.4" rx="2.2" ry="2.2" fill="#00f4de"/><ellipse cx="1670.6" cy="276.5" rx="2.2" ry="2.2" fill="#00f4de"/><ellipse cx="1673.4" cy="273.7" rx="2.2" ry="2.2" fill="#00f4de"/><ellipse cx="1676.2" cy="270.8" rx="2.2" ry="2.2" fill="#00f4de"/><ellipse cx="1679.0" cy="267.9" rx="2.2" ry="2.2" fill="#00f4de"/><ellipse cx="1681.8" cy="265.1" rx="2.2" ry="2.2" fill="#00f4de"/><ellipse cx="1684.6" cy="262.2" rx="2.2" ry="2.2" fill="#00f4de"/><ellipse cx="1687.4" cy="259.3" rx="2.2" ry="2.2" fill="#00f4de"/><ellipse cx="1690.1" cy="256.4" rx="2.2" ry="2.2" fill="#00f4de"/><ellipse cx="1692.9" cy="253.6" rx="2.2" ry="2.2" fill="#00f4de"/><ellipse cx="1695.7" cy="250.7" rx="2.2" ry="2.2" fill="#00f4de"/><ellipse cx="1698.5" cy="247.8" rx="2.2" ry="2.2" fill="#00f4de"/><ellipse cx="1701.3" cy="245.0" rx="2.2" ry="2.2" fill="#00f4de"/><ellipse cx="1704.1" cy="242.1" rx="2.2" ry="2.2" fill="#00f4de"/><ellipse cx="1706.9" cy="239.2" rx="2.2" ry="2.2" fill="#00f4de"/><ellipse cx="1709.7" cy="236.4" rx="2.2" ry="2.2" fill="#00f4de"/><ellipse cx="1712.5" cy="233.5" rx="2.2" ry="2.2" fill="#00f4de"/><ellipse cx="1715.3" cy="230.7" rx="2.2" ry="2.2" fill="#00f4de"/><ellipse cx="1716.0" cy="230.0" rx="18.7" ry="7.5" fill="#00f19e"/><ellipse cx="1702.4" cy="243.8" rx="18.7" ry="7.5" fill="#00f19e"/><ellipse cx="1689.0" cy="257.6" rx="18.6" ry="7.5" fill="#00f19e"/><ellipse cx="1675.6" cy="271.4" rx="18.6" ry="7.4" fill="#00f19e"/><ellipse cx="1662.0" cy="285.2" rx="18.6" ry="7.4" fill="#00f19e"/><ellipse cx="1648.1" cy="299.0" rx="18.6" ry="7.4" fill="#00f19e"/><ellipse cx="1633.8" cy="312.8" rx="18.5" ry="7.4" fill="#00f19e"/><ellipse cx="1619.4" cy="326.6" rx="18.5" ry="7.4" fill="#00f19e"/><ellipse cx="1604.8" cy="340.4" rx="18.3" ry="7.3" fill="#00f19e"/><ellipse cx="1590.3" cy="354.2" rx="18.1" ry="7.2" fill="#00f19e"/><ellipse cx="1575.8" cy="368.0" rx="17.9" ry="7.2" fill="#00f19e"/><ellipse cx="1561.3" cy="381.8" rx="17.7" ry="7.1" fill="#00f19e"/><ellipse cx="1546.7" cy="395.6" rx="17.5" ry="7.0" fill="#00f19e"/><ellipse cx="1532.1" cy="409.4" rx="17.2" ry="6.9" fill="#00f19e"/><ellipse cx="1517.4" cy="423.2" rx="16.8" ry="6.7" fill="#00f19e"/><ellipse cx="1502.6" cy="437.0" rx="16.5" ry="6.6" fill="#00f19e"/><ellipse cx="1487.6" cy="450.8" rx="16.1" ry="6.4" fill="#00f19e"/><ellipse cx="1472.6" cy="464.6" rx="15.6" ry="6.2" fill="#00f19e"/><ellipse cx="1457.3" cy="478.4" rx="15.1" ry="6.0" fill="#00f19e"/><ellipse cx="1441.9" cy="492.2" rx="14.6" ry="5.8" fill="#00f19e"/><ellipse cx="1426.1" cy="506.0" rx="14.2" ry="5.7" fill="#00f19e"/><ellipse cx="1409.8" cy="519.8" rx="13.7" ry="5.5" fill="#00f1a4"/><ellipse cx="1392.8" cy="533.6" rx="13.1" ry="5.2" fill="#00f2ad"/><ellipse cx="1375.0" cy="547.4" rx="12.4" ry="4.9" fill="#00f2b6"/><ellipse cx="1356.1" cy="561.2" rx="11.5" ry="4.6" fill="#00f3c0"/><ellipse cx="1336.3" cy="575.0" rx="10.6" ry="4.2" fill="#00f3c8"/><ellipse cx="1315.7" cy="588.8" rx="9.6" ry="3.8" fill="#00f3d0"/><ellipse cx="1294.8" cy="602.6" rx="8.3" ry="3.3" fill="#00f3d8"/><ellipse cx="1274.1" cy="616.4" rx="6.5" ry="2.6" fill="#00f4e0"/><ellipse cx="1254.2" cy="630.2" rx="3.6" ry="1.5" fill="#00f4e7"/><ellipse cx="1537.2" cy="556.5" rx="1.1" ry="1.1" fill="#00f4e9"/><ellipse cx="1540.9" cy="554.8" rx="1.2" ry="1.2" fill="#00f4e9"/><ellipse cx="1544.5" cy="553.1" rx="1.2" ry="1.2" fill="#00f4e8"/><ellipse cx="1548.1" cy="551.4" rx="1.3" ry="1.3" fill="#00f4e8"/><ellipse cx="1551.7" cy="549.8" rx="1.4" ry="1.4" fill="#00f4e8"/><ellipse cx="1555.4" cy="548.1" rx="1.4" ry="1.4" fill="#00f4e8"/><ellipse cx="1559.0" cy="546.4" rx="1.5" ry="1.5" fill="#00f4e7"/><ellipse cx="1562.6" cy="544.7" rx="1.5" ry="1.5" fill="#00f4e7"/><ellipse cx="1566.2" cy="543.0" rx="1.6" ry="1.6" fill="#00f4e7"/><ellipse cx="1569.8" cy="541.3" rx="1.6" ry="1.6" fill="#00f4e7"/><ellipse cx="1573.5" cy="539.6" rx="1.7" ry="1.7" fill="#00f4e6"/><ellipse cx="1577.1" cy="537.9" rx="1.7" ry="1.7" fill="#00f4e6"/><ellipse cx="1580.7" cy="536.2" rx="1.8" ry="1.8" fill="#00f4e6"/><ellipse cx="1584.3" cy="534.5" rx="1.8" ry="1.8" fill="#00f4e6"/><ellipse cx="1588.0" cy="532.8" rx="1.9" ry="1.9" fill="#00f4e5"/><ellipse cx="1591.6" cy="531.1" rx="1.9" ry="1.9" fill="#00f4e5"/><ellipse cx="1595.2" cy="529.4" rx="1.9" ry="1.9" fill="#00f4e5"/><ellipse cx="1598.8" cy="527.7" rx="2.0" ry="2.0" fill="#00f4e5"/><ellipse cx="1602.5" cy="526.0" rx="2.0" ry="2.0" fill="#00f4e4"/><ellipse cx="1606.1" cy="524.4" rx="2.0" ry="2.0" fill="#00f4e4"/><ellipse cx="1609.7" cy="522.7" rx="2.0" ry="2.0" fill="#00f4e4"/><ellipse cx="1613.3" cy="521.0" rx="2.1" ry="2.1" fill="#00f4e4"/><ellipse cx="1617.0" cy="519.3" rx="2.1" ry="2.1" fill="#00f4e4"/><ellipse cx="1620.6" cy="517.6" rx="2.1" ry="2.1" fill="#00f4e4"/><ellipse cx="1624.2" cy="515.9" rx="2.1" ry="2.1" fill="#00f4e4"/><ellipse cx="1627.8" cy="514.2" rx="2.1" ry="2.1" fill="#00f4e4"/><ellipse cx="1631.5" cy="512.5" rx="2.1" ry="2.1" fill="#00f4e4"/><ellipse cx="1635.1" cy="510.8" rx="2.1" ry="2.1" fill="#00f4e4"/><ellipse cx="1638.7" cy="509.1" rx="2.1" ry="2.1" fill="#00f4e3"/><ellipse cx="1642.3" cy="507.4" rx="2.2" ry="2.2" fill="#00f4e3"/><ellipse cx="1646.0" cy="505.7" rx="2.2" ry="2.2" fill="#00f4e3"/><ellipse cx="1649.6" cy="504.0" rx="2.2" ry="2.2" fill="#00f4e3"/><ellipse cx="1653.2" cy="502.3" rx="2.2" ry="2.2" fill="#00f4e3"/><ellipse cx="1656.8" cy="500.6" rx="2.2" ry="2.2" fill="#00f4e3"/><ellipse cx="1660.4" cy="499.0" rx="2.2" ry="2.2" fill="#00f4e3"/><ellipse cx="1664.1" cy="497.3" rx="2.2" ry="2.2" fill="#00f4e3"/><ellipse cx="1667.7" cy="495.6" rx="2.3" ry="2.3" fill="#00f4e3"/><ellipse cx="1671.3" cy="493.9" rx="2.3" ry="2.3" fill="#00f4e3"/><ellipse cx="1674.9" cy="492.2" rx="2.3" ry="2.3" fill="#00f4e3"/><ellipse cx="1678.6" cy="490.5" rx="2.3" ry="2.3" fill="#00f4e2"/><ellipse cx="1682.2" cy="488.8" rx="2.3" ry="2.3" fill="#00f4e2"/><ellipse cx="1685.8" cy="487.1" rx="2.3" ry="2.3" fill="#00f4e2"/><ellipse cx="1689.4" cy="485.4" rx="2.3" ry="2.3" fill="#00f4e2"/><ellipse cx="1693.1" cy="483.7" rx="2.3" ry="2.3" fill="#00f4e2"/><ellipse cx="1696.7" cy="482.0" rx="2.3" ry="2.3" fill="#00f4e2"/><ellipse cx="1700.3" cy="480.3" rx="2.4" ry="2.4" fill="#00f4e2"/><ellipse cx="1703.9" cy="478.6" rx="2.4" ry="2.4" fill="#00f4e2"/><ellipse cx="1707.6" cy="476.9" rx="2.4" ry="2.4" fill="#00f4e2"/><ellipse cx="1711.2" cy="475.3" rx="2.4" ry="2.4" fill="#00f4e2"/><ellipse cx="1714.8" cy="473.6" rx="2.4" ry="2.4" fill="#00f4e2"/><ellipse cx="1286.0" cy="666.8" rx="0.9" ry="0.9" fill="#00f4e9"/><ellipse cx="1289.7" cy="665.3" rx="1.2" ry="1.2" fill="#00f4e7"/><ellipse cx="1293.4" cy="663.9" rx="1.4" ry="1.4" fill="#00f4e6"/><ellipse cx="1297.2" cy="662.4" rx="1.5" ry="1.5" fill="#00f4e5"/><ellipse cx="1300.9" cy="661.0" rx="1.7" ry="1.7" fill="#00f4e4"/><ellipse cx="1304.6" cy="659.5" rx="1.8" ry="1.8" fill="#00f4e3"/><ellipse cx="1308.4" cy="658.1" rx="1.9" ry="1.9" fill="#00f4e2"/><ellipse cx="1312.1" cy="656.6" rx="2.0" ry="2.0" fill="#00f4e1"/><ellipse cx="1315.8" cy="655.2" rx="2.1" ry="2.1" fill="#00f4e0"/><ellipse cx="1319.5" cy="653.7" rx="2.2" ry="2.2" fill="#00f4de"/><ellipse cx="1323.3" cy="652.3" rx="2.3" ry="2.3" fill="#00f4dd"/><ellipse cx="1327.0" cy="650.8" rx="2.4" ry="2.4" fill="#00f4dc"/><ellipse cx="1330.7" cy="649.3" rx="2.4" ry="2.4" fill="#00f4db"/><ellipse cx="1334.4" cy="647.9" rx="2.5" ry="2.5" fill="#00f4da"/><ellipse cx="1338.1" cy="646.4" rx="2.6" ry="2.6" fill="#00f4d9"/><ellipse cx="1341.9" cy="644.9" rx="2.7" ry="2.7" fill="#00f3d8"/><ellipse cx="1345.6" cy="643.4" rx="2.7" ry="2.7" fill="#00f3d7"/><ellipse cx="1349.3" cy="641.9" rx="2.8" ry="2.8" fill="#00f3d5"/><ellipse cx="1353.0" cy="640.4" rx="2.8" ry="2.8" fill="#00f3d5"/><ellipse cx="1356.7" cy="638.9" rx="2.8" ry="2.8" fill="#00f3d4"/><ellipse cx="1360.4" cy="637.3" rx="2.9" ry="2.9" fill="#00f3d4"/><ellipse cx="1364.1" cy="635.8" rx="2.9" ry="2.9" fill="#00f3d3"/><ellipse cx="1367.7" cy="634.2" rx="2.9" ry="2.9" fill="#00f3d3"/><ellipse cx="1371.4" cy="632.6" rx="2.9" ry="2.9" fill="#00f3d3"/><ellipse cx="1375.1" cy="631.0" rx="3.0" ry="3.0" fill="#00f3d2"/><ellipse cx="1378.7" cy="629.4" rx="3.0" ry="3.0" fill="#00f3d2"/><ellipse cx="1382.4" cy="627.8" rx="3.0" ry="3.0" fill="#00f3d1"/><ellipse cx="1386.1" cy="626.2" rx="3.0" ry="3.0" fill="#00f3d1"/><ellipse cx="1389.7" cy="624.5" rx="3.0" ry="3.0" fill="#00f3d0"/><ellipse cx="1393.3" cy="622.9" rx="3.1" ry="3.1" fill="#00f3d0"/><ellipse cx="1397.0" cy="621.2" rx="3.1" ry="3.1" fill="#00f3cf"/><ellipse cx="1400.6" cy="619.5" rx="3.1" ry="3.1" fill="#00f3cf"/><ellipse cx="1404.2" cy="617.8" rx="3.1" ry="3.1" fill="#00f3cf"/><ellipse cx="1407.8" cy="616.1" rx="3.1" ry="3.1" fill="#00f3ce"/><ellipse cx="1411.4" cy="614.3" rx="3.2" ry="3.2" fill="#00f3ce"/><ellipse cx="1415.0" cy="612.6" rx="3.2" ry="3.2" fill="#00f3cd"/><ellipse cx="1418.6" cy="610.8" rx="3.2" ry="3.2" fill="#00f3cd"/><ellipse cx="1422.2" cy="609.1" rx="3.2" ry="3.2" fill="#00f3cc"/><ellipse cx="1425.8" cy="607.3" rx="3.2" ry="3.2" fill="#00f3cc"/><ellipse cx="1429.4" cy="605.5" rx="3.3" ry="3.3" fill="#00f3cb"/><ellipse cx="1432.9" cy="603.7" rx="3.3" ry="3.3" fill="#00f3cb"/><ellipse cx="1436.5" cy="601.8" rx="3.3" ry="3.3" fill="#00f3cb"/><ellipse cx="1440.0" cy="600.0" rx="3.3" ry="3.3" fill="#00f3ca"/><ellipse cx="1443.6" cy="598.1" rx="3.3" ry="3.3" fill="#00f3ca"/><ellipse cx="1447.1" cy="596.3" rx="3.3" ry="3.3" fill="#00f3c9"/><ellipse cx="1450.6" cy="594.4" rx="3.4" ry="3.4" fill="#00f3c9"/><ellipse cx="1454.2" cy="592.5" rx="3.3" ry="3.3" fill="#00f3c9"/><ellipse cx="1457.7" cy="590.6" rx="3.3" ry="3.3" fill="#00f3c9"/><ellipse cx="1461.2" cy="588.7" rx="3.3" ry="3.3" fill="#00f3ca"/><ellipse cx="1464.7" cy="586.8" rx="3.3" ry="3.3" fill="#00f3ca"/><ellipse cx="1468.2" cy="584.9" rx="3.3" ry="3.3" fill="#00f3ca"/><ellipse cx="1471.7" cy="582.9" rx="3.3" ry="3.3" fill="#00f3ca"/><ellipse cx="1475.2" cy="581.0" rx="3.3" ry="3.3" fill="#00f3ca"/><ellipse cx="1478.7" cy="579.0" rx="3.3" ry="3.3" fill="#00f3cb"/><ellipse cx="1482.2" cy="577.1" rx="3.3" ry="3.3" fill="#00f3cb"/><ellipse cx="1485.7" cy="575.1" rx="3.3" ry="3.3" fill="#00f3cb"/><ellipse cx="1489.2" cy="573.2" rx="3.3" ry="3.3" fill="#00f3cb"/><ellipse cx="1492.7" cy="571.2" rx="3.3" ry="3.3" fill="#00f3cc"/><ellipse cx="1496.1" cy="569.2" rx="3.2" ry="3.2" fill="#00f3cc"/><ellipse cx="1499.6" cy="567.2" rx="3.2" ry="3.2" fill="#00f3cc"/><ellipse cx="1503.1" cy="565.2" rx="3.2" ry="3.2" fill="#00f3cc"/><ellipse cx="1506.6" cy="563.3" rx="3.2" ry="3.2" fill="#00f3cc"/><ellipse cx="1510.0" cy="561.3" rx="3.2" ry="3.2" fill="#00f3cd"/><ellipse cx="1513.5" cy="559.3" rx="3.2" ry="3.2" fill="#00f3cd"/><ellipse cx="1516.9" cy="557.3" rx="3.2" ry="3.2" fill="#00f3cd"/><ellipse cx="1520.4" cy="555.2" rx="3.2" ry="3.2" fill="#00f3cd"/><ellipse cx="1523.9" cy="553.2" rx="3.2" ry="3.2" fill="#00f3cd"/><ellipse cx="1527.3" cy="551.2" rx="3.2" ry="3.2" fill="#00f3ce"/><ellipse cx="1530.8" cy="549.2" rx="3.2" ry="3.2" fill="#00f3ce"/><ellipse cx="1534.2" cy="547.2" rx="3.1" ry="3.1" fill="#00f3ce"/><ellipse cx="1537.7" cy="545.1" rx="3.1" ry="3.1" fill="#00f3ce"/><ellipse cx="1541.1" cy="543.1" rx="3.1" ry="3.1" fill="#00f3cf"/><ellipse cx="1544.6" cy="541.1" rx="3.1" ry="3.1" fill="#00f3cf"/><ellipse cx="1548.0" cy="539.1" rx="3.1" ry="3.1" fill="#00f3cf"/><ellipse cx="1551.4" cy="537.0" rx="3.1" ry="3.1" fill="#00f3cf"/><ellipse cx="1554.9" cy="535.0" rx="3.1" ry="3.1" fill="#00f3cf"/><ellipse cx="1558.3" cy="532.9" rx="3.1" ry="3.1" fill="#00f3cf"/><ellipse cx="1561.8" cy="530.9" rx="3.1" ry="3.1" fill="#00f3cf"/><ellipse cx="1565.2" cy="528.8" rx="3.1" ry="3.1" fill="#00f3d0"/><ellipse cx="1568.6" cy="526.8" rx="3.1" ry="3.1" fill="#00f3d0"/><ellipse cx="1572.1" cy="524.8" rx="3.1" ry="3.1" fill="#00f3d0"/><ellipse cx="1575.5" cy="522.7" rx="3.1" ry="3.1" fill="#00f3d0"/><ellipse cx="1578.9" cy="520.7" rx="3.1" ry="3.1" fill="#00f3d0"/><ellipse cx="1582.4" cy="518.6" rx="3.0" ry="3.0" fill="#00f3d0"/><ellipse cx="1585.8" cy="516.5" rx="3.0" ry="3.0" fill="#00f3d0"/><ellipse cx="1589.2" cy="514.5" rx="3.0" ry="3.0" fill="#00f3d0"/><ellipse cx="1592.7" cy="512.4" rx="3.0" ry="3.0" fill="#00f3d1"/><ellipse cx="1596.1" cy="510.4" rx="3.0" ry="3.0" fill="#00f3d1"/><ellipse cx="1599.5" cy="508.3" rx="3.0" ry="3.0" fill="#00f3d1"/><ellipse cx="1603.0" cy="506.3" rx="3.0" ry="3.0" fill="#00f3d1"/><ellipse cx="1606.4" cy="504.2" rx="3.0" ry="3.0" fill="#00f3d1"/><ellipse cx="1609.8" cy="502.2" rx="3.0" ry="3.0" fill="#00f3d1"/><ellipse cx="1613.3" cy="500.1" rx="3.0" ry="3.0" fill="#00f3d1"/><ellipse cx="1616.7" cy="498.0" rx="3.0" ry="3.0" fill="#00f3d1"/><ellipse cx="1620.1" cy="496.0" rx="3.0" ry="3.0" fill="#00f3d2"/><ellipse cx="1623.5" cy="493.9" rx="3.0" ry="3.0" fill="#00f3d2"/><ellipse cx="1627.0" cy="491.9" rx="3.0" ry="3.0" fill="#00f3d2"/><ellipse cx="1630.4" cy="489.8" rx="3.0" ry="3.0" fill="#00f3d2"/><ellipse cx="1633.8" cy="487.7" rx="3.0" ry="3.0" fill="#00f3d2"/><ellipse cx="1637.3" cy="485.7" rx="3.0" ry="3.0" fill="#00f3d2"/><ellipse cx="1640.7" cy="483.6" rx="2.9" ry="2.9" fill="#00f3d2"/><ellipse cx="1644.1" cy="481.6" rx="2.9" ry="2.9" fill="#00f3d2"/><ellipse cx="1647.6" cy="479.5" rx="2.9" ry="2.9" fill="#00f3d3"/><ellipse cx="1651.0" cy="477.4" rx="2.9" ry="2.9" fill="#00f3d3"/><ellipse cx="1654.4" cy="475.4" rx="2.9" ry="2.9" fill="#00f3d3"/><ellipse cx="1657.8" cy="473.3" rx="2.9" ry="2.9" fill="#00f3d3"/><ellipse cx="1661.3" cy="471.3" rx="2.9" ry="2.9" fill="#00f3d3"/><ellipse cx="1664.7" cy="469.2" rx="2.9" ry="2.9" fill="#00f3d3"/><ellipse cx="1668.1" cy="467.2" rx="2.9" ry="2.9" fill="#00f3d3"/><ellipse cx="1671.6" cy="465.1" rx="2.9" ry="2.9" fill="#00f3d3"/><ellipse cx="1675.0" cy="463.1" rx="2.9" ry="2.9" fill="#00f3d4"/><ellipse cx="1678.5" cy="461.0" rx="2.9" ry="2.9" fill="#00f3d4"/><ellipse cx="1681.9" cy="459.0" rx="2.9" ry="2.9" fill="#00f3d4"/><ellipse cx="1685.3" cy="456.9" rx="2.9" ry="2.9" fill="#00f3d4"/><ellipse cx="1688.8" cy="454.9" rx="2.9" ry="2.9" fill="#00f3d4"/><ellipse cx="1692.2" cy="452.9" rx="2.9" ry="2.9" fill="#00f3d4"/><ellipse cx="1695.7" cy="450.8" rx="2.8" ry="2.8" fill="#00f3d4"/><ellipse cx="1699.1" cy="448.8" rx="2.8" ry="2.8" fill="#00f3d4"/><ellipse cx="1702.5" cy="446.8" rx="2.8" ry="2.8" fill="#00f3d5"/><ellipse cx="1706.0" cy="444.7" rx="2.8" ry="2.8" fill="#00f3d5"/><ellipse cx="1709.4" cy="442.7" rx="2.8" ry="2.8" fill="#00f3d5"/><ellipse cx="1712.9" cy="440.7" rx="2.8" ry="2.8" fill="#00f3d5"/><ellipse cx="1716.3" cy="438.7" rx="2.8" ry="2.8" fill="#00f3d5"/><ellipse cx="1312.4" cy="656.5" rx="6.4" ry="2.7" fill="#00f3d7"/><ellipse cx="1328.0" cy="650.4" rx="7.1" ry="3.0" fill="#00f3d1"/><ellipse cx="1343.6" cy="644.2" rx="7.6" ry="3.3" fill="#00f3cb"/><ellipse cx="1359.2" cy="637.8" rx="8.3" ry="3.5" fill="#00f3c4"/><ellipse cx="1374.8" cy="631.2" rx="8.8" ry="3.8" fill="#00f2bd"/><ellipse cx="1390.4" cy="624.2" rx="9.3" ry="4.0" fill="#00f2b5"/><ellipse cx="1406.0" cy="617.0" rx="9.8" ry="4.2" fill="#00f2ae"/><ellipse cx="1421.6" cy="609.4" rx="10.1" ry="4.3" fill="#00f2a6"/><ellipse cx="1437.2" cy="601.5" rx="10.5" ry="4.5" fill="#00f19e"/><ellipse cx="1452.8" cy="593.2" rx="10.9" ry="4.6" fill="#00f19e"/><ellipse cx="1468.4" cy="584.8" rx="11.3" ry="4.8" fill="#00f19e"/><ellipse cx="1484.0" cy="576.1" rx="11.7" ry="5.0" fill="#00f19e"/><ellipse cx="1499.6" cy="567.2" rx="12.1" ry="5.1" fill="#00f19e"/><ellipse cx="1515.2" cy="558.3" rx="12.4" ry="5.3" fill="#00f19e"/><ellipse cx="1530.8" cy="549.2" rx="12.7" ry="5.4" fill="#00f19e"/><ellipse cx="1546.4" cy="540.0" rx="12.9" ry="5.5" fill="#00f19e"/><ellipse cx="1562.0" cy="530.8" rx="13.2" ry="5.6" fill="#00f19e"/><ellipse cx="1577.6" cy="521.5" rx="13.4" ry="5.7" fill="#00f19e"/><ellipse cx="1593.2" cy="512.1" rx="13.6" ry="5.8" fill="#00f19e"/><ellipse cx="1608.8" cy="502.8" rx="13.7" ry="5.9" fill="#00f19e"/><ellipse cx="1624.4" cy="493.4" rx="13.8" ry="5.9" fill="#00f19e"/><ellipse cx="1640.0" cy="484.0" rx="13.8" ry="5.9" fill="#00f19e"/><ellipse cx="1655.6" cy="474.7" rx="13.8" ry="5.9" fill="#00f19e"/><ellipse cx="1671.2" cy="465.4" rx="13.9" ry="5.9" fill="#00f19e"/><ellipse cx="1686.8" cy="456.1" rx="13.9" ry="5.9" fill="#00f19e"/><ellipse cx="1702.4" cy="446.9" rx="13.9" ry="5.9" fill="#00f19e"/><ellipse cx="1545.5" cy="510.1" rx="0.9" ry="0.9" fill="#00f4e9"/><ellipse cx="1548.9" cy="508.1" rx="1.0" ry="1.0" fill="#00f4e8"/><ellipse cx="1552.4" cy="506.1" rx="1.1" ry="1.1" fill="#00f4e7"/><ellipse cx="1555.9" cy="504.1" rx="1.1" ry="1.1" fill="#00f4e7"/><ellipse cx="1559.4" cy="502.1" rx="1.1" ry="1.1" fill="#00f4e7"/><ellipse cx="1562.8" cy="500.1" rx="1.2" ry="1.2" fill="#00f4e7"/><ellipse cx="1566.3" cy="498.1" rx="1.2" ry="1.2" fill="#00f4e7"/><ellipse cx="1569.8" cy="496.1" rx="1.2" ry="1.2" fill="#00f4e7"/><ellipse cx="1573.2" cy="494.1" rx="1.2" ry="1.2" fill="#00f4e7"/><ellipse cx="1576.7" cy="492.2" rx="1.2" ry="1.2" fill="#00f4e7"/><ellipse cx="1580.2" cy="490.2" rx="1.2" ry="1.2" fill="#00f4e6"/><ellipse cx="1583.6" cy="488.2" rx="1.3" ry="1.3" fill="#00f4e6"/><ellipse cx="1587.1" cy="486.2" rx="1.3" ry="1.3" fill="#00f4e6"/><ellipse cx="1590.6" cy="484.2" rx="1.3" ry="1.3" fill="#00f4e6"/><ellipse cx="1594.0" cy="482.2" rx="1.3" ry="1.3" fill="#00f4e6"/><ellipse cx="1597.5" cy="480.2" rx="1.3" ry="1.3" fill="#00f4e6"/><ellipse cx="1601.0" cy="478.2" rx="1.4" ry="1.4" fill="#00f4e6"/><ellipse cx="1604.4" cy="476.2" rx="1.4" ry="1.4" fill="#00f4e6"/><ellipse cx="1607.9" cy="474.2" rx="1.4" ry="1.4" fill="#00f4e5"/><ellipse cx="1611.4" cy="472.2" rx="1.4" ry="1.4" fill="#00f4e5"/><ellipse cx="1614.9" cy="470.2" rx="1.4" ry="1.4" fill="#00f4e5"/><ellipse cx="1618.3" cy="468.2" rx="1.4" ry="1.4" fill="#00f4e5"/><ellipse cx="1621.8" cy="466.3" rx="1.4" ry="1.4" fill="#00f4e5"/><ellipse cx="1625.3" cy="464.3" rx="1.5" ry="1.5" fill="#00f4e5"/><ellipse cx="1628.7" cy="462.3" rx="1.5" ry="1.5" fill="#00f4e5"/><ellipse cx="1632.2" cy="460.3" rx="1.5" ry="1.5" fill="#00f4e5"/><ellipse cx="1635.7" cy="458.3" rx="1.5" ry="1.5" fill="#00f4e4"/><ellipse cx="1639.1" cy="456.3" rx="1.5" ry="1.5" fill="#00f4e4"/><ellipse cx="1642.6" cy="454.3" rx="1.5" ry="1.5" fill="#00f4e4"/><ellipse cx="1646.1" cy="452.3" rx="1.6" ry="1.6" fill="#00f4e4"/><ellipse cx="1649.5" cy="450.3" rx="1.6" ry="1.6" fill="#00f4e4"/><ellipse cx="1653.0" cy="448.3" rx="1.6" ry="1.6" fill="#00f4e4"/><ellipse cx="1656.5" cy="446.3" rx="1.6" ry="1.6" fill="#00f4e4"/><ellipse cx="1659.9" cy="444.3" rx="1.6" ry="1.6" fill="#00f4e4"/><ellipse cx="1663.4" cy="442.4" rx="1.6" ry="1.6" fill="#00f4e3"/><ellipse cx="1666.9" cy="440.4" rx="1.6" ry="1.6" fill="#00f4e3"/><ellipse cx="1670.4" cy="438.4" rx="1.6" ry="1.6" fill="#00f4e3"/><ellipse cx="1673.8" cy="436.4" rx="1.7" ry="1.7" fill="#00f4e3"/><ellipse cx="1677.3" cy="434.4" rx="1.7" ry="1.7" fill="#00f4e3"/><ellipse cx="1680.8" cy="432.4" rx="1.7" ry="1.7" fill="#00f4e3"/><ellipse cx="1684.2" cy="430.4" rx="1.7" ry="1.7" fill="#00f4e3"/><ellipse cx="1687.7" cy="428.4" rx="1.7" ry="1.7" fill="#00f4e3"/><ellipse cx="1691.2" cy="426.4" rx="1.7" ry="1.7" fill="#00f4e2"/><ellipse cx="1694.6" cy="424.4" rx="1.7" ry="1.7" fill="#00f4e2"/><ellipse cx="1698.1" cy="422.4" rx="1.7" ry="1.7" fill="#00f4e2"/><ellipse cx="1701.6" cy="420.4" rx="1.8" ry="1.8" fill="#00f4e2"/><ellipse cx="1705.0" cy="418.4" rx="1.8" ry="1.8" fill="#00f4e2"/><ellipse cx="1708.5" cy="416.5" rx="1.8" ry="1.8" fill="#00f4e2"/><ellipse cx="1712.0" cy="414.5" rx="1.8" ry="1.8" fill="#00f4e2"/><ellipse cx="1715.4" cy="412.5" rx="1.8" ry="1.8" fill="#00f4e2"/><ellipse cx="1468.0" cy="554.6" rx="3.1" ry="1.5" fill="#00f4e6"/><ellipse cx="1482.8" cy="546.1" rx="5.7" ry="2.7" fill="#00f3d8"/><ellipse cx="1497.6" cy="537.6" rx="7.2" ry="3.4" fill="#00f3cb"/><ellipse cx="1512.4" cy="529.1" rx="8.2" ry="3.9" fill="#00f2bd"/><ellipse cx="1527.2" cy="520.6" rx="8.8" ry="4.2" fill="#00f2b3"/><ellipse cx="1542.0" cy="512.1" rx="9.2" ry="4.3" fill="#00f2ac"/><ellipse cx="1556.8" cy="503.6" rx="9.5" ry="4.5" fill="#00f1a6"/><ellipse cx="1571.6" cy="495.1" rx="9.8" ry="4.6" fill="#00f19f"/><ellipse cx="1586.4" cy="486.6" rx="10.0" ry="4.7" fill="#00f19e"/><ellipse cx="1601.2" cy="478.1" rx="10.3" ry="4.8" fill="#00f19e"/><ellipse cx="1616.0" cy="469.6" rx="10.3" ry="4.9" fill="#00f19e"/><ellipse cx="1630.8" cy="461.1" rx="10.4" ry="4.9" fill="#00f19e"/><ellipse cx="1645.6" cy="452.6" rx="10.4" ry="4.9" fill="#00f19e"/><ellipse cx="1660.4" cy="444.1" rx="10.5" ry="4.9" fill="#00f19e"/><ellipse cx="1675.2" cy="435.6" rx="10.5" ry="5.0" fill="#00f19e"/><ellipse cx="1690.0" cy="427.1" rx="10.6" ry="5.0" fill="#00f19e"/><ellipse cx="1704.8" cy="418.6" rx="10.6" ry="5.0" fill="#00f19e"/><ellipse cx="1316.7" cy="708.0" rx="1.8" ry="1.8" fill="#00f4e8"/><ellipse cx="1319.7" cy="707.6" rx="2.3" ry="2.3" fill="#00f4e6"/><ellipse cx="1322.7" cy="707.1" rx="2.6" ry="2.6" fill="#00f4e5"/><ellipse cx="1325.6" cy="706.7" rx="2.9" ry="2.9" fill="#00f4e4"/><ellipse cx="1328.6" cy="706.2" rx="3.1" ry="3.1" fill="#00f4e2"/><ellipse cx="1331.5" cy="705.7" rx="3.4" ry="3.4" fill="#00f4e1"/><ellipse cx="1334.5" cy="705.2" rx="3.6" ry="3.6" fill="#00f4df"/><ellipse cx="1337.5" cy="704.7" rx="3.7" ry="3.7" fill="#00f4de"/><ellipse cx="1340.4" cy="704.2" rx="3.9" ry="3.9" fill="#00f4dd"/><ellipse cx="1343.4" cy="703.7" rx="4.1" ry="4.1" fill="#00f4dc"/><ellipse cx="1346.3" cy="703.2" rx="4.2" ry="4.2" fill="#00f4da"/><ellipse cx="1349.3" cy="702.6" rx="4.4" ry="4.4" fill="#00f4d9"/><ellipse cx="1352.2" cy="702.0" rx="4.5" ry="4.5" fill="#00f3d8"/><ellipse cx="1355.2" cy="701.5" rx="4.6" ry="4.6" fill="#00f3d6"/><ellipse cx="1358.1" cy="700.9" rx="4.7" ry="4.7" fill="#00f3d5"/><ellipse cx="1361.0" cy="700.3" rx="4.8" ry="4.8" fill="#00f3d4"/><ellipse cx="1364.0" cy="699.6" rx="5.0" ry="5.0" fill="#00f3d3"/><ellipse cx="1366.9" cy="699.0" rx="5.1" ry="5.1" fill="#00f3d1"/><ellipse cx="1369.8" cy="698.4" rx="5.2" ry="5.2" fill="#00f3d0"/><ellipse cx="1372.8" cy="697.7" rx="5.3" ry="5.3" fill="#00f3cf"/><ellipse cx="1375.7" cy="697.1" rx="5.4" ry="5.4" fill="#00f3cd"/><ellipse cx="1378.6" cy="696.4" rx="5.4" ry="5.4" fill="#00f3cc"/><ellipse cx="1381.6" cy="695.8" rx="5.5" ry="5.5" fill="#00f3cb"/><ellipse cx="1384.5" cy="695.1" rx="5.6" ry="5.6" fill="#00f3ca"/><ellipse cx="1387.4" cy="694.5" rx="5.7" ry="5.7" fill="#00f3c8"/><ellipse cx="1390.3" cy="693.8" rx="5.8" ry="5.8" fill="#00f3c7"/><ellipse cx="1393.3" cy="693.2" rx="5.9" ry="5.9" fill="#00f3c6"/><ellipse cx="1396.2" cy="692.5" rx="5.9" ry="5.9" fill="#00f3c4"/><ellipse cx="1399.1" cy="691.8" rx="6.0" ry="6.0" fill="#00f3c3"/><ellipse cx="1402.0" cy="691.2" rx="6.1" ry="6.1" fill="#00f3c1"/><ellipse cx="1405.0" cy="690.5" rx="6.3" ry="6.3" fill="#00f2bf"/><ellipse cx="1407.9" cy="689.9" rx="6.4" ry="6.4" fill="#00f2bc"/><ellipse cx="1410.8" cy="689.2" rx="6.5" ry="6.5" fill="#00f2ba"/><ellipse cx="1413.8" cy="688.6" rx="6.6" ry="6.6" fill="#00f2b7"/><ellipse cx="1416.7" cy="688.0" rx="6.7" ry="6.7" fill="#00f2b5"/><ellipse cx="1419.6" cy="687.4" rx="6.8" ry="6.8" fill="#00f2b2"/><ellipse cx="1422.6" cy="686.7" rx="6.9" ry="6.9" fill="#00f2af"/><ellipse cx="1425.5" cy="686.1" rx="7.0" ry="7.0" fill="#00f2ad"/><ellipse cx="1428.4" cy="685.5" rx="7.1" ry="7.1" fill="#00f2aa"/><ellipse cx="1431.4" cy="684.9" rx="7.2" ry="7.2" fill="#00f2a8"/><ellipse cx="1434.3" cy="684.4" rx="7.3" ry="7.3" fill="#00f1a5"/><ellipse cx="1437.3" cy="683.8" rx="7.4" ry="7.4" fill="#00f1a3"/><ellipse cx="1440.2" cy="683.2" rx="7.5" ry="7.5" fill="#00f1a0"/><ellipse cx="1443.2" cy="682.6" rx="7.6" ry="7.6" fill="#00f19e"/><ellipse cx="1446.1" cy="682.1" rx="7.6" ry="7.6" fill="#00f19e"/><ellipse cx="1449.1" cy="681.5" rx="7.7" ry="7.7" fill="#00f19e"/><ellipse cx="1452.0" cy="681.0" rx="7.8" ry="7.8" fill="#00f19e"/><ellipse cx="1454.9" cy="680.4" rx="7.8" ry="7.8" fill="#00f19e"/><ellipse cx="1457.9" cy="679.8" rx="7.9" ry="7.9" fill="#00f19e"/><ellipse cx="1460.8" cy="679.3" rx="7.9" ry="7.9" fill="#00f19e"/><ellipse cx="1463.8" cy="678.7" rx="8.0" ry="8.0" fill="#00f19e"/><ellipse cx="1466.7" cy="678.1" rx="8.0" ry="8.0" fill="#00f19e"/><ellipse cx="1469.7" cy="677.5" rx="8.0" ry="8.0" fill="#00f19e"/><ellipse cx="1472.6" cy="677.0" rx="8.1" ry="8.1" fill="#00f19e"/><ellipse cx="1475.6" cy="676.4" rx="8.1" ry="8.1" fill="#00f19e"/><ellipse cx="1478.5" cy="675.8" rx="8.2" ry="8.2" fill="#00f19e"/><ellipse cx="1481.4" cy="675.2" rx="8.2" ry="8.2" fill="#00f19e"/><ellipse cx="1484.4" cy="674.5" rx="8.2" ry="8.2" fill="#00f19e"/><ellipse cx="1487.3" cy="673.9" rx="8.3" ry="8.3" fill="#00f19e"/><ellipse cx="1490.2" cy="673.3" rx="8.3" ry="8.3" fill="#00f19e"/><ellipse cx="1493.2" cy="672.6" rx="8.3" ry="8.3" fill="#00f19e"/><ellipse cx="1496.1" cy="672.0" rx="8.4" ry="8.4" fill="#00f19e"/><ellipse cx="1499.0" cy="671.3" rx="8.4" ry="8.4" fill="#00f19e"/><ellipse cx="1501.9" cy="670.6" rx="8.5" ry="8.5" fill="#00f19e"/><ellipse cx="1504.9" cy="669.9" rx="8.5" ry="8.5" fill="#00f19e"/><ellipse cx="1507.8" cy="669.3" rx="8.5" ry="8.5" fill="#00f19e"/><ellipse cx="1510.7" cy="668.6" rx="8.6" ry="8.6" fill="#00f19e"/><ellipse cx="1513.6" cy="667.9" rx="8.6" ry="8.6" fill="#00f19e"/><ellipse cx="1516.5" cy="667.2" rx="8.6" ry="8.6" fill="#00f19e"/><ellipse cx="1519.5" cy="666.5" rx="8.7" ry="8.7" fill="#00f19e"/><ellipse cx="1522.4" cy="665.8" rx="8.7" ry="8.7" fill="#00f19e"/><ellipse cx="1525.3" cy="665.0" rx="8.7" ry="8.7" fill="#00f19e"/><ellipse cx="1528.2" cy="664.3" rx="8.7" ry="8.7" fill="#00f19e"/><ellipse cx="1531.1" cy="663.6" rx="8.8" ry="8.8" fill="#00f19e"/><ellipse cx="1534.0" cy="662.8" rx="8.9" ry="8.9" fill="#00f19e"/><ellipse cx="1536.9" cy="662.1" rx="8.9" ry="8.9" fill="#00f19e"/><ellipse cx="1539.8" cy="661.4" rx="9.0" ry="9.0" fill="#00f19e"/><ellipse cx="1542.7" cy="660.6" rx="9.1" ry="9.1" fill="#00f19e"/><ellipse cx="1545.6" cy="659.9" rx="9.2" ry="9.2" fill="#00f19e"/><ellipse cx="1548.5" cy="659.1" rx="9.2" ry="9.2" fill="#00f19e"/><ellipse cx="1551.4" cy="658.3" rx="9.3" ry="9.3" fill="#00f19e"/><ellipse cx="1554.3" cy="657.5" rx="9.4" ry="9.4" fill="#00f19e"/><ellipse cx="1557.2" cy="656.8" rx="9.4" ry="9.4" fill="#00f19e"/><ellipse cx="1560.1" cy="656.0" rx="9.5" ry="9.5" fill="#00f19e"/><ellipse cx="1563.0" cy="655.2" rx="9.5" ry="9.5" fill="#00f19e"/><ellipse cx="1565.9" cy="654.4" rx="9.5" ry="9.5" fill="#00f19e"/><ellipse cx="1568.8" cy="653.6" rx="9.5" ry="9.5" fill="#00f19e"/><ellipse cx="1571.7" cy="652.8" rx="9.5" ry="9.5" fill="#00f19e"/><ellipse cx="1574.6" cy="652.0" rx="9.5" ry="9.5" fill="#00f19e"/><ellipse cx="1577.5" cy="651.2" rx="9.5" ry="9.5" fill="#00f19e"/><ellipse cx="1580.3" cy="650.3" rx="9.5" ry="9.5" fill="#00f19e"/><ellipse cx="1583.2" cy="649.5" rx="9.5" ry="9.5" fill="#00f19e"/><ellipse cx="1586.1" cy="648.7" rx="9.5" ry="9.5" fill="#00f19e"/><ellipse cx="1589.0" cy="647.8" rx="9.5" ry="9.5" fill="#00f19e"/><ellipse cx="1591.9" cy="647.0" rx="9.5" ry="9.5" fill="#00f19e"/><ellipse cx="1594.7" cy="646.1" rx="9.5" ry="9.5" fill="#00f19e"/><ellipse cx="1597.6" cy="645.3" rx="9.5" ry="9.5" fill="#00f19e"/><ellipse cx="1600.5" cy="644.4" rx="9.5" ry="9.5" fill="#00f19e"/><ellipse cx="1603.4" cy="643.5" rx="9.5" ry="9.5" fill="#00f19e"/><ellipse cx="1606.2" cy="642.7" rx="9.5" ry="9.5" fill="#00f19e"/><ellipse cx="1609.1" cy="641.8" rx="9.5" ry="9.5" fill="#00f19e"/><ellipse cx="1612.0" cy="640.9" rx="9.5" ry="9.5" fill="#00f19e"/><ellipse cx="1614.8" cy="640.0" rx="9.5" ry="9.5" fill="#00f19e"/><ellipse cx="1617.7" cy="639.1" rx="9.5" ry="9.5" fill="#00f19e"/><ellipse cx="1620.6" cy="638.2" rx="9.5" ry="9.5" fill="#00f19e"/><ellipse cx="1623.4" cy="637.3" rx="9.5" ry="9.5" fill="#00f19e"/><ellipse cx="1626.3" cy="636.4" rx="9.6" ry="9.6" fill="#00f19e"/><ellipse cx="1629.1" cy="635.5" rx="9.6" ry="9.6" fill="#00f19e"/><ellipse cx="1632.0" cy="634.5" rx="9.6" ry="9.6" fill="#00f19e"/><ellipse cx="1634.8" cy="633.6" rx="9.6" ry="9.6" fill="#00f19e"/><ellipse cx="1637.7" cy="632.7" rx="9.6" ry="9.6" fill="#00f19e"/><ellipse cx="1640.5" cy="631.8" rx="9.6" ry="9.6" fill="#00f19e"/><ellipse cx="1643.4" cy="630.8" rx="9.6" ry="9.6" fill="#00f19e"/><ellipse cx="1646.2" cy="629.9" rx="9.6" ry="9.6" fill="#00f19e"/><ellipse cx="1649.1" cy="628.9" rx="9.6" ry="9.6" fill="#00f19e"/><ellipse cx="1651.9" cy="627.9" rx="9.6" ry="9.6" fill="#00f19e"/><ellipse cx="1654.8" cy="627.0" rx="9.6" ry="9.6" fill="#00f19e"/><ellipse cx="1657.6" cy="626.0" rx="9.6" ry="9.6" fill="#00f19e"/><ellipse cx="1660.4" cy="625.0" rx="9.6" ry="9.6" fill="#00f19e"/><ellipse cx="1663.3" cy="624.1" rx="9.6" ry="9.6" fill="#00f19e"/><ellipse cx="1666.1" cy="623.1" rx="9.6" ry="9.6" fill="#00f19e"/><ellipse cx="1668.9" cy="622.1" rx="9.6" ry="9.6" fill="#00f19e"/><ellipse cx="1671.8" cy="621.1" rx="9.6" ry="9.6" fill="#00f19e"/><ellipse cx="1674.6" cy="620.1" rx="9.6" ry="9.6" fill="#00f19e"/><ellipse cx="1677.4" cy="619.1" rx="9.6" ry="9.6" fill="#00f19e"/><ellipse cx="1680.3" cy="618.2" rx="9.6" ry="9.6" fill="#00f19e"/><ellipse cx="1683.1" cy="617.2" rx="9.6" ry="9.6" fill="#00f19e"/><ellipse cx="1685.9" cy="616.2" rx="9.6" ry="9.6" fill="#00f19e"/><ellipse cx="1688.8" cy="615.2" rx="9.6" ry="9.6" fill="#00f19e"/><ellipse cx="1691.6" cy="614.2" rx="9.6" ry="9.6" fill="#00f19e"/><ellipse cx="1694.4" cy="613.2" rx="9.6" ry="9.6" fill="#00f19e"/><ellipse cx="1697.3" cy="612.2" rx="9.6" ry="9.6" fill="#00f19e"/><ellipse cx="1700.1" cy="611.2" rx="9.6" ry="9.6" fill="#00f19e"/><ellipse cx="1702.9" cy="610.2" rx="9.6" ry="9.6" fill="#00f19e"/><ellipse cx="1705.8" cy="609.2" rx="9.6" ry="9.6" fill="#00f19e"/><ellipse cx="1708.6" cy="608.3" rx="9.6" ry="9.6" fill="#00f19e"/><ellipse cx="1711.4" cy="607.3" rx="9.6" ry="9.6" fill="#00f19e"/><ellipse cx="1714.3" cy="606.3" rx="9.6" ry="9.6" fill="#00f19e"/><ellipse cx="1717.1" cy="605.3" rx="9.6" ry="9.6" fill="#00f19e"/><ellipse cx="1571.0" cy="652.0" rx="11.2" ry="5.6" fill="#00f19e"/><ellipse cx="1599.0" cy="643.8" rx="11.2" ry="5.6" fill="#00f19e"/><ellipse cx="1630.0" cy="634.2" rx="11.2" ry="5.6" fill="#00f19e"/><ellipse cx="1660.0" cy="624.2" rx="11.2" ry="5.6" fill="#00f19e"/><ellipse cx="1703.0" cy="609.2" rx="11.2" ry="5.6" fill="#00f19e"/><path d="M972.0 758.0 L980.0 758.0 L988.0 757.9 L996.0 757.9 L1004.0 757.8 L1012.0 757.8 L1020.0 757.7 L1028.0 757.7 L1036.0 757.6 L1044.0 757.5 L1052.0 757.2 L1060.0 756.9 L1068.0 756.6 L1076.0 756.3 L1084.0 756.1 L1092.0 756.0 L1100.0 755.9 L1108.0 755.7 L1116.0 755.6 L1124.0 755.4 L1132.0 755.3 L1140.0 755.2 L1148.0 755.0 L1156.0 754.9 L1164.0 754.8 L1172.0 754.7 L1180.0 754.6 L1188.0 754.5 L1196.0 754.4 L1204.0 754.3 L1212.0 754.2 L1220.0 754.1 L1228.0 754.0 L1236.0 753.9 L1244.0 753.8 L1252.0 753.7 L1260.0 753.6 L1268.0 753.5 L1276.0 753.4 L1284.0 753.3 L1292.0 753.2 L1300.0 753.1 L1308.0 753.0 L1316.0 752.9 L1324.0 752.7 L1332.0 752.6 L1340.0 752.5 L1348.0 752.4 L1356.0 752.3 L1364.0 752.1 L1372.0 752.0 L1380.0 751.8 L1388.0 751.6 L1396.0 751.5 L1404.0 751.3 L1412.0 751.2 L1420.0 751.0 L1428.0 750.8 L1436.0 750.7 L1444.0 750.5 L1452.0 750.4 L1460.0 750.2 L1468.0 750.0 L1476.0 749.9 L1484.0 749.7 L1492.0 749.6 L1500.0 749.4 L1508.0 749.2 L1516.0 749.1 L1524.0 748.9 L1532.0 748.8 L1540.0 748.6 L1548.0 748.4 L1556.0 748.3 L1564.0 748.2 L1572.0 748.1 L1580.0 748.0 L1588.0 747.9 L1596.0 747.8 L1604.0 747.7 L1612.0 747.7 L1620.0 747.6 L1628.0 747.5 L1636.0 747.4 L1644.0 747.3 L1652.0 747.2 L1660.0 747.2" fill="none" stroke="#00f4e0" stroke-width="18" stroke-linecap="round" transform="translate(0,-1.5)"/><ellipse cx="1704.5" cy="744.5" rx="12.4" ry="6.2" fill="#00f19e"/><ellipse cx="1668.0" cy="746.0" rx="3.7" ry="3.7" fill="#00f2b7"/><ellipse cx="1671.0" cy="746.0" rx="3.7" ry="3.7" fill="#00f2b7"/><ellipse cx="1674.0" cy="746.0" rx="3.7" ry="3.7" fill="#00f2b7"/><ellipse cx="1677.0" cy="746.0" rx="3.7" ry="3.7" fill="#00f2b7"/><ellipse cx="1680.0" cy="746.0" rx="3.7" ry="3.7" fill="#00f2b7"/><ellipse cx="1683.0" cy="746.0" rx="3.7" ry="3.7" fill="#00f2b7"/><ellipse cx="1686.0" cy="746.0" rx="3.7" ry="3.7" fill="#00f2b7"/><ellipse cx="1689.0" cy="746.0" rx="3.7" ry="3.7" fill="#00f2b7"/><ellipse cx="1692.0" cy="746.0" rx="3.7" ry="3.7" fill="#00f2b7"/><ellipse cx="1695.0" cy="746.0" rx="3.7" ry="3.7" fill="#00f2b7"/><ellipse cx="1698.0" cy="746.0" rx="3.7" ry="3.7" fill="#00f2b7"/></g>
<g filter="url(#fb15)"><ellipse cx="1553.8" cy="104.6" rx="2.0" ry="1.0" fill="#13ec00"/><ellipse cx="1538.3" cy="126.1" rx="1.7" ry="0.8" fill="#10ec00"/><ellipse cx="1522.9" cy="147.6" rx="1.2" ry="0.6" fill="#0dec00"/><ellipse cx="1682.9" cy="93.5" rx="10.3" ry="3.5" fill="#7af500"/><ellipse cx="1668.2" cy="110.7" rx="10.1" ry="3.4" fill="#75f400"/><ellipse cx="1653.5" cy="127.9" rx="9.9" ry="3.3" fill="#70f400"/><ellipse cx="1638.9" cy="145.1" rx="9.7" ry="3.3" fill="#6bf300"/><ellipse cx="1624.2" cy="162.3" rx="9.5" ry="3.2" fill="#66f300"/><ellipse cx="1609.6" cy="179.5" rx="9.3" ry="3.1" fill="#62f300"/><ellipse cx="1594.9" cy="196.7" rx="9.1" ry="3.0" fill="#5df200"/><ellipse cx="1580.2" cy="213.9" rx="8.8" ry="3.0" fill="#57f200"/><ellipse cx="1565.6" cy="231.1" rx="8.4" ry="2.8" fill="#50f100"/><ellipse cx="1550.9" cy="248.3" rx="8.1" ry="2.7" fill="#4af100"/><ellipse cx="1536.3" cy="265.5" rx="7.7" ry="2.6" fill="#43f000"/><ellipse cx="1521.6" cy="282.7" rx="7.3" ry="2.5" fill="#3df000"/><ellipse cx="1507.0" cy="299.9" rx="6.9" ry="2.3" fill="#36ef00"/><ellipse cx="1492.4" cy="317.1" rx="6.4" ry="2.2" fill="#30ef00"/><ellipse cx="1478.0" cy="334.3" rx="5.9" ry="2.0" fill="#2aee00"/><ellipse cx="1464.0" cy="351.5" rx="5.3" ry="1.8" fill="#23ee00"/><ellipse cx="1449.2" cy="368.7" rx="4.3" ry="1.4" fill="#1aed00"/><ellipse cx="1434.1" cy="385.9" rx="2.9" ry="1.0" fill="#11ec00"/><ellipse cx="1716.0" cy="230.0" rx="12.4" ry="4.9" fill="#8af600"/><ellipse cx="1702.4" cy="243.8" rx="12.3" ry="4.9" fill="#8af600"/><ellipse cx="1689.0" cy="257.6" rx="12.3" ry="4.9" fill="#8af600"/><ellipse cx="1675.6" cy="271.4" rx="12.2" ry="4.9" fill="#8af600"/><ellipse cx="1662.0" cy="285.2" rx="12.2" ry="4.9" fill="#8af600"/><ellipse cx="1648.1" cy="299.0" rx="12.2" ry="4.9" fill="#8af600"/><ellipse cx="1633.8" cy="312.8" rx="12.1" ry="4.8" fill="#8af600"/><ellipse cx="1619.4" cy="326.6" rx="12.1" ry="4.8" fill="#8af600"/><ellipse cx="1604.8" cy="340.4" rx="11.8" ry="4.7" fill="#8af600"/><ellipse cx="1590.3" cy="354.2" rx="11.5" ry="4.6" fill="#8af600"/><ellipse cx="1575.8" cy="368.0" rx="11.2" ry="4.5" fill="#8af600"/><ellipse cx="1561.3" cy="381.8" rx="10.9" ry="4.3" fill="#8af600"/><ellipse cx="1546.7" cy="395.6" rx="10.5" ry="4.2" fill="#8af600"/><ellipse cx="1532.1" cy="409.4" rx="9.9" ry="4.0" fill="#8af600"/><ellipse cx="1517.4" cy="423.2" rx="9.3" ry="3.7" fill="#7af500"/><ellipse cx="1502.6" cy="437.0" rx="8.6" ry="3.5" fill="#67f300"/><ellipse cx="1487.6" cy="450.8" rx="7.8" ry="3.1" fill="#54f200"/><ellipse cx="1472.6" cy="464.6" rx="6.9" ry="2.7" fill="#40f000"/><ellipse cx="1457.3" cy="478.4" rx="5.6" ry="2.2" fill="#2def00"/><ellipse cx="1441.9" cy="492.2" rx="4.2" ry="1.7" fill="#1ded00"/><ellipse cx="1426.1" cy="506.0" rx="2.1" ry="0.9" fill="#0fec00"/><ellipse cx="1452.8" cy="593.2" rx="2.7" ry="1.2" fill="#18ed00"/><ellipse cx="1468.4" cy="584.8" rx="4.2" ry="1.8" fill="#2dee00"/><ellipse cx="1484.0" cy="576.1" rx="5.2" ry="2.2" fill="#41f000"/><ellipse cx="1499.6" cy="567.2" rx="5.9" ry="2.5" fill="#55f200"/><ellipse cx="1515.2" cy="558.3" rx="6.6" ry="2.8" fill="#6af300"/><ellipse cx="1530.8" cy="549.2" rx="7.1" ry="3.0" fill="#7ef500"/><ellipse cx="1546.4" cy="540.0" rx="7.6" ry="3.2" fill="#8af600"/><ellipse cx="1562.0" cy="530.8" rx="8.0" ry="3.4" fill="#8af600"/><ellipse cx="1577.6" cy="521.5" rx="8.4" ry="3.6" fill="#8af600"/><ellipse cx="1593.2" cy="512.1" rx="8.7" ry="3.7" fill="#8af600"/><ellipse cx="1608.8" cy="502.8" rx="8.9" ry="3.8" fill="#8af600"/><ellipse cx="1624.4" cy="493.4" rx="8.9" ry="3.8" fill="#8af600"/><ellipse cx="1640.0" cy="484.0" rx="9.0" ry="3.8" fill="#8af600"/><ellipse cx="1655.6" cy="474.7" rx="9.0" ry="3.8" fill="#8af600"/><ellipse cx="1671.2" cy="465.4" rx="9.1" ry="3.9" fill="#8af600"/><ellipse cx="1686.8" cy="456.1" rx="9.1" ry="3.9" fill="#8af600"/><ellipse cx="1702.4" cy="446.9" rx="9.2" ry="3.9" fill="#8af600"/><ellipse cx="1586.4" cy="486.6" rx="2.2" ry="1.0" fill="#14ed00"/><ellipse cx="1601.2" cy="478.1" rx="3.1" ry="1.4" fill="#1fed00"/><ellipse cx="1616.0" cy="469.6" rx="3.2" ry="1.5" fill="#21ee00"/><ellipse cx="1630.8" cy="461.1" rx="3.4" ry="1.6" fill="#24ee00"/><ellipse cx="1645.6" cy="452.6" rx="3.6" ry="1.7" fill="#26ee00"/><ellipse cx="1660.4" cy="444.1" rx="3.7" ry="1.8" fill="#29ee00"/><ellipse cx="1675.2" cy="435.6" rx="3.9" ry="1.8" fill="#2cee00"/><ellipse cx="1690.0" cy="427.1" rx="4.0" ry="1.9" fill="#2eef00"/><ellipse cx="1704.8" cy="418.6" rx="4.1" ry="1.9" fill="#31ef00"/><ellipse cx="1446.1" cy="682.1" rx="1.1" ry="1.1" fill="#0fec00"/><ellipse cx="1449.1" cy="681.5" rx="1.6" ry="1.6" fill="#13ec00"/><ellipse cx="1452.0" cy="681.0" rx="1.8" ry="1.8" fill="#16ed00"/><ellipse cx="1454.9" cy="680.4" rx="2.0" ry="2.0" fill="#19ed00"/><ellipse cx="1457.9" cy="679.8" rx="2.2" ry="2.2" fill="#1bed00"/><ellipse cx="1460.8" cy="679.3" rx="2.3" ry="2.3" fill="#1eed00"/><ellipse cx="1463.8" cy="678.7" rx="2.5" ry="2.5" fill="#21ee00"/><ellipse cx="1466.7" cy="678.1" rx="2.6" ry="2.6" fill="#23ee00"/><ellipse cx="1469.7" cy="677.5" rx="2.7" ry="2.7" fill="#26ee00"/><ellipse cx="1472.6" cy="677.0" rx="2.8" ry="2.8" fill="#29ee00"/><ellipse cx="1475.6" cy="676.4" rx="3.0" ry="3.0" fill="#2bee00"/><ellipse cx="1478.5" cy="675.8" rx="3.1" ry="3.1" fill="#2eef00"/><ellipse cx="1481.4" cy="675.2" rx="3.2" ry="3.2" fill="#30ef00"/><ellipse cx="1484.4" cy="674.5" rx="3.3" ry="3.3" fill="#33ef00"/><ellipse cx="1487.3" cy="673.9" rx="3.4" ry="3.4" fill="#36ef00"/><ellipse cx="1490.2" cy="673.3" rx="3.4" ry="3.4" fill="#38ef00"/><ellipse cx="1493.2" cy="672.6" rx="3.5" ry="3.5" fill="#3bf000"/><ellipse cx="1496.1" cy="672.0" rx="3.6" ry="3.6" fill="#3ef000"/><ellipse cx="1499.0" cy="671.3" rx="3.7" ry="3.7" fill="#40f000"/><ellipse cx="1501.9" cy="670.6" rx="3.8" ry="3.8" fill="#43f000"/><ellipse cx="1504.9" cy="669.9" rx="3.9" ry="3.9" fill="#45f000"/><ellipse cx="1507.8" cy="669.3" rx="3.9" ry="3.9" fill="#48f100"/><ellipse cx="1510.7" cy="668.6" rx="4.0" ry="4.0" fill="#4bf100"/><ellipse cx="1513.6" cy="667.9" rx="4.1" ry="4.1" fill="#4df100"/><ellipse cx="1516.5" cy="667.2" rx="4.1" ry="4.1" fill="#50f100"/><ellipse cx="1519.5" cy="666.5" rx="4.2" ry="4.2" fill="#52f100"/><ellipse cx="1522.4" cy="665.8" rx="4.3" ry="4.3" fill="#55f200"/><ellipse cx="1525.3" cy="665.0" rx="4.3" ry="4.3" fill="#58f200"/><ellipse cx="1528.2" cy="664.3" rx="4.4" ry="4.4" fill="#5af200"/><ellipse cx="1531.1" cy="663.6" rx="4.5" ry="4.5" fill="#5ef200"/><ellipse cx="1534.0" cy="662.8" rx="4.6" ry="4.6" fill="#65f300"/><ellipse cx="1536.9" cy="662.1" rx="4.8" ry="4.8" fill="#6cf300"/><ellipse cx="1539.8" cy="661.4" rx="4.9" ry="4.9" fill="#73f400"/><ellipse cx="1542.7" cy="660.6" rx="5.0" ry="5.0" fill="#7af500"/><ellipse cx="1545.6" cy="659.9" rx="5.2" ry="5.2" fill="#81f500"/><ellipse cx="1548.5" cy="659.1" rx="5.3" ry="5.3" fill="#88f600"/><ellipse cx="1551.4" cy="658.3" rx="5.4" ry="5.4" fill="#8af600"/><ellipse cx="1554.3" cy="657.5" rx="5.5" ry="5.5" fill="#8af600"/><ellipse cx="1557.2" cy="656.8" rx="5.6" ry="5.6" fill="#8af600"/><ellipse cx="1560.1" cy="656.0" rx="5.7" ry="5.7" fill="#8af600"/><ellipse cx="1563.0" cy="655.2" rx="5.7" ry="5.7" fill="#8af600"/><ellipse cx="1565.9" cy="654.4" rx="5.7" ry="5.7" fill="#8af600"/><ellipse cx="1568.8" cy="653.6" rx="5.7" ry="5.7" fill="#8af600"/><ellipse cx="1571.7" cy="652.8" rx="5.7" ry="5.7" fill="#8af600"/><ellipse cx="1574.6" cy="652.0" rx="5.7" ry="5.7" fill="#8af600"/><ellipse cx="1577.5" cy="651.2" rx="5.7" ry="5.7" fill="#8af600"/><ellipse cx="1580.3" cy="650.3" rx="5.8" ry="5.8" fill="#8af600"/><ellipse cx="1583.2" cy="649.5" rx="5.8" ry="5.8" fill="#8af600"/><ellipse cx="1586.1" cy="648.7" rx="5.8" ry="5.8" fill="#8af600"/><ellipse cx="1589.0" cy="647.8" rx="5.8" ry="5.8" fill="#8af600"/><ellipse cx="1591.9" cy="647.0" rx="5.8" ry="5.8" fill="#8af600"/><ellipse cx="1594.7" cy="646.1" rx="5.8" ry="5.8" fill="#8af600"/><ellipse cx="1597.6" cy="645.3" rx="5.8" ry="5.8" fill="#8af600"/><ellipse cx="1600.5" cy="644.4" rx="5.8" ry="5.8" fill="#8af600"/><ellipse cx="1603.4" cy="643.5" rx="5.8" ry="5.8" fill="#8af600"/><ellipse cx="1606.2" cy="642.7" rx="5.8" ry="5.8" fill="#8af600"/><ellipse cx="1609.1" cy="641.8" rx="5.8" ry="5.8" fill="#8af600"/><ellipse cx="1612.0" cy="640.9" rx="5.8" ry="5.8" fill="#8af600"/><ellipse cx="1614.8" cy="640.0" rx="5.8" ry="5.8" fill="#8af600"/><ellipse cx="1617.7" cy="639.1" rx="5.8" ry="5.8" fill="#8af600"/><ellipse cx="1620.6" cy="638.2" rx="5.8" ry="5.8" fill="#8af600"/><ellipse cx="1623.4" cy="637.3" rx="5.8" ry="5.8" fill="#8af600"/><ellipse cx="1626.3" cy="636.4" rx="5.8" ry="5.8" fill="#8af600"/><ellipse cx="1629.1" cy="635.5" rx="5.8" ry="5.8" fill="#8af600"/><ellipse cx="1632.0" cy="634.5" rx="5.8" ry="5.8" fill="#8af600"/><ellipse cx="1634.8" cy="633.6" rx="5.8" ry="5.8" fill="#8af600"/><ellipse cx="1637.7" cy="632.7" rx="5.9" ry="5.9" fill="#8af600"/><ellipse cx="1640.5" cy="631.8" rx="5.9" ry="5.9" fill="#8af600"/><ellipse cx="1643.4" cy="630.8" rx="5.9" ry="5.9" fill="#8af600"/><ellipse cx="1646.2" cy="629.9" rx="5.9" ry="5.9" fill="#8af600"/><ellipse cx="1649.1" cy="628.9" rx="5.9" ry="5.9" fill="#8af600"/><ellipse cx="1651.9" cy="627.9" rx="5.9" ry="5.9" fill="#8af600"/><ellipse cx="1654.8" cy="627.0" rx="5.9" ry="5.9" fill="#8af600"/><ellipse cx="1657.6" cy="626.0" rx="5.9" ry="5.9" fill="#8af600"/><ellipse cx="1660.4" cy="625.0" rx="5.9" ry="5.9" fill="#8af600"/><ellipse cx="1663.3" cy="624.1" rx="5.9" ry="5.9" fill="#8af600"/><ellipse cx="1666.1" cy="623.1" rx="5.9" ry="5.9" fill="#8af600"/><ellipse cx="1668.9" cy="622.1" rx="5.9" ry="5.9" fill="#8af600"/><ellipse cx="1671.8" cy="621.1" rx="5.9" ry="5.9" fill="#8af600"/><ellipse cx="1674.6" cy="620.1" rx="5.9" ry="5.9" fill="#8af600"/><ellipse cx="1677.4" cy="619.1" rx="5.9" ry="5.9" fill="#8af600"/><ellipse cx="1680.3" cy="618.2" rx="5.9" ry="5.9" fill="#8af600"/><ellipse cx="1683.1" cy="617.2" rx="5.9" ry="5.9" fill="#8af600"/><ellipse cx="1685.9" cy="616.2" rx="5.9" ry="5.9" fill="#8af600"/><ellipse cx="1688.8" cy="615.2" rx="5.9" ry="5.9" fill="#8af600"/><ellipse cx="1691.6" cy="614.2" rx="5.9" ry="5.9" fill="#8af600"/><ellipse cx="1694.4" cy="613.2" rx="6.0" ry="6.0" fill="#8af600"/><ellipse cx="1697.3" cy="612.2" rx="6.0" ry="6.0" fill="#8af600"/><ellipse cx="1700.1" cy="611.2" rx="6.0" ry="6.0" fill="#8af600"/><ellipse cx="1702.9" cy="610.2" rx="6.0" ry="6.0" fill="#8af600"/><ellipse cx="1705.8" cy="609.2" rx="6.0" ry="6.0" fill="#8af600"/><ellipse cx="1708.6" cy="608.3" rx="6.0" ry="6.0" fill="#8af600"/><ellipse cx="1711.4" cy="607.3" rx="6.0" ry="6.0" fill="#8af600"/><ellipse cx="1714.3" cy="606.3" rx="6.0" ry="6.0" fill="#8af600"/><ellipse cx="1717.1" cy="605.3" rx="6.0" ry="6.0" fill="#8af600"/><ellipse cx="1571.0" cy="652.0" rx="7.4" ry="3.7" fill="#8af600"/><ellipse cx="1599.0" cy="643.8" rx="7.4" ry="3.7" fill="#8af600"/><ellipse cx="1630.0" cy="634.2" rx="7.4" ry="3.7" fill="#8af600"/><ellipse cx="1660.0" cy="624.2" rx="7.4" ry="3.7" fill="#8af600"/><ellipse cx="1703.0" cy="609.2" rx="7.4" ry="3.7" fill="#8af600"/><path d="M972.0 758.0 L980.0 758.0 L988.0 757.9 L996.0 757.9 L1004.0 757.8 L1012.0 757.8 L1020.0 757.7 L1028.0 757.7 L1036.0 757.6 L1044.0 757.5 L1052.0 757.2 L1060.0 756.9 L1068.0 756.6 L1076.0 756.3 L1084.0 756.1 L1092.0 756.0 L1100.0 755.9 L1108.0 755.7 L1116.0 755.6 L1124.0 755.4 L1132.0 755.3 L1140.0 755.2 L1148.0 755.0 L1156.0 754.9 L1164.0 754.8 L1172.0 754.7 L1180.0 754.6 L1188.0 754.5 L1196.0 754.4 L1204.0 754.3 L1212.0 754.2 L1220.0 754.1 L1228.0 754.0 L1236.0 753.9 L1244.0 753.8 L1252.0 753.7 L1260.0 753.6 L1268.0 753.5 L1276.0 753.4 L1284.0 753.3 L1292.0 753.2 L1300.0 753.1 L1308.0 753.0 L1316.0 752.9 L1324.0 752.7 L1332.0 752.6 L1340.0 752.5 L1348.0 752.4 L1356.0 752.3 L1364.0 752.1 L1372.0 752.0 L1380.0 751.8 L1388.0 751.6 L1396.0 751.5 L1404.0 751.3 L1412.0 751.2 L1420.0 751.0 L1428.0 750.8 L1436.0 750.7 L1444.0 750.5 L1452.0 750.4 L1460.0 750.2 L1468.0 750.0 L1476.0 749.9 L1484.0 749.7 L1492.0 749.6 L1500.0 749.4 L1508.0 749.2 L1516.0 749.1 L1524.0 748.9 L1532.0 748.8 L1540.0 748.6 L1548.0 748.4 L1556.0 748.3 L1564.0 748.2 L1572.0 748.1 L1580.0 748.0 L1588.0 747.9 L1596.0 747.8 L1604.0 747.7 L1612.0 747.7 L1620.0 747.6 L1628.0 747.5 L1636.0 747.4 L1644.0 747.3 L1652.0 747.2 L1660.0 747.2" fill="none" stroke="#1fed00" stroke-width="11.2" stroke-linecap="round"/><ellipse cx="1704.5" cy="744.5" rx="7.6" ry="3.8" fill="#8af600"/></g>
<g filter="url(#fb1)"><ellipse cx="1716.0" cy="230.0" rx="7.5" ry="3.0" fill="#fd9309"/><ellipse cx="1702.4" cy="243.8" rx="7.4" ry="3.0" fill="#fd9509"/><ellipse cx="1689.0" cy="257.6" rx="7.3" ry="2.9" fill="#fd9709"/><ellipse cx="1675.6" cy="271.4" rx="7.3" ry="2.9" fill="#fd9909"/><ellipse cx="1662.0" cy="285.2" rx="7.2" ry="2.9" fill="#fd9b09"/><ellipse cx="1648.1" cy="299.0" rx="7.1" ry="2.9" fill="#fd9d08"/><ellipse cx="1633.8" cy="312.8" rx="7.1" ry="2.8" fill="#fd9f08"/><ellipse cx="1619.4" cy="326.6" rx="7.0" ry="2.8" fill="#fda208"/><ellipse cx="1604.8" cy="340.4" rx="6.5" ry="2.6" fill="#fdae07"/><ellipse cx="1590.3" cy="354.2" rx="5.9" ry="2.4" fill="#febb06"/><ellipse cx="1575.8" cy="368.0" rx="5.3" ry="2.1" fill="#fec805"/><ellipse cx="1561.3" cy="381.8" rx="4.6" ry="1.8" fill="#fed404"/><ellipse cx="1546.7" cy="395.6" rx="3.5" ry="1.4" fill="#fee202"/><ellipse cx="1532.1" cy="409.4" rx="1.3" ry="0.5" fill="#fff301"/><ellipse cx="1546.4" cy="540.0" rx="1.7" ry="0.7" fill="#ffee01"/><ellipse cx="1562.0" cy="530.8" rx="3.0" ry="1.3" fill="#fedc03"/><ellipse cx="1577.6" cy="521.5" rx="3.9" ry="1.7" fill="#fec905"/><ellipse cx="1593.2" cy="512.1" rx="4.6" ry="2.0" fill="#fdb706"/><ellipse cx="1608.8" cy="502.8" rx="4.9" ry="2.1" fill="#fdad07"/><ellipse cx="1624.4" cy="493.4" rx="5.0" ry="2.1" fill="#fdaa07"/><ellipse cx="1640.0" cy="484.0" rx="5.1" ry="2.2" fill="#fda707"/><ellipse cx="1655.6" cy="474.7" rx="5.2" ry="2.2" fill="#fda408"/><ellipse cx="1671.2" cy="465.4" rx="5.2" ry="2.2" fill="#fda108"/><ellipse cx="1686.8" cy="456.1" rx="5.3" ry="2.3" fill="#fd9e08"/><ellipse cx="1702.4" cy="446.9" rx="5.4" ry="2.3" fill="#fd9b09"/><ellipse cx="1551.4" cy="658.3" rx="0.9" ry="0.9" fill="#fff101"/><ellipse cx="1554.3" cy="657.5" rx="1.4" ry="1.4" fill="#ffeb02"/><ellipse cx="1557.2" cy="656.8" rx="1.8" ry="1.8" fill="#fee402"/><ellipse cx="1560.1" cy="656.0" rx="2.1" ry="2.1" fill="#fede03"/><ellipse cx="1563.0" cy="655.2" rx="2.1" ry="2.1" fill="#fede03"/><ellipse cx="1565.9" cy="654.4" rx="2.1" ry="2.1" fill="#fedd03"/><ellipse cx="1568.8" cy="653.6" rx="2.1" ry="2.1" fill="#fedd03"/><ellipse cx="1571.7" cy="652.8" rx="2.1" ry="2.1" fill="#fedd03"/><ellipse cx="1574.6" cy="652.0" rx="2.2" ry="2.2" fill="#fedc03"/><ellipse cx="1577.5" cy="651.2" rx="2.2" ry="2.2" fill="#fedc03"/><ellipse cx="1580.3" cy="650.3" rx="2.2" ry="2.2" fill="#fedc03"/><ellipse cx="1583.2" cy="649.5" rx="2.2" ry="2.2" fill="#fedb03"/><ellipse cx="1586.1" cy="648.7" rx="2.2" ry="2.2" fill="#fedb03"/><ellipse cx="1589.0" cy="647.8" rx="2.2" ry="2.2" fill="#fedb03"/><ellipse cx="1591.9" cy="647.0" rx="2.2" ry="2.2" fill="#feda03"/><ellipse cx="1594.7" cy="646.1" rx="2.2" ry="2.2" fill="#feda03"/><ellipse cx="1597.6" cy="645.3" rx="2.3" ry="2.3" fill="#feda03"/><ellipse cx="1600.5" cy="644.4" rx="2.3" ry="2.3" fill="#fed903"/><ellipse cx="1603.4" cy="643.5" rx="2.3" ry="2.3" fill="#fed903"/><ellipse cx="1606.2" cy="642.7" rx="2.3" ry="2.3" fill="#fed903"/><ellipse cx="1609.1" cy="641.8" rx="2.3" ry="2.3" fill="#fed803"/><ellipse cx="1612.0" cy="640.9" rx="2.3" ry="2.3" fill="#fed803"/><ellipse cx="1614.8" cy="640.0" rx="2.3" ry="2.3" fill="#fed803"/><ellipse cx="1617.7" cy="639.1" rx="2.4" ry="2.4" fill="#fed703"/><ellipse cx="1620.6" cy="638.2" rx="2.4" ry="2.4" fill="#fed703"/><ellipse cx="1623.4" cy="637.3" rx="2.4" ry="2.4" fill="#fed703"/><ellipse cx="1626.3" cy="636.4" rx="2.4" ry="2.4" fill="#fed603"/><ellipse cx="1629.1" cy="635.5" rx="2.4" ry="2.4" fill="#fed604"/><ellipse cx="1632.0" cy="634.5" rx="2.4" ry="2.4" fill="#fed604"/><ellipse cx="1634.8" cy="633.6" rx="2.4" ry="2.4" fill="#fed504"/><ellipse cx="1637.7" cy="632.7" rx="2.4" ry="2.4" fill="#fed504"/><ellipse cx="1640.5" cy="631.8" rx="2.4" ry="2.4" fill="#fed504"/><ellipse cx="1643.4" cy="630.8" rx="2.5" ry="2.5" fill="#fed404"/><ellipse cx="1646.2" cy="629.9" rx="2.5" ry="2.5" fill="#fed404"/><ellipse cx="1649.1" cy="628.9" rx="2.5" ry="2.5" fill="#fed404"/><ellipse cx="1651.9" cy="627.9" rx="2.5" ry="2.5" fill="#fed304"/><ellipse cx="1654.8" cy="627.0" rx="2.5" ry="2.5" fill="#fed304"/><ellipse cx="1657.6" cy="626.0" rx="2.5" ry="2.5" fill="#fed204"/><ellipse cx="1660.4" cy="625.0" rx="2.5" ry="2.5" fill="#fed204"/><ellipse cx="1663.3" cy="624.1" rx="2.5" ry="2.5" fill="#fed204"/><ellipse cx="1666.1" cy="623.1" rx="2.6" ry="2.6" fill="#fed104"/><ellipse cx="1668.9" cy="622.1" rx="2.6" ry="2.6" fill="#fed104"/><ellipse cx="1671.8" cy="621.1" rx="2.6" ry="2.6" fill="#fed104"/><ellipse cx="1674.6" cy="620.1" rx="2.6" ry="2.6" fill="#fed004"/><ellipse cx="1677.4" cy="619.1" rx="2.6" ry="2.6" fill="#fed004"/><ellipse cx="1680.3" cy="618.2" rx="2.6" ry="2.6" fill="#fed004"/><ellipse cx="1683.1" cy="617.2" rx="2.6" ry="2.6" fill="#fecf04"/><ellipse cx="1685.9" cy="616.2" rx="2.6" ry="2.6" fill="#fecf04"/><ellipse cx="1688.8" cy="615.2" rx="2.6" ry="2.6" fill="#fecf04"/><ellipse cx="1691.6" cy="614.2" rx="2.7" ry="2.7" fill="#fece04"/><ellipse cx="1694.4" cy="613.2" rx="2.7" ry="2.7" fill="#fece04"/><ellipse cx="1697.3" cy="612.2" rx="2.7" ry="2.7" fill="#fece04"/><ellipse cx="1700.1" cy="611.2" rx="2.7" ry="2.7" fill="#fecd04"/><ellipse cx="1702.9" cy="610.2" rx="2.7" ry="2.7" fill="#fecd04"/><ellipse cx="1705.8" cy="609.2" rx="2.7" ry="2.7" fill="#fecd04"/><ellipse cx="1708.6" cy="608.3" rx="2.7" ry="2.7" fill="#fecc04"/><ellipse cx="1711.4" cy="607.3" rx="2.7" ry="2.7" fill="#fecc04"/><ellipse cx="1714.3" cy="606.3" rx="2.7" ry="2.7" fill="#fecc04"/><ellipse cx="1717.1" cy="605.3" rx="2.7" ry="2.7" fill="#fecb04"/><ellipse cx="1571.0" cy="652.0" rx="4.4" ry="2.2" fill="#fd9809"/><ellipse cx="1599.0" cy="643.8" rx="4.4" ry="2.2" fill="#fd9809"/><ellipse cx="1630.0" cy="634.2" rx="4.4" ry="2.2" fill="#fd9809"/><ellipse cx="1660.0" cy="624.2" rx="4.4" ry="2.2" fill="#fd9809"/><ellipse cx="1703.0" cy="609.2" rx="4.4" ry="2.2" fill="#fd9809"/><path d="M972.0 758.0 L980.0 758.0 L988.0 757.9 L996.0 757.9 L1004.0 757.8 L1012.0 757.8 L1020.0 757.7 L1028.0 757.7 L1036.0 757.6 L1044.0 757.5 L1052.0 757.2 L1060.0 756.9 L1068.0 756.6 L1076.0 756.3 L1084.0 756.1 L1092.0 756.0 L1100.0 755.9 L1108.0 755.7 L1116.0 755.6 L1124.0 755.4 L1132.0 755.3 L1140.0 755.2 L1148.0 755.0 L1156.0 754.9 L1164.0 754.8 L1172.0 754.7 L1180.0 754.6 L1188.0 754.5 L1196.0 754.4 L1204.0 754.3 L1212.0 754.2 L1220.0 754.1 L1228.0 754.0 L1236.0 753.9 L1244.0 753.8 L1252.0 753.7 L1260.0 753.6 L1268.0 753.5 L1276.0 753.4 L1284.0 753.3 L1292.0 753.2 L1300.0 753.1 L1308.0 753.0 L1316.0 752.9 L1324.0 752.7 L1332.0 752.6 L1340.0 752.5 L1348.0 752.4 L1356.0 752.3 L1364.0 752.1 L1372.0 752.0 L1380.0 751.8 L1388.0 751.6 L1396.0 751.5 L1404.0 751.3 L1412.0 751.2 L1420.0 751.0 L1428.0 750.8 L1436.0 750.7 L1444.0 750.5 L1452.0 750.4 L1460.0 750.2 L1468.0 750.0 L1476.0 749.9 L1484.0 749.7 L1492.0 749.6 L1500.0 749.4 L1508.0 749.2 L1516.0 749.1 L1524.0 748.9 L1532.0 748.8 L1540.0 748.6 L1548.0 748.4 L1556.0 748.3 L1564.0 748.2 L1572.0 748.1 L1580.0 748.0 L1588.0 747.9 L1596.0 747.8 L1604.0 747.7 L1612.0 747.7 L1620.0 747.6 L1628.0 747.5 L1636.0 747.4 L1644.0 747.3 L1652.0 747.2 L1660.0 747.2" fill="none" stroke="#ffec02" stroke-width="7.4" stroke-linecap="round"/><ellipse cx="1704.5" cy="744.5" rx="3.2" ry="1.6" fill="#fed504"/></g>
<g filter="url(#fb08)"><ellipse cx="1716.0" cy="230.0" rx="1.5" ry="0.6" fill="#fb3511"/><ellipse cx="1702.4" cy="243.8" rx="1.1" ry="0.4" fill="#fb3711"/><path d="M972.0 758.0 L980.0 758.0 L988.0 757.9 L996.0 757.9 L1004.0 757.8 L1012.0 757.8 L1020.0 757.7 L1028.0 757.7 L1036.0 757.6 L1044.0 757.5 L1052.0 757.2 L1060.0 756.9 L1068.0 756.6 L1076.0 756.3 L1084.0 756.1 L1092.0 756.0 L1100.0 755.9 L1108.0 755.7 L1116.0 755.6 L1124.0 755.4 L1132.0 755.3 L1140.0 755.2 L1148.0 755.0 L1156.0 754.9 L1164.0 754.8 L1172.0 754.7 L1180.0 754.6 L1188.0 754.5 L1196.0 754.4 L1204.0 754.3 L1212.0 754.2 L1220.0 754.1 L1228.0 754.0 L1236.0 753.9 L1244.0 753.8 L1252.0 753.7 L1260.0 753.6 L1268.0 753.5 L1276.0 753.4 L1284.0 753.3 L1292.0 753.2 L1300.0 753.1 L1308.0 753.0 L1316.0 752.9 L1324.0 752.7 L1332.0 752.6 L1340.0 752.5 L1348.0 752.4 L1356.0 752.3 L1364.0 752.1 L1372.0 752.0 L1380.0 751.8 L1388.0 751.6 L1396.0 751.5 L1404.0 751.3 L1412.0 751.2 L1420.0 751.0 L1428.0 750.8 L1436.0 750.7 L1444.0 750.5 L1452.0 750.4 L1460.0 750.2 L1468.0 750.0 L1476.0 749.9 L1484.0 749.7 L1492.0 749.6 L1500.0 749.4 L1508.0 749.2 L1516.0 749.1 L1524.0 748.9 L1532.0 748.8 L1540.0 748.6 L1548.0 748.4 L1556.0 748.3 L1564.0 748.2 L1572.0 748.1 L1580.0 748.0 L1588.0 747.9 L1596.0 747.8 L1604.0 747.7 L1612.0 747.7 L1620.0 747.6 L1628.0 747.5 L1636.0 747.4 L1644.0 747.3 L1652.0 747.2 L1660.0 747.2" fill="none" stroke="#fa1414" stroke-width="3.6" stroke-linecap="round"/></g>
<g fill="none" stroke="#5c5c66" stroke-width="2.6" stroke-dasharray="10 9"><path d="M1224.0 408.3 L1224.4 407.5 L1224.7 406.8 L1224.9 406.4 L1225.0 406.1 L1225.1 406.0 L1225.1 406.0 L1225.1 406.1 L1225.0 406.3 L1224.9 406.5 L1224.8 406.8 L1224.6 407.1 L1224.5 407.5 L1224.4 407.8 L1224.3 408.0 L1224.2 408.3 L1224.1 408.4 L1224.1 408.4 L1224.2 408.3 L1224.3 408.1 L1224.5 407.7 L1224.8 407.1 L1225.1 406.3 L1225.6 405.3 L1226.2 404.0 L1226.9 402.5 L1227.7 400.6 L1228.7 398.5 L1229.8 396.0 L1231.0 393.2 L1232.4 390.1 L1234.0 386.5 L1235.8 382.5 L1237.8 378.1 L1240.0 373.1 L1242.5 367.5 L1245.3 361.3 L1248.3 354.5 L1251.6 347.1 L1255.2 339.2 L1258.9 330.8 L1262.8 322.0 L1266.9 312.8 L1271.1 303.3 L1275.5 293.5 L1280.0 283.5 L1284.6 273.2 L1289.2 262.8 L1293.9 252.2 L1298.6 241.6 L1303.4 231.0 L1308.1 220.3 L1312.8 209.8 L1317.5 199.3 L1322.1 188.9 L1326.6 178.8 L1331.1 168.8 L1335.4 159.2 L1339.5 149.8 L1343.5 140.9 L1347.3 132.3 L1351.0 124.1 L1354.4 116.5 L1357.5 109.4 L1360.4 102.9 L1363.1 97.0 L1365.4 91.7 L1367.4 87.1 L1369.2 83.1 L1370.8 79.6 L1372.2 76.5 L1373.4 73.8 L1374.4 71.6 L1375.2 69.8 L1375.9 68.3 L1376.4 67.1 L1376.7 66.3 L1377.0 65.8 L1377.1 65.5 L1377.1 65.5 L1377.0 65.7 L1376.8 66.1 L1376.5 66.7 L1376.2 67.5 L1375.8 68.4 L1375.3 69.4 L1374.8 70.5 L1374.3 71.6 L1373.8 72.8 L1373.3 74.1 L1372.7 75.3 L1372.2 76.4 L1371.7 77.6 L1371.2 78.6 L1370.8 79.6 L1370.4 80.4 L1370.1 81.1 L1369.9 81.6 L1369.7 82.0 L1369.7 82.1 L1369.7 82.0"/><path d="M1224.0 459.6 L1224.8 458.0 L1225.6 456.4 L1226.4 455.0 L1227.1 453.6 L1227.8 452.2 L1228.5 451.0 L1229.1 449.8 L1229.7 448.6 L1230.3 447.5 L1230.9 446.4 L1231.4 445.3 L1232.0 444.3 L1232.5 443.3 L1233.0 442.3 L1233.5 441.3 L1234.0 440.4 L1234.5 439.4 L1235.0 438.5 L1235.5 437.5 L1236.0 436.5 L1236.5 435.5 L1237.1 434.5 L1237.6 433.5 L1238.2 432.4 L1238.7 431.3 L1239.3 430.1 L1240.0 428.9 L1240.6 427.7 L1241.3 426.4 L1242.0 425.0 L1242.8 423.6 L1243.6 422.0 L1244.4 420.5 L1245.2 418.8 L1246.2 417.0 L1247.1 415.2 L1248.1 413.2 L1249.2 411.1 L1250.3 409.0 L1251.5 406.7 L1252.7 404.3 L1254.0 401.8 L1255.4 399.1 L1256.8 396.3 L1258.3 393.4 L1259.9 390.3 L1261.6 387.1 L1263.3 383.7 L1265.1 380.2 L1267.0 376.5 L1269.0 372.6 L1271.1 368.6 L1273.2 364.4 L1275.5 360.0 L1277.8 355.5 L1280.2 350.8 L1282.6 346.0 L1285.1 341.1 L1287.7 336.1 L1290.4 330.9 L1293.1 325.6 L1295.9 320.2 L1298.7 314.6 L1301.6 309.0 L1304.5 303.3 L1307.5 297.4 L1310.5 291.5 L1313.6 285.5 L1316.7 279.5 L1319.9 273.3 L1323.0 267.1 L1326.3 260.8 L1329.5 254.5 L1332.8 248.1 L1336.1 241.7 L1339.4 235.2 L1342.7 228.7 L1346.1 222.1 L1349.4 215.6 L1352.8 209.0 L1356.2 202.3 L1359.6 195.7 L1363.0 189.1 L1366.4 182.5 L1369.8 175.8 L1373.1 169.2 L1376.5 162.6 L1379.9 156.0 L1383.3 149.5 L1386.6 142.9 L1389.9 136.4 L1393.2 130.0 L1396.5 123.6 L1399.8 117.2 L1403.0 110.9 L1406.2 104.7 L1409.3 98.5 L1412.5 92.4 L1415.6 86.4 L1418.1 81.4"/><path d="M1239.4 491.3 L1240.7 489.0 L1242.0 486.8 L1243.3 484.7 L1244.5 482.6 L1245.7 480.6 L1246.8 478.7 L1248.0 476.7 L1249.1 474.9 L1250.2 473.0 L1251.2 471.2 L1252.3 469.4 L1253.3 467.7 L1254.4 465.9 L1255.4 464.2 L1256.4 462.5 L1257.4 460.8 L1258.4 459.1 L1259.4 457.4 L1260.4 455.7 L1261.4 454.0 L1262.5 452.2 L1263.5 450.5 L1264.5 448.7 L1265.6 446.9 L1266.7 445.1 L1267.8 443.2 L1268.9 441.3 L1270.1 439.3 L1271.2 437.3 L1272.4 435.3 L1273.7 433.2 L1275.0 431.0 L1276.3 428.8 L1277.6 426.5 L1279.0 424.1 L1280.5 421.6 L1282.0 419.1 L1283.5 416.4 L1285.1 413.7 L1286.8 410.9 L1288.5 408.0 L1290.3 405.0 L1292.1 401.8 L1294.0 398.6 L1296.0 395.2 L1298.0 391.7 L1300.1 388.1 L1302.3 384.4 L1304.6 380.5 L1306.9 376.5 L1309.3 372.3 L1311.9 368.0 L1314.4 363.6 L1317.1 359.0 L1319.9 354.3 L1322.7 349.5 L1325.6 344.5 L1328.5 339.5 L1331.5 334.3 L1334.6 329.0 L1337.7 323.7 L1340.9 318.2 L1344.2 312.6 L1347.4 307.0 L1350.8 301.3 L1354.2 295.5 L1357.6 289.6 L1361.1 283.6 L1364.6 277.6 L1368.1 271.5 L1371.7 265.4 L1375.3 259.2 L1378.9 253.0 L1382.6 246.7 L1386.3 240.3 L1390.0 234.0 L1393.7 227.6 L1397.4 221.2 L1401.2 214.7 L1405.0 208.3 L1408.7 201.8 L1412.5 195.3 L1416.3 188.8 L1420.1 182.3 L1423.8 175.9 L1427.6 169.4 L1431.4 162.9 L1435.1 156.5 L1438.9 150.0 L1442.6 143.6 L1446.3 137.3 L1450.0 130.9 L1453.7 124.6 L1457.3 118.3 L1461.0 112.1 L1464.6 106.0 L1468.1 99.9 L1471.6 93.8 L1475.1 87.8 L1478.0 82.9"/><path d="M1233.4 549.5 L1235.9 546.1 L1238.3 542.7 L1240.7 539.3 L1243.1 536.0 L1245.5 532.7 L1247.8 529.5 L1250.2 526.3 L1252.5 523.1 L1254.7 520.0 L1257.0 516.8 L1259.2 513.7 L1261.5 510.6 L1263.7 507.6 L1265.9 504.5 L1268.1 501.4 L1270.3 498.4 L1272.6 495.3 L1274.8 492.3 L1277.0 489.2 L1279.2 486.1 L1281.4 483.1 L1283.7 480.0 L1285.9 476.9 L1288.2 473.7 L1290.4 470.6 L1292.7 467.4 L1295.0 464.2 L1297.4 461.0 L1299.7 457.7 L1302.1 454.4 L1304.5 451.1 L1306.9 447.7 L1309.4 444.3 L1311.9 440.8 L1314.5 437.3 L1317.0 433.8 L1319.6 430.1 L1322.3 426.4 L1325.0 422.7 L1327.8 418.9 L1330.6 415.0 L1333.4 411.0 L1336.3 407.0 L1339.3 402.9 L1342.3 398.7 L1345.4 394.5 L1348.5 390.1 L1351.7 385.7 L1355.0 381.1 L1358.3 376.5 L1361.7 371.8 L1365.2 366.9 L1368.7 362.0 L1372.3 357.0 L1376.0 351.9 L1379.7 346.7 L1383.5 341.4 L1387.4 336.1 L1391.3 330.7 L1395.2 325.2 L1399.2 319.6 L1403.3 314.0 L1407.3 308.3 L1411.5 302.6 L1415.6 296.8 L1419.8 290.9 L1424.1 285.0 L1428.4 279.1 L1432.7 273.1 L1437.0 267.0 L1441.4 261.0 L1445.8 254.9 L1450.2 248.7 L1454.6 242.5 L1459.1 236.3 L1463.6 230.1 L1468.1 223.8 L1472.6 217.6 L1477.1 211.3 L1481.6 205.0 L1486.1 198.7 L1490.7 192.4 L1495.2 186.1 L1499.7 179.8 L1504.3 173.4 L1508.8 167.1 L1513.3 160.8 L1517.9 154.5 L1522.4 148.3 L1526.9 142.0 L1531.4 135.8 L1535.8 129.6 L1540.3 123.4 L1544.7 117.2 L1549.1 111.1 L1553.5 105.0 L1557.8 98.9 L1562.2 92.9 L1566.4 86.9 L1570.0 82.0"/><path d="M1242.0 598.5 L1243.5 596.9 L1244.9 595.5 L1246.1 594.3 L1247.1 593.2 L1248.1 592.3 L1249.0 591.4 L1249.9 590.6 L1250.7 589.8 L1251.5 589.1 L1252.3 588.3 L1253.2 587.4 L1254.1 586.5 L1255.1 585.6 L1256.2 584.4 L1257.5 583.2 L1258.9 581.7 L1260.5 580.1 L1262.2 578.2 L1264.2 576.1 L1266.5 573.6 L1269.0 570.9 L1271.8 567.9 L1274.9 564.4 L1278.4 560.6 L1282.2 556.4 L1286.5 551.7 L1291.3 546.3 L1296.5 540.5 L1302.2 534.2 L1308.2 527.5 L1314.6 520.3 L1321.2 512.9 L1328.2 505.1 L1335.3 497.2 L1342.6 489.0 L1350.0 480.7 L1357.5 472.3 L1365.0 463.9 L1372.5 455.4 L1379.9 447.0 L1387.3 438.8 L1394.5 430.6 L1401.6 422.7 L1408.4 415.0 L1415.0 407.5 L1421.3 400.5 L1427.2 393.8 L1432.7 387.5 L1437.8 381.7 L1442.4 376.5 L1446.5 371.8 L1450.1 367.7 L1453.3 364.1 L1456.0 360.9 L1458.4 358.1 L1460.5 355.6 L1462.4 353.5 L1464.0 351.5 L1465.4 349.8 L1466.7 348.2 L1467.9 346.8 L1469.1 345.3 L1470.2 343.9 L1471.4 342.4 L1472.7 340.8 L1474.1 339.1 L1475.7 337.1 L1477.5 334.9 L1479.6 332.4 L1482.0 329.5 L1484.7 326.2 L1487.8 322.5 L1491.4 318.3 L1495.4 313.5 L1500.0 308.1 L1505.1 302.1 L1510.6 295.7 L1516.4 288.8 L1522.6 281.6 L1529.1 273.9 L1535.8 266.0 L1542.9 257.7 L1550.2 249.2 L1557.7 240.4 L1565.3 231.4 L1573.2 222.2 L1581.2 212.8 L1589.3 203.3 L1597.5 193.7 L1605.7 184.0 L1614.0 174.3 L1622.3 164.5 L1630.6 154.8 L1638.9 145.1 L1647.0 135.5 L1655.2 126.0 L1663.2 116.6 L1671.0 107.4 L1678.7 98.4 L1685.0 91.0"/><path d="M1253.9 630.4 L1258.6 627.1 L1263.2 623.9 L1267.7 620.8 L1272.3 617.7 L1276.7 614.6 L1281.2 611.6 L1285.7 608.6 L1290.1 605.7 L1294.5 602.8 L1298.9 599.9 L1303.3 597.0 L1307.7 594.1 L1312.1 591.2 L1316.5 588.3 L1321.0 585.3 L1325.4 582.4 L1329.9 579.4 L1334.4 576.3 L1338.9 573.2 L1343.5 570.1 L1348.1 566.9 L1352.7 563.6 L1357.4 560.3 L1362.1 556.9 L1366.9 553.4 L1371.8 549.8 L1376.7 546.1 L1381.7 542.3 L1386.8 538.4 L1391.9 534.3 L1397.1 530.2 L1402.5 525.9 L1407.9 521.4 L1413.4 516.8 L1419.1 512.0 L1425.0 506.9 L1431.1 501.7 L1437.3 496.3 L1443.6 490.7 L1450.1 484.9 L1456.6 479.0 L1463.3 473.0 L1470.1 466.9 L1476.9 460.7 L1483.7 454.4 L1490.7 448.0 L1497.6 441.6 L1504.6 435.1 L1511.5 428.7 L1518.5 422.2 L1525.4 415.7 L1532.3 409.2 L1539.1 402.8 L1545.8 396.4 L1552.5 390.1 L1559.1 383.9 L1565.6 377.7 L1572.0 371.7 L1578.2 365.8 L1584.3 360.0 L1590.2 354.3 L1595.9 348.9 L1601.5 343.6 L1606.8 338.5 L1612.0 333.6 L1616.9 329.0 L1621.5 324.5 L1626.0 320.3 L1630.3 316.2 L1634.4 312.3 L1638.3 308.5 L1642.1 304.8 L1645.7 301.3 L1649.2 297.9 L1652.5 294.6 L1655.7 291.5 L1658.8 288.4 L1661.8 285.4 L1664.7 282.5 L1667.5 279.7 L1670.2 277.0 L1672.8 274.3 L1675.4 271.7 L1677.9 269.1 L1680.4 266.5 L1682.8 264.0 L1685.2 261.5 L1687.6 259.0 L1690.0 256.6 L1692.4 254.1 L1694.8 251.6 L1697.2 249.1 L1699.7 246.6 L1702.2 244.0 L1704.7 241.4 L1707.3 238.8 L1710.0 236.1 L1712.7 233.3 L1715.6 230.4 L1718.0 228.0"/><path d="M1249.0 682.0 L1252.8 680.4 L1256.6 678.8 L1260.3 677.2 L1264.0 675.7 L1267.7 674.2 L1271.4 672.7 L1275.0 671.2 L1278.6 669.7 L1282.2 668.3 L1285.8 666.9 L1289.4 665.5 L1292.9 664.1 L1296.5 662.7 L1300.0 661.3 L1303.6 659.9 L1307.1 658.5 L1310.6 657.2 L1314.2 655.8 L1317.7 654.4 L1321.2 653.0 L1324.8 651.7 L1328.4 650.3 L1331.9 648.9 L1335.5 647.4 L1339.1 646.0 L1342.7 644.6 L1346.3 643.1 L1350.0 641.6 L1353.7 640.1 L1357.4 638.6 L1361.1 637.0 L1364.9 635.4 L1368.7 633.8 L1372.5 632.2 L1376.3 630.5 L1380.2 628.8 L1384.2 627.0 L1388.2 625.2 L1392.2 623.4 L1396.3 621.5 L1400.4 619.6 L1404.6 617.6 L1408.8 615.6 L1413.1 613.6 L1417.4 611.4 L1421.8 609.3 L1426.2 607.0 L1430.8 604.8 L1435.3 602.4 L1440.0 600.0 L1444.7 597.5 L1449.5 595.0 L1454.4 592.4 L1459.3 589.7 L1464.3 587.0 L1469.4 584.2 L1474.5 581.4 L1479.7 578.5 L1484.9 575.6 L1490.1 572.6 L1495.5 569.6 L1500.8 566.5 L1506.2 563.4 L1511.7 560.3 L1517.2 557.1 L1522.7 553.9 L1528.3 550.7 L1533.9 547.4 L1539.5 544.1 L1545.2 540.7 L1550.8 537.4 L1556.6 534.0 L1562.3 530.6 L1568.0 527.2 L1573.8 523.7 L1579.6 520.3 L1585.4 516.8 L1591.3 513.3 L1597.1 509.8 L1602.9 506.3 L1608.8 502.8 L1614.6 499.3 L1620.5 495.7 L1626.4 492.2 L1632.2 488.7 L1638.1 485.2 L1643.9 481.7 L1649.7 478.2 L1655.6 474.7 L1661.4 471.2 L1667.2 467.7 L1673.0 464.3 L1678.7 460.9 L1684.5 457.4 L1690.2 454.1 L1695.9 450.7 L1701.6 447.3 L1707.2 444.0 L1712.8 440.7 L1717.5 438.0"/><path d="M1472.0 587.0 L1474.4 585.9 L1476.9 584.7 L1479.3 583.6 L1481.8 582.4 L1484.2 581.3 L1486.7 580.1 L1489.1 579.0 L1491.6 577.9 L1494.0 576.7 L1496.4 575.6 L1498.9 574.4 L1501.3 573.3 L1503.8 572.2 L1506.2 571.0 L1508.7 569.9 L1511.1 568.7 L1513.5 567.6 L1516.0 566.4 L1518.4 565.3 L1520.9 564.2 L1523.3 563.0 L1525.8 561.9 L1528.2 560.7 L1530.7 559.6 L1533.1 558.5 L1535.5 557.3 L1538.0 556.2 L1540.4 555.0 L1542.9 553.9 L1545.3 552.7 L1547.8 551.6 L1550.2 550.5 L1552.7 549.3 L1555.1 548.2 L1557.5 547.0 L1560.0 545.9 L1562.4 544.7 L1564.9 543.6 L1567.3 542.5 L1569.8 541.3 L1572.2 540.2 L1574.7 539.0 L1577.1 537.9 L1579.5 536.8 L1582.0 535.6 L1584.4 534.5 L1586.9 533.3 L1589.3 532.2 L1591.8 531.0 L1594.2 529.9 L1596.6 528.8 L1599.1 527.6 L1601.5 526.5 L1604.0 525.3 L1606.4 524.2 L1608.9 523.1 L1611.3 521.9 L1613.8 520.8 L1616.2 519.6 L1618.6 518.5 L1621.1 517.3 L1623.5 516.2 L1626.0 515.1 L1628.4 513.9 L1630.9 512.8 L1633.3 511.6 L1635.8 510.5 L1638.2 509.4 L1640.6 508.2 L1643.1 507.1 L1645.5 505.9 L1648.0 504.8 L1650.4 503.6 L1652.9 502.5 L1655.3 501.4 L1657.7 500.2 L1660.2 499.1 L1662.6 497.9 L1665.1 496.8 L1667.5 495.6 L1670.0 494.5 L1672.4 493.4 L1674.9 492.2 L1677.3 491.1 L1679.7 489.9 L1682.2 488.8 L1684.6 487.7 L1687.1 486.5 L1689.5 485.4 L1692.0 484.2 L1694.4 483.1 L1696.9 481.9 L1699.3 480.8 L1701.7 479.7 L1704.2 478.5 L1706.6 477.4 L1709.1 476.2 L1711.5 475.1 L1714.0 474.0 L1716.0 473.0"/><path d="M1465.7 555.9 L1468.2 554.4 L1470.8 553.0 L1473.3 551.5 L1475.8 550.1 L1478.3 548.6 L1480.9 547.2 L1483.4 545.7 L1485.9 544.3 L1488.4 542.8 L1491.0 541.4 L1493.5 539.9 L1496.0 538.5 L1498.6 537.0 L1501.1 535.6 L1503.6 534.1 L1506.1 532.7 L1508.7 531.2 L1511.2 529.8 L1513.7 528.3 L1516.2 526.9 L1518.8 525.4 L1521.3 524.0 L1523.8 522.5 L1526.4 521.1 L1528.9 519.6 L1531.4 518.2 L1533.9 516.7 L1536.5 515.3 L1539.0 513.8 L1541.5 512.4 L1544.0 510.9 L1546.6 509.5 L1549.1 508.0 L1551.6 506.6 L1554.2 505.1 L1556.7 503.6 L1559.2 502.2 L1561.7 500.7 L1564.3 499.3 L1566.8 497.8 L1569.3 496.4 L1571.8 494.9 L1574.4 493.5 L1576.9 492.0 L1579.4 490.6 L1582.0 489.1 L1584.5 487.7 L1587.0 486.2 L1589.5 484.8 L1592.1 483.3 L1594.6 481.9 L1597.1 480.4 L1599.6 479.0 L1602.2 477.5 L1604.7 476.1 L1607.2 474.6 L1609.8 473.2 L1612.3 471.7 L1614.8 470.3 L1617.3 468.8 L1619.9 467.4 L1622.4 465.9 L1624.9 464.5 L1627.4 463.0 L1630.0 461.6 L1632.5 460.1 L1635.0 458.7 L1637.6 457.2 L1640.1 455.8 L1642.6 454.3 L1645.1 452.8 L1647.7 451.4 L1650.2 449.9 L1652.7 448.5 L1655.2 447.0 L1657.8 445.6 L1660.3 444.1 L1662.8 442.7 L1665.3 441.2 L1667.9 439.8 L1670.4 438.3 L1672.9 436.9 L1675.5 435.4 L1678.0 434.0 L1680.5 432.5 L1683.0 431.1 L1685.6 429.6 L1688.1 428.2 L1690.6 426.7 L1693.1 425.3 L1695.7 423.8 L1698.2 422.4 L1700.7 420.9 L1703.3 419.5 L1705.8 418.0 L1708.3 416.6 L1710.8 415.1 L1713.4 413.7 L1715.9 412.2 L1718.0 411.0"/><path d="M1293.0 711.7 L1296.5 711.1 L1299.9 710.6 L1303.2 710.1 L1306.6 709.6 L1310.0 709.1 L1313.3 708.6 L1316.7 708.1 L1320.0 707.5 L1323.4 707.0 L1326.8 706.5 L1330.3 705.9 L1333.7 705.4 L1337.3 704.8 L1340.9 704.1 L1344.6 703.5 L1348.3 702.8 L1352.2 702.0 L1356.1 701.3 L1360.2 700.4 L1364.2 699.6 L1368.4 698.7 L1372.6 697.8 L1376.9 696.8 L1381.2 695.9 L1385.5 694.9 L1389.9 693.9 L1394.3 692.9 L1398.7 691.9 L1403.0 691.0 L1407.4 690.0 L1411.8 689.0 L1416.1 688.1 L1420.4 687.2 L1424.6 686.3 L1428.9 685.4 L1433.2 684.6 L1437.4 683.8 L1441.7 682.9 L1445.9 682.1 L1450.2 681.3 L1454.5 680.5 L1458.7 679.7 L1463.0 678.8 L1467.2 678.0 L1471.5 677.2 L1475.8 676.3 L1480.0 675.5 L1484.3 674.6 L1488.5 673.6 L1492.8 672.7 L1497.1 671.7 L1501.3 670.8 L1505.6 669.8 L1509.8 668.8 L1514.1 667.8 L1518.3 666.7 L1522.6 665.7 L1526.8 664.6 L1531.1 663.6 L1535.3 662.5 L1539.6 661.4 L1543.9 660.3 L1548.1 659.2 L1552.4 658.1 L1556.6 656.9 L1560.9 655.8 L1565.1 654.6 L1569.3 653.4 L1573.5 652.3 L1577.7 651.1 L1581.8 649.9 L1586.0 648.7 L1590.1 647.5 L1594.2 646.3 L1598.4 645.0 L1602.5 643.8 L1606.7 642.5 L1611.0 641.2 L1615.3 639.9 L1619.6 638.5 L1624.0 637.1 L1628.5 635.7 L1633.1 634.2 L1637.7 632.7 L1642.5 631.1 L1647.4 629.5 L1652.3 627.8 L1657.3 626.1 L1662.3 624.4 L1667.4 622.6 L1672.5 620.9 L1677.7 619.1 L1682.8 617.3 L1688.0 615.4 L1693.2 613.6 L1698.4 611.8 L1703.5 610.0 L1708.7 608.2 L1713.8 606.5 L1718.0 605.0"/></g>
</g>
<rect x="982.0" y="82.3" width="736.5" height="755.7" fill="none" stroke="#000" stroke-width="2"/>
<path d="M982.0 801.6h-7 M982.0 728.9h-14 M982.0 656.2h-7 M982.0 583.5h-14 M982.0 510.8h-7 M982.0 438.1h-14 M982.0 365.3h-7 M982.0 292.6h-14 M982.0 219.9h-7 M982.0 147.2h-14 M981.9 838.0v15.5 M1055.5 838.0v8.5 M1129.2 838.0v15.5 M1202.8 838.0v8.5 M1276.5 838.0v15.5 M1350.2 838.0v8.5 M1423.8 838.0v15.5 M1497.5 838.0v8.5 M1571.1 838.0v15.5 M1644.8 838.0v8.5 M1718.4 838.0v15.5" stroke="#000" stroke-width="2" fill="none" />
<text transform="translate(901.35,155.70) scale(0.9802,1)" font-family="'Liberation Sans', sans-serif" font-size="33.26" fill="#000" >160</text>
<text transform="translate(901.35,301.80) scale(0.9802,1)" font-family="'Liberation Sans', sans-serif" font-size="33.26" fill="#000" >140</text>
<text transform="translate(901.35,446.70) scale(0.9802,1)" font-family="'Liberation Sans', sans-serif" font-size="33.26" fill="#000" >120</text>
<text transform="translate(901.35,592.30) scale(0.9888,1)" font-family="'Liberation Sans', sans-serif" font-size="32.97" fill="#000" >100</text>
<text transform="translate(919.20,737.60) scale(0.9938,1)" font-family="'Liberation Sans', sans-serif" font-size="33.12" fill="#000" >80</text>
<text transform="translate(971.67,889.10) scale(1.0712,1)" font-family="'Liberation Sans', sans-serif" font-size="32.26" fill="#000" >0</text>
<text transform="translate(1122.06,889.10) scale(0.8243,1)" font-family="'Liberation Sans', sans-serif" font-size="32.26" fill="#000" >1</text>
<text transform="translate(1265.54,889.10) scale(1.1242,1)" font-family="'Liberation Sans', sans-serif" font-size="32.26" fill="#000" >2</text>
<text transform="translate(1413.45,889.10) scale(1.0768,1)" font-family="'Liberation Sans', sans-serif" font-size="32.26" fill="#000" >3</text>
<text transform="translate(1561.01,889.10) scale(1.0129,1)" font-family="'Liberation Sans', sans-serif" font-size="32.26" fill="#000" >4</text>
<text transform="translate(1707.86,889.10) scale(1.0768,1)" font-family="'Liberation Sans', sans-serif" font-size="32.26" fill="#000" >5</text>
<text transform="translate(1314.11,935.80) scale(1.0076,1)" font-family="'Liberation Sans', sans-serif" font-size="36.07" fill="#000" font-style="italic" >B</text>
<text transform="translate(1344.94,935.80) scale(0.9270,1)" font-family="'Liberation Sans', sans-serif" font-size="35.49" fill="#000" >(T)</text>
<text transform="translate(876.00,497.43) rotate(-90) scale(0.9141,1)" font-family="'Liberation Sans', sans-serif" font-size="36.22" fill="#000" >E (meV)</text>
<text transform="translate(1480.06,951.80) scale(0.9490,1)" font-family="'Liberation Sans', sans-serif" font-size="35.05" fill="#000" >P(B)/P(0)(100%)</text>
<text transform="translate(1350.97,70.80) scale(1.0235,1)" font-family="'Liberation Sans', sans-serif" font-size="35.93" fill="#e8000c" >H</text>
<text transform="translate(1401.02,70.80) scale(0.9342,1)" font-family="'Liberation Sans', sans-serif" font-size="35.93" fill="#e8000c" >G</text>
<text transform="translate(1463.71,70.80) scale(0.9421,1)" font-family="'Liberation Sans', sans-serif" font-size="35.93" fill="#e8000c" >F</text>
<text transform="translate(1551.92,70.80) scale(0.9389,1)" font-family="'Liberation Sans', sans-serif" font-size="35.93" fill="#e8000c" >E</text>
<text transform="translate(1685.30,70.80) scale(0.9114,1)" font-family="'Liberation Sans', sans-serif" font-size="35.93" fill="#e8000c" >D</text>
<text transform="translate(1735.14,241.00) scale(0.9138,1)" font-family="'Liberation Sans', sans-serif" font-size="36.36" fill="#e8000c" >C</text>
<text transform="translate(1731.06,446.80) scale(0.9891,1)" font-family="'Liberation Sans', sans-serif" font-size="36.07" fill="#e8000c" >B</text>
<text transform="translate(1731.82,599.90) scale(0.9285,1)" font-family="'Liberation Sans', sans-serif" font-size="35.93" fill="#e8000c" >A</text>
<text transform="translate(788.08,768.00) scale(0.9179,1)" font-family="'Liberation Sans', sans-serif" font-size="32.00" fill="#e8000c" >Exciton 2p</text>
<text transform="translate(789.97,845.00) scale(0.9470,1)" font-family="'Liberation Sans', sans-serif" font-size="31.13" fill="#e8000c" >Exciton 1s</text>
<path d="M976.0 758.2 L948.5 764.5" stroke="#e8000c" stroke-width="4.2" fill="none" />
<path d="M938.8 766.8 L950.0 757.5 L948.1 764.7 L952.9 770.2 Z" fill="#e8000c"/>
<path d="M972.2 822.0 L944.7 829.6" stroke="#e8000c" stroke-width="4.2" fill="none" />
<path d="M935.1 832.3 L945.9 822.6 L944.3 829.8 L949.4 835.1 Z" fill="#e8000c"/>
<linearGradient id="cbar" x1="0" y1="1" x2="0" y2="0"><stop offset="0" stop-color="#0000f0"/><stop offset="0.125" stop-color="#0080ff"/><stop offset="0.25" stop-color="#00f8ff"/><stop offset="0.375" stop-color="#00f890"/><stop offset="0.5" stop-color="#00ec00"/><stop offset="0.625" stop-color="#90ff00"/><stop offset="0.75" stop-color="#ffff00"/><stop offset="0.875" stop-color="#ff8c00"/><stop offset="1" stop-color="#f81818"/></linearGradient>
<rect x="1733.3" y="688.3" width="42.2" height="279" fill="url(#cbar)"/>
<text transform="translate(1786.76,694.10) scale(1.1124,1)" font-family="'Liberation Sans', sans-serif" font-size="18.49" fill="#000" >1.00</text>
<text transform="translate(1785.35,762.80) scale(1.1192,1)" font-family="'Liberation Sans', sans-serif" font-size="19.07" fill="#000" >0.75</text>
<text transform="translate(1785.35,832.00) scale(1.1209,1)" font-family="'Liberation Sans', sans-serif" font-size="19.07" fill="#000" >0.5</text>
<text transform="translate(1785.35,901.20) scale(1.1192,1)" font-family="'Liberation Sans', sans-serif" font-size="19.07" fill="#000" >0.25</text>
<text transform="translate(1786.16,969.80) scale(1.1502,1)" font-family="'Liberation Sans', sans-serif" font-size="18.21" fill="#000" >0</text>
<linearGradient id="gold" x1="0" y1="0" x2="1" y2="0"><stop offset="0" stop-color="#bda35f"/><stop offset="0.3" stop-color="#bfa45f"/><stop offset="0.47" stop-color="#b59a56"/><stop offset="0.53" stop-color="#a4884c"/><stop offset="0.8" stop-color="#a08548"/><stop offset="1" stop-color="#b09560"/></linearGradient>
<linearGradient id="goldv" x1="0" y1="0" x2="0" y2="1"><stop offset="0" stop-color="#fff" stop-opacity="0"/><stop offset="0.75" stop-color="#fff" stop-opacity="0"/><stop offset="1" stop-color="#6a5a30" stop-opacity="0.25"/></linearGradient>
<path d="M73.00 117.50 C77.33 117.23 89.50 116.27 99.00 115.90 C108.50 115.53 120.57 115.42 130.00 115.30 C139.43 115.18 145.60 115.15 155.60 115.20 C165.60 115.25 178.43 115.42 190.00 115.60 C201.57 115.78 214.37 115.98 225.00 116.30 C235.63 116.62 251.00 114.43 253.80 117.50 C256.60 120.57 246.27 128.42 241.80 134.70 C237.33 140.98 231.75 148.37 227.00 155.20 C222.25 162.03 217.48 169.43 213.30 175.70 C209.12 181.97 204.93 188.62 201.90 192.80 C198.87 196.98 197.00 199.27 195.10 200.80 C193.20 202.33 192.22 202.18 190.50 202.00 C188.78 201.82 186.32 200.47 184.80 199.70 C183.28 198.93 182.73 197.78 181.40 197.40 C180.07 197.02 179.08 197.02 176.80 197.40 C174.52 197.78 170.55 198.55 167.70 199.70 C164.85 200.85 161.98 202.97 159.70 204.30 C157.42 205.63 155.90 206.75 154.00 207.70 C152.10 208.65 150.02 209.72 148.30 210.00 C146.58 210.28 145.42 209.98 143.70 209.40 C141.98 208.82 140.47 208.12 138.00 206.50 C135.53 204.88 131.57 201.78 128.90 199.70 C126.23 197.62 124.28 195.33 122.00 194.00 C119.72 192.67 117.67 193.42 115.20 191.70 C112.73 189.98 109.87 186.93 107.20 183.70 C104.53 180.47 101.67 176.48 99.20 172.30 C96.73 168.12 94.68 163.35 92.40 158.60 C90.12 153.85 87.78 148.73 85.50 143.80 C83.22 138.87 80.78 133.38 78.70 129.00 C76.62 124.62 73.95 119.42 73.00 117.50 Z" stroke="none" stroke-width="0" fill="url(#gold)" />
<path d="M73.00 117.50 C77.33 117.23 89.50 116.27 99.00 115.90 C108.50 115.53 120.57 115.42 130.00 115.30 C139.43 115.18 145.60 115.15 155.60 115.20 C165.60 115.25 178.43 115.42 190.00 115.60 C201.57 115.78 214.37 115.98 225.00 116.30 C235.63 116.62 251.00 114.43 253.80 117.50 C256.60 120.57 246.27 128.42 241.80 134.70 C237.33 140.98 231.75 148.37 227.00 155.20 C222.25 162.03 217.48 169.43 213.30 175.70 C209.12 181.97 204.93 188.62 201.90 192.80 C198.87 196.98 197.00 199.27 195.10 200.80 C193.20 202.33 192.22 202.18 190.50 202.00 C188.78 201.82 186.32 200.47 184.80 199.70 C183.28 198.93 182.73 197.78 181.40 197.40 C180.07 197.02 179.08 197.02 176.80 197.40 C174.52 197.78 170.55 198.55 167.70 199.70 C164.85 200.85 161.98 202.97 159.70 204.30 C157.42 205.63 155.90 206.75 154.00 207.70 C152.10 208.65 150.02 209.72 148.30 210.00 C146.58 210.28 145.42 209.98 143.70 209.40 C141.98 208.82 140.47 208.12 138.00 206.50 C135.53 204.88 131.57 201.78 128.90 199.70 C126.23 197.62 124.28 195.33 122.00 194.00 C119.72 192.67 117.67 193.42 115.20 191.70 C112.73 189.98 109.87 186.93 107.20 183.70 C104.53 180.47 101.67 176.48 99.20 172.30 C96.73 168.12 94.68 163.35 92.40 158.60 C90.12 153.85 87.78 148.73 85.50 143.80 C83.22 138.87 80.78 133.38 78.70 129.00 C76.62 124.62 73.95 119.42 73.00 117.50 Z" stroke="none" stroke-width="0" fill="url(#goldv)" />
<path d="M74 117.6 Q155 113.2 253 117.6" stroke="#8f7a4c" stroke-width="1.2" fill="none" />
<path d="M76 118.8 Q155 115 251 118.8" stroke="#d9c9a0" stroke-width="1.0" fill="none" opacity="0.7"/>
<linearGradient id="blu" x1="0" y1="0" x2="0" y2="1"><stop offset="0" stop-color="#2f6fcf"/><stop offset="0.35" stop-color="#3a82dc"/><stop offset="1" stop-color="#3f86de"/></linearGradient>
<path d="M132.90 234.00 C134.27 234.10 138.35 233.92 141.10 234.60 C143.85 235.28 146.87 237.07 149.40 238.10 C151.93 239.13 153.55 240.12 156.30 240.80 C159.05 241.48 162.23 242.08 165.90 242.20 C169.57 242.32 175.08 241.95 178.30 241.50 C181.52 241.05 183.13 239.72 185.20 239.50 C187.27 239.28 189.08 239.17 190.70 240.20 C192.32 241.23 193.28 242.95 194.90 245.70 C196.52 248.45 198.10 252.57 200.40 256.70 C202.70 260.83 205.25 265.68 208.70 270.50 C212.15 275.32 216.97 280.78 221.10 285.60 C225.23 290.42 230.40 295.48 233.50 299.40 C236.60 303.32 238.55 306.33 239.70 309.10 C240.85 311.87 240.98 313.72 240.40 316.00 C239.82 318.28 238.50 320.52 236.20 322.80 C233.90 325.08 230.97 326.93 226.60 329.70 C222.23 332.47 215.75 336.18 210.00 339.40 C204.25 342.62 198.07 346.02 192.10 349.00 C186.13 351.98 179.93 355.23 174.20 357.30 C168.47 359.37 163.22 360.60 157.70 361.40 C152.18 362.20 146.38 362.43 141.10 362.10 C135.82 361.77 131.05 360.88 126.00 359.40 C120.95 357.92 115.40 356.08 110.80 353.20 C106.20 350.32 101.62 346.02 98.40 342.10 C95.18 338.18 93.57 333.60 91.50 329.70 C89.43 325.80 87.37 322.83 86.00 318.70 C84.63 314.57 83.30 308.80 83.30 304.90 C83.30 301.00 83.93 299.88 86.00 295.30 C88.07 290.72 92.25 283.15 95.70 277.40 C99.15 271.65 102.80 266.08 106.70 260.80 C110.60 255.52 115.65 249.60 119.10 245.70 C122.55 241.80 125.10 239.35 127.40 237.40 C129.70 235.45 131.98 234.57 132.90 234.00 Z" stroke="none" stroke-width="0" fill="url(#blu)" />
<clipPath id="blueclip"><path d="M132.90 234.00 C134.27 234.10 138.35 233.92 141.10 234.60 C143.85 235.28 146.87 237.07 149.40 238.10 C151.93 239.13 153.55 240.12 156.30 240.80 C159.05 241.48 162.23 242.08 165.90 242.20 C169.57 242.32 175.08 241.95 178.30 241.50 C181.52 241.05 183.13 239.72 185.20 239.50 C187.27 239.28 189.08 239.17 190.70 240.20 C192.32 241.23 193.28 242.95 194.90 245.70 C196.52 248.45 198.10 252.57 200.40 256.70 C202.70 260.83 205.25 265.68 208.70 270.50 C212.15 275.32 216.97 280.78 221.10 285.60 C225.23 290.42 230.40 295.48 233.50 299.40 C236.60 303.32 238.55 306.33 239.70 309.10 C240.85 311.87 240.98 313.72 240.40 316.00 C239.82 318.28 238.50 320.52 236.20 322.80 C233.90 325.08 230.97 326.93 226.60 329.70 C222.23 332.47 215.75 336.18 210.00 339.40 C204.25 342.62 198.07 346.02 192.10 349.00 C186.13 351.98 179.93 355.23 174.20 357.30 C168.47 359.37 163.22 360.60 157.70 361.40 C152.18 362.20 146.38 362.43 141.10 362.10 C135.82 361.77 131.05 360.88 126.00 359.40 C120.95 357.92 115.40 356.08 110.80 353.20 C106.20 350.32 101.62 346.02 98.40 342.10 C95.18 338.18 93.57 333.60 91.50 329.70 C89.43 325.80 87.37 322.83 86.00 318.70 C84.63 314.57 83.30 308.80 83.30 304.90 C83.30 301.00 83.93 299.88 86.00 295.30 C88.07 290.72 92.25 283.15 95.70 277.40 C99.15 271.65 102.80 266.08 106.70 260.80 C110.60 255.52 115.65 249.60 119.10 245.70 C122.55 241.80 125.10 239.35 127.40 237.40 C129.70 235.45 131.98 234.57 132.90 234.00 Z"/></clipPath>
<linearGradient id="blo" x1="0" y1="0" x2="1" y2="0"><stop offset="0" stop-color="#5b95e0"/><stop offset="0.25" stop-color="#6ea4ec"/><stop offset="0.45" stop-color="#6496dc"/><stop offset="0.7" stop-color="#5d84c4"/><stop offset="1" stop-color="#5a80c2"/></linearGradient>
<path clip-path="url(#blueclip)" d="M80 296 C95 290 110 285 122 284.5 C140 284 160 287 200 292.5 C220 296 235 304 245 312 L245 370 L80 370 Z" fill="url(#blo)"/>
<g clip-path="url(#blueclip)"><path d="M120 250 C128 240 140 238 150 246 C160 252 172 250 184 244 C190 242 196 250 200 262 L210 280 L100 280 Z" fill="#2a66c4" opacity="0.35"/><path d="M116 262 C124 252 134 250 142 258" stroke="#9cc0ee" stroke-width="1.6" fill="none" opacity="0.45"/><path d="M164 266 C172 258 182 256 190 264" stroke="#9cc0ee" stroke-width="1.6" fill="none" opacity="0.45"/><path d="M160 276 C170 270 182 270 194 276" stroke="#b8d2f2" stroke-width="1.4" fill="none" opacity="0.4"/><rect x="118" y="286" width="8" height="75" fill="#8bb9f2" opacity="0.35"/><rect x="184" y="290" width="5" height="60" fill="#8aa8d8" opacity="0.3"/></g>
<path d="M155.6 87.5 V115" stroke="#222" stroke-width="2.1" fill="none" stroke-dasharray="5.3 3.6"/>
<path d="M155.6 116 V207" stroke="#9c8c78" stroke-width="1.4" fill="none" opacity="0.8"/>
<path d="M155.6 209 V234" stroke="#222" stroke-width="2.1" fill="none" stroke-dasharray="5.3 3.6"/>
<path d="M155.6 236 V360" stroke="#1f3f7a" stroke-width="1.6" fill="none" stroke-dasharray="5.3 3.6" opacity="0.75"/>
<path d="M155.6 362 V380" stroke="#333" stroke-width="2.1" fill="none" stroke-dasharray="5.3 3.6"/>
<path d="M193 201.6 H227.5" stroke="#777" stroke-width="1.6" fill="none" stroke-dasharray="2.2 2.4"/>
<path d="M193 238.7 H227.5" stroke="#777" stroke-width="1.6" fill="none" stroke-dasharray="2.2 2.4"/>
<text transform="translate(205.09,229.20) scale(1.1220,1)" font-family="'Liberation Serif', serif" font-size="21.52" fill="#000" >Δ</text>
<text transform="translate(167.44,94.20) scale(0.9420,1)" font-family="'Liberation Sans', sans-serif" font-size="31.71" fill="#e8000c" >K</text>
<path d="M68.7 392.5 L68.7 275.4" stroke="#000" stroke-width="2.4" fill="none" />
<path d="M68.7 266.4 L73.6 277.4 L63.8 277.4 Z" fill="#000"/>
<path d="M68.7 391.8 L131.8 410.9" stroke="#000" stroke-width="2.4" fill="none" />
<path d="M140.9 413.7 L128.4 415.1 L131.3 405.6 Z" fill="#000"/>
<path d="M68.7 391.8 L40.6 425.4" stroke="#000" stroke-width="2.4" fill="none" />
<path d="M34.5 432.7 L38.0 420.7 L45.7 427.1 Z" fill="#000"/>
<text transform="translate(37.78,298.70) scale(0.9857,1)" font-family="'Liberation Sans', sans-serif" font-size="24.87" fill="#000" >E</text>
<text transform="translate(106.96,387.10) scale(0.9724,1)" font-family="'Liberation Sans', sans-serif" font-size="24.97" fill="#000" >k</text>
<text transform="translate(118.66,395.40) scale(0.9298,1)" font-family="'Liberation Sans', sans-serif" font-size="19.34" fill="#000" >y</text>
<text transform="translate(52.88,441.20) scale(1.0195,1)" font-family="'Liberation Sans', sans-serif" font-size="23.59" fill="#000" >k</text>
<text transform="translate(64.66,450.70) scale(0.9717,1)" font-family="'Liberation Sans', sans-serif" font-size="19.72" fill="#000" >x</text>
</svg></body></html>
